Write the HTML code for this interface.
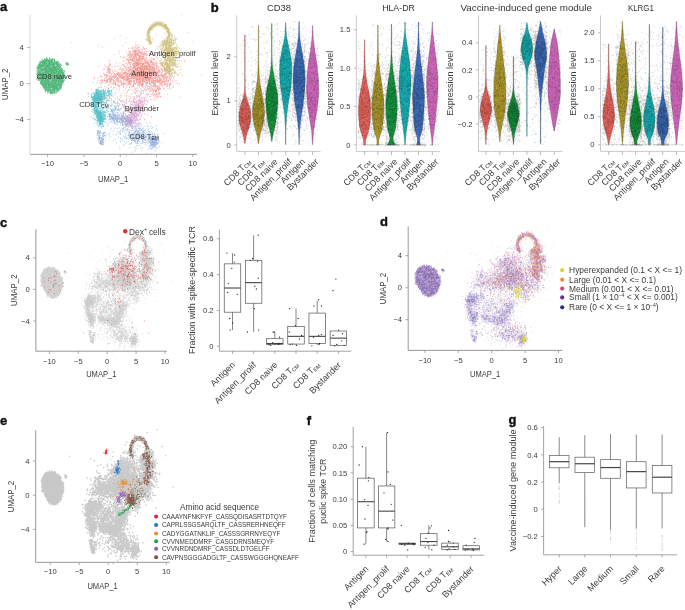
<!DOCTYPE html>
<html><head><meta charset="utf-8"><style>html,body{margin:0;padding:0;background:#fff;width:685px;height:610px;overflow:hidden}svg{display:block;will-change:transform}</style></head>
<body><svg width="685" height="610" viewBox="0 0 685 610" font-family='"Liberation Sans", sans-serif'><defs><path id="u_tem" d="M-46 66h0m168 54h0m-4 26h0m-16-21h0m-23-12h0m-10 22h0m-2-39h0m-2-5h0m-15 58h0m-2-2h0m-4-36h0m-12 14h0m-2 15h0m-2-22h0m-6 12h0m-2-10h0m-2-25h0m0 24h0m-3-3h0m-1-10h0m-1 28h0m-2-32h0m-4-8h0m-4 44h0m-8-14h0m-1 20h0m-1-57h0m0 23h0m-3 35h0m-1-20h0m0 4h0m-1 16h0m-1-6h0m-1 8h0m-1-5h0m0-35h0m-4-8h0m-1-9h0m-1 58h0m0-35h0m-2 36h0m-3-6h0m-4-2h0m0-11h0m0 7h0m-5 10h0m0-6h0m0-1h0m-2-8h0m-1-9h0m-7 25h0m-1 1h0m-2-8h0m-5-1h0m-3-23h0m-2 11h0m-12 9h0m-12-2h0m-2 5h0m-5-11h0m-3-3h0m-1 9h0m-2 7h0m-19-7h0m-17-25h0m-2 10h0m15 36h0m3 15h0m11-17h0m2 43h0m13-13h0m8-14h0m3 38h0m0-9h0m2-5h0m1-11h0m1-8h0m0-9h0m1 15h0m0-4h0m0-2h0m1-3h0m0 12h0m0 16h0m0-32h0m1 20h0m1 0h0m0 2h0m0 26h0m1-40h0m1 12h0m1-18h0m0 4h0m2 22h0m0 3h0m0-25h0m1 7h0m0-3h0m0 34h0m0-44h0m0 17h0m0-12h0m1 10h0m0-2h0m0 1h0m0 19h0m0-10h0m1 5h0m1-15h0m1 4h0m0 9h0m0 15h0m2-24h0m1 2h0m1-28h0m0 31h0m1-35h0m0 31h0m0 0h0m0 13h0m0-29h0m1 26h0m0-37h0m0 35h0m1-4h0m0 8h0m0-32h0m0 41h0m1-19h0m0-16h0m0-19h0m1 39h0m0-3h0m0 1h0m0-19h0m0 12h0m0 16h0m1 17h0m1-38h0m0 20h0m1-3h0m0-4h0m1 2h0m0-17h0m0 25h0m0-24h0m1-16h0m1 17h0m0 13h0m1-12h0m0 17h0m0-8h0m0-15h0m1 33h0m0-45h0m0 25h0m0-3h0m1 9h0m0-16h0m0 48h0m0-47h0m1-2h0m0 1h0m0 12h0m1 24h0m0-34h0m1 25h0m0-9h0m0-25h0m1 34h0m0-48h0m1 31h0m0-3h0m0-4h0m0 42h0m0-4h0m1 6h0m0-52h0m1 10h0m0-3h0m0-12h0m1 33h0m0-6h0m0 5h0m1-26h0m0 17h0m1-17h0m0 5h0m1 3h0m0 17h0m0-6h0m0 3h0m0 21h0m0-20h0m0-6h0m1-4h0m1 5h0m1 10h0m0-27h0m0 25h0m1 11h0m0-20h0m0 16h0m0-14h0m1 5h0m0 6h0m0 10h0m0-52h0m2 44h0m1-25h0m0 20h0m0-21h0m1 13h0m0-2h0m0 24h0m1-3h0m0-3h0m1 10h0m0-56h0m0 41h0m0-15h0m1 0h0m0-22h0m1 26h0m0 7h0m0 6h0m1-10h0m0-10h0m0 28h0m0-16h0m0-18h0m2-5h0m0 38h0m0 3h0m0-21h0m0 3h0m1-5h0m1-14h0m0-14h0m1 36h0m0 11h0m1-18h0m1-12h0m0-7h0m2 45h0m1-22h0m1 15h0m1-29h0m0 13h0m0-10h0m0 22h0m0 2h0m0 3h0m1-38h0m0 24h0m0-8h0m1 4h0m1-20h0m1 25h0m0 18h0m2-26h0m0 18h0m1-10h0m0 20h0m1-24h0m0 5h0m0-16h0m0-21h0m1 32h0m0 7h0m3-28h0m0 15h0m0 17h0m0 11h0m1-24h0m0-12h0m1 36h0m0-24h0m0 9h0m0 10h0m0-28h0m0-12h0m1 32h0m0 10h0m1-14h0m0-2h0m1 3h0m0-21h0m1 25h0m1-11h0m0-14h0m1 13h0m0-13h0m0 4h0m0 40h0m0-33h0m1 5h0m0 2h0m0 25h0m1-7h0m0-13h0m0 1h0m0 10h0m0-34h0m0 30h0m0-47h0m1 29h0m0 20h0m1-3h0m0 1h0m0-15h0m1-11h0m0 7h0m0-12h0m0 20h0m0 7h0m1 9h0m0-24h0m0 16h0m0-51h0m1 53h0m0-46h0m2 14h0m0 16h0m0-6h0m0 1h0m0-28h0m1 59h0m0-7h0m0-6h0m1-15h0m0-6h0m1 14h0m1-14h0m0 9h0m1 4h0m1 14h0m0-29h0m1 5h0m0 8h0m0 19h0m2-17h0m1 2h0m0 14h0m0-59h0m1 49h0m0-18h0m0 21h0m0-8h0m1-2h0m1 9h0m0-12h0m0-3h0m0-15h0m0 45h0m1-41h0m0 25h0m0 8h0m0 0h0m0-41h0m2 21h0m0 17h0m0-8h0m2-1h0m1 8h0m0-8h0m2 21h0m0-34h0m0 36h0m1-11h0m0 5h0m1-26h0m0-6h0m0 18h0m1 1h0m0-25h0m0 13h0m0 22h0m1-4h0m0-26h0m1 16h0m1 21h0m0-32h0m1 34h0m0-12h0m1-16h0m0-10h0m0 6h0m0 9h0m1 15h0m0-5h0m0 7h0m1-64h0m3 52h0m0-10h0m0 11h0m2-21h0m0 10h0m1 25h0m0-16h0m0 2h0m2 11h0m0-6h0m2 6h0m0-17h0m0-15h0m0 36h0m0-10h0m0 9h0m2-9h0m0-40h0m2 34h0m0 17h0m1-14h0m0-2h0m1 5h0m0-5h0m0-4h0m1 3h0m0-1h0m0-6h0m1-7h0m0 28h0m1-14h0m0-5h0m0 1h0m0 6h0m0 5h0m0-53h0m2 26h0m0 17h0m0-33h0m1 31h0m2 16h0m0-10h0m0-27h0m0 40h0m0-3h0m0-2h0m1-13h0m3-39h0m2 47h0m10-40h0m4 11h0m4-1h0m36 10h0m6 34h0m35-5h0m31 0h0m5-36h0m84 96h0m-38 1h0m-1 13h0m-1 5h0m-2-10h0m-1-5h0m-1-23h0m-1 39h0m-3-4h0m-2-58h0m0 13h0m-3 48h0m-1 1h0m-2-6h0m0 3h0m-3-15h0m-2-21h0m0 39h0m0-2h0m-2-20h0m-1 8h0m-1 10h0m0-9h0m-1-5h0m-1 7h0m-1 10h0m-3-3h0m0 0h0m-1 4h0m-2-3h0m-1 2h0m-1-54h0m0 42h0m-1-11h0m0 9h0m-2 14h0m-2-48h0m-1 27h0m0-41h0m-1 30h0m-6 26h0m0 1h0m-1-53h0m-2 38h0m0 18h0m-2-9h0m-2 12h0m-1-28h0m-3-3h0m-2-4h0m-2 0h0m-1 13h0m-1-12h0m0-13h0m-1 1h0m-3-20h0m0 7h0m-4 32h0m0 17h0m-2 3h0m0 2h0m-4-19h0m0 8h0m-3 14h0m0 2h0m-1-16h0m0 11h0m-1 4h0m0-18h0m0 18h0m-2-34h0m-1-28h0m-2 56h0m0-30h0m-1 25h0m-2-17h0m0-11h0m-1 36h0m-1-15h0m-1 19h0m-2-19h0m0-7h0m-1-6h0m-1 2h0m0 2h0m-1-22h0m0 11h0m-1 31h0m0-26h0m-1 2h0m-1-25h0m0 57h0m-1-42h0m-1 17h0m0-23h0m-1 34h0m-1 11h0m0-22h0m-1 16h0m-1 6h0m-1-11h0m0-50h0m-3 41h0m0-18h0m-1 35h0m0-33h0m-1 29h0m-1-32h0m0 35h0m0-30h0m-2 14h0m-1-17h0m0 40h0m0-14h0m0 3h0m-1-37h0m0 42h0m-1-45h0m0 0h0m-1-17h0m-1 30h0m0-22h0m0 30h0m-2 14h0m0-25h0m0 16h0m0-26h0m-1 28h0m0 4h0m0 14h0m-1 3h0m-1-47h0m-1 25h0m0 0h0m-1 0h0m-1 13h0m-1-19h0m-1-20h0m0-14h0m0 29h0m0 27h0m0 2h0m0-64h0m-1 70h0m0-25h0m0 15h0m-1 7h0m-1-10h0m0-22h0m0 17h0m0-8h0m-1-10h0m-1 23h0m-1 2h0m0-12h0m0-6h0m-2 28h0m0-29h0m-1-36h0m0 33h0m-1-27h0m0 52h0m-1-26h0m0 21h0m0-31h0m0 13h0m-1-21h0m-1 10h0m0 42h0m0-22h0m0 7h0m-1 15h0m-1-74h0m-1 36h0m-2 35h0m0-5h0m0-56h0m0 16h0m-1 18h0m0-23h0m-1 16h0m0-5h0m0 10h0m-1 27h0m0-27h0m0-1h0m-2 31h0m-1-20h0m0-7h0m-2-3h0m0-1h0m-2-15h0m0 19h0m-1 10h0m-2-6h0m-2-17h0m0 32h0m-2-11h0m-1 17h0m0-15h0m-1 15h0m-1-45h0m0 48h0m-1-12h0m0-24h0m-1-21h0m-1-7h0m0 49h0m0-6h0m-1-35h0m0 55h0m0-59h0m-1 13h0m-1 37h0m0-8h0m-1 6h0m0 0h0m-1 9h0m0-50h0m0-4h0m-1-11h0m-1 58h0m-2-18h0m-1-28h0m0 21h0m-1-31h0m-2 50h0m-1 2h0m-1-58h0m0 3h0m-1 2h0m-2 68h0m0-22h0m0-12h0m-1 22h0m-1-62h0m-1 70h0m0-23h0m-2-32h0m0 50h0m0-18h0m-1 3h0m0-1h0m0-16h0m-1 32h0m0-25h0m0 16h0m-1 1h0m-1-54h0m-1 60h0m-1-47h0m-1 44h0m-1-56h0m-1 60h0m-2-54h0m-2-8h0m0 23h0m-1 6h0m-1-25h0m-1 38h0m-2 29h0m-1-67h0m0 24h0m0-18h0m-3 20h0m-1 21h0m0-25h0m0-11h0m-1-12h0m-2 65h0m-1-70h0m0 57h0m-2-14h0m-2-24h0m-1 2h0m-1-16h0m-3 62h0m-1 1h0m0-43h0m-4 11h0m0-10h0m0-10h0m-1 8h0m0-20h0m-1-2h0m0 6h0m-2 23h0m0 2h0m-2 10h0m-2-42h0m-4 22h0m-5 11h0m-1 19h0m-1-49h0m0 40h0m-1-7h0m-1 20h0m-2-11h0m-2 0h0m-1-24h0m-5 33h0m-2 18h0m-5-33h0m-2-36h0m-2 21h0m-2 26h0m-3-49h0m-3 59h0m-14-35h0m-5 14h0m0 18h0m-15-35h0m-4 10h0m-3 39h0m-4-6h0m-2-15h0m-5-50h0m0 56h0m-14 3h0m-6-12h0m-1 25h0m-3-11h0m0 2h0m-1 1h0m-1-17h0m-2 0h0m0 16h0m-3-16h0m-1 2h0m0 10h0m0-14h0m-1 6h0m-1 17h0m0-2h0m-1-9h0m-1-2h0m-1 13h0m-1-6h0m-2 4h0m-3-16h0m-5 23h0m-4-30h0m0-32h0m-2 34h0m0-7h0m-3 24h0m-1-13h0m0 12h0m-1-13h0m-1 20h0m0 5h0m0-19h0m-1 13h0m0-20h0m0-14h0m-1 38h0m0-27h0m-1 9h0m-2-8h0m-1 19h0m0-22h0m-1 7h0m0-11h0m-1 27h0m-1-18h0m-1-11h0m0 23h0m-1-25h0m0 9h0m-2 29h0m0-32h0m0 10h0m-1 11h0m0-15h0m-1 5h0m0-13h0m-1 8h0m0 13h0m-3 0h0m-6-20h0m14 41h0m1-3h0m2 18h0m3-19h0m0 12h0m1-1h0m0-11h0m0 10h0m1-7h0m0 22h0m0 5h0m1-28h0m1-2h0m0-1h0m1 10h0m1 13h0m0-22h0m1 34h0m0-36h0m0 29h0m1 1h0m0-29h0m1 19h0m0 7h0m0-3h0m1-2h0m0-19h0m0 30h0m1 2h0m0-18h0m0-2h0m0 12h0m1-6h0m0-5h0m0 11h0m1-3h0m0-1h0m0 1h0m0 9h0m2-7h0m0-10h0m1 23h0m0-30h0m0 17h0m1-18h0m0 25h0m1-24h0m0 27h0m0-2h0m0-6h0m0 3h0m1 2h0m0-10h0m0-19h0m0-3h0m1 22h0m0 11h0m0 6h0m0-19h0m1 11h0m0-3h0m0-13h0m1 13h0m0-8h0m0 16h0m1-20h0m1-13h0m0-3h0m1 18h0m0-15h0m0 21h0m0-20h0m0 5h0m0 3h0m1 26h0m0-17h0m2 1h0m0-17h0m0 2h0m0 19h0m1-2h0m0 13h0m0-29h0m1 25h0m0-18h0m0-10h0m2 6h0m1-5h0m12 8h0m23-6h0m30 8h0m15-9h0m7 19h0m23 22h0m2 13h0m2-60h0m1 21h0m1-19h0m3 7h0m11 3h0m3 29h0m7-5h0m2-35h0m2 19h0m11-18h0m1 1h0m0 3h0m2 23h0m3-27h0m6 18h0m6-17h0m1-5h0m0 37h0m1-1h0m5 19h0m1-44h0m3-4h0m3 27h0m2 0h0m0-3h0m1-22h0m2 6h0m0 11h0m1-9h0m2-2h0m1 4h0m1-8h0m1-8h0m2-1h0m0 9h0m1-8h0m1 13h0m1-15h0m0 11h0m1-11h0m6 2h0m0 13h0m0-13h0m1 17h0m0-1h0m0 1h0m1-14h0m0-1h0m0 13h0m0 0h0m1-5h0m1 46h0m0-45h0m1 5h0m0-11h0m3 62h0m1-51h0m0-4h0m1 10h0m0 28h0m1-24h0m0 2h0m0-29h0m2 41h0m1-36h0m2-3h0m1 5h0m0-9h0m1 14h0m0 45h0m0-26h0m1-20h0m0 11h0m1-21h0m2 5h0m1 21h0m0-8h0m0-3h0m0 13h0m0 13h0m2-39h0m1 26h0m2-15h0m0-3h0m1 8h0m1-1h0m0-17h0m0 8h0m1-11h0m2 9h0m0-9h0m2 42h0m1-42h0m0 8h0m1 2h0m1 13h0m1-10h0m1-13h0m5 59h0m1-30h0m0 5h0m6 38h0m1-58h0m0-8h0m3 6h0m0-4h0m0-2h0m1 22h0m0-16h0m0 2h0m1-13h0m0 13h0m1 7h0m0 36h0m0-26h0m0-4h0m1-17h0m1 8h0m1-17h0m1 3h0m1 3h0m2-1h0m1 21h0m1-13h0m1-12h0m1 9h0m2-3h0m1 19h0m2 10h0m1-23h0m1 0h0m0 13h0m2-26h0m0 11h0m3-12h0m0 29h0m0-11h0m3 25h0m2-33h0m3 21h0m3-14h0m1 49h0m0-59h0m1 7h0m2 11h0m0-18h0m0 7h0m2 9h0m1-13h0m1 48h0m1-11h0m0-24h0m0-14h0m1-9h0m1 27h0m1-17h0m1 14h0m1 1h0m0-13h0m1-12h0m0 30h0m0-3h0m0-11h0m1-4h0m0 42h0m0-9h0m1-4h0m0 10h0m1-11h0m0-27h0m0 33h0m0-33h0m1 14h0m0-18h0m0 20h0m0-16h0m1 49h0m0-50h0m1-8h0m0 9h0m0 20h0m0-8h0m1 5h0m0 1h0m0-4h0m0-26h0m0 36h0m0-32h0m1-5h0m0 3h0m0 65h0m1-42h0m0-2h0m0-21h0m1 8h0m0 32h0m0-42h0m0 59h0m0-38h0m1 12h0m0-24h0m0 32h0m0-27h0m1-12h0m0 26h0m0-14h0m0 22h0m0-28h0m1 4h0m0 45h0m0-43h0m0 6h0m0 20h0m1-24h0m0 14h0m0-27h0m0 35h0m0-9h0m0-13h0m0 26h0m1-18h0m0-17h0m0 18h0m0 10h0m0-29h0m0 10h0m1 32h0m0-29h0m1 5h0m0-4h0m0 20h0m0 2h0m0 17h0m0-31h0m0-10h0m1 22h0m0-22h0m0 8h0m0-11h0m0 32h0m0-22h0m0-19h0m0 9h0m1 0h0m0 6h0m0 3h0m0-11h0m1 25h0m0-14h0m0-18h0m0 29h0m0 16h0m1-33h0m0 8h0m0-7h0m0 14h0m0-11h0m0-17h0m0 24h0m0-20h0m1 7h0m0 2h0m0 20h0m1-26h0m0 15h0m0 1h0m0-19h0m0 1h0m0 26h0m0-7h0m0-6h0m1 7h0m0-28h0m0 30h0m0 0h0m0 5h0m0-14h0m0 3h0m1 19h0m0-39h0m0 21h0m0 13h0m0 14h0m0-26h0m0 6h0m1 2h0m0-10h0m0 11h0m0-5h0m0-24h0m0 22h0m1 4h0m0-5h0m1 23h0m0-48h0m0 64h0m0-41h0m0 21h0m0-24h0m0 13h0m1-37h0m0 6h0m0 37h0m0-39h0m1-2h0m0 22h0m0 6h0m0 0h0m0-17h0m0 11h0m0-7h0m0 23h0m0-5h0m0 1h0m1-17h0m0 24h0m0-31h0m0 14h0m1 9h0m0-24h0m0 20h0m0-1h0m0-26h0m0 37h0m0-32h0m1 1h0m0 35h0m0-40h0m0 19h0m0-15h0m0-7h0m1 9h0m0 34h0m0-18h0m0 21h0m0-23h0m1 4h0m0-5h0m0 0h0m0-9h0m1-5h0m0 41h0m0-26h0m0 3h0m0 5h0m1-19h0m1-9h0m0-1h0m0 7h0m0 37h0m0-8h0m1 1h0m0-31h0m0 18h0m0-13h0m1 14h0m0-1h0m0-15h0m0-13h0m1 58h0m0-36h0m0-6h0m0 57h0m1-55h0m0-8h0m0 1h0m0 46h0m0-21h0m1 1h0m0 1h0m0-30h0m0 19h0m1-7h0m0 6h0m0 7h0m1-15h0m0 3h0m0 3h0m1 10h0m1-20h0m0-15h0m1 33h0m1-16h0m1 20h0m0-6h0m0-18h0m0 20h0m2 1h0m1-32h0m0 18h0m1 9h0m0 30h0m1-32h0m2-21h0m1 7h0m2 17h0m1-13h0m0-1h0m5 7h0m0 25h0m13-18h0m-103 60h0m-79-15h0m-22 5h0m-37 20h0" vector-effect="non-scaling-stroke" stroke-linecap="round" fill="none"/>
<path id="u_tcm" d="M-187 -7h0m-36 61h0m7 1h0m0 18h0m16-9h0m2 7h0m1-39h0m1 28h0m2-4h0m1 8h0m0 8h0m7 0h0m1-21h0m1 20h0m4-16h0m0-5h0m0 20h0m1 4h0m0-13h0m0-1h0m0 14h0m1-5h0m1 2h0m1 3h0m0-4h0m0-4h0m0-2h0m1-1h0m0-1h0m0 12h0m1-6h0m0-5h0m0-4h0m1 7h0m1-12h0m1 2h0m0 18h0m0-26h0m1 16h0m1 5h0m0 2h0m0-37h0m0 33h0m1 2h0m0 4h0m1-17h0m0 5h0m1-18h0m0 6h0m0 16h0m0-17h0m0-1h0m1-9h0m0 9h0m0 14h0m0 8h0m0-30h0m0 31h0m1-10h0m0-3h0m0 3h0m0-25h0m1 8h0m0 10h0m0 1h0m0 17h0m0-23h0m1-16h0m0 10h0m1 19h0m0-7h0m0 11h0m0-4h0m0 2h0m0-11h0m0-8h0m1-11h0m0 38h0m0-4h0m0 3h0m0-17h0m0 18h0m1-32h0m0 13h0m1-20h0m0 22h0m0-5h0m0-3h0m1 6h0m1 9h0m1 9h0m0-30h0m0 26h0m1-13h0m0-4h0m0 21h0m0-27h0m0-19h0m1 34h0m0 9h0m0-17h0m0 10h0m1-2h0m1-4h0m0 8h0m0 9h0m0-9h0m0-8h0m1 15h0m0 4h0m1-10h0m0-1h0m0 0h0m0-9h0m0 8h0m1-18h0m0 8h0m0 2h0m0 17h0m0 3h0m0-37h0m0 31h0m0 5h0m0-4h0m1-33h0m0 2h0m0 24h0m0-16h0m0 15h0m0 14h0m1-9h0m0 9h0m0-8h0m0-11h0m0-32h0m1 18h0m0 26h0m0-21h0m1 19h0m0-21h0m0 29h0m1 1h0m1-22h0m0 19h0m1-14h0m0 10h0m0-23h0m1 11h0m0 11h0m0 5h0m0-3h0m0-7h0m1-5h0m0 11h0m0-11h0m0-14h0m0 22h0m1-46h0m0 37h0m0-4h0m0 21h0m0-1h0m1 3h0m0-25h0m0 9h0m0-11h0m1 26h0m0 1h0m2-5h0m0-7h0m0-20h0m1 2h0m0-1h0m1 7h0m0 12h0m0-3h0m0 11h0m1-4h0m0 5h0m0-36h0m0 23h0m0-20h0m1 27h0m0-19h0m1 15h0m0-20h0m1 18h0m0 10h0m0-19h0m0-29h0m1 30h0m0 21h0m1 2h0m0-23h0m0 20h0m0-2h0m0 4h0m1-2h0m0-14h0m0-20h0m1 16h0m0 15h0m0-6h0m0 0h0m2-4h0m0 14h0m1-31h0m1 18h0m2-9h0m1 8h0m1-7h0m0-14h0m0 21h0m0 6h0m0-22h0m1-1h0m0 27h0m0-24h0m0-12h0m1 26h0m0-1h0m1-17h0m0-3h0m1 36h0m0-20h0m1-4h0m0 4h0m1 9h0m0 6h0m0 6h0m1-33h0m0 19h0m0 1h0m1 4h0m0-9h0m1-7h0m0 24h0m0-7h0m1-49h0m1 53h0m1-12h0m0-11h0m1-16h0m0 13h0m0 19h0m1-15h0m1 1h0m0-10h0m3 20h0m0-2h0m2 12h0m0-3h0m2-10h0m2-5h0m5-6h0m0-7h0m2 31h0m0-18h0m1-23h0m0 17h0m0-6h0m1 27h0m0-4h0m0-12h0m0-11h0m1 28h0m1-19h0m0 11h0m2 1h0m0 4h0m0-4h0m1-24h0m0 5h0m0-10h0m1 10h0m0 7h0m1 22h0m0-10h0m1 1h0m1-8h0m0-12h0m0 12h0m0 17h0m3-23h0m1-3h0m0 17h0m0-18h0m1 12h0m1-35h0m3 35h0m0 8h0m1-8h0m1-16h0m1 27h0m1 2h0m0-49h0m1 17h0m1 12h0m1 16h0m0-18h0m3 10h0m12-33h0m51 46h0m19 31h0m-40 47h0m-4-26h0m-9 7h0m-10-22h0m-1 40h0m-2-38h0m-2-7h0m-3 46h0m-4-46h0m-9 11h0m-1 35h0m0-25h0m-2-37h0m0 64h0m-3-8h0m-1 4h0m-4-21h0m-2-1h0m-3-45h0m-3-2h0m-1 17h0m0 2h0m-5 33h0m-1-39h0m-7 16h0m0-7h0m0 22h0m-1-40h0m-1 69h0m-3-53h0m0 9h0m-1 5h0m-1-18h0m-1 40h0m0-22h0m-1-34h0m0 7h0m-2-5h0m-2 5h0m-1 22h0m0 13h0m-1-6h0m-1-30h0m-1 7h0m-1-14h0m-2 32h0m-1-5h0m-2-23h0m0-2h0m0 60h0m0-23h0m-1-17h0m-1 21h0m0 2h0m-1-16h0m0-18h0m0 55h0m-1-53h0m-1 10h0m-1-14h0m0 6h0m-2-4h0m0 20h0m-1-20h0m0-2h0m0 63h0m-1-32h0m0 20h0m0 6h0m0-21h0m-1-15h0m0-8h0m0-9h0m0-5h0m0 0h0m-1-8h0m0 2h0m0 27h0m0-4h0m0 36h0m-1-45h0m0-4h0m0 8h0m0 37h0m-1-55h0m0 36h0m0-1h0m0 13h0m-1-27h0m0-6h0m0-11h0m0-1h0m-1 24h0m0 18h0m-1-43h0m0 68h0m-1-30h0m0-27h0m-1 21h0m0-23h0m0-6h0m0 11h0m0 17h0m0-23h0m0-1h0m0 37h0m-1-39h0m0 10h0m0 10h0m0-1h0m-1-26h0m0 15h0m0 0h0m0 4h0m0-8h0m0-13h0m0 3h0m-1 1h0m0 6h0m0 10h0m0 0h0m-1-10h0m0 6h0m0 7h0m0-7h0m-1-16h0m0 8h0m0 0h0m0 2h0m0-8h0m0 15h0m-1-8h0m0 8h0m0-16h0m0 65h0m0-2h0m0 10h0m-1-42h0m0-20h0m0 44h0m-1-41h0m0-12h0m0 70h0m-1-68h0m0 6h0m0 63h0m-1-54h0m0-6h0m-1-12h0m0 15h0m0 0h0m0-5h0m0-8h0m0 14h0m0-13h0m0 28h0m0 2h0m-1-24h0m0-5h0m0 10h0m0 1h0m0 0h0m-1-10h0m0 17h0m0-22h0m0 9h0m0 21h0m0-18h0m0-1h0m0 7h0m-1-12h0m0 8h0m0-16h0m0 14h0m0 46h0m-1-30h0m0-23h0m0 50h0m-1-24h0m0-18h0m0-8h0m0 4h0m0 19h0m0-14h0m0-14h0m0 69h0m0-63h0m-1 1h0m0-6h0m0 41h0m-1-31h0m0 22h0m0 10h0m0-30h0m0 4h0m-1-18h0m0 4h0m0 36h0m0-38h0m0 1h0m0 7h0m0 18h0m0 24h0m0 6h0m0 6h0m0-55h0m0 44h0m-1-34h0m0-16h0m0 9h0m0 2h0m0-11h0m0 0h0m0 7h0m0-6h0m0 20h0m-1-6h0m0 1h0m0-8h0m0-6h0m0 8h0m0 39h0m0-32h0m-1-2h0m0-3h0m0 20h0m-1-31h0m0 15h0m0 21h0m0 30h0m0-50h0m0 13h0m-1-32h0m0 48h0m0 20h0m-1-69h0m0 32h0m0-30h0m0 68h0m0-3h0m0-16h0m0 12h0m0-55h0m-1 20h0m0-17h0m-1-1h0m0 27h0m0 36h0m-1-63h0m0 28h0m0-16h0m0 2h0m0 28h0m-1-53h0m0 8h0m0 5h0m0 36h0m0-37h0m0 20h0m0 24h0m0-22h0m0 32h0m0 5h0m0-1h0m-1-57h0m0-5h0m0-2h0m0 24h0m0 29h0m0 15h0m0-34h0m-1-37h0m0 4h0m0 3h0m0 59h0m0-52h0m-1 18h0m0-8h0m0-9h0m0 13h0m0-13h0m0 20h0m0-24h0m0 20h0m0-13h0m-1 14h0m0 19h0m0 15h0m0-62h0m0-1h0m0 10h0m0 27h0m0 23h0m0 3h0m0-35h0m-1-24h0m0-4h0m0 14h0m0 40h0m0 6h0m0-59h0m0 38h0m0-33h0m0 38h0m-1-11h0m0-37h0m0 11h0m0-2h0m0 34h0m0 25h0m0-15h0m0-48h0m-1 2h0m0-8h0m0 32h0m0-18h0m0-1h0m0 60h0m0-12h0m0-55h0m0 13h0m0 40h0m0-30h0m-1-26h0m0 0h0m0 19h0m0 28h0m0-22h0m0 45h0m0-17h0m0-50h0m-1-3h0m0 6h0m0 1h0m0-11h0m0 12h0m0 21h0m0-16h0m0 36h0m0-8h0m0-18h0m0 28h0m0 0h0m0-38h0m0-12h0m-1 53h0m0-54h0m0 1h0m0 1h0m0 36h0m0-34h0m0 19h0m0-1h0m-1-4h0m0-19h0m0 3h0m0 9h0m0 3h0m0 20h0m0 16h0m0 17h0m0 3h0m0-39h0m0 21h0m-1-37h0m0 31h0m0 5h0m0 5h0m0-47h0m-1-1h0m0-10h0m0 27h0m0-6h0m0-6h0m0-12h0m0 37h0m0 6h0m0-32h0m-1-11h0m0 20h0m0 7h0m0 0h0m0-11h0m0 3h0m0 37h0m-1-46h0m0 58h0m0-25h0m0 17h0m0-21h0m0 21h0m0-6h0m-1-54h0m0 0h0m0 13h0m0 32h0m0-10h0m0-27h0m0 15h0m-1 17h0m0-22h0m0-8h0m0-2h0m0-8h0m0 3h0m0 22h0m-1-21h0m0 8h0m0 55h0m0-23h0m0-44h0m-1 18h0m0-8h0m0-13h0m0 11h0m0-11h0m0 67h0m0-54h0m0 12h0m0 21h0m-1-33h0m0 36h0m0-42h0m0 5h0m-1-4h0m0 4h0m0 37h0m0-13h0m-1-18h0m0-19h0m0 61h0m0-57h0m0 57h0m0-50h0m0-6h0m-1 34h0m0-7h0m0 0h0m0 40h0m-1-23h0m0-28h0m-1-6h0m0 12h0m-1-17h0m0 54h0m0-26h0m0-13h0m-1-17h0m0-6h0m0 2h0m0 10h0m-1-12h0m0 46h0m-1-40h0m0 9h0m-1 27h0m-2-14h0m-1-31h0m0 36h0m0 35h0m-1-24h0m-3-46h0m-1 1h0m0 42h0m0-34h0m-1 22h0m-5 12h0m-2-13h0m-13-9h0m23 90h0m4-32h0m5 6h0m1 33h0m6-22h0m0 10h0m1-30h0m1 44h0m1-1h0m0-42h0m0 12h0m2 54h0m2-66h0m0-2h0m0 14h0m1 34h0m0-37h0m0-1h0m1 40h0m0-41h0m0 13h0m0-17h0m1 3h0m0 10h0m1-5h0m1-6h0m1 45h0m0-39h0m0-7h0m2-4h0m0 17h0m0 18h0m1-4h0m0-7h0m0-15h0m0-7h0m0 0h0m1 9h0m0 20h0m0-31h0m1 5h0m1-8h0m0 3h0m1 18h0m0 22h0m0-18h0m0-25h0m0 22h0m0 51h0m1-21h0m0-37h0m0 13h0m0-28h0m1 57h0m0-3h0m0 20h0m0-10h0m0-38h0m0-20h0m0 3h0m0 4h0m0 3h0m0 18h0m1-25h0m0 3h0m0 32h0m0-3h0m1-30h0m0 17h0m0-3h0m1 8h0m0-29h0m0 7h0m0 3h0m0 17h0m0-9h0m1 35h0m0-7h0m0-33h0m0 21h0m0-23h0m0-11h0m0 12h0m1 39h0m0-12h0m0 12h0m0-48h0m0-5h0m0 21h0m0-22h0m1 1h0m0 32h0m0-5h0m0-11h0m0 16h0m1-18h0m0 8h0m0-9h0m0 47h0m0-38h0m1 11h0m0 7h0m0-5h0m0-22h0m0-4h0m0 6h0m0 3h0m1 20h0m0-14h0m0 14h0m0-29h0m0 8h0m0 7h0m0-1h0m0-11h0m0 34h0m0 0h0m0-23h0m0-3h0m1 17h0m0-26h0m0 34h0m0-35h0m0-6h0m1 0h0m0 57h0m0-20h0m0-33h0m0 4h0m0 2h0m0-14h0m0 2h0m1 41h0m0-31h0m0 27h0m0 2h0m0 11h0m0-23h0m0-14h0m0 6h0m0 0h0m0-13h0m1 2h0m0 17h0m0-17h0m0 19h0m0-17h0m0 6h0m0-10h0m1 22h0m0 8h0m0 12h0m0-41h0m0 42h0m0-27h0m0-6h0m1 38h0m0-3h0m0-26h0m0 35h0m0-13h0m0 15h0m0-59h0m0 31h0m0 1h0m0-23h0m0 20h0m0-28h0m0 8h0m1 34h0m0-4h0m0 14h0m0-2h0m0-46h0m0 10h0m0 30h0m0 2h0m0 2h0m1 10h0m0-24h0m0-9h0m0 12h0m0-4h0m0-23h0m0-11h0m0 33h0m0-2h0m0 17h0m0-5h0m0 13h0m0-44h0m0 0h0m0 15h0m0-2h0m1 41h0m0-21h0m0-17h0m0 1h0m0-10h0m1-5h0m0 6h0m0-2h0m0 28h0m0 16h0m0-31h0m0-15h0m0 24h0m0-46h0m0 45h0m0-12h0m0 24h0m0-36h0m1-6h0m0 4h0m0 41h0m0-49h0m0 1h0m1 44h0m0-39h0m0 54h0m0-47h0m0 43h0m0 3h0m0-19h0m1 7h0m0-13h0m0 20h0m0-5h0m0-8h0m0-13h0m0 18h0m0-27h0m0 42h0m0-24h0m1-37h0m0 25h0m0 5h0m0-6h0m0-29h0m0 46h0m0-1h0m0-34h0m0 30h0m0-29h0m0 26h0m0 1h0m0 8h0m0-18h0m0-27h0m0-2h0m1 34h0m0 2h0m0-1h0m0-6h0m0 2h0m0-22h0m0 35h0m0-19h0m1 28h0m0-31h0m0 4h0m0-18h0m0 34h0m0 4h0m0-19h0m0-6h0m0 46h0m0-7h0m0-26h0m0-11h0m0-14h0m1-3h0m0 41h0m0 1h0m0 9h0m0-63h0m1 42h0m0-2h0m0-21h0m0 45h0m0-30h0m0-6h0m0 37h0m0-51h0m1 36h0m0-6h0m0 29h0m0-2h0m0-52h0m1 20h0m0-23h0m0 37h0m0-1h0m0-27h0m0 37h0m0-30h0m0 2h0m0 6h0m0-26h0m0-4h0m0 28h0m0-30h0m1 53h0m0-52h0m1 9h0m0 30h0m0-19h0m0-1h0m0-1h0m0-10h0m0 25h0m0-41h0m1 52h0m0-14h0m0-2h0m0-15h0m0 13h0m1-25h0m0 13h0m0 6h0m0 6h0m0-19h0m1 41h0m0 4h0m0 7h0m0-28h0m1-4h0m0-3h0m0 5h0m0 12h0m0-26h0m0 8h0m0-21h0m0 5h0m1 38h0m0-11h0m1-8h0m0 14h0m1-15h0m0 5h0m0 20h0m0-12h0m0 16h0m0-11h0m1-48h0m0 35h0m0-18h0m1 25h0m0 26h0m0-23h0m0 12h0m1-38h0m0 13h0m0 22h0m1-10h0m0 12h0m0-38h0m0 2h0m1 9h0m0 20h0m0-5h0m0-3h0m1-2h0m0-12h0m1 19h0m0-9h0m0-27h0m0-9h0m1 39h0m0 16h0m0 0h0m0-52h0m1 1h0m1 0h0m0-1h0m0-5h0m0 20h0m1 6h0m0-17h0m1 19h0m0 18h0m1-5h0m0-35h0m0 20h0m1 15h0m0-26h0m1 4h0m1-16h0m0 38h0m0-7h0m0 23h0m1-32h0m1-20h0m0 33h0m0-18h0m1 39h0m0-33h0m2-8h0m2 26h0m4-36h0m4 59h0m1-70h0m1 31h0m1-24h0m5 14h0m3-17h0m1 26h0m13-27h0m6 0h0m8-4h0m1 7h0m2 13h0m4 33h0m3 10h0m63-46h0m-112 66h0m-25 6h0m-3-7h0m-1 5h0m0 0h0m-1-6h0m-2-6h0m-2 4h0m-3 19h0m-5-20h0m0 12h0m0-12h0m-3-2h0m-4 1h0m-1 1h0m0-3h0m-2 10h0m0-10h0m-3 5h0m-1-4h0m-5 14h0m-2-7h0" vector-effect="non-scaling-stroke" stroke-linecap="round" fill="none"/>
<path id="u_bystander" d="M203 -1h0m-21-15h0m-104 77h0m10-7h0m2-13h0m27 32h0m8-4h0m0-5h0m2-25h0m4 33h0m3-4h0m1 6h0m5-8h0m1-5h0m1-13h0m2 5h0m2 3h0m0-4h0m1-20h0m5 9h0m8 16h0m2-8h0m7-21h0m7 8h0m2-1h0m0-18h0m6 44h0m1-47h0m2 56h0m4-6h0m17 25h0m-13-3h0m-4 15h0m-5-3h0m-6 18h0m-1-23h0m-1 0h0m-2-18h0m-1 0h0m0 12h0m-2-9h0m-3 31h0m-1 30h0m-2-47h0m-1 24h0m0 32h0m-1-4h0m0-61h0m0 8h0m-1 7h0m-2 24h0m0-25h0m-2 19h0m0 12h0m0-27h0m-2-24h0m-1 1h0m0 51h0m-1-5h0m0-24h0m0 27h0m0-10h0m-1-8h0m0-28h0m-2 55h0m0-16h0m0-13h0m0 8h0m0-12h0m-1 10h0m-1-23h0m0 53h0m-1-38h0m-1-30h0m-1 41h0m0-16h0m-1 26h0m0-20h0m-1-1h0m-1-4h0m0-15h0m0 10h0m0 4h0m-1 21h0m-1-10h0m0 20h0m-2-11h0m-1-14h0m0-11h0m0 13h0m0 19h0m0 19h0m-1-10h0m0 10h0m0-14h0m-1 9h0m0-14h0m0-36h0m0-8h0m0 19h0m0 35h0m-1-20h0m-1 21h0m0-63h0m0 23h0m0-23h0m0 68h0m-1-37h0m0-13h0m0 16h0m-1 16h0m0 3h0m0-18h0m-1 20h0m0 8h0m-1-45h0m0 44h0m0-52h0m0 10h0m0-7h0m0 9h0m-1 52h0m0-13h0m0 2h0m-1-42h0m0 33h0m0-32h0m0 12h0m0 38h0m0-4h0m0-31h0m-1-15h0m-1 43h0m-1-1h0m0-13h0m0 16h0m0 5h0m0-45h0m0 17h0m-1-20h0m0 26h0m0-26h0m-1 28h0m0 11h0m0-30h0m0-12h0m0 18h0m-1-33h0m0 33h0m0 0h0m0-1h0m-1 1h0m0-2h0m0 12h0m-1-5h0m-1 12h0m0 3h0m-1-17h0m0-27h0m-1 45h0m-1 5h0m0-37h0m0 16h0m0 30h0m-1-16h0m0-9h0m-1 15h0m0-28h0m0-36h0m-1 74h0m0 0h0m0-9h0m0 1h0m0-14h0m-1 22h0m-1-41h0m0 16h0m0-25h0m0 24h0m0-25h0m0 38h0m0 3h0m-1-18h0m0-23h0m0 9h0m-1-32h0m0 47h0m0-1h0m0-10h0m0 10h0m0 16h0m-1-30h0m0 29h0m0-16h0m-1 26h0m0-24h0m0-6h0m0 10h0m-1-44h0m0 43h0m-1-37h0m-1 27h0m0 30h0m-1-27h0m0 13h0m0 3h0m0-6h0m-1 21h0m0-9h0m0-7h0m0-20h0m0-9h0m-1 1h0m0 30h0m0 8h0m-1-43h0m0 44h0m-2-23h0m0-15h0m-1-1h0m-1-24h0m-2 7h0m0 54h0m-1 6h0m0-32h0m-1 21h0m0-3h0m0 13h0m-1-52h0m-1-3h0m0 40h0m0-11h0m-2 25h0m-1-1h0m-1-6h0m-1-48h0m-1 53h0m0-23h0m0 28h0m-3-36h0m0 3h0m0 21h0m-1 10h0m0-1h0m-1-46h0m-4 45h0m0-8h0m0-6h0m0 13h0m-1-5h0m-1-22h0m0 1h0m-2 14h0m-2-12h0m0 22h0m0 4h0m-1-19h0m0 2h0m-3 14h0m-1-1h0m-1 4h0m-1-61h0m-2 53h0m0-10h0m-3 8h0m-2 10h0m-18-8h0m-1 9h0m0-47h0m-24 76h0m2 26h0m7-37h0m1 21h0m4 31h0m3-65h0m0 14h0m1 27h0m2 31h0m1-14h0m2-9h0m0 20h0m1-68h0m0 3h0m1 38h0m1 12h0m1-20h0m0-28h0m0 50h0m3-30h0m0 33h0m0-10h0m0-12h0m2-9h0m1 0h0m1 22h0m0 1h0m2-6h0m0-17h0m0 41h0m1-39h0m1 29h0m0-19h0m0 30h0m1-34h0m0 11h0m0-17h0m0 24h0m1-53h0m0 25h0m1 37h0m1-43h0m0 15h0m0 37h0m0-9h0m0-18h0m1-40h0m0 22h0m0 6h0m1 5h0m1-35h0m0 45h0m0 21h0m1-10h0m0-9h0m0-9h0m1 11h0m0-43h0m0 32h0m0 14h0m1-32h0m0 5h0m1 8h0m0 8h0m0-8h0m0 24h0m0-23h0m1-13h0m0-4h0m0 45h0m1-63h0m0 37h0m0-32h0m1-7h0m0 8h0m0 44h0m0 9h0m1-38h0m0 35h0m1-46h0m0 39h0m0 6h0m0-3h0m1 18h0m0-26h0m0 15h0m2-52h0m0 24h0m0 17h0m0 14h0m1-24h0m0-2h0m0 6h0m0 2h0m0-7h0m0 1h0m2-33h0m0 14h0m0 17h0m1-20h0m0-20h0m0 52h0m0-5h0m0 20h0m1-46h0m0-17h0m0 15h0m0 19h0m0 26h0m1-41h0m0 33h0m1 5h0m0-18h0m0-28h0m0 1h0m0 54h0m0-8h0m0 6h0m1-59h0m0 31h0m0-12h0m0-21h0m0 56h0m1-10h0m0-14h0m0 11h0m0 10h0m0-59h0m0 49h0m1 8h0m0-44h0m0 21h0m1 12h0m0-13h0m0 28h0m1-46h0m0 54h0m0-57h0m1 22h0m0-8h0m0-2h0m0 30h0m1-8h0m0 9h0m0 11h0m1-55h0m0 13h0m1 8h0m0 32h0m0-58h0m0 56h0m0 2h0m1-42h0m0 18h0m0 29h0m0-50h0m0 37h0m1-34h0m0-1h0m0 4h0m0 25h0m1-42h0m0 40h0m1-15h0m0-6h0m0 38h0m0 0h0m0 1h0m1-41h0m0 19h0m0 19h0m0-36h0m0 16h0m0-6h0m0-21h0m1 32h0m0-29h0m0 24h0m0-16h0m0-19h0m0 64h0m1-29h0m0 7h0m0-50h0m0 53h0m0-24h0m0-5h0m0 30h0m1-44h0m0 26h0m0-2h0m0-19h0m0 48h0m1-42h0m0 31h0m0-50h0m0 12h0m0 41h0m1-49h0m0 47h0m0-46h0m0 37h0m1-41h0m0 37h0m0 0h0m1-21h0m0 20h0m0-30h0m0 26h0m0 30h0m0-4h0m1-32h0m0-6h0m0 3h0m0 24h0m2-47h0m0 13h0m0 22h0m1-29h0m0 44h0m0-29h0m0 48h0m0-22h0m1-11h0m0-39h0m0 15h0m0 20h0m0 20h0m1-22h0m1-18h0m0-1h0m0 5h0m0-11h0m0 6h0m0 46h0m1-54h0m0 26h0m0 33h0m0 2h0m1-15h0m0-2h0m0-51h0m0 41h0m0 23h0m1-27h0m0-35h0m0 1h0m0 27h0m0-27h0m0 14h0m1 14h0m0 8h0m0-31h0m0 28h0m0 2h0m0 11h0m0 25h0m1-28h0m0 0h0m0-10h0m1 17h0m0-32h0m1 9h0m0-5h0m0-8h0m0 20h0m0-18h0m0 33h0m1-45h0m1 32h0m0-32h0m0 13h0m0-7h0m0 32h0m1-16h0m0 25h0m0-2h0m1-47h0m1-5h0m1 27h0m0-23h0m0 29h0m0-12h0m1 28h0m1-28h0m1 7h0m0 43h0m1 3h0m0-56h0m0 10h0m0-1h0m1-24h0m0 50h0m1-48h0m0-1h0m0 54h0m1-35h0m0 45h0m1-62h0m1 22h0m0-13h0m1 12h0m0-25h0m1 25h0m1 45h0m0-21h0m1-41h0m0-9h0m0 13h0m0 3h0m0 30h0m1-40h0m0-1h0m1 6h0m0-11h0m1-1h0m2 70h0m0-70h0m0 6h0m2 0h0m0 8h0m0 21h0m1 15h0m0-44h0m1 3h0m2 44h0m1-29h0m1 7h0m2-7h0m1 0h0m6-6h0m1-12h0m4 0h0m4 39h0m1-40h0m2 14h0m4 2h0m0 29h0m-44 46h0m-2-21h0m-1 8h0m-8-8h0m-8 14h0m-1-4h0m-1 4h0m-5 0h0m-2-2h0m0-11h0m-2 0h0m0 17h0m-1-6h0m-4 4h0m-4 8h0m-5 10h0m0-30h0m0 7h0m0-7h0m-5 0h0m-4 0h0m-2 60h0m0-64h0m0 6h0m-1 3h0m-3 4h0m-1-4h0m-4 24h0m-1-19h0m-2-6h0m-4-8h0m-1 30h0m-1-18h0m-2 23h0m-6-28h0m-1-7h0m0 2h0m-5 11h0m-1-11h0m-3 6h0m-3 31h0m-5-37h0m-13 1h0" vector-effect="non-scaling-stroke" stroke-linecap="round" fill="none"/>
<path id="u_antigen" d="M-333 -228h0m292-20h0m41-18h0m39 40h0m5-27h0m63 23h0m116-18h0m84-32h0m57 24h0m-27 51h0m-20 18h0m-46 32h0m-25 4h0m-7-7h0m-18-21h0m-10 18h0m-4-21h0m-2 21h0m-3-5h0m-9-12h0m-6 20h0m-2-8h0m-1-13h0m-3-17h0m0 35h0m0-19h0m-1 14h0m-1 10h0m-4-7h0m-2 6h0m-2-17h0m-1 11h0m0 3h0m-1-31h0m0 24h0m-1-3h0m0-25h0m-1 17h0m-1-16h0m-2 31h0m-1 5h0m0-13h0m-2 19h0m0-48h0m-1 37h0m-1 1h0m-1-3h0m0-4h0m0 14h0m-1-36h0m0-1h0m-1-13h0m-1 54h0m-1-16h0m0-11h0m-2 27h0m-2-16h0m0-6h0m-1 10h0m-2 10h0m0-11h0m0 12h0m-2-11h0m0-26h0m-1 13h0m0 4h0m-1 17h0m-2-20h0m0 21h0m-1-14h0m0-6h0m-1 8h0m-1 11h0m-1-37h0m-1 17h0m-1-1h0m-1 25h0m-1-4h0m0-47h0m0 51h0m-1-26h0m0 2h0m-1 21h0m-1-31h0m0 32h0m0-15h0m0-46h0m-1 13h0m0 21h0m0 21h0m0-26h0m-1 12h0m-2 15h0m0-20h0m0 12h0m0 3h0m0-19h0m-1 21h0m0-28h0m-1-9h0m-2 43h0m0-13h0m-1 9h0m0-53h0m0 55h0m0-6h0m-1-38h0m0 34h0m0-3h0m-1 15h0m0-33h0m-1 16h0m0 12h0m0-41h0m0 32h0m0-17h0m-1-8h0m0 33h0m0-8h0m-2-1h0m-1-25h0m-1 17h0m0 14h0m0-1h0m-2 12h0m0-56h0m0 24h0m-1 7h0m0 27h0m-1-6h0m0-25h0m0 13h0m-1-10h0m0 23h0m-1 5h0m0-24h0m0-4h0m0 9h0m-1-47h0m0 42h0m-1 16h0m0-11h0m0-7h0m0-3h0m0 1h0m-1 9h0m0-9h0m0 19h0m0-39h0m-1-6h0m0 45h0m0-8h0m0-10h0m0 22h0m-1-36h0m0 8h0m0-4h0m0 25h0m0 1h0m0 5h0m-1-24h0m0 23h0m-1 6h0m-1-19h0m-1 7h0m-1-16h0m0 18h0m-1 3h0m-1-2h0m0-9h0m0-13h0m0-16h0m0 22h0m0-6h0m-1 6h0m-2 26h0m-1-21h0m-1-20h0m-2 36h0m-1-41h0m0 20h0m-1 14h0m0-4h0m-1 5h0m0-41h0m0 22h0m-1 23h0m0-22h0m-3-16h0m0 45h0m-1-10h0m0-1h0m-4 5h0m-2-1h0m0-1h0m-2-6h0m0-4h0m-1-2h0m0-8h0m-2 15h0m-1-1h0m-4-13h0m-1 25h0m0-21h0m0 15h0m-2-23h0m0 26h0m-1-7h0m0-8h0m-4 10h0m0-34h0m-2 38h0m-1 5h0m-4-12h0m-8-11h0m-8 24h0m-12-59h0m-28 40h0m0-11h0m-32 19h0m-81-40h0m-31-11h0m-1 117h0m40 12h0m4-19h0m2 26h0m8-15h0m1-4h0m7 16h0m2 3h0m1-3h0m3-15h0m1 0h0m0 16h0m1-13h0m1 9h0m1-4h0m1-40h0m0 41h0m0-1h0m1 6h0m1-3h0m0-24h0m2 7h0m1 1h0m0-13h0m0 36h0m1-51h0m0 29h0m1 19h0m2 1h0m1-25h0m1 1h0m1-5h0m0 28h0m11-14h0m18 0h0m2 17h0m6-25h0m5-12h0m7 18h0m9 16h0m1-15h0m5 17h0m2-36h0m2-35h0m1 62h0m1-1h0m3 11h0m3-22h0m2-45h0m1 68h0m1-4h0m4-1h0m0-25h0m2-3h0m3-19h0m0-19h0m1 45h0m1 21h0m0-21h0m1-39h0m2 18h0m2 20h0m1 8h0m0 0h0m2 11h0m6-5h0m1-7h0m0-18h0m1-19h0m1 1h0m1 20h0m0 36h0m2-67h0m1 66h0m1-11h0m0 7h0m1-19h0m0 12h0m1-42h0m1 23h0m2-26h0m1-5h0m1 18h0m2 5h0m1 30h0m1-40h0m0-7h0m1 4h0m0 43h0m0-8h0m0-26h0m1-8h0m2 11h0m0-24h0m0 22h0m0 32h0m0-57h0m1 32h0m1-36h0m2 39h0m0-26h0m0 55h0m1-18h0m0-20h0m0 29h0m0-41h0m1 18h0m0-3h0m0-35h0m0 34h0m2 39h0m0-5h0m1-10h0m0-2h0m1 14h0m0-54h0m1 27h0m0-31h0m0 7h0m0-11h0m0 10h0m0-19h0m2 73h0m0-21h0m0 19h0m1-1h0m0-37h0m0 41h0m1-58h0m1-15h0m0 29h0m1 28h0m1-53h0m1 66h0m0-52h0m1 5h0m0-20h0m0 4h0m0 63h0m1-9h0m0-47h0m0 53h0m1-45h0m0-10h0m0 0h0m2 0h0m0 1h0m1 30h0m0 17h0m0-22h0m0-17h0m1 20h0m0-21h0m0 20h0m1-18h0m0 25h0m0-21h0m1-7h0m0-12h0m1 57h0m0-16h0m0-24h0m1 45h0m0-31h0m0 11h0m0 4h0m0-54h0m0 60h0m1-48h0m0-10h0m0 23h0m1 41h0m0-52h0m1 39h0m0 0h0m1 7h0m0-19h0m0-38h0m0 0h0m1 21h0m0 24h0m0-48h0m1 57h0m0-24h0m0 7h0m0 12h0m0-43h0m1 26h0m0 19h0m0 15h0m0-26h0m0-26h0m0-10h0m0-4h0m1 32h0m1-8h0m0-20h0m1 56h0m0-3h0m0-39h0m1 18h0m0 20h0m0-18h0m0 30h0m0-66h0m1 56h0m0-12h0m0 2h0m0-13h0m0 26h0m1 6h0m0-57h0m0 21h0m1 32h0m0-19h0m1 4h0m0 10h0m0-19h0m0 16h0m0 16h0m0-39h0m0 26h0m1-29h0m0-31h0m1 70h0m0-12h0m0 15h0m0-56h0m0-13h0m0 20h0m1 47h0m0-11h0m0 9h0m0-42h0m0-9h0m1 13h0m1 38h0m0-48h0m1 21h0m0 23h0m0-26h0m0-37h0m0 43h0m0-10h0m1 14h0m0 3h0m0-2h0m1-12h0m0-2h0m0 12h0m0 19h0m0-52h0m0 21h0m0-29h0m1 29h0m0-8h0m0 37h0m0-47h0m0 32h0m0-41h0m0 63h0m1-31h0m0-26h0m0 56h0m0-21h0m0-14h0m0-23h0m1 51h0m0-41h0m1 25h0m0-14h0m0-9h0m1 14h0m0 30h0m0-20h0m0-10h0m0-5h0m1 6h0m0 24h0m0-3h0m0-20h0m0-28h0m0 17h0m1 0h0m0 37h0m0-5h0m0-43h0m0 51h0m0-23h0m0-2h0m0-29h0m1 3h0m0 34h0m0-28h0m0 15h0m1 19h0m0 2h0m1-19h0m0-4h0m0-11h0m0-21h0m1 50h0m0-11h0m0-12h0m0-25h0m1 30h0m0-3h0m0 31h0m0-49h0m1 47h0m0-1h0m0-13h0m1-9h0m0-35h0m0 59h0m0-51h0m1 27h0m0 15h0m0-21h0m0 12h0m0-32h0m0 13h0m0-8h0m1 48h0m0-8h0m0-8h0m0-52h0m1 43h0m0 19h0m0-55h0m1 21h0m0 38h0m0-42h0m1-18h0m0 17h0m0-20h0m0 3h0m1 31h0m0 23h0m0-18h0m0 30h0m0-36h0m0-21h0m0 20h0m0-15h0m1 38h0m0-20h0m0-38h0m0 0h0m1 64h0m0-42h0m0 14h0m0-29h0m1 64h0m0-32h0m0-31h0m0-8h0m0 16h0m1 5h0m0 40h0m0 6h0m0-10h0m0-46h0m0-3h0m1 56h0m0-4h0m0-39h0m0 43h0m0-24h0m0 10h0m1 3h0m0 13h0m0-2h0m0-6h0m0 13h0m1-8h0m0-64h0m0 59h0m0-42h0m2 22h0m0-2h0m0-8h0m0 34h0m0 10h0m1-27h0m0 8h0m0-20h0m0 17h0m0-41h0m1 19h0m0 25h0m0-35h0m1 50h0m0 2h0m0-12h0m0-36h0m0-13h0m2 59h0m0-28h0m0 26h0m0-1h0m1-14h0m0 15h0m0-29h0m0 9h0m0 7h0m0-51h0m0 35h0m0 22h0m1 10h0m0-3h0m0-54h0m0 48h0m1-9h0m0 6h0m0 11h0m0-5h0m0 6h0m1-31h0m0 15h0m0-41h0m0 34h0m0 8h0m1-13h0m0 11h0m0-41h0m0 50h0m0-4h0m0-45h0m1 3h0m0 16h0m0 34h0m0-14h0m0-8h0m1-40h0m0 12h0m1 44h0m0 8h0m0-25h0m0 19h0m1-15h0m0-42h0m0 44h0m1 7h0m0 13h0m0-64h0m0-3h0m1 72h0m0-63h0m0-11h0m1 47h0m0-35h0m0 59h0m1-31h0m0 21h0m0-19h0m0-25h0m0 11h0m0 11h0m1 27h0m0 4h0m0-33h0m1 37h0m1-32h0m0 20h0m0-25h0m1 26h0m0-16h0m0 10h0m0 11h0m1-61h0m0 54h0m0-8h0m0 5h0m0 15h0m1-40h0m0-13h0m1 30h0m0 21h0m0-14h0m0 17h0m1-9h0m0-50h0m1 55h0m0-45h0m0 47h0m0-42h0m0-12h0m0-3h0m0 5h0m1 11h0m0 26h0m0-19h0m0 11h0m0 1h0m0-21h0m0 40h0m1 4h0m0 0h0m0-12h0m0-56h0m1 60h0m0-28h0m0 21h0m1-28h0m0 38h0m0 3h0m0-46h0m2 42h0m0-1h0m0-20h0m1 19h0m0-13h0m0-22h0m0 32h0m0-29h0m1 8h0m0 30h0m0-63h0m1 46h0m0-1h0m0 4h0m1-21h0m0 35h0m0-52h0m0-5h0m1 49h0m0-7h0m1 11h0m0-4h0m0-14h0m1-10h0m0 19h0m0 7h0m0-3h0m0-3h0m1 8h0m0-5h0m0-34h0m0 3h0m0-2h0m0 24h0m0-31h0m0-20h0m1 49h0m0-3h0m1 15h0m0-25h0m0 17h0m0-21h0m1-2h0m0-6h0m1 10h0m0 17h0m0 12h0m0-25h0m1 28h0m0 1h0m1-24h0m1 15h0m0 12h0m1 1h0m1-30h0m0 13h0m1-12h0m0 7h0m0-31h0m1 30h0m0-15h0m0 3h0m0 7h0m0 24h0m1-29h0m0 27h0m0-35h0m0 41h0m1-54h0m0 37h0m0-23h0m0 19h0m2 16h0m0-29h0m0 30h0m0-10h0m1 15h0m0-66h0m1 54h0m0 9h0m1 3h0m0-30h0m0 11h0m1-8h0m0 10h0m0-1h0m1-34h0m0 41h0m0-13h0m0-13h0m1 19h0m0 8h0m0-15h0m0 6h0m1 16h0m1-44h0m0-11h0m0 35h0m0-22h0m0 27h0m1 8h0m0-31h0m0 27h0m0-13h0m0-19h0m0 45h0m1-41h0m2 37h0m0-10h0m1 6h0m0 3h0m0-5h0m1-35h0m0 3h0m1-8h0m0 12h0m0 24h0m1-26h0m0 13h0m0-19h0m1 28h0m0-49h0m1 40h0m0-29h0m0 52h0m1 3h0m0-4h0m1 2h0m0-50h0m1 12h0m0-3h0m0 4h0m0 34h0m1-7h0m0-14h0m0 16h0m0-22h0m1 29h0m0-11h0m1 0h0m0-17h0m0 27h0m1-31h0m0 19h0m0-44h0m2 49h0m0-6h0m1-7h0m1-32h0m0-2h0m1 2h0m0 47h0m0-31h0m0 36h0m1-23h0m1 21h0m0-19h0m1 18h0m0-27h0m0 31h0m1 2h0m0-5h0m1-8h0m1-17h0m1-10h0m0-17h0m0 47h0m1 7h0m1-52h0m1 52h0m0-14h0m0-11h0m1 28h0m4-33h0m1 11h0m1-4h0m1 25h0m0-45h0m0 37h0m2-8h0m0-12h0m1 20h0m0-26h0m1 20h0m0-8h0m1 16h0m0-30h0m1-25h0m0-5h0m0 46h0m2 11h0m1-48h0m1 39h0m1 21h0m1-4h0m2 4h0m2-11h0m3-4h0m1 1h0m2-21h0m2 34h0m4-7h0m2-23h0m4-11h0m0 23h0m1 20h0m0-8h0m4-13h0m0 20h0m1-33h0m0 30h0m1-24h0m3-2h0m6 10h0m7 19h0m2-9h0m0 4h0m1-1h0m14-14h0m1-15h0m22 28h0m62 8h0m13-2h0m0-14h0m140 44h0m-129 3h0m-15-14h0m-30 43h0m-1 15h0m-1-13h0m-6-44h0m-9 31h0m-2-11h0m0 28h0m-2-7h0m-4 8h0m-4-44h0m-2 22h0m-4-38h0m0 53h0m-1-31h0m-1 22h0m0 22h0m-2-35h0m-2 24h0m-1 12h0m-1-26h0m0 5h0m-1-13h0m-1-30h0m-2 36h0m0-1h0m-1-23h0m-1 29h0m-1-41h0m-3 51h0m-1-3h0m0 5h0m-1-3h0m-1-23h0m-1 1h0m0 5h0m0 14h0m-2-15h0m-2 1h0m-1 23h0m-1-62h0m0 57h0m-1-9h0m0-10h0m-1-11h0m-1 3h0m0-28h0m-1 42h0m0 6h0m-1 20h0m0-52h0m0 40h0m0-3h0m0-38h0m-1 24h0m0-24h0m-3-6h0m0 25h0m0-18h0m0 42h0m-1-23h0m0-34h0m-1 17h0m-1 0h0m0 11h0m0 30h0m0-39h0m0 3h0m-1 39h0m-1-32h0m0-5h0m-1-2h0m0 33h0m-1-6h0m0-11h0m0 3h0m0 25h0m-1-45h0m0 37h0m0 10h0m0-1h0m0-49h0m-1 17h0m-1-18h0m-1-15h0m0 53h0m-2-20h0m0 2h0m0 22h0m0 2h0m0-40h0m0 17h0m-1 9h0m-2-17h0m-1 8h0m-1-2h0m0-13h0m-1-21h0m0 26h0m0-26h0m0 57h0m-1-31h0m-1 39h0m0-11h0m0-26h0m0 26h0m-1-59h0m0 22h0m-1 35h0m0-21h0m0-3h0m0 31h0m0-53h0m-1-12h0m0 29h0m-1-3h0m-1 38h0m0-1h0m-1-29h0m0 19h0m0-30h0m-1 44h0m0-37h0m-1 23h0m0-3h0m-1-26h0m-1 45h0m0-51h0m0-7h0m0 6h0m-1 54h0m-1 0h0m-1-15h0m0-1h0m0 1h0m0-12h0m-1 9h0m-1-25h0m-1 15h0m0-12h0m0 19h0m-1 10h0m0-53h0m0 38h0m0 15h0m-1 8h0m-1-41h0m0 28h0m-1-55h0m0 37h0m0 13h0m-1-41h0m0-2h0m0 55h0m0 4h0m-1-21h0m0 2h0m0-9h0m0 31h0m-1-13h0m0-28h0m0 32h0m-1-1h0m0-16h0m0-32h0m-1 18h0m0-27h0m-1 56h0m0 9h0m-1-39h0m0 7h0m-1 0h0m0-27h0m0 55h0m-1-59h0m0 54h0m0-27h0m-1-22h0m0 12h0m0 37h0m-1-59h0m0 26h0m0 3h0m-1-8h0m0 28h0m0-6h0m0-28h0m-1 43h0m0-48h0m0 10h0m-1 17h0m0-25h0m0 9h0m-1 30h0m0 17h0m0-2h0m0-56h0m-1 42h0m0-41h0m0 47h0m0 3h0m0-27h0m0-12h0m-1 33h0m0-11h0m0-20h0m-1 32h0m0 3h0m-1-16h0m0 23h0m-1-12h0m-1-16h0m0 15h0m-1-37h0m-1 15h0m0 30h0m0-5h0m-1-57h0m0 9h0m0 46h0m-1-42h0m0 48h0m-1-48h0m0 22h0m0 0h0m0-4h0m0-21h0m-1 6h0m0 55h0m0-30h0m0-15h0m-1 21h0m0 24h0m-1-36h0m0 1h0m0-30h0m0 11h0m0 2h0m0 42h0m-1 1h0m0-22h0m0 33h0m-1-16h0m0-53h0m-1 26h0m0 27h0m0-1h0m-1-38h0m0 13h0m0 15h0m0 26h0m-1-44h0m0-23h0m0 32h0m0 21h0m0-28h0m0-1h0m0-2h0m-1-19h0m0-1h0m0-7h0m0 22h0m0 49h0m0-25h0m-1-18h0m0-17h0m0 22h0m0-21h0m-1 10h0m-1 41h0m0-61h0m0 21h0m-1 41h0m0 2h0m-1-58h0m0 36h0m0-13h0m0 35h0m-1-23h0m0 16h0m0-55h0m0 62h0m-1-8h0m0-53h0m0 15h0m0 42h0m0-32h0m-1-15h0m-1 53h0m0-2h0m0-48h0m0 4h0m0-6h0m0-6h0m-1 59h0m0-52h0m0 3h0m0-11h0m0-9h0m0 65h0m0-38h0m0 46h0m-1-67h0m0 48h0m0 12h0m0-36h0m0-29h0m0 19h0m0 52h0m0-45h0m0 0h0m-1 16h0m0 20h0m0-2h0m-1-8h0m0-4h0m-1-23h0m0 19h0m0-33h0m-1 52h0m0-48h0m0-4h0m-1-1h0m0 51h0m0-25h0m-1-28h0m0-9h0m0 13h0m0 1h0m-1 56h0m0-14h0m0 16h0m-1-71h0m0 41h0m-1-12h0m0 30h0m-1 2h0m0-16h0m0-20h0m0 15h0m-1-19h0m0 50h0m0-54h0m0 49h0m0-61h0m-1 14h0m0 5h0m0-21h0m0 43h0m-1 26h0m0-69h0m0 26h0m0 4h0m-1 26h0m0-2h0m0-24h0m-1 5h0m0 12h0m0-36h0m-1 17h0m0-22h0m-1 30h0m0 5h0m0-29h0m0 2h0m-1 16h0m0 0h0m0 3h0m0-29h0m0 43h0m0 18h0m0-25h0m-1-16h0m0 11h0m0-5h0m-1-13h0m0 29h0m0-5h0m0-2h0m0-2h0m-1-27h0m0-8h0m-1-2h0m0-4h0m0 7h0m-1 42h0m0-39h0m0 47h0m0-51h0m0 8h0m0 6h0m-1 42h0m0-20h0m0-35h0m0 40h0m0 5h0m0 19h0m-1-64h0m0 43h0m0 18h0m0-56h0m0 31h0m0-33h0m0 29h0m-1 1h0m0 20h0m0-5h0m0-35h0m0 26h0m-1-38h0m0 52h0m0-35h0m0-16h0m0 11h0m-1 0h0m0-1h0m0 0h0m0-3h0m-1-6h0m0 31h0m0 17h0m0-9h0m0-42h0m0 2h0m0 24h0m-1-33h0m0 50h0m0-6h0m0 0h0m0-37h0m0 44h0m-1-18h0m0 21h0m-1-9h0m0-43h0m0 9h0m0 8h0m-1 27h0m0-28h0m0-5h0m-1 3h0m0 44h0m-1-12h0m0-20h0m0-12h0m0 50h0m-1 8h0m-1-59h0m0 57h0m0-46h0m0 36h0m0-43h0m-1 15h0m0 8h0m0-27h0m0 9h0m-1-6h0m0 24h0m0-32h0m0 30h0m0 28h0m0-30h0m0 13h0m-1-36h0m0 21h0m0 28h0m0 6h0m0 4h0m0-26h0m0 2h0m0-2h0m-1-35h0m0 19h0m0-18h0m-1 44h0m0-29h0m0-29h0m-1 11h0m0 7h0m0-9h0m0 40h0m0-27h0m0-10h0m0 12h0m-2 36h0m0-50h0m0-4h0m0 65h0m-1-19h0m0 20h0m0-24h0m0 12h0m0-28h0m0 12h0m0-34h0m-1 28h0m0 34h0m0-56h0m0 27h0m-1-42h0m0 35h0m0 38h0m0-32h0m0 3h0m-1-13h0m0-15h0m0-1h0m0 39h0m0-4h0m-1-4h0m0-29h0m0 39h0m0-3h0m0-28h0m0-21h0m0 25h0m0-13h0m0 22h0m-1 1h0m0-20h0m0-8h0m0 29h0m0 30h0m-1-38h0m0-29h0m0 32h0m0 5h0m0-17h0m-1 7h0m0-14h0m0 12h0m0-6h0m0 1h0m0-8h0m-1 3h0m0-6h0m-1 29h0m0 31h0m0-8h0m0-40h0m0 17h0m-1-9h0m0 22h0m0 1h0m0-9h0m0-37h0m-1 40h0m0-20h0m0-23h0m0 1h0m0 36h0m-1-6h0m0 26h0m0-18h0m0-15h0m0-11h0m0-14h0m0 4h0m-1 30h0m0-26h0m0 0h0m0 10h0m0-6h0m-1 45h0m0-22h0m0-2h0m0-21h0m-1 11h0m0-1h0m-1-6h0m0 42h0m-1-14h0m0-21h0m0 20h0m0-23h0m0 40h0m0-50h0m-1 3h0m0 6h0m0-6h0m0 6h0m0 21h0m0-42h0m0 12h0m-1 17h0m0-30h0m0-2h0m0 46h0m0 4h0m0-23h0m-1 12h0m0-15h0m0 4h0m0 24h0m0-6h0m0-41h0m-1 27h0m0 26h0m0-20h0m0-1h0m0 20h0m0-23h0m0-29h0m0-1h0m0-3h0m0-2h0m-1 55h0m0-20h0m0 1h0m0-26h0m-1 3h0m0 17h0m0-14h0m0 31h0m0-15h0m0 33h0m0-22h0m-1-11h0m0-3h0m0 40h0m0-11h0m0-19h0m-1-13h0m0-4h0m0 51h0m0-67h0m0 28h0m0-1h0m-1 18h0m0 4h0m0-16h0m0-3h0m-1-30h0m0 19h0m0-18h0m0-7h0m0 15h0m0-1h0m0 39h0m0 6h0m0 7h0m0-45h0m-1-11h0m0-2h0m0 49h0m0-2h0m0-32h0m0 40h0m-1-41h0m0 13h0m0-27h0m0 38h0m0-26h0m0-15h0m0-3h0m-1 5h0m0 30h0m0-29h0m-1 8h0m0-4h0m-1 50h0m0-27h0m0-7h0m0 22h0m-1-33h0m0-12h0m0 59h0m0-42h0m0 17h0m0-39h0m0 65h0m0-40h0m0-17h0m-1 3h0m0 18h0m0-28h0m-1 56h0m0-34h0m0 15h0m0 12h0m0-18h0m0-31h0m0 21h0m-1 11h0m0-17h0m0 18h0m0-5h0m0-6h0m0-8h0m0 6h0m-1-16h0m0 17h0m0 21h0m0 8h0m0 17h0m0-37h0m-1-27h0m0-1h0m0 42h0m0-26h0m0 10h0m0 5h0m-1-16h0m0 1h0m0-10h0m0 16h0m0 2h0m0 17h0m-1-39h0m0 23h0m0 32h0m0-41h0m0 35h0m0-32h0m-1 3h0m0-17h0m0 14h0m0 1h0m0 28h0m0-30h0m0 22h0m-1 19h0m0 5h0m0 4h0m0-32h0m0-13h0m-1 19h0m0-19h0m0 1h0m0 12h0m0 9h0m0-16h0m0 10h0m0-27h0m0 24h0m0-12h0m-1-27h0m0 4h0m0 0h0m0 52h0m0-46h0m0 45h0m-1-4h0m0-7h0m0 30h0m0-46h0m0 23h0m-1 16h0m0-62h0m0 30h0m0-2h0m0 18h0m-1-3h0m0 15h0m0 8h0m0-42h0m-1 18h0m0-16h0m0 22h0m0-40h0m0-3h0m0 55h0m0-2h0m-1-40h0m0-14h0m0 22h0m0 9h0m0-5h0m-1 18h0m0-25h0m0-25h0m0 19h0m0 48h0m0-34h0m0-16h0m0 16h0m0 37h0m0-64h0m-1 48h0m0-37h0m0 35h0m0-36h0m0-6h0m-1 21h0m0-7h0m-1 8h0m0-16h0m0 17h0m0 17h0m0-36h0m0 17h0m0-30h0m0 20h0m0-16h0m0-6h0m-1 2h0m0 48h0m0-35h0m0-12h0m0 1h0m0 57h0m-1-42h0m0 31h0m0-49h0m0 8h0m0 35h0m-1-42h0m0 63h0m0-39h0m0 26h0m-1-23h0m0 18h0m0-32h0m-1 54h0m0-64h0m0 30h0m0 5h0m0-28h0m-1 14h0m0 37h0m0 3h0m0-49h0m-1 8h0m0 6h0m0-33h0m0 20h0m0 27h0m0-31h0m0 35h0m-1-37h0m0 23h0m0-36h0m0 43h0m0 7h0m0-20h0m-1 24h0m0-33h0m0 15h0m0-34h0m0 31h0m0-31h0m-1 18h0m0-4h0m0 13h0m0 6h0m0-33h0m0 45h0m-1-13h0m0-27h0m0 47h0m0 0h0m0-12h0m0 4h0m-1-29h0m0 19h0m-1 33h0m0-48h0m0-14h0m0-8h0m-1 65h0m0-18h0m0-21h0m0 31h0m-1-19h0m0 23h0m0 5h0m0-21h0m0 10h0m0-16h0m0-37h0m-1 14h0m0 34h0m0-3h0m0-44h0m-1 45h0m0 19h0m0-14h0m-1 6h0m0-55h0m-1 29h0m0 17h0m0-24h0m0-3h0m0 24h0m0-21h0m-1-3h0m0-12h0m0 33h0m0-18h0m0-7h0m-1-2h0m0 24h0m0-3h0m-1-15h0m0 1h0m-1 1h0m0 21h0m0-40h0m-1 5h0m-2-11h0m0 5h0m0-2h0m0 10h0m-1 22h0m0-23h0m0 22h0m0 40h0m-1-53h0m0 9h0m0 41h0m0-39h0m0-25h0m-1 19h0m0 14h0m0-39h0m0 45h0m0-29h0m0 45h0m0-1h0m-1-6h0m0-8h0m-1-42h0m0 31h0m0-6h0m0-28h0m-1 6h0m0 19h0m0 0h0m0 35h0m0 4h0m0-26h0m0 33h0m-1-69h0m0 43h0m0-46h0m0 19h0m-1 3h0m0 3h0m0 5h0m0 15h0m-1-25h0m0 7h0m0 18h0m0-42h0m0 32h0m0-29h0m-1 40h0m0-13h0m0 9h0m0 18h0m0-6h0m-1 9h0m0-5h0m-1-52h0m0 24h0m0 27h0m-1-12h0m0-42h0m0 33h0m-1-21h0m-1 12h0m-1-7h0m0-15h0m0-4h0m0 7h0m0 24h0m0 8h0m0-4h0m0-18h0m-1 6h0m0 10h0m0 1h0m0-5h0m0-26h0m0 34h0m-1-16h0m-1-18h0m0 45h0m-1-45h0m0 44h0m-1-26h0m0-4h0m0 48h0m0-46h0m0 28h0m-1-36h0m-1 23h0m0 12h0m0-17h0m0 9h0m0-29h0m-1 34h0m0 15h0m0-35h0m0 11h0m-1-25h0m0 10h0m-1 4h0m0-5h0m-1 1h0m0 37h0m0 4h0m-1-44h0m0 44h0m0 3h0m0-27h0m0 31h0m0-52h0m-1 6h0m-1 22h0m0-21h0m0 0h0m0 22h0m-1 26h0m0-9h0m0-3h0m0-42h0m-1 37h0m0-45h0m0 48h0m0-52h0m0 17h0m0 36h0m-1-44h0m-1 31h0m-1-23h0m0 22h0m0 19h0m0-37h0m-1-2h0m0 45h0m0-38h0m0 27h0m0-23h0m-1 38h0m0-73h0m0 47h0m0 24h0m-1-55h0m0-1h0m0 38h0m0 20h0m0-44h0m-1 0h0m0 26h0m0-50h0m0 60h0m0 3h0m-1-37h0m0 40h0m0-29h0m-1-42h0m0 22h0m0 40h0m0-30h0m0-29h0m-1 0h0m0 6h0m0 43h0m-1 11h0m-1-62h0m0 52h0m0-11h0m-1-42h0m0 46h0m0 4h0m-1-48h0m0 31h0m0 3h0m0-17h0m0 49h0m-1-22h0m0-23h0m0 34h0m0-12h0m0-16h0m0 5h0m-1 27h0m0-15h0m-1-31h0m0-9h0m0 49h0m0-29h0m0 23h0m0-7h0m-1 8h0m-1-15h0m0-13h0m0 0h0m0 25h0m-1-12h0m0 37h0m0-17h0m0-9h0m0-1h0m0-45h0m0 50h0m-1-34h0m0 3h0m0 21h0m-1 13h0m0-33h0m-1 43h0m0-25h0m0-5h0m0 8h0m-1 13h0m0-17h0m0 18h0m0-8h0m0-22h0m-1-3h0m0 14h0m0 13h0m0-17h0m0-8h0m-1 45h0m-1-8h0m0-10h0m-1-38h0m0 2h0m-1 5h0m0 35h0m-1-45h0m0 20h0m-1-1h0m0-14h0m-2-6h0m0 23h0m0-14h0m-1 22h0m0-29h0m0 62h0m-1-32h0m0-12h0m0-14h0m-1 40h0m0-40h0m0-10h0m0-3h0m-1 53h0m0-18h0m0 0h0m0 8h0m0 7h0m-1-34h0m-1 5h0m-1-3h0m-1-8h0m0 33h0m-1-32h0m0 32h0m0 6h0m0-12h0m-1-5h0m-1 33h0m0-31h0m0 26h0m0-63h0m0 55h0m-1-38h0m0 17h0m0 11h0m-1 0h0m0-3h0m-1-25h0m-1 26h0m0-22h0m-1 16h0m0 13h0m0-8h0m0-20h0m-1 24h0m0-5h0m-1-27h0m0 15h0m0 45h0m0-42h0m-1-27h0m-1 38h0m0-2h0m0 5h0m-1-24h0m-1 17h0m0 6h0m-1 1h0m0-14h0m0 8h0m-2 1h0m0-15h0m0 42h0m0-60h0m-1 65h0m-1-2h0m0-44h0m0 4h0m-1 16h0m-1-11h0m0-18h0m-1 42h0m0-37h0m0 41h0m-1-51h0m0 48h0m0-28h0m-1 35h0m0-34h0m0 7h0m-1-18h0m0 15h0m0-9h0m0 21h0m-1 6h0m-1-16h0m0-8h0m-2-13h0m-1 49h0m-1-6h0m-1-32h0m-1-7h0m0-2h0m0 15h0m-1 3h0m0-1h0m-2 20h0m-1-7h0m0-38h0m-1 15h0m0-14h0m0 37h0m0-27h0m-1 45h0m0-49h0m-1 11h0m0 15h0m-1-27h0m0 47h0m-1-36h0m0 33h0m0-5h0m-1-29h0m0 11h0m0 19h0m0-18h0m-1-19h0m0 3h0m-2 29h0m0-7h0m0-24h0m0 18h0m-1-23h0m0 28h0m-1-29h0m-1-7h0m0 18h0m0-2h0m-1 20h0m-1 7h0m0 12h0m-1-7h0m0 7h0m-2-17h0m0-14h0m0 0h0m-2-11h0m0-4h0m-1-13h0m0 26h0m-1 22h0m-1-29h0m-2 17h0m0-5h0m-1 0h0m0 31h0m0 4h0m-1 0h0m0-11h0m0-36h0m-1 3h0m0-1h0m0 47h0m-1-12h0m-1-43h0m-1 17h0m0 5h0m0 5h0m0-40h0m-2 30h0m0-5h0m-1 28h0m-1 10h0m-1-44h0m-1 38h0m0-5h0m0-25h0m-1 23h0m0-14h0m-1-6h0m0-23h0m0 61h0m-1-37h0m-1 15h0m0 15h0m0-27h0m-1-22h0m-2-9h0m0-8h0m-1 50h0m-1-15h0m-1 3h0m-2 17h0m-1-12h0m0-19h0m0 20h0m-2 18h0m-1-10h0m0 1h0m0-28h0m-1 25h0m0-32h0m0 25h0m-1 0h0m0 1h0m-1-16h0m0 14h0m-1 12h0m0-20h0m-1 27h0m-1-48h0m-1 23h0m0 23h0m0-9h0m0-46h0m0-3h0m0-2h0m-1 70h0m-1-8h0m0-4h0m0 6h0m-1-17h0m0-1h0m0-35h0m-3 26h0m0 14h0m0-6h0m0 23h0m0-19h0m0-40h0m-1 45h0m0-43h0m-1 40h0m0-19h0m0-14h0m-1-1h0m-1-15h0m-1 46h0m0-33h0m0-6h0m-3 28h0m-1 17h0m0-44h0m0-3h0m-1 49h0m-1-56h0m0 27h0m0 43h0m-1-38h0m0 11h0m0 17h0m-1-8h0m0 14h0m-1-11h0m-1-41h0m0-4h0m0 56h0m-2-36h0m-1 30h0m0 3h0m0-37h0m-2 44h0m0-39h0m-1-2h0m0 8h0m0 19h0m0-12h0m-1 11h0m-1 6h0m-1-24h0m-1-12h0m0 31h0m0-30h0m-2 15h0m-1 32h0m0-48h0m-1 38h0m-2-2h0m0-3h0m0-2h0m-2-6h0m-2-4h0m0-14h0m0 25h0m0-28h0m-1-5h0m-2-2h0m-1-6h0m-5 47h0m0-8h0m-2-55h0m-2 70h0m0-15h0m-3 3h0m0-1h0m-1 13h0m0-34h0m-1 15h0m0-13h0m-3 33h0m-1-11h0m-1-29h0m-1 3h0m-1 24h0m-3 1h0m-1-42h0m-1 23h0m-1 29h0m-14-10h0m0-13h0m-6 25h0m-18-32h0m0 7h0m-4 3h0m26 60h0m18-32h0m7 3h0m18 66h0m22-50h0m10 6h0m0-17h0m6-4h0m7-6h0m8 40h0m2-39h0m7 2h0m1-3h0m1 33h0m0 40h0m3-50h0m3-19h0m6-2h0m0 49h0m2-31h0m0 39h0m1-58h0m0 2h0m1 3h0m0 3h0m4-2h0m0 42h0m3-18h0m9-25h0m2 0h0m1 6h0m0-6h0m2 4h0m3 30h0m1-26h0m0-5h0m1 9h0m2 13h0m0-18h0m2 4h0m4 50h0m4-61h0m2 48h0m0-48h0m3 0h0m5-2h0m4 8h0m3 9h0m0-21h0m0 13h0m1-12h0m0 39h0m0-38h0m1 14h0m3-13h0m2 51h0m1-54h0m2 68h0m1-67h0m0 6h0m3 18h0m6 43h0m1-18h0m0-43h0m2 14h0m5-11h0m1 36h0m3-7h0m2-38h0m1 35h0m1-35h0m3 3h0m1 67h0m0-38h0m2-33h0m0 20h0m1-16h0m1 17h0m0 10h0m1-26h0m3 0h0m0-1h0m3 13h0m1-10h0m6 5h0m2 23h0m1-18h0m4 0h0m1 56h0m1-65h0m1-7h0m1 13h0m1 0h0m0-10h0m0 0h0m2 8h0m2 0h0m2 38h0m0 24h0m0-32h0m1-18h0m4 6h0m2-29h0m1 54h0m0-23h0m1 16h0m0-45h0m0 0h0m0-3h0m2 39h0m3 28h0m1-23h0m3-19h0m1 2h0m1 12h0m2-31h0m0-6h0m1 50h0m0 18h0m2-62h0m5-7h0m1 0h0m0 9h0m1 2h0m0 10h0m3-9h0m1-5h0m1 36h0m2-42h0m2 2h0m1-1h0m0 28h0m1-24h0m3 51h0m2-58h0m0 14h0m2 27h0m0-27h0m1-6h0m0 0h0m0-8h0m2 7h0m0 4h0m0 0h0m1-11h0m0 3h0m1 6h0m0-3h0m1-5h0m1 16h0m0-9h0m1-1h0m1 8h0m1-10h0m1 15h0m0-17h0m1 36h0m1-38h0m1 39h0m5-6h0m4-19h0m2 18h0m3-23h0m1 33h0m0-22h0m2 39h0m3-56h0m1 26h0m0 31h0m1-26h0m1-27h0m4 45h0m1-28h0m0-9h0m3 14h0m0-15h0m2 16h0m0 27h0m4-32h0m1-10h0m1 5h0m0-18h0m0-2h0m0 25h0m1 18h0m0 28h0m1-44h0m1 2h0m1-25h0m0 36h0m1-26h0m1-10h0m1 32h0m0 5h0m1-30h0m0 60h0m4-48h0m2-14h0m0 15h0m1-6h0m0 42h0m1-21h0m2-11h0m0 5h0m2-21h0m0 16h0m0 11h0m0 10h0m1 9h0m3-2h0m1-40h0m1 3h0m0 18h0m1-11h0m0-27h0m1 45h0m0 22h0m1-60h0m0 30h0m0-24h0m1-6h0m3-1h0m0 56h0m0-5h0m0-16h0m1-40h0m1 4h0m0 64h0m0-37h0m1-17h0m1 23h0m0-29h0m1-1h0m0 7h0m0 1h0m1 50h0m0-5h0m0-35h0m1-7h0m0 32h0m0-50h0m1 43h0m0-33h0m0 1h0m1 29h0m1-5h0m0 4h0m1 4h0m0 2h0m1-25h0m0 9h0m0 9h0m1-1h0m0-2h0m1 28h0m1-22h0m0 5h0m1 14h0m1-43h0m0 19h0m0 22h0m0-27h0m1 22h0m1-40h0m1 59h0m0-16h0m1-44h0m1 50h0m0 10h0m1-49h0m1 3h0m0-12h0m0 11h0m1-1h0m0 6h0m1-24h0m1 9h0m0 55h0m0-24h0m1-14h0m0 15h0m0-22h0m1 4h0m0 8h0m1 16h0m0-31h0m1 34h0m1-42h0m0 59h0m2-41h0m0 30h0m1-35h0m0 30h0m1-7h0m1-29h0m0-14h0m0 24h0m0 23h0m3-39h0m0 11h0m1-26h0m1 31h0m0 21h0m0 20h0m1-46h0m1 45h0m1-69h0m1-2h0m3 9h0m3-2h0m1-3h0m2 6h0m1 10h0m8 8h0m2-3h0m0-14h0m1 14h0m3-20h0m0 0h0m7 33h0m3-33h0m1-4h0m4 9h0m1 4h0m0-13h0m3 14h0m1-14h0m1 15h0m0-10h0m1 51h0m1-58h0m2 28h0m5-25h0m5 5h0m0-8h0m1 14h0m0 5h0m0-5h0m1 12h0m6-19h0m0-4h0m1 3h0m1 26h0m6-30h0m11 10h0m1 8h0m27-20h0m14 1h0m6 75h0m-158 15h0m-4-9h0m0-7h0m-11 1h0m-1 17h0m-5-12h0m-4 41h0m-1-34h0m-16 2h0m-25 9h0m-20-3h0m-2-14h0m-1 27h0m-5 22h0m-6-40h0m-1 40h0m-4-8h0m-8-23h0m-11 20h0m-2 3h0m-19 12h0m-8-36h0m-5-13h0m0 22h0m-1-3h0m-4-4h0m-1-7h0m0-15h0m-2 23h0m-7 30h0m-3 0h0m-3-57h0m0 24h0m-2 2h0m-1-19h0m-2 31h0m-16-12h0m-3-25h0m0 73h0m-5-47h0m-2-9h0m0-6h0m-2 2h0m-3 19h0m0 33h0m-3-7h0m-4-8h0m-1-7h0m-2 5h0m-2-19h0m-2 25h0m0-2h0m-6-35h0m-5 28h0m-8 19h0m-5-63h0m0 24h0m-1 45h0m-3-54h0m0 24h0m-3-28h0m-4 27h0m-9-39h0m-3 35h0m-1-5h0m-8 19h0m-2 8h0m-1 7h0m0-28h0m0-29h0m-6 10h0m0 33h0m-6-28h0m-2 4h0m0-3h0m-14-3h0m-4 6h0m-8-20h0m-4 32h0m-7-20h0m-5-3h0m-3-12h0m0 5h0m-7 9h0m-10-8h0m-3-6h0m-21 14h0m-7-5h0m97 107h0m21-12h0m17-31h0m9 39h0m8-26h0m4 26h0m8-19h0m10-4h0m18-11h0m19 23h0m34-28h0m27 70h0m25-68h0m10 47h0m22-27h0" vector-effect="non-scaling-stroke" stroke-linecap="round" fill="none"/>
<path id="u_prolif" d="M422 -381h0m-85 79h0m-2 0h0m-2 0h0m-2 0h0m-2-4h0m-1-3h0m-1 5h0m0-6h0m-2-5h0m0 12h0m-1-3h0m0 0h0m0-3h0m-2 2h0m0-2h0m0 4h0m0 2h0m-1-13h0m0 10h0m0 2h0m-1-3h0m0-11h0m-1 11h0m-1-10h0m0-2h0m0 11h0m-1 3h0m0-11h0m0-4h0m0 16h0m0-20h0m-1-5h0m0 1h0m0 24h0m-1-5h0m0-4h0m0-2h0m-1 4h0m-1-6h0m0-8h0m-1 11h0m0 2h0m0 2h0m0-9h0m0 2h0m0 0h0m-1-1h0m0 16h0m-1-12h0m0-7h0m0 8h0m0-4h0m0-11h0m0 10h0m0 7h0m0-11h0m-1 5h0m0 8h0m0-1h0m-1-8h0m-1-10h0m0 11h0m-1-2h0m0-5h0m0-12h0m0 9h0m0 10h0m-1-7h0m0 11h0m0-7h0m0 10h0m-1-17h0m0 24h0m0-25h0m-1 7h0m0-2h0m-1 0h0m0 1h0m-1 0h0m0 0h0m0 13h0m0-10h0m-2-13h0m0 15h0m-1-2h0m0-2h0m-2 4h0m-1-6h0m0-12h0m-2 8h0m0 18h0m-1-19h0m0-1h0m-1-6h0m-1 19h0m0-13h0m-1 3h0m-1-15h0m0-2h0m-1 15h0m0 0h0m0 9h0m0-20h0m0 18h0m-1-8h0m-2-6h0m-1 4h0m-1 9h0m0-6h0m-2-1h0m0 3h0m0-1h0m-1-7h0m-1 2h0m0 6h0m0-9h0m-1 10h0m0-1h0m0-15h0m-3 4h0m-1 11h0m0-8h0m0 16h0m-1-7h0m-1 2h0m-1-11h0m0-10h0m-1 9h0m0 8h0m0-5h0m-1-2h0m0 0h0m-1 6h0m-1-4h0m0 2h0m-1-13h0m-1 4h0m-1 10h0m-1-12h0m-1 12h0m-1-6h0m0 5h0m-1 0h0m0-9h0m0 4h0m0 7h0m0 7h0m-1-7h0m-2-4h0m-1-2h0m-1-3h0m-1-3h0m0 10h0m-1 5h0m0-10h0m0 3h0m0 1h0m0 7h0m-2-7h0m0-8h0m-2 0h0m0 15h0m-2-7h0m-2-13h0m0 0h0m-1 22h0m0-4h0m-2 2h0m0-4h0m0-8h0m0 5h0m-1 13h0m0-2h0m-1-9h0m0 3h0m0 3h0m0 6h0m0-11h0m-1 6h0m-1-9h0m-2 4h0m-1 0h0m0 10h0m0-22h0m-1 18h0m0-6h0m0-7h0m-1 19h0m-1-11h0m0 4h0m0 9h0m-1-8h0m0-11h0m-1 6h0m0-4h0m-1 16h0m0 0h0m0-13h0m-1 6h0m0 2h0m-1 4h0m0-20h0m-2 25h0m0-12h0m-1-1h0m-1 22h0m0-27h0m-1 15h0m-1-4h0m0 13h0m-1-12h0m0 1h0m0 14h0m0-20h0m-1 12h0m0-3h0m0 6h0m0-8h0m0 6h0m-1-5h0m0 6h0m-1-13h0m0 7h0m0-7h0m0 5h0m0-8h0m-1 13h0m0 5h0m-2-11h0m0 14h0m0-12h0m-1 3h0m0-16h0m0 15h0m-1 1h0m-1-1h0m0 4h0m0 0h0m0-2h0m-1-2h0m0 2h0m-1-3h0m0 12h0m0-5h0m-1-4h0m-1 1h0m-1 6h0m-1-1h0m0-12h0m-1-4h0m0 16h0m-1 2h0m0-7h0m-1 0h0m-1 0h0m-1 1h0m0 7h0m-6-5h0m-21 58h0m9 5h0m2 0h0m0-25h0m0 9h0m2 1h0m0-19h0m1-10h0m1 51h0m0-40h0m1-6h0m1 33h0m0-23h0m1-13h0m0 43h0m0-49h0m0 10h0m0-8h0m0 40h0m1-18h0m0-1h0m0 12h0m0 11h0m0-6h0m0-18h0m1 25h0m0-49h0m0-1h0m0 60h0m0-49h0m0 33h0m0-26h0m1 22h0m0 18h0m0-32h0m0 12h0m0-13h0m0 7h0m0-37h0m0 3h0m1 32h0m0-36h0m0 13h0m0 9h0m0 38h0m1-42h0m0 6h0m0-24h0m0 19h0m1 29h0m0-8h0m0-28h0m0 35h0m1 2h0m0-42h0m0 58h0m0-38h0m0-11h0m0 22h0m0-28h0m1 48h0m0-21h0m0 29h0m0-6h0m0-3h0m1 11h0m0-63h0m0 9h0m0 27h0m0 25h0m0-29h0m0-29h0m1 28h0m0 22h0m0-16h0m0-26h0m0 49h0m1-49h0m0 49h0m0-59h0m0-4h0m1 1h0m0 56h0m0-39h0m0 17h0m1 37h0m0-39h0m0-10h0m0 32h0m0 1h0m0-5h0m0-39h0m0-6h0m0-5h0m1 3h0m0 63h0m0-13h0m0 3h0m0-41h0m1 32h0m0 23h0m1-9h0m0-18h0m0 9h0m0 19h0m0-27h0m1 16h0m0 7h0m1-69h0m0 73h0m0-5h0m0-63h0m1 56h0m0 1h0m1-57h0m0-6h0m0 43h0m1 28h0m3-70h0m1 71h0m1 1h0m1-1h0m1-2h0m0-2h0m34-39h0m31 40h0m7-2h0m2-3h0m2 9h0m0-5h0m1-4h0m1 9h0m4 1h0m1-5h0m0 4h0m1-13h0m0 0h0m0-2h0m0 9h0m1 0h0m1 1h0m1-6h0m0-1h0m0 6h0m1 3h0m0-13h0m1 15h0m4-4h0m0 3h0m0-12h0m1 15h0m0-3h0m3-15h0m0 6h0m1 9h0m0-21h0m1 11h0m1 5h0m1-54h0m0 33h0m1-8h0m0 33h0m0-11h0m0 13h0m0-10h0m1-61h0m0 69h0m0-1h0m0-1h0m1-58h0m0 56h0m0-16h0m0 19h0m1-4h0m1-62h0m0 56h0m0 0h0m0 5h0m1-38h0m0 30h0m0 6h0m0-8h0m1-38h0m0-12h0m0 58h0m0-17h0m0 2h0m0 21h0m1-54h0m0-7h0m0 4h0m0-8h0m0 56h0m1-46h0m0-13h0m0 45h0m0-3h0m1-33h0m0 42h0m0-13h0m0 25h0m0 1h0m0 5h0m1-66h0m0 43h0m0 16h0m0 11h0m0 1h0m0-4h0m0-19h0m1-50h0m0 72h0m1-69h0m0 19h0m0 14h0m1-32h0m0-5h0m0 22h0m0-8h0m0 0h0m0-8h0m0 35h0m0 28h0m1-28h0m0-7h0m0 38h0m0-2h0m0-16h0m1-28h0m0-14h0m0 21h0m0-16h0m1 15h0m0-8h0m0-21h0m0 25h0m0-3h0m0 17h0m0 26h0m0-27h0m1-14h0m0-26h0m0 29h0m0 1h0m0-1h0m0 13h0m1-30h0m0 24h0m0-19h0m0 47h0m0 1h0m0-12h0m1-19h0m0 3h0m0-3h0m0-23h0m0 3h0m0 59h0m0 0h0m1-40h0m0-4h0m0 39h0m0-11h0m1-24h0m0-22h0m0 44h0m0-4h0m0-12h0m0 9h0m0 25h0m1-42h0m0 0h0m0-12h0m0 10h0m1-16h0m1 40h0m0 18h0m0-25h0m1-28h0m0 52h0m1-50h0m0 51h0m2-19h0m0 10h0m0 0h0m0-4h0m1-35h0m1 4h0m0 35h0m0 6h0m1 5h0m1-28h0m0 22h0m0-14h0m1-24h0m0 34h0m0-25h0m1 30h0m0-15h0m0-23h0m1 28h0m1 1h0m0-34h0m0 35h0m1 11h0m2-14h0m2-4h0m0-21h0m0 9h0m2 23h0m2-4h0m1-2h0m2 4h0m0 10h0m1-1h0m0-6h0m3-11h0m0 3h0m1-25h0m3 22h0m0 19h0m3-32h0m0 22h0m1-15h0m1 12h0m0 12h0m3-18h0m0-6h0m8-1h0m72-32h0m32 53h0m-75 44h0m-13-8h0m-3 38h0m-2-26h0m0-16h0m-1 19h0m0 1h0m0-1h0m-1 5h0m-1 8h0m-2-6h0m-1-18h0m0 24h0m-3-3h0m-1-8h0m-1-21h0m0 6h0m-1 19h0m-1 11h0m0-16h0m0 3h0m-1 9h0m0-35h0m-1 25h0m0 20h0m0-61h0m-1 36h0m0 25h0m0-52h0m-1 51h0m0-36h0m0 0h0m-1 17h0m0-9h0m0-1h0m0 6h0m-1-17h0m0 40h0m-1-11h0m0 1h0m-1 14h0m0-17h0m-1-9h0m-1 9h0m0-5h0m0-24h0m-1 21h0m0 13h0m0-18h0m-1 9h0m-1 0h0m0-21h0m-1 8h0m0-9h0m-1 43h0m0-42h0m0 43h0m0-47h0m-1 39h0m0-7h0m-2-56h0m0 45h0m-1 18h0m0-38h0m0 17h0m-1-19h0m0 34h0m0-4h0m0-16h0m0 32h0m0-65h0m-1 55h0m0-52h0m0 30h0m0 3h0m-1 30h0m0-15h0m0 1h0m-1-9h0m0-7h0m0 12h0m0 11h0m0-32h0m0 20h0m-1 15h0m0-5h0m-1 9h0m0-65h0m0 51h0m0 14h0m0-17h0m-1 15h0m0-37h0m0 30h0m0-13h0m-1-45h0m0 36h0m0 25h0m-1-17h0m0 0h0m0 16h0m0-60h0m0 64h0m0-1h0m0-8h0m-1-20h0m0-28h0m0 53h0m-1-34h0m0 22h0m0 4h0m-1-7h0m0 7h0m0-18h0m0 11h0m0 23h0m0-44h0m0 24h0m0-22h0m0 40h0m0-28h0m-1-38h0m0 61h0m-1-4h0m0-26h0m0 16h0m0-51h0m0 40h0m0-12h0m0 28h0m-1-53h0m0 45h0m0 12h0m0-53h0m-1 46h0m0-6h0m0-7h0m0 32h0m0-8h0m0-37h0m-1 9h0m0-28h0m0 10h0m-1 26h0m0 27h0m0-31h0m-1 22h0m0-28h0m0 2h0m0 10h0m-1 24h0m0-22h0m0 12h0m0 10h0m0-52h0m0-4h0m-1 21h0m0 3h0m0-10h0m0-15h0m-1-6h0m0 62h0m0-19h0m0-31h0m-1-4h0m0 11h0m0-6h0m0 43h0m0-23h0m0-26h0m0 55h0m0-38h0m0 42h0m0-1h0m-1-16h0m0 17h0m0-47h0m0 12h0m0 8h0m0-15h0m0 34h0m0-21h0m0 3h0m0-18h0m-1-28h0m0 19h0m0 22h0m0 2h0m-1 11h0m0-23h0m0-20h0m-1 55h0m0-7h0m0-18h0m0-28h0m0 19h0m0-17h0m-1 6h0m0-19h0m0 45h0m0-19h0m0 36h0m0 5h0m-1-24h0m0-31h0m0 54h0m0-56h0m0 31h0m0-2h0m0-7h0m-1 19h0m0-48h0m0 34h0m0 7h0m-1-41h0m-1 0h0m0-5h0m0 42h0m0 10h0m0-40h0m-1 8h0m0 8h0m0 5h0m0 35h0m-1-57h0m-1 17h0m0 4h0m0 13h0m0-40h0m0 0h0m-1 67h0m0-8h0m0-24h0m0-4h0m0 15h0m0-31h0m0 12h0m0-4h0m-1 20h0m0-40h0m0 63h0m0-2h0m0-60h0m-1 6h0m0 13h0m-1 33h0m0-37h0m0 7h0m0 41h0m0-46h0m0-11h0m0 54h0m-1 2h0m0-29h0m0 5h0m0 11h0m0-52h0m0 41h0m-1-5h0m0-19h0m0 48h0m-1-3h0m0-69h0m0 8h0m0 41h0m0-15h0m0 5h0m-1-34h0m0 68h0m0-21h0m0-24h0m-1-22h0m0 59h0m0-33h0m0 23h0m-1-18h0m0-10h0m0-1h0m-1-24h0m0 46h0m0-33h0m0 17h0m0 35h0m0-57h0m-1 12h0m0-12h0m0 57h0m0-2h0m0 0h0m0-27h0m0 1h0m-1 3h0m0-9h0m-1-25h0m0 44h0m0-22h0m-1 2h0m0 32h0m0-6h0m0-16h0m0-1h0m0 33h0m-1-53h0m0-3h0m0-3h0m0 39h0m-1-44h0m0 33h0m0-41h0m-1 71h0m0-43h0m0-4h0m0 21h0m0-20h0m-1 46h0m0-10h0m0-30h0m0 10h0m0-23h0m0-10h0m0-5h0m0 31h0m-1-36h0m0 26h0m0 41h0m0 7h0m-1-71h0m0 70h0m0-19h0m0-34h0m0-7h0m-1 12h0m0-7h0m0 55h0m-1-59h0m0 24h0m0-5h0m-1-26h0m0-5h0m0 32h0m-1-9h0m0 12h0m0-4h0m-1 5h0m0-9h0m0 40h0m0-35h0m0 3h0m0-33h0m0 44h0m-1-21h0m-1-19h0m0 13h0m0-10h0m0-3h0m-1 59h0m0-30h0m-1 9h0m0-43h0m-1 33h0m0 0h0m0 17h0m-1 13h0m0-58h0m0 34h0m0-1h0m0 6h0m-1-33h0m-1 40h0m-1 11h0m0-54h0m-1 5h0m0-6h0m0 22h0m0 12h0m-1-24h0m0 30h0m-1-25h0m0-16h0m-1-8h0m-1 6h0m0 0h0m0 37h0m0 6h0m0 8h0m-1-47h0m-1 28h0m0-10h0m0 9h0m0-35h0m-1 68h0m0-46h0m0 38h0m-1-63h0m0 2h0m0 69h0m-1-8h0m0-48h0m0 2h0m0-14h0m-1 35h0m-1 10h0m0-18h0m0-21h0m-1 32h0m0 24h0m0-59h0m-1 32h0m-1 13h0m0-4h0m-1-37h0m-1 7h0m-1 32h0m-3 13h0m0-30h0m-1-17h0m0 20h0m-1-21h0m-2 12h0m0 42h0m-1-65h0m-5 15h0m-3 35h0m-5-32h0m-7 33h0m0-20h0m-7-14h0m-4 19h0m-12 16h0m-8 12h0m-13-63h0m-1-4h0m0 1h0m0 3h0m-1 1h0m0 1h0m-1-2h0m-2 0h0m0-1h0m-2-1h0m-10 4h0m-85 109h0m11 6h0m10-3h0m24-18h0m17 38h0m13-6h0m2 14h0m48-25h0m21-9h0m11-13h0m6-1h0m0-16h0m4 13h0m2 19h0m2-17h0m0 11h0m2 3h0m1 10h0m1-28h0m1 20h0m1 9h0m1-14h0m3 31h0m0-20h0m1-9h0m0 12h0m1 4h0m0-15h0m0-7h0m1 17h0m0 12h0m2-58h0m2 35h0m0-31h0m1 65h0m0-14h0m0-3h0m0-51h0m0-1h0m0 26h0m2 27h0m0-15h0m0 21h0m1 15h0m1-5h0m0-42h0m1 9h0m0 12h0m0-16h0m0 42h0m0-3h0m1-21h0m1-36h0m0 31h0m0-31h0m0 58h0m1-29h0m0 19h0m0-10h0m1 5h0m1 8h0m1-41h0m0 45h0m0-33h0m0 37h0m1-48h0m0 11h0m0-23h0m0 4h0m0 57h0m0-37h0m0-16h0m1 23h0m0-4h0m1 32h0m0-69h0m0-1h0m0 12h0m0 58h0m0-28h0m0-9h0m0 25h0m0-49h0m0 33h0m1 24h0m0-34h0m0-23h0m1 4h0m0 24h0m1-6h0m0-31h0m0 31h0m0 39h0m1-18h0m0-12h0m1 25h0m0-26h0m0 2h0m0 17h0m0-40h0m0-12h0m0 39h0m0-23h0m1-16h0m0 27h0m0 23h0m0-57h0m0 18h0m1 55h0m0-7h0m0-25h0m1 28h0m0-21h0m0-23h0m0 37h0m0-14h0m0-29h0m1-2h0m0 46h0m0 0h0m0-29h0m1-8h0m0 35h0m0 8h0m0-3h0m0-24h0m0-42h0m1 42h0m0-7h0m1 21h0m0-11h0m0 27h0m0-7h0m1-25h0m0 9h0m0-20h0m0 28h0m0 1h0m0-45h0m0 31h0m0 12h0m0-39h0m0 2h0m1 23h0m0 31h0m0-27h0m0-7h0m0 15h0m0-10h0m0-8h0m1 8h0m0 10h0m0-12h0m0 10h0m0-5h0m0-42h0m0 14h0m0-2h0m1 0h0m0 24h0m0-34h0m0 52h0m0-52h0m1 54h0m0-13h0m0-35h0m0 52h0m1-59h0m0 37h0m0 3h0m1 10h0m0 3h0m0-55h0m0 36h0m1-39h0m0 54h0m0-55h0m0 47h0m0 21h0m1-13h0m0 0h0m0 5h0m0-47h0m0-12h0m0 20h0m0 3h0m0 12h0m0 13h0m1-4h0m0 17h0m0-57h0m0 36h0m1 30h0m0-54h0m0 43h0m0-19h0m0-41h0m0 22h0m0 42h0m1-14h0m0-29h0m1 46h0m1-29h0m0-28h0m0-4h0m0 41h0m0 19h0m0-5h0m1-4h0m0-16h0m0-10h0m0-17h0m0 16h0m1 39h0m0-12h0m0-34h0m0 4h0m0 45h0m0-8h0m0-3h0m0 11h0m0-1h0m1-46h0m0-6h0m0 7h0m1-23h0m0 16h0m0-3h0m0 3h0m0-6h0m0 16h0m0-4h0m0 32h0m0-25h0m0-28h0m1-4h0m0 18h0m1 43h0m0-46h0m0-10h0m0 41h0m0-1h0m0-8h0m0-15h0m1 34h0m1-17h0m0-9h0m0 43h0m0-54h0m0 52h0m1-21h0m0-25h0m0-17h0m1 1h0m0 46h0m0-30h0m1-18h0m0 29h0m0-15h0m0-4h0m1 0h0m0 31h0m0-19h0m1 43h0m0-3h0m1-38h0m0-5h0m1 21h0m0-33h0m0 19h0m0-18h0m2 26h0m1 9h0m0-23h0m0-15h0m0 2h0m0 58h0m0-32h0m0 4h0m1 20h0m0-40h0m0-8h0m1 1h0m0 34h0m0-24h0m0 13h0m0 9h0m0-31h0m0-11h0m1 41h0m0 15h0m0-52h0m0 57h0m0-58h0m1 28h0m1-21h0m0 30h0m0-44h0m0 68h0m0-66h0m1 30h0m1-29h0m0 14h0m0 15h0m0-29h0m0 23h0m1 38h0m1-51h0m0 19h0m0 9h0m0-33h0m1-7h0m1 2h0m0 43h0m0 4h0m0-46h0m0 12h0m0 50h0m0-37h0m1-28h0m1 37h0m0 5h0m1-13h0m0 0h0m0 12h0m0-10h0m0-31h0m0 36h0m0-21h0m1 5h0m0 15h0m1-32h0m0 20h0m0-17h0m0 32h0m0-14h0m0-9h0m1 21h0m1 2h0m1-21h0m0 30h0m1-34h0m1 16h0m1-11h0m1 26h0m0-9h0m1-1h0m0-19h0m0 29h0m1-2h0m1-31h0m0 35h0m0-44h0m0 21h0m1 25h0m0-30h0m3 18h0m1-32h0m1 47h0m2 1h0m1-48h0m2 36h0m1-3h0m1 18h0m1-37h0m1 32h0m0-34h0m0 37h0m6-20h0m7-12h0m1 21h0m14-24h0m17 5h0m3-6h0m-45 82h0m-2-2h0m-2-3h0m-6-9h0m-5 8h0m-4-9h0m-3-7h0m-1-5h0m-1 35h0m-1-18h0m0-12h0m-2 3h0m-1 5h0m-5-13h0m-3 16h0m-1-4h0m-1-13h0m-1 30h0m-1-28h0m-2 8h0m-1 8h0m-1 7h0m-3-14h0m0 25h0m-1-17h0m-2-9h0m0-4h0m-2 18h0m0-18h0m-1 17h0m0-14h0m0 21h0m-1-28h0m0-1h0m-2 0h0m0 26h0m-2-18h0m0 15h0m-1 11h0m-1-35h0m0 0h0m0 13h0m0-8h0m-1 4h0m0 12h0m0-18h0m-1 21h0m-1-16h0m0 10h0m0 9h0m-1-7h0m0-20h0m-1 9h0m0-3h0m0-7h0m-1 10h0m0 7h0m0 1h0m-2-6h0m-1-7h0m0 12h0m-1-14h0m-3 10h0m0-8h0m0-5h0m-1 11h0m-1 5h0m-1-1h0m0-13h0m-1 5h0m0 4h0m-1-11h0m-1 14h0m-2-12h0m0 0h0m-1 9h0m0-6h0m-6-2h0m0-3h0m-4 20h0m-2-17h0m0-3h0m-135 63h0m72 20h0m113 13h0" vector-effect="non-scaling-stroke" stroke-linecap="round" fill="none"/>
<path id="u_naive" d="M-579 -83h0m6-5h0m0-9h0m3 6h0m1 5h0m0-4h0m0 7h0m2 0h0m0-9h0m1 8h0m2-14h0m0-9h0m1 16h0m0 11h0m0-5h0m0-19h0m0 26h0m1-18h0m0 6h0m1-3h0m1-7h0m0 18h0m0-5h0m0 5h0m1 4h0m0-8h0m1-10h0m0-3h0m0 7h0m0 1h0m0-2h0m0-14h0m0-2h0m0 26h0m0-18h0m0 8h0m1 6h0m0-16h0m0 7h0m1-4h0m0-2h0m0 3h0m0-7h0m2 13h0m0-21h0m1 29h0m0-37h0m0 30h0m0-15h0m0 22h0m0-23h0m1 13h0m0 3h0m0-19h0m0-6h0m0 0h0m1 5h0m0 28h0m0-14h0m0 21h0m1 0h0m0-15h0m0-4h0m0-8h0m0 16h0m0-28h0m1 2h0m0-1h0m0 13h0m0 22h0m1-12h0m0-4h0m0 2h0m0-9h0m1-19h0m0 16h0m1 7h0m0 3h0m0-28h0m0 19h0m1 13h0m0-5h0m0-1h0m1 18h0m0-11h0m0-27h0m0 38h0m0-18h0m0 15h0m0-10h0m0-13h0m1 5h0m0 15h0m0 10h0m0-22h0m1-34h0m0 29h0m0 7h0m0 13h0m1-18h0m0 4h0m0-20h0m0 16h0m1 3h0m0-15h0m0 34h0m0-1h0m1-39h0m0-1h0m0 37h0m0-12h0m0-9h0m0-18h0m0 43h0m0-19h0m0-7h0m1 2h0m0 24h0m1-43h0m0 8h0m0 37h0m0-32h0m0-17h0m0 8h0m1 18h0m0-17h0m0 2h0m0 0h0m1 39h0m0-28h0m0 12h0m0 11h0m0-29h0m0 9h0m1 10h0m0-19h0m0-10h0m0 26h0m0-10h0m0 19h0m0-11h0m0-36h0m1 12h0m0 8h0m0-1h0m0 34h0m0 0h0m0-46h0m0 27h0m1-24h0m1 24h0m0-28h0m0 24h0m0-19h0m0-5h0m1 7h0m0 35h0m0 2h0m0-9h0m0-5h0m0-19h0m0 0h0m0 10h0m0-5h0m1-16h0m0 15h0m0 29h0m0-19h0m0 5h0m0-16h0m0 18h0m1-28h0m0 45h0m1-26h0m0-25h0m0 46h0m1-36h0m0 10h0m0-19h0m0 9h0m0 14h0m0-14h0m1 24h0m0-31h0m0 22h0m0-20h0m0 8h0m0 18h0m0 15h0m0-43h0m0 16h0m0-6h0m0 20h0m0 11h0m1-31h0m0 13h0m0-28h0m0 49h0m0-36h0m1 7h0m0 14h0m0 9h0m1 7h0m1-8h0m0 6h0m0-56h0m0 4h0m1 57h0m0-34h0m0 5h0m0-10h0m0-2h0m0 41h0m0-6h0m1-27h0m0 18h0m0-26h0m0 9h0m0-12h0m0-8h0m1 23h0m0-17h0m0 10h0m0 4h0m0 27h0m0-54h0m1 34h0m0-28h0m0-1h0m0 48h0m0-39h0m0 21h0m0-28h0m0 33h0m0-6h0m0 24h0m0-29h0m1 16h0m0-31h0m0-1h0m0 35h0m0-5h0m0 16h0m0-12h0m1-9h0m0-30h0m0-5h0m0 4h0m0 16h0m0 30h0m0-48h0m0 23h0m1-3h0m0 27h0m0-38h0m0 6h0m1 37h0m0-22h0m0-13h0m0-14h0m0 41h0m0 7h0m0 2h0m0-50h0m1 28h0m0-12h0m1 21h0m0 3h0m0 1h0m0 9h0m0-2h0m0-15h0m0-5h0m0 7h0m1 15h0m0-15h0m0-8h0m0-26h0m0 50h0m0-41h0m0-17h0m1 26h0m0-10h0m0 7h0m0-2h0m0 7h0m0-17h0m1 45h0m0-23h0m0-23h0m0 1h0m0 40h0m0 8h0m0-25h0m1-16h0m0-18h0m0 6h0m0-15h0m1 62h0m0-51h0m0 10h0m0 13h0m0 34h0m0-54h0m1 39h0m0-1h0m0-24h0m0-2h0m0 23h0m0-46h0m0 31h0m0-10h0m0 25h0m0-36h0m0-8h0m0 22h0m0 1h0m1-19h0m0 36h0m0 5h0m0 10h0m0-10h0m0 1h0m1 2h0m0-2h0m0-37h0m0 42h0m0 9h0m0-49h0m1-5h0m0 34h0m0-29h0m0 43h0m0-14h0m0-4h0m0-25h0m0 49h0m1 2h0m0-21h0m0-33h0m0-6h0m1 34h0m0 8h0m0-31h0m0 21h0m0 4h0m0 0h0m0-2h0m1 14h0m0-11h0m0-4h0m0 13h0m0-13h0m0 6h0m1 13h0m0-9h0m0-20h0m1-9h0m0 9h0m1 14h0m0-29h0m0 15h0m0 23h0m0-21h0m1-1h0m0 23h0m0 2h0m1-7h0m0-31h0m0-4h0m0 7h0m0 46h0m0-4h0m0-52h0m1 9h0m0 17h0m0 15h0m0 16h0m0-15h0m0 8h0m0-6h0m0-17h0m0 25h0m0-21h0m1-14h0m0 22h0m0-36h0m0 9h0m0 38h0m0 2h0m0-19h0m1 1h0m0-21h0m0-2h0m0 11h0m0 2h0m1 2h0m0-7h0m0 30h0m0 4h0m0 0h0m0-32h0m1-1h0m0 36h0m0-7h0m0-19h0m0-7h0m0 0h0m0-15h0m1 27h0m0-24h0m0-3h0m0-4h0m0 22h0m0 7h0m0-23h0m1 45h0m0-15h0m0 9h0m0-25h0m0 8h0m0-17h0m0-5h0m0 0h0m0-14h0m0 45h0m1-52h0m0 6h0m0 41h0m0-1h0m0 8h0m0-22h0m0 32h0m1-1h0m0-19h0m0-15h0m0 38h0m0-32h0m0-28h0m0 10h0m0 2h0m1 2h0m0 9h0m1 8h0m0 10h0m1-21h0m0 40h0m0-39h0m0 32h0m0-21h0m0-21h0m0 31h0m0-24h0m0 29h0m1-29h0m0 36h0m0-26h0m0-6h0m0 30h0m0-49h0m1 15h0m0-4h0m0 34h0m0-17h0m0 28h0m1-34h0m0-6h0m0-5h0m0 40h0m0-8h0m1-11h0m0-23h0m0 49h0m0-43h0m0 18h0m1-28h0m0-6h0m0 12h0m1 18h0m0-26h0m0 43h0m1-24h0m0-2h0m0 10h0m0 23h0m0 5h0m0-11h0m0-46h0m1 10h0m0 14h0m0-13h0m0 41h0m1-45h0m0-2h0m0 45h0m0-3h0m0 7h0m0-43h0m1 8h0m0-8h0m0-4h0m0 48h0m0-19h0m0 20h0m0-29h0m0-17h0m0 2h0m1 22h0m0-2h0m0-18h0m0 23h0m0-39h0m0 49h0m0-4h0m0 10h0m0-47h0m1-8h0m0 4h0m0 47h0m0 6h0m0-40h0m0 18h0m1-5h0m0-10h0m0-1h0m0 33h0m0-25h0m1 32h0m0-5h0m0-38h0m0 41h0m0-8h0m1-2h0m0-29h0m0 9h0m0 2h0m0-10h0m0 19h0m0 19h0m1-1h0m0 2h0m0-42h0m0 12h0m1 14h0m0-32h0m0 37h0m0-34h0m0 16h0m0-11h0m0-17h0m0 28h0m0-32h0m0 7h0m1 53h0m0-21h0m0-11h0m0 18h0m0 16h0m0-26h0m0-10h0m0-25h0m0 10h0m1 47h0m0-29h0m0 23h0m0-48h0m0 57h0m0-54h0m1 46h0m0-18h0m0 17h0m1-31h0m0 27h0m0 4h0m1-12h0m0 9h0m0-42h0m0 32h0m1 10h0m0 2h0m0-7h0m0-20h0m0-2h0m0 31h0m1-33h0m0-14h0m0 37h0m0-10h0m0 3h0m0-5h0m1 5h0m0-9h0m0 1h0m0-5h0m0 3h0m1 6h0m0 6h0m0 21h0m0-28h0m0-2h0m0 25h0m0 5h0m1-47h0m0 46h0m0-24h0m0 0h0m0 26h0m1-58h0m0 19h0m0-4h0m0 45h0m0-16h0m0-12h0m0-13h0m0 29h0m0-18h0m0 22h0m0-19h0m0 8h0m0 15h0m0-6h0m1-6h0m0-5h0m0-28h0m0 16h0m0-21h0m0 25h0m0 8h0m0-6h0m0-19h0m1 32h0m0-45h0m0 9h0m0 4h0m1 16h0m0-5h0m0-9h0m0 21h0m0-26h0m0 41h0m0-6h0m1-5h0m0-29h0m0 43h0m0-24h0m0 12h0m0-33h0m1 19h0m0 21h0m0 2h0m0-1h0m0-12h0m0 6h0m1-17h0m0-7h0m0 27h0m0 11h0m0-18h0m1 7h0m0 3h0m0-35h0m0 38h0m0 6h0m1-8h0m0-29h0m0 32h0m1-15h0m0 9h0m1-8h0m0 3h0m0 8h0m0-36h0m0 41h0m0-1h0m0-33h0m1 4h0m1 13h0m0 14h0m0-36h0m0 39h0m1-15h0m0 14h0m0-5h0m0-26h0m0 31h0m0-3h0m1 6h0m0-9h0m0-2h0m0-5h0m0-10h0m0-14h0m1 4h0m0 4h0m0-4h0m0-5h0m1-3h0m0 17h0m0 6h0m0-15h0m0 37h0m0-32h0m1-2h0m0-6h0m0 38h0m0-28h0m1 23h0m0-8h0m0 12h0m0-14h0m1-1h0m0-29h0m0 20h0m0-18h0m0 9h0m1 10h0m0-5h0m0-3h0m1-5h0m0 22h0m0 10h0m1-8h0m0 9h0m1-26h0m0 3h0m0 25h0m0-20h0m0 1h0m0-15h0m0 29h0m1-25h0m0-6h0m0 15h0m0 6h0m1-7h0m1 22h0m0-42h0m0 17h0m0-16h0m0-1h0m0 37h0m0-7h0m0 0h0m1 11h0m0 1h0m0-20h0m1 22h0m0-38h0m1 27h0m0-17h0m0 10h0m1-8h0m0-4h0m0 3h0m1 21h0m0 4h0m0-15h0m1 18h0m0-36h0m0 9h0m1 17h0m0-20h0m0 28h0m1-5h0m0-13h0m0-15h0m0 25h0m0-12h0m0 5h0m1 6h0m1-14h0m1 7h0m0 11h0m1 1h0m0-29h0m1 36h0m0-20h0m0 15h0m0 2h0m0-22h0m1 24h0m0-1h0m1-13h0m0-13h0m0 16h0m0-1h0m1-18h0m0 29h0m0-2h0m0 1h0m1 2h0m0-22h0m0 20h0m1 3h0m0-2h0m0-14h0m1-4h0m1 6h0m0-16h0m2 21h0m1 4h0m0 0h0m1-20h0m2 24h0m1-2h0m0 1h0m1 2h0m3-4h0m21-34h0m3 7h0m2-4h0m1-9h0m1 12h0m0-3h0m0 2h0m1-4h0m0 5h0m0-4h0m1 14h0m3-9h0m1-1h0m0-8h0m3 4h0m0 10h0m1-4h0m1-1h0m1 0h0m1-3h0m-24 74h0m-2-11h0m0 2h0m0 9h0m-2 14h0m0 5h0m-1-53h0m0 4h0m0 32h0m-1 2h0m0-20h0m0-20h0m-1 10h0m-1 17h0m0-7h0m0-6h0m-1 9h0m0 22h0m0 7h0m0-53h0m-1 34h0m0-23h0m0 24h0m0 0h0m0 24h0m0-2h0m-1-17h0m0-26h0m0 18h0m-1-16h0m0 36h0m0-8h0m0-1h0m-1-18h0m0 41h0m0-6h0m0-31h0m0 6h0m-1 24h0m0-1h0m0-15h0m0-41h0m0 66h0m-1-55h0m0 11h0m0-5h0m0 39h0m0 0h0m0-43h0m-1 29h0m0-36h0m0 0h0m0 60h0m0-53h0m0 53h0m0-37h0m0 9h0m0-31h0m0 29h0m0-13h0m-1 5h0m0 18h0m0-34h0m-1 13h0m0-20h0m0 44h0m0-47h0m0 51h0m0-41h0m0-4h0m-1 38h0m0-31h0m0 24h0m0 24h0m0 1h0m-1-17h0m0 23h0m0-34h0m0-30h0m0 55h0m0-31h0m0 28h0m-1-3h0m0-3h0m0-18h0m0-10h0m0-15h0m-1 57h0m0-69h0m0 64h0m0-15h0m0 12h0m0-19h0m-1-36h0m0 5h0m0 42h0m-1-26h0m0-15h0m0 44h0m0-42h0m0 31h0m0 19h0m0-51h0m0-13h0m0 26h0m0-26h0m-1 66h0m0-53h0m0 20h0m0-23h0m0 61h0m0-12h0m0-5h0m0-43h0m0 30h0m-1 5h0m0-26h0m0 50h0m-1-69h0m0 63h0m0-23h0m0-25h0m0 52h0m0-6h0m0-33h0m0 32h0m0 12h0m0-54h0m0-11h0m0 41h0m-1 14h0m0-27h0m-1-22h0m0 57h0m-1-16h0m0-48h0m0 11h0m0 35h0m0 4h0m0-8h0m-1-35h0m0-13h0m0 67h0m-1-30h0m0 3h0m0 2h0m0-39h0m0 21h0m0 42h0m0-62h0m0 13h0m0 26h0m0-22h0m0-1h0m0 1h0m-1-7h0m0 34h0m0-2h0m0-9h0m0-31h0m0 51h0m0-26h0m-1 37h0m0-45h0m0 36h0m0-14h0m0-22h0m0-4h0m0-20h0m0 56h0m0 12h0m0-64h0m-1 48h0m0 5h0m-1-45h0m0 58h0m0-21h0m0 3h0m0-3h0m0 8h0m0-15h0m-1-27h0m0-9h0m0 29h0m0 9h0m0 4h0m0-40h0m0-3h0m0 34h0m-1-25h0m0 14h0m0-22h0m0 44h0m0-42h0m0 5h0m-1 38h0m0 7h0m0 3h0m0-39h0m0 37h0m0-57h0m-1 30h0m0-30h0m0 25h0m0-7h0m0 30h0m0 23h0m0-2h0m0-53h0m-1 9h0m0 8h0m0-21h0m0 3h0m0-5h0m0 18h0m0-18h0m0 57h0m0 0h0m0-29h0m-1 13h0m0-14h0m0 4h0m0 3h0m0 20h0m0-57h0m0-3h0m0 65h0m0-30h0m0-34h0m-1 37h0m0 7h0m0-43h0m0 65h0m0-38h0m0 16h0m0 6h0m0-50h0m0 3h0m0 10h0m-1-13h0m0 62h0m0-46h0m0 47h0m0-52h0m0-1h0m-1 31h0m0-8h0m0-8h0m0-20h0m0 51h0m0-17h0m0-39h0m0 22h0m0 30h0m0-4h0m-1 14h0m0-3h0m0-56h0m0 60h0m0-30h0m0 23h0m0-45h0m0-7h0m-1 22h0m0 22h0m0 3h0m0-44h0m0 8h0m0 23h0m0-27h0m-1 23h0m0-31h0m0 26h0m0-37h0m0 24h0m0 9h0m0-32h0m0 14h0m-1 6h0m0 40h0m0-34h0m0-4h0m0 41h0m0-35h0m0 31h0m0-15h0m0 14h0m0-38h0m0 45h0m-1-34h0m0-4h0m0 19h0m-1 7h0m0-16h0m-1-1h0m0-6h0m0 40h0m0-52h0m0 38h0m0-27h0m0-29h0m0 45h0m-1 18h0m0-35h0m0 21h0m0-24h0m0 13h0m0-22h0m0 29h0m-1-29h0m0 29h0m0-46h0m0 62h0m0-42h0m0-12h0m0-2h0m0 37h0m0-38h0m-1 33h0m0 12h0m0-27h0m0 32h0m0-15h0m-1 27h0m0-29h0m0-32h0m0 37h0m0 21h0m0-58h0m0 58h0m-1-34h0m0 28h0m0 4h0m0-8h0m0-12h0m0 3h0m0-24h0m0-17h0m0 9h0m0 30h0m-1-30h0m0 43h0m0-11h0m0-35h0m0 0h0m0 17h0m0-19h0m0 40h0m-1-8h0m0 9h0m0-38h0m0 28h0m0 33h0m0-62h0m0 13h0m0 0h0m0 37h0m-1-12h0m0-11h0m0-19h0m0 47h0m0-50h0m-1 1h0m0 13h0m0 26h0m0-14h0m0-39h0m0 6h0m-1 2h0m0 25h0m0-21h0m0 36h0m0-16h0m0 31h0m0-26h0m0-36h0m0 34h0m0 34h0m-1-16h0m0 19h0m0-2h0m0-71h0m0 57h0m0-6h0m0 8h0m0 5h0m0-42h0m-1-4h0m0 22h0m0 13h0m0-27h0m0 30h0m0-21h0m0-32h0m0 68h0m-1-16h0m0-4h0m0-49h0m0 52h0m0 5h0m-1 9h0m0-14h0m0-44h0m0 34h0m0-45h0m0 34h0m0 39h0m-1-18h0m0 19h0m0-32h0m0-31h0m-1 14h0m0 41h0m0 1h0m0-29h0m0 14h0m0 11h0m0 5h0m-1-3h0m0-22h0m0-6h0m0 15h0m0-30h0m0 22h0m0-29h0m0 0h0m0 40h0m0-53h0m0 49h0m-1 15h0m0-53h0m0 45h0m0-52h0m0 8h0m0 3h0m-1 39h0m0-33h0m0 32h0m0-36h0m-1-4h0m0 26h0m0-3h0m0 31h0m0-10h0m0-49h0m0-7h0m0 16h0m0 2h0m0 5h0m-1 11h0m0-1h0m0 13h0m0-1h0m0-36h0m0 59h0m0-53h0m0 46h0m0-24h0m0-38h0m-1 11h0m0 29h0m0 30h0m0-38h0m0-4h0m0-25h0m0-5h0m0 16h0m0 5h0m-1 7h0m0-22h0m0 23h0m0 2h0m0-28h0m0 68h0m0-5h0m0 3h0m0-31h0m0 21h0m-1 13h0m0-44h0m0 6h0m0 14h0m0 3h0m0-6h0m0-22h0m0-2h0m-1 34h0m0 18h0m0-13h0m0-38h0m-1-8h0m0 47h0m0-11h0m0-47h0m0 1h0m0-4h0m0 72h0m-1-69h0m0 16h0m0 7h0m0 43h0m0-36h0m0-14h0m0-11h0m-1 21h0m0-16h0m0 22h0m0-34h0m0 44h0m-1-37h0m0 38h0m0 18h0m0-7h0m0-1h0m-1-34h0m0 15h0m0 35h0m0-22h0m0 14h0m0-59h0m0 13h0m0 15h0m0 22h0m0 1h0m0 17h0m0-55h0m0 17h0m-1-16h0m0 19h0m0 9h0m0 19h0m-1-25h0m0-16h0m0 19h0m0-32h0m0 18h0m0-26h0m0 13h0m0-6h0m0 24h0m0 6h0m0 11h0m-1-46h0m0 1h0m0 38h0m0-25h0m0-5h0m0 48h0m-1-11h0m0 21h0m0-35h0m0-37h0m0 50h0m0-4h0m0-18h0m0 37h0m0-4h0m0-12h0m0-50h0m0 55h0m0-25h0m0-28h0m0 67h0m-1-49h0m0 40h0m0-50h0m0 34h0m0 0h0m0-39h0m0-1h0m-1 6h0m0 44h0m0 3h0m0-9h0m0-37h0m0 63h0m0-28h0m-1-31h0m0-12h0m0 65h0m-1 5h0m0-65h0m0 26h0m0-26h0m0-3h0m-1 52h0m0-30h0m0 45h0m0-29h0m0 30h0m0-45h0m0-6h0m0 2h0m-1-8h0m0-9h0m0 56h0m0 5h0m0-46h0m-1 22h0m0 13h0m0-50h0m0 26h0m0-25h0m0 5h0m0 27h0m-1-25h0m0-6h0m0 42h0m-1-20h0m0-30h0m0 15h0m0 54h0m0-65h0m0 4h0m0 29h0m-1-10h0m0-17h0m0 27h0m0-34h0m0 2h0m0 51h0m0-53h0m0 0h0m0 59h0m0-34h0m0-25h0m-1 40h0m0 5h0m0-13h0m-1-29h0m0 32h0m0 33h0m0-57h0m0-9h0m0 13h0m0 26h0m0-14h0m0-10h0m0 45h0m-1-13h0m0 7h0m0-43h0m0 13h0m0-11h0m-1 18h0m0 12h0m0-38h0m0 8h0m0 29h0m0-42h0m-1 15h0m0-20h0m0 33h0m0 32h0m0-54h0m0 18h0m-1 35h0m0 2h0m0-58h0m-1 33h0m0 11h0m0-45h0m0 44h0m0-14h0m0-13h0m0-16h0m-1 12h0m0-5h0m0 33h0m0-38h0m0 33h0m-1 27h0m-1-22h0m0-41h0m0-2h0m0 19h0m0 4h0m0 21h0m0-3h0m0-25h0m0-21h0m-1 73h0m0-3h0m0-8h0m0-56h0m0 47h0m-1-48h0m0 9h0m0 55h0m-1-67h0m0 19h0m0 51h0m0-25h0m0-28h0m0 6h0m0 36h0m0-22h0m0 24h0m-1-25h0m0-37h0m0 17h0m0-16h0m0 32h0m0-28h0m0 20h0m0 5h0m0 27h0m0-2h0m-1-38h0m0 32h0m0-29h0m0 9h0m0 37h0m0-37h0m-1-5h0m0 6h0m0-16h0m0 41h0m0 12h0m-1 4h0m0-29h0m0 12h0m0-41h0m0 59h0m0-69h0m-1 56h0m0-32h0m0 4h0m0 30h0m0-2h0m-1-61h0m0 10h0m0 1h0m0 52h0m0-55h0m0 51h0m0-31h0m0-10h0m0 8h0m0-7h0m-1 45h0m0-6h0m0-16h0m0 11h0m0-30h0m-1-7h0m0 15h0m0-26h0m0 58h0m0-48h0m0 39h0m0-41h0m0 10h0m0-13h0m-1 31h0m0 15h0m0-49h0m0 4h0m0 37h0m-1 7h0m0 13h0m0-64h0m0 29h0m0-21h0m0 60h0m0-10h0m0-54h0m-1 19h0m0 46h0m0-70h0m0 26h0m0 23h0m0-19h0m0 27h0m0-20h0m0-8h0m0-22h0m0 47h0m0-55h0m0 56h0m0-20h0m0-36h0m-1 3h0m0 35h0m0 11h0m0-17h0m0-31h0m-1 4h0m0 44h0m0-50h0m-1 33h0m0-16h0m0-3h0m0-7h0m0 46h0m0-40h0m-1 12h0m0 40h0m0-1h0m0 1h0m0 4h0m0-20h0m0-38h0m0 3h0m0-7h0m0 58h0m0-14h0m-1 19h0m0-31h0m0-18h0m0-8h0m0-11h0m0 47h0m0-50h0m0 8h0m0 56h0m0 7h0m0-54h0m-1 2h0m0 4h0m0-9h0m0 34h0m0-42h0m0 28h0m0-5h0m0 27h0m0-16h0m0-6h0m-1 29h0m0 10h0m0-42h0m0 37h0m-1-54h0m0 39h0m0-12h0m0-4h0m0 12h0m0-32h0m0 16h0m-1 4h0m0-21h0m0 28h0m0-10h0m0 39h0m0-16h0m0-30h0m0-14h0m0 43h0m-1 18h0m0-27h0m0-16h0m0-20h0m0 20h0m0-23h0m0 52h0m0-43h0m-1 36h0m0-16h0m0 31h0m0-47h0m0-19h0m0 54h0m0-54h0m0 66h0m-1-22h0m0-5h0m0-32h0m0 54h0m0-6h0m0-18h0m0 3h0m-1 24h0m0-47h0m0 23h0m0 10h0m0-5h0m0 21h0m0-43h0m0-5h0m0 52h0m0 2h0m-1 0h0m0-4h0m0-29h0m0-39h0m0 8h0m0 1h0m0-4h0m-1 3h0m0 8h0m0 24h0m0 30h0m0-29h0m0 11h0m0 18h0m-1-35h0m0 14h0m0-44h0m0 58h0m0-29h0m0-6h0m0 11h0m-1-14h0m0 28h0m0-22h0m0-12h0m0 40h0m0-9h0m0-17h0m0 0h0m0 27h0m0 0h0m0-39h0m-1-7h0m0 55h0m0-37h0m0-3h0m0 0h0m-1-22h0m0 23h0m0 13h0m0-31h0m-1 33h0m0-43h0m0-1h0m0 54h0m0-1h0m0-17h0m0-3h0m0-9h0m-1 47h0m0-43h0m0 28h0m0-30h0m0 38h0m0-53h0m-1 26h0m0 24h0m0-2h0m0-18h0m0-30h0m-1-7h0m0 36h0m0-41h0m0 44h0m0 26h0m0-47h0m0-19h0m-1 58h0m0-20h0m0-18h0m0 42h0m0-34h0m0 22h0m0-43h0m0 52h0m-1-44h0m0-7h0m0 5h0m0-3h0m-1 38h0m0-26h0m0-10h0m0-8h0m0 57h0m0-51h0m0 31h0m0 2h0m-1 11h0m0-7h0m0-12h0m0-12h0m0 5h0m0 8h0m0-22h0m0 1h0m-1 18h0m0-6h0m0-9h0m0 13h0m0 6h0m0-23h0m-1 11h0m0 15h0m0-46h0m0 59h0m-1 15h0m0-18h0m0-53h0m0 66h0m0-44h0m0-7h0m-1 26h0m0-4h0m0-2h0m0 33h0m0-4h0m0-6h0m0-7h0m0-7h0m0-25h0m-1 21h0m0-15h0m0-4h0m0 30h0m0-27h0m-1-12h0m0 22h0m0-6h0m0-2h0m0-21h0m0 15h0m0-4h0m0-17h0m0 72h0m0-21h0m0-40h0m-1 8h0m0 34h0m0-33h0m0 40h0m0-34h0m0-8h0m0 47h0m0 7h0m0-10h0m0-29h0m0-28h0m-1-5h0m0 61h0m0-33h0m0 11h0m0 2h0m0 8h0m0-51h0m-1 31h0m0-30h0m0 54h0m0 14h0m0-50h0m0 12h0m0-11h0m0 34h0m0-15h0m-1-18h0m0-10h0m0 38h0m-1-44h0m0 39h0m0 2h0m0 14h0m-1 6h0m0-29h0m0-6h0m0 17h0m0-1h0m0-6h0m0 8h0m0 3h0m0-37h0m0 41h0m0-45h0m0 48h0m0-28h0m-1 21h0m0-7h0m0 24h0m0-69h0m0 36h0m-1 17h0m0 6h0m-1 8h0m0-40h0m0-2h0m0 2h0m0 3h0m0 19h0m0-26h0m0 33h0m0 8h0m0-62h0m0 4h0m-1 49h0m0-28h0m0-9h0m0 34h0m0-27h0m0 32h0m-1-31h0m0 46h0m0-18h0m0-7h0m0-20h0m-1 23h0m0-15h0m0 29h0m0 0h0m0-54h0m0 31h0m-1-23h0m0 18h0m0-24h0m0 2h0m0 31h0m0 19h0m0-19h0m0-21h0m0-2h0m0 31h0m-1-51h0m0 43h0m0-25h0m0 52h0m0-25h0m-1 1h0m0-23h0m0 4h0m0 7h0m0-12h0m0-5h0m-1 9h0m0 28h0m0-46h0m0 59h0m0-32h0m0 36h0m0-44h0m0 42h0m0-64h0m0 22h0m-1 7h0m0-5h0m0 36h0m0-66h0m0 72h0m0-41h0m-1-21h0m0 23h0m0-29h0m0 37h0m0-13h0m-1-7h0m0-7h0m-1-7h0m0 36h0m0 1h0m0-13h0m0 25h0m-1-42h0m0 43h0m0-6h0m-1-34h0m0 1h0m0-9h0m0-4h0m0 13h0m0 13h0m0 13h0m0-1h0m-1-2h0m0-4h0m0-12h0m0-8h0m-1-15h0m0 26h0m-1 22h0m0-37h0m0 22h0m0-13h0m-1 14h0m0-23h0m0 18h0m0 25h0m0-28h0m0-7h0m-1 30h0m0-26h0m0 18h0m0-35h0m0 12h0m0-20h0m0 42h0m0 3h0m0-32h0m0-10h0m0 1h0m-1 27h0m0-15h0m0 5h0m0 5h0m0 10h0m0 9h0m-1-20h0m0-12h0m-1 16h0m0-15h0m0 14h0m-1 7h0m0-5h0m0 22h0m0-40h0m0 11h0m0 9h0m0-8h0m-1-12h0m0 30h0m0 1h0m0-40h0m-1 3h0m0-2h0m0 30h0m0-22h0m-1 35h0m0-9h0m0 18h0m0-25h0m-1 0h0m0-21h0m-1-4h0m0 35h0m-1-24h0m0 30h0m0-47h0m-1 27h0m-1-9h0m0-4h0m-1 2h0m-2 8h0m-1-22h0m-1 48h0m34 28h0m1-2h0m1 1h0m0-3h0m1 3h0m2 6h0m0-5h0m2 9h0m0-2h0m1-2h0m1 0h0m0-4h0m3-5h0m0 10h0m0 13h0m1-23h0m0 4h0m0 0h0m0 1h0m1-3h0m0 5h0m1-1h0m0 8h0m1-12h0m0 8h0m1-9h0m0 0h0m0 16h0m0-9h0m0-6h0m0 18h0m0 8h0m1-24h0m0 16h0m0-14h0m0 16h0m0-7h0m1-2h0m0-1h0m0 3h0m1 4h0m0-6h0m0-6h0m1 23h0m0-19h0m0 7h0m0-11h0m0 16h0m1-15h0m1 18h0m0-10h0m0-8h0m0 7h0m1-9h0m0 1h0m0 3h0m1-4h0m0 15h0m1-13h0m0 34h0m0-31h0m0 30h0m0-22h0m0 4h0m1 12h0m0-7h0m1-25h0m0 4h0m0 30h0m0-35h0m0 17h0m0-1h0m1 28h0m0-13h0m1-21h0m0 22h0m0-4h0m1-11h0m0-14h0m0 28h0m0-33h0m0 5h0m0 12h0m1-12h0m0 21h0m0 10h0m0 0h0m0 1h0m1-29h0m0-5h0m0 11h0m1-11h0m0 15h0m0-11h0m1 17h0m0 15h0m0-8h0m0-22h0m1-8h0m0 26h0m0-19h0m0 7h0m0 2h0m1 5h0m0 15h0m1-34h0m0-1h0m0 4h0m0 13h0m0 11h0m2-29h0m0 28h0m0-27h0m0 21h0m1-3h0m0 14h0m0-15h0m1-15h0m0 41h0m0-14h0m0-30h0m0 31h0m1-3h0m0-8h0m0 9h0m0-9h0m0 32h0m0-9h0m1-6h0m1-16h0m0-9h0m0 10h0m0-23h0m0 29h0m1-16h0m0-4h0m0 35h0m0 2h0m1-10h0m0-21h0m0-11h0m0 29h0m0-3h0m0-9h0m0-11h0m1 25h0m0-2h0m0 12h0m0-14h0m0-15h0m1 10h0m0-15h0m0 20h0m0-24h0m0 39h0m1-36h0m0 3h0m0 1h0m0-5h0m0-8h0m0 5h0m0 6h0m0-4h0m1-1h0m0 3h0m0 19h0m0-8h0m0-13h0m0 1h0m0-1h0m0 0h0m0 17h0m1-24h0m0 32h0m0 2h0m0-28h0m0 31h0m0-4h0m0-31h0m1 20h0m0-16h0m0 0h0m1 7h0m0-9h0m0 42h0m0-36h0m1-9h0m0 11h0m0 7h0m0 18h0m0-2h0m0-16h0m1-12h0m0 13h0m0-14h0m0 12h0m0 7h0m0-17h0m0-8h0m1 29h0m0 2h0m0-10h0m1 15h0m0-36h0m0 10h0m0 35h0m0 5h0m1-17h0m0 3h0m1-26h0m0 38h0m0-31h0m0 0h0m0-9h0m1 39h0m0-43h0m0 2h0m1 45h0m0-16h0m0-8h0m0-26h0m0-1h0m0 47h0m0-43h0m0 14h0m1 0h0m0-4h0m1 10h0m0 8h0m0-28h0m0 24h0m0-12h0m0 17h0m0 17h0m0-40h0m1 38h0m0 6h0m0-14h0m0-4h0m0 5h0m0 3h0m0-25h0m0-2h0m1-15h0m0 29h0m0-30h0m0 16h0m0 35h0m1-13h0m0-33h0m0 11h0m0-15h0m0 54h0m1-16h0m0-3h0m0-35h0m1 44h0m0-2h0m0-42h0m0 50h0m1-43h0m0 12h0m1 3h0m0-19h0m0 29h0m1-16h0m0 32h0m0 0h0m0-35h0m0 5h0m0-8h0m1 6h0m0 12h0m0-21h0m0 43h0m0-53h0m0 56h0m0-6h0m1-40h0m0 3h0m0 30h0m1 7h0m0-42h0m0 25h0m0-32h0m0 44h0m0-26h0m1 2h0m0 26h0m0-43h0m1 0h0m0 46h0m0-34h0m0-15h0m0 45h0m1-31h0m0-11h0m1 21h0m0-17h0m0 23h0m0-4h0m0-3h0m0 13h0m1 10h0m0-19h0m0 10h0m1-17h0m0-7h0m0 8h0m0-18h0m0 14h0m0 4h0m0 14h0m0-1h0m0 20h0m1-3h0m0-37h0m0 24h0m0-23h0m0 35h0m0-25h0m1-21h0m0 5h0m0 11h0m0-12h0m1 18h0m0 9h0m0 4h0m0-32h0m0 6h0m0-10h0m0 26h0m0-2h0m1-10h0m0 22h0m0-2h0m0-38h0m0 10h0m1 25h0m1-16h0m0 10h0m0 18h0m0-17h0m0 14h0m1-27h0m0 12h0m0-19h0m0 34h0m0-37h0m0 29h0m1 9h0m0-30h0m0 0h0m0 6h0m0 17h0m0 6h0m1-24h0m0 19h0m0-39h0m0 16h0m0 28h0m0-22h0m1 0h0m0-8h0m0 37h0m0 4h0m0-9h0m0-40h0m0 26h0m0-17h0m0-11h0m0 20h0m1 22h0m0-17h0m0-24h0m0 34h0m0 0h0m0-33h0m0 17h0m0 4h0m1-17h0m0-8h0m0 23h0m0-7h0m1 0h0m1-18h0m0 5h0m0 21h0m0-5h0m0 7h0m1-14h0m0 36h0m0-13h0m1-4h0m0-22h0m0 15h0m0-16h0m0 4h0m0 6h0m0 4h0m1-8h0m0 0h0m0 32h0m0-47h0m0-1h0m1 18h0m0 11h0m0-17h0m0 0h0m1 25h0m0-23h0m0 15h0m0-29h0m0 0h0m0 30h0m1-13h0m0 25h0m0-36h0m0-2h0m0 19h0m1-15h0m0 12h0m0-3h0m0 14h0m0-18h0m0 5h0m1 3h0m0 21h0m0-28h0m1 9h0m0 8h0m0 2h0m0-24h0m0 24h0m0-30h0m0 10h0m0 3h0m0 32h0m1-20h0m0 5h0m0-21h0m0 40h0m1-35h0m0 7h0m0 3h0m0-26h0m0 20h0m1 5h0m0 7h0m1-17h0m0 1h0m0 28h0m1-40h0m0 6h0m0 22h0m0 2h0m0-32h0m0 23h0m0-1h0m0 14h0m1 3h0m0-26h0m0 11h0m0-15h0m0 6h0m1-3h0m0-14h0m0 10h0m1-11h0m0 20h0m0 13h0m0 4h0m1-30h0m0 0h0m0 20h0m1-18h0m0 25h0m0-31h0m0 38h0m1-13h0m0-1h0m0 15h0m0-12h0m0-23h0m0 29h0m0-1h0m1-28h0m0 24h0m1 9h0m0-32h0m0 1h0m1 21h0m0 3h0m0 3h0m0-22h0m0 23h0m1-30h0m0-1h0m1-4h0m0 7h0m0 12h0m1-18h0m0-1h0m0 5h0m0 16h0m0-21h0m0 9h0m0-6h0m0 17h0m0 18h0m2-18h0m0 6h0m0-22h0m1-4h0m0 16h0m0 6h0m0-10h0m1-10h0m0 29h0m1-18h0m0 3h0m0-6h0m0-6h0m2-1h0m0 9h0m0-9h0m0 6h0m1 14h0m0 8h0m0-19h0m0 4h0m0-1h0m1 5h0m0 7h0m1-5h0m1 3h0m0-18h0m0-5h0m0 19h0m0-12h0m0 17h0m0-9h0m1-4h0m1-13h0m1 6h0m0 8h0m0-11h0m1-2h0m1 15h0m0-7h0m0-9h0m0 17h0m1-17h0m1 1h0m1 22h0m0-20h0m0 5h0m0-4h0m1-6h0m0 11h0m1-1h0m13-5h0" vector-effect="non-scaling-stroke" stroke-linecap="round" fill="none"/>
<path id="u_fill" d="M337 -367h0m-179 57h0m-30 62h0m8-1h0m1 4h0m9-12h0m2-38h0m10 54h0m5-10h0m8 10h0m1 0h0m1-15h0m0 7h0m8-13h0m5 29h0m5 4h0m1-6h0m5-16h0m0-28h0m5 5h0m14-7h0m1 18h0m2 17h0m2-6h0m9 20h0m4-20h0m7 23h0m15-62h0m18 6h0m5 57h0m37-33h0m10-3h0m5-18h0m0 8h0m0-25h0m8 8h0m0-7h0m19 67h0m3-22h0m13 15h0m18 5h0m20 23h0m-2 38h0m-10-4h0m-5 15h0m-2-4h0m-3-5h0m-10-7h0m-3 13h0m-13-37h0m-2 38h0m-2-30h0m-8-27h0m-1 14h0m-1 19h0m-5-1h0m-6-25h0m0 17h0m-2 35h0m-1 6h0m-1-16h0m-1-45h0m-2 64h0m-1-30h0m-1 9h0m-1-1h0m-3-9h0m-3 7h0m-1-8h0m-1 32h0m-3-13h0m-15-8h0m0 20h0m0-15h0m-1 5h0m0-15h0m-3 21h0m-5-24h0m-4-6h0m-1-12h0m-1 15h0m-3 24h0m-6-9h0m-4-3h0m-4-19h0m-7 34h0m-7 6h0m-2-68h0m-5 57h0m0-29h0m-6 3h0m-1 11h0m-3 13h0m-8 11h0m-2-31h0m-2-4h0m-2-24h0m-1 17h0m0 35h0m-2-4h0m-2-2h0m0 11h0m-1 2h0m-2-33h0m0-13h0m-2 37h0m0-6h0m-1-37h0m-1 48h0m0 4h0m-2-20h0m-1-14h0m-1-35h0m-2 21h0m0-14h0m-1 17h0m-2 17h0m-2 28h0m-1-26h0m0 2h0m-1 23h0m0-22h0m-1-12h0m-3 21h0m0 9h0m-2-21h0m-3-32h0m-1 16h0m-1-4h0m-2 26h0m0-14h0m0-12h0m-1 38h0m0-52h0m-3 35h0m0 24h0m-2-38h0m0-14h0m-1 27h0m-1 18h0m-2-8h0m-3 3h0m-1-19h0m-1 32h0m-1-35h0m-1 9h0m-2-35h0m0 44h0m-1-20h0m-1-19h0m0-12h0m0 32h0m-1 29h0m-5-28h0m-2 31h0m-2-40h0m-1 9h0m-1-21h0m0 3h0m-2 47h0m0-23h0m-1 22h0m0-2h0m0-51h0m-4 27h0m-1 35h0m0-45h0m-2-20h0m0 62h0m-3-4h0m0-28h0m-4-11h0m-2-8h0m-2 29h0m-3-43h0m-2 47h0m-2 0h0m-6-10h0m0 29h0m-4-69h0m-19 66h0m-11-4h0m-8-14h0m-12 9h0m-2-8h0m-5 18h0m-12 3h0m-1-11h0m-3 7h0m-14-15h0m-3-10h0m-29 28h0m-5-16h0m-58-10h0m-24 6h0m-93 73h0m37 13h0m28 3h0m0-23h0m0 27h0m5-18h0m4-2h0m3 0h0m0 10h0m5-52h0m6 11h0m5 48h0m1-22h0m1 5h0m0 23h0m1-15h0m6 9h0m0 2h0m2 2h0m3-5h0m1-16h0m1 1h0m5-16h0m2 16h0m1 0h0m5-14h0m7 21h0m0-6h0m2 9h0m3-8h0m1 21h0m2-15h0m8-3h0m3 16h0m6-35h0m6 23h0m2 12h0m3-22h0m3-7h0m2-10h0m1 10h0m6 22h0m0 7h0m5-51h0m3 9h0m7 27h0m3-33h0m1 37h0m4-55h0m1 63h0m0-15h0m0 16h0m2-8h0m2-16h0m1-27h0m1 42h0m0 7h0m3-51h0m0 9h0m1 4h0m0 29h0m0-47h0m2 51h0m1-62h0m0 53h0m1 19h0m1-56h0m1 3h0m3 30h0m1-46h0m0 9h0m1 42h0m2-15h0m2 11h0m0-16h0m1 23h0m1 7h0m0 1h0m2-43h0m0-15h0m1 65h0m2-27h0m1-28h0m0 49h0m1-49h0m3 0h0m0-11h0m1 52h0m0-40h0m2 4h0m0 4h0m1 33h0m4-3h0m2 8h0m0-60h0m1 61h0m0-23h0m3-31h0m0-10h0m4 59h0m1 11h0m0-14h0m6-4h0m1-2h0m0-24h0m8 18h0m0 7h0m1-12h0m4-6h0m3 14h0m1-9h0m1 14h0m4-3h0m2 13h0m3-10h0m10-13h0m3-8h0m4-27h0m1 1h0m2 0h0m15 11h0m13 10h0m3-24h0m4 1h0m10 39h0m9 1h0m1-7h0m4-31h0m1 5h0m13 19h0m16 24h0m2-51h0m3 69h0m2-39h0m1-10h0m6-14h0m1-3h0m1 20h0m0 32h0m23 11h0m4-70h0m4 7h0m2 27h0m4-19h0m1 23h0m1 12h0m3-18h0m6-32h0m6 35h0m0 14h0m1-9h0m3-13h0m1-22h0m3 42h0m5-17h0m1 19h0m6 20h0m2-37h0m0-32h0m3 17h0m4 1h0m0-4h0m3 49h0m0 10h0m4-34h0m3-4h0m7-23h0m0 14h0m1-3h0m0 42h0m1-16h0m7-45h0m3 37h0m2-32h0m0-7h0m2 19h0m2 40h0m1-3h0m13-54h0m2 12h0m11-3h0m20 51h0m22 4h0m-52 12h0m-1 22h0m-12-24h0m-4 68h0m-17-44h0m-5-11h0m-4 37h0m-10-41h0m-13 44h0m-3-13h0m-6-8h0m-5 22h0m-4-13h0m-176-17h0m-14-25h0m0 18h0m-19-18h0m-7 72h0m-2-63h0m0 11h0m0 16h0m-9-37h0m-1 46h0m-2 15h0m-1-23h0m-5-39h0m-3 49h0m-2-39h0m-1 37h0m-5-44h0m-4 14h0m-5 37h0m-8-22h0m-3 6h0m-2-15h0m-8 43h0m0-24h0m-1-38h0m0 49h0m-3-51h0m0 53h0m0-45h0m-4 34h0m-1 1h0m-1-8h0m-1-23h0m-5 33h0m-1-29h0m-1-15h0m-4 29h0m-5 36h0m0-28h0m-2 8h0m-6-7h0m-2-7h0m-2 7h0m0-23h0m-2 16h0m-1 7h0m-2-25h0m-3-9h0m-4 9h0m-1-6h0m-6-1h0m0 15h0m-1-24h0m-2 35h0m-1-3h0m-1 19h0m-1-35h0m-1 1h0m0 7h0m-4-3h0m-1 40h0m0-13h0m0-7h0m-1 5h0m-1-29h0m-3-8h0m-6 19h0m-2-20h0m-1 43h0m-4-34h0m-1-16h0m-1 28h0m-1-23h0m-2 20h0m-12 11h0m-7-25h0m-9 11h0m0-2h0m-2-11h0m0 43h0m-1-6h0m-7-28h0m-5-12h0m-11 32h0m-3-3h0m-13-24h0m-10 61h0m54 4h0m8 67h0m2-17h0m5 19h0m13-54h0m4 18h0m0-16h0m6 14h0m13 41h0m1-17h0m1-19h0m5 23h0m0-46h0m2 51h0m10 5h0m6-25h0m9-39h0m8 66h0m4-61h0m2 0h0m1 45h0m4-20h0m2-6h0m1-21h0m15 64h0m3-33h0m1 2h0m0 31h0m0-38h0m2 14h0m1 24h0m7-70h0m4 57h0m1-2h0m16 2h0m4-2h0m2-17h0m0-12h0m3 38h0m2-42h0m3 25h0m2 22h0m1-8h0m0-13h0m4-5h0m4 14h0m2 7h0m3-33h0m41 19h0m31 0h0m47 18h0m183-41h0m-186 80h0m-17-10h0m-7 3h0m-15 26h0m-3-42h0m-3 30h0m-1-7h0m-14 6h0m0 25h0m-2-13h0m0-6h0m-5 13h0m-3-57h0m-4 13h0m-8 51h0m-8-46h0m-2 20h0m-5-20h0m-2 48h0m-1-28h0m-4-25h0m-5 3h0m-1-18h0m0 69h0m0-15h0m-1 13h0m-1-5h0m-1-55h0m0 49h0m0-10h0m0 12h0m-1-28h0m-6-12h0m-2 14h0m-6-27h0m-1 48h0m0-53h0m-2 19h0m0 51h0m-1-34h0m0 14h0m-1 19h0m-1-1h0m0-54h0m-3 58h0m-1-25h0m-5-34h0m-2 49h0m0-5h0m-5-4h0m0-24h0m0 29h0m-1-33h0m-1-5h0m-1 44h0m0-16h0m-2-46h0m-4 48h0m-1 18h0m-1-2h0m-3-28h0m-1-15h0m-1 2h0m-4 24h0m0-28h0m-3 30h0m-1-40h0m-3 27h0m0-31h0m-1 35h0m0-18h0m-1 27h0m-2 19h0m0-48h0m-1 32h0m0-13h0m0-34h0m-1 65h0m-5-71h0m0 28h0m-1-8h0m-2-14h0m-1 33h0m0 16h0m-2-20h0m-2-27h0m0 8h0m-1 14h0m0 18h0m-1 12h0m-3-53h0m0 51h0m0-34h0m-2 27h0m-1 16h0m0-47h0m-2 29h0m-1-20h0m0-28h0m0 32h0m-5 15h0m-2-12h0m-1-3h0m-1 9h0m-1 16h0m-1-46h0m-1 48h0m0-48h0m0-12h0m-3 16h0m0 14h0m-1-17h0m-1 20h0m-1 32h0m-1-64h0m-1 59h0m0-21h0m0-38h0m-1 67h0m-1-21h0m0-1h0m-4 7h0m-3-22h0m0 29h0m-3-33h0m-3 32h0m-2-46h0m0-10h0m-3 9h0m-1 50h0m-1-9h0m0-10h0m-1 9h0m-2 15h0m0-32h0m-1-5h0m-1 13h0m-6-28h0m-1 31h0m-1-45h0m-1-4h0m-9 3h0m-1 30h0m-2-25h0m-3-4h0m-2 20h0m-6 22h0m0-28h0m-11 38h0m-4-48h0m-6 56h0m-2-49h0m-2-12h0m-4 57h0m-2-14h0m-1-21h0m-59-24h0m-8 95h0m32 18h0m48-14h0m15 11h0m18-23h0m1 10h0m5 14h0m8 22h0m2-39h0m3-20h0m0 58h0m1-50h0m21 7h0m20-2h0m4 28h0m7 1h0m3-28h0m6 12h0m2-16h0m3 7h0m2-14h0m1 11h0m4 22h0m10-24h0m2-1h0m1 2h0m0 10h0m6 5h0m7 23h0m5-42h0m1 62h0m3-3h0m7-60h0m4 7h0m22-10h0m0 22h0m3 19h0m6-43h0m1 7h0m2-10h0m4 19h0m5 3h0m3-6h0m8-5h0m10 47h0m1-29h0m22-13h0m46 26h0m-38 49h0m-83-15h0m-125 16h0m-1-5h0m-36 24h0" vector-effect="non-scaling-stroke" stroke-linecap="round" fill="none"/>
<g id="u_body"><use href="#u_tem"/><use href="#u_tcm"/><use href="#u_bystander"/><use href="#u_antigen"/><use href="#u_prolif"/><use href="#u_fill"/></g></defs>
<rect width="685" height="610" fill="#fff"/>
<text x="0.1" y="11.3" font-size="13" text-anchor="start" fill="#111" font-weight="bold" stroke="#111" stroke-width="0.4">a</text>
<use href="#u_tem" transform="translate(120.2,83.6) scale(0.1452,0.18)" stroke="#5a85cc" stroke-width="0.85" opacity="0.6"/>
<use href="#u_tcm" transform="translate(120.2,83.6) scale(0.1452,0.18)" stroke="#17aab4" stroke-width="0.85" opacity="0.72"/>
<use href="#u_bystander" transform="translate(120.2,83.6) scale(0.1452,0.18)" stroke="#c97fc0" stroke-width="0.85" opacity="0.62"/>
<use href="#u_antigen" transform="translate(120.2,83.6) scale(0.1452,0.18)" stroke="#ea6660" stroke-width="0.85" opacity="0.66"/>
<use href="#u_prolif" transform="translate(120.2,83.6) scale(0.1452,0.18)" stroke="#bba94f" stroke-width="0.85" opacity="0.72"/>
<use href="#u_naive" transform="translate(120.2,83.6) scale(0.1452,0.18)" stroke="#27a55a" stroke-width="0.85" opacity="0.8"/>
<line x1="30.0" y1="15" x2="30.0" y2="154.3" stroke="#d4d4d4" stroke-width="0.9"/>
<line x1="30.0" y1="154.3" x2="197" y2="154.3" stroke="#8c8c8c" stroke-width="0.9"/>
<line x1="47.6" y1="154.3" x2="47.6" y2="157.1" stroke="#8c8c8c" stroke-width="0.7"/>
<text x="47.6" y="165.7" font-size="7.6" text-anchor="middle" fill="#3a3a3a" font-weight="normal" >−10</text>
<line x1="83.9" y1="154.3" x2="83.9" y2="157.1" stroke="#8c8c8c" stroke-width="0.7"/>
<text x="83.9" y="165.7" font-size="7.6" text-anchor="middle" fill="#3a3a3a" font-weight="normal" >−5</text>
<line x1="120.2" y1="154.3" x2="120.2" y2="157.1" stroke="#8c8c8c" stroke-width="0.7"/>
<text x="120.2" y="165.7" font-size="7.6" text-anchor="middle" fill="#3a3a3a" font-weight="normal" >0</text>
<line x1="156.5" y1="154.3" x2="156.5" y2="157.1" stroke="#8c8c8c" stroke-width="0.7"/>
<text x="156.5" y="165.7" font-size="7.6" text-anchor="middle" fill="#3a3a3a" font-weight="normal" >5</text>
<line x1="192.8" y1="154.3" x2="192.8" y2="157.1" stroke="#8c8c8c" stroke-width="0.7"/>
<text x="192.8" y="165.7" font-size="7.6" text-anchor="middle" fill="#3a3a3a" font-weight="normal" >10</text>
<line x1="27.2" y1="47.6" x2="30.0" y2="47.6" stroke="#8c8c8c" stroke-width="0.7"/>
<text x="23.8" y="50.2" font-size="7.6" text-anchor="end" fill="#3a3a3a" font-weight="normal" >4</text>
<line x1="27.2" y1="83.6" x2="30.0" y2="83.6" stroke="#8c8c8c" stroke-width="0.7"/>
<text x="23.8" y="86.2" font-size="7.6" text-anchor="end" fill="#3a3a3a" font-weight="normal" >0</text>
<line x1="27.2" y1="119.6" x2="30.0" y2="119.6" stroke="#8c8c8c" stroke-width="0.7"/>
<text x="23.8" y="122.2" font-size="7.6" text-anchor="end" fill="#3a3a3a" font-weight="normal" >−4</text>
<text x="113.2" y="182.0" font-size="8.8" text-anchor="middle" fill="#3a3a3a" font-weight="normal" textLength="30.2" lengthAdjust="spacingAndGlyphs" >UMAP_1</text>
<text transform="translate(7.5,84.3) rotate(-90)" font-size="8.8" text-anchor="middle" fill="#3a3a3a" textLength="31.4" lengthAdjust="spacingAndGlyphs">UMAP_2</text>
<text x="36.5" y="79.3" font-size="7.6" text-anchor="start" fill="#333" font-weight="normal" >CD8 naive</text>
<text x="149" y="56.3" font-size="7.6" text-anchor="start" fill="#333" font-weight="normal" >Antigen_prolif</text>
<text x="131.2" y="76.3" font-size="7.6" text-anchor="start" fill="#333" font-weight="normal" >Antigen</text>
<text x="124.8" y="111.2" font-size="7.6" text-anchor="start" fill="#333" font-weight="normal" >Bystander</text>
<text x="79.2" y="107.2" font-size="7.6" fill="#333">CD8 T<tspan font-size="5" dy="1.2">CM</tspan></text>
<text x="129.6" y="138.5" font-size="7.6" fill="#333">CD8 T<tspan font-size="5" dy="1.2">EM</tspan></text>
<text x="210.7" y="11.8" font-size="13" text-anchor="start" fill="#111" font-weight="bold" stroke="#111" stroke-width="0.4">b</text>
<line x1="236.7" y1="15.4" x2="236.7" y2="151.4" stroke="#c4c4c4" stroke-width="0.9"/>
<line x1="236.7" y1="151.4" x2="320.6" y2="151.4" stroke="#c4c4c4" stroke-width="0.9"/>
<line x1="234.1" y1="144.9" x2="236.7" y2="144.9" stroke="#a0a0a0" stroke-width="0.7"/>
<text x="230.7" y="147.5" font-size="7.6" text-anchor="end" fill="#3a3a3a" font-weight="normal" >0</text>
<line x1="234.1" y1="100.8" x2="236.7" y2="100.8" stroke="#a0a0a0" stroke-width="0.7"/>
<text x="230.7" y="103.4" font-size="7.6" text-anchor="end" fill="#3a3a3a" font-weight="normal" >1</text>
<line x1="234.1" y1="56.7" x2="236.7" y2="56.7" stroke="#a0a0a0" stroke-width="0.7"/>
<text x="230.7" y="59.3" font-size="7.6" text-anchor="end" fill="#3a3a3a" font-weight="normal" >2</text>
<line x1="244.9" y1="151.4" x2="244.9" y2="155.0" stroke="#a0a0a0" stroke-width="0.7"/>
<path d="M245.3 143.6L245.4 142.7L245.5 141.8L245.6 140.8L245.8 139.9L245.9 139.0L246.1 138.1L246.2 137.2L246.4 136.3L246.6 135.4L246.8 134.5L247.1 133.5L247.4 132.6L247.7 131.7L248.0 130.8L248.3 129.9L248.7 129.0L249.0 128.1L249.2 127.2L249.5 126.3L249.7 125.3L250.0 124.4L250.2 123.5L250.3 122.6L250.5 121.7L250.6 120.8L250.7 119.9L250.8 119.0L250.8 118.1L250.9 117.1L250.9 116.2L250.9 115.3L250.9 114.4L250.8 113.5L250.7 112.6L250.5 111.7L250.4 110.8L250.2 109.8L250.1 108.9L249.9 108.0L249.6 107.1L249.4 106.2L249.1 105.3L248.8 104.4L248.6 103.5L248.3 102.6L248.0 101.6L247.7 100.7L247.3 99.8L247.0 98.9L246.7 98.0L246.5 97.1L246.2 96.2L246.0 95.3L245.8 94.3L245.7 93.4L245.6 92.5L245.5 91.6L245.5 90.7L245.4 89.8L245.4 88.9L245.3 88.0L245.3 87.1L245.3 86.1L245.3 85.2L245.3 84.3L245.2 83.4L245.2 82.5L245.2 81.6L245.2 80.7L245.2 79.8L245.2 78.9L245.2 77.9L245.2 77.0L245.2 76.1L245.2 75.2L245.2 74.3L245.2 73.4L245.2 72.5L245.2 71.6L245.2 70.6L245.2 69.7L245.2 68.8L245.2 67.9L245.2 67.0L245.2 66.1L245.2 65.2L245.2 64.3L245.2 63.4L245.2 62.4L245.2 61.5L245.2 60.6L245.2 59.7L245.2 58.8L245.2 57.9L245.2 57.0L245.2 56.1L245.2 55.1L245.2 54.2L245.2 53.3L245.2 52.4L245.2 51.5L245.2 50.6L245.2 49.7L245.2 48.8L245.2 47.9L245.2 46.9L245.2 46.0L245.2 45.1L245.2 44.2L245.2 43.3L245.2 42.4L245.2 41.5L245.2 40.6L245.2 39.6L245.2 38.7L245.2 37.8L245.2 36.9L245.2 36.0L245.2 35.1L244.6 35.1L244.6 36.0L244.6 36.9L244.6 37.8L244.6 38.7L244.6 39.6L244.6 40.6L244.6 41.5L244.6 42.4L244.6 43.3L244.6 44.2L244.6 45.1L244.6 46.0L244.6 46.9L244.6 47.9L244.6 48.8L244.6 49.7L244.6 50.6L244.6 51.5L244.6 52.4L244.6 53.3L244.6 54.2L244.6 55.1L244.6 56.1L244.6 57.0L244.6 57.9L244.6 58.8L244.6 59.7L244.6 60.6L244.6 61.5L244.6 62.4L244.6 63.4L244.6 64.3L244.6 65.2L244.6 66.1L244.6 67.0L244.6 67.9L244.6 68.8L244.6 69.7L244.6 70.6L244.6 71.6L244.6 72.5L244.6 73.4L244.6 74.3L244.6 75.2L244.6 76.1L244.6 77.0L244.6 77.9L244.6 78.9L244.6 79.8L244.6 80.7L244.6 81.6L244.6 82.5L244.6 83.4L244.5 84.3L244.5 85.2L244.5 86.1L244.5 87.1L244.5 88.0L244.4 88.9L244.4 89.8L244.3 90.7L244.3 91.6L244.2 92.5L244.1 93.4L244.0 94.3L243.8 95.3L243.6 96.2L243.3 97.1L243.1 98.0L242.8 98.9L242.5 99.8L242.1 100.7L241.8 101.6L241.5 102.6L241.2 103.5L241.0 104.4L240.7 105.3L240.4 106.2L240.2 107.1L239.9 108.0L239.7 108.9L239.6 109.8L239.4 110.8L239.3 111.7L239.1 112.6L239.0 113.5L238.9 114.4L238.9 115.3L238.9 116.2L238.9 117.1L239.0 118.1L239.0 119.0L239.1 119.9L239.2 120.8L239.3 121.7L239.5 122.6L239.6 123.5L239.8 124.4L240.1 125.3L240.3 126.3L240.6 127.2L240.8 128.1L241.1 129.0L241.5 129.9L241.8 130.8L242.1 131.7L242.4 132.6L242.7 133.5L243.0 134.5L243.2 135.4L243.4 136.3L243.6 137.2L243.7 138.1L243.9 139.0L244.0 139.9L244.2 140.8L244.3 141.8L244.4 142.7L244.5 143.6Z" fill="#e0615a" stroke="#3a3a3a" stroke-width="0.35" stroke-opacity="0.6"/>
<path transform="scale(.1)" d="M2432 336h0m57 12h0m-26 16h0m46 25h0m-82 15h0m50-13h0m-46 42h0m44-2h0m-87 31h0m17-10h0m24 6h0m26-3h0m33 19h0m-71 20h0m95 20h0m-3 22h0m-73-6h0m-8 51h0m86-5h0m-71 31h0m48 10h0m-78 10h0m101 28h0m-8 42h0m2 13h0m-121 10h0m38 12h0m5 17h0m35 20h0m-3 38h0m-4-3h0m0-7h0m-13-1h0m16 21h0m-78 16h0m102 11h0m26 9h0m-119 24h0m76-2h0m18 14h0m-97-3h0m2 31h0m18 25h0m21-8h0m5 9h0m58 0h0m19-13h0m-51 20h0m-31 6h0m-9-2h0m-11 4h0m-10-8h0m-5 22h0m1 0h0m27-1h0m5-11h0m41 5h0m14 8h0m19-5h0m4 15h0m-13-6h0m-7 8h0m-11-9h0m-2 6h0m-84 22h0m0-13h0m9 1h0m10 6h0m71-1h0m9 0h0m4 0h0m9 3h0m7-2h0m1 0h0m-104 19h0m-2-10h0m-19 9h0m9 12h0m3-2h0m7 7h0m10-2h0m78-1h0m10-5h0m8 7h0m1 0h0m-110 11h0m-6-2h0m-10 3h0m14 10h0m4-1h0m1 8h0m93-3h0m3 6h0m6-7h0m1 11h0m-8 8h0m-101-9h0m-2 11h0m0-13h0m-10 0h0m0 4h0m122 21h0m1-2h0m5 1h0m-2 11h0m-5-3h0m0-1h0m-119 1h0m-4 23h0m127-1h0m3 18h0m-126-9h0m0 0h0m-3-2h0m-1 27h0m127-10h0m3 11h0m-3 7h0m-126 11h0m4 0h0m122 0h0m2 2h0m3 1h0m-6 20h0m-126 6h0m3 4h0m1 0h0m2 7h0m119-6h0m1 6h0m3 5h0m-5-1h0m-112 12h0m-9 5h0m1 1h0m123-4h0m5 24h0m-13-9h0m-108 9h0m-8-1h0m-3-7h0m1 16h0m11 12h0m105-1h0m8-2h0m1-2h0m-14 8h0m-91 5h0m-15 7h0m2 5h0m15 2h0m101-1h0m-19 19h0m-90-4h0m-2 0h0m-8-2h0m26 18h0m3 6h0m88 1h0m0 16h0m-19-8h0m-15 4h0m-45-2h0m-20-5h0m14 16h0m4 8h0m0 0h0m-15 6h0m-6 9h0m-5-6h0m-4 22h0m35-3h0m7 2h0m37-9h0m17-3h0m10 1h0m10 19h0m-89 13h0m4 2h0m85 12h0" stroke="#555" stroke-width="0.6" opacity="0.5" vector-effect="non-scaling-stroke" stroke-linecap="round" fill="none"/>
<path transform="scale(.1)" d="M2448 404h0m-10 561h0m8 8h0m16 8h0m-10 6h0m-21 16h0m4-7h0m1 0h0m3 4h0m0-10h0m11 5h0m1-4h0m18 3h0m-6 13h0m-12 11h0m-1-7h0m-13 5h0m-8-5h0m-2-2h0m-4 7h0m-3 9h0m17 1h0m2-2h0m9 7h0m0-11h0m12 12h0m17 7h0m-3 5h0m-5 0h0m-4-7h0m-4-1h0m-37 0h0m-10 2h0m-5 11h0m15 9h0m11-7h0m10-1h0m8 11h0m5 2h0m4-8h0m1 3h0m9-8h0m7 2h0m1 2h0m9-3h0m-4 25h0m-8-4h0m-29 1h0m-14 3h0m-5-9h0m-24 4h0m5 17h0m6-1h0m1-2h0m5 0h0m2-5h0m1 12h0m3-8h0m10 10h0m10-12h0m6 2h0m3 9h0m6-5h0m1 2h0m6-5h0m11 5h0m8-3h0m3 2h0m-6 10h0m-6 0h0m-21-3h0m-3 1h0m-17 7h0m-1-7h0m-3 12h0m-4-8h0m-5-2h0m-1 10h0m0-5h0m-2 1h0m-6 3h0m-1-11h0m-1-1h0m-13 1h0m-6 20h0m19-4h0m4 10h0m6-12h0m6 10h0m23 3h0m2-11h0m18-1h0m12 9h0m7-4h0m5-4h0m3 4h0m3-1h0m-1 14h0m-3-4h0m-2 0h0m-5-1h0m-13 1h0m-3 12h0m-15-7h0m-1 0h0m-3-3h0m-22 6h0m-8-5h0m-5 8h0m-2 1h0m-7-7h0m-2 0h0m-5 7h0m-16-12h0m2 19h0m1 7h0m0 2h0m6-12h0m4 11h0m20-13h0m1 3h0m10-3h0m14 14h0m6-9h0m5 4h0m20-9h0m10 11h0m12 1h0m-8 9h0m-1 8h0m-2-6h0m-2-3h0m-2 4h0m-2-3h0m-1 2h0m-2-6h0m-8 12h0m-7-13h0m-3 13h0m-8-3h0m-2-7h0m-1 5h0m-2-8h0m-6 7h0m-18 1h0m-9-2h0m-1 2h0m-16 1h0m0 2h0m-4 1h0m4 9h0m6 5h0m2-4h0m1 4h0m1-8h0m5-1h0m2 8h0m5-9h0m2 4h0m1 8h0m10-3h0m5-4h0m1 5h0m18-6h0m12-3h0m3 4h0m5 5h0m4-7h0m4 2h0m0-1h0m2 5h0m2-7h0m14 10h0m-6 1h0m-13 6h0m-1 2h0m-6-8h0m-10 9h0m-1 0h0m-1 1h0m-4-5h0m-4-2h0m-1-3h0m-1 11h0m-2-6h0m-3 4h0m-17-9h0m-1 9h0m-7 0h0m-9 2h0m-22 1h0m-3 0h0m1 9h0m2 0h0m1-3h0m0 3h0m8-6h0m8 4h0m1-3h0m4 13h0m7-8h0m2 3h0m5 3h0m6-7h0m6-1h0m1 7h0m4-11h0m7 10h0m12-5h0m10 2h0m16 3h0m0-2h0m4 6h0m1 6h0m-1 5h0m-2-2h0m-9 6h0m-17-14h0m-4 12h0m-1-5h0m-3-2h0m-12 1h0m-14-3h0m-8-3h0m-3 10h0m-5-4h0m-1 5h0m-7-5h0m-4-1h0m-13 9h0m4 4h0m2 7h0m0 1h0m29-11h0m9 0h0m0 11h0m2-7h0m2-2h0m15 7h0m10-8h0m7 1h0m1 10h0m6 0h0m7-3h0m0-1h0m8 7h0m-15 1h0m-2 6h0m-3 2h0m-6-4h0m-2 5h0m-7-8h0m-7-1h0m-42 0h0m-1 5h0m-5 1h0m21 21h0m3-1h0m0 0h0m13-7h0m4 3h0m6-4h0m14 4h0m4-3h0m3 8h0m2-10h0m9-3h0m-1 16h0m-1 4h0m-1-2h0m-1 8h0m-13-5h0m0 4h0m-4-7h0m-3 3h0m-1 6h0m-14-3h0m-25 4h0m6 3h0m3 10h0m5-10h0m1 13h0m1-9h0m8 9h0m18-14h0m1 9h0m0-6h0m20-2h0m-39 16h0m-3 4h0m-20 8h0m10 1h0m4 12h0m23-6h0m7 2h0m-4 11h0m-1 4h0m-13-5h0m-17 16h0m14 75h0" stroke="#111" stroke-width="0.55" opacity="0.4" vector-effect="non-scaling-stroke" stroke-linecap="round" fill="none"/>
<text transform="translate(251.5,162.3) rotate(-45)" font-size="9.0" text-anchor="end" fill="#3a3a3a">CD8 T<tspan font-size="5.4" dy="1">CM</tspan></text>
<line x1="258.5" y1="151.4" x2="258.5" y2="155.0" stroke="#a0a0a0" stroke-width="0.7"/>
<path d="M258.8 143.6L258.9 142.6L259.0 141.6L259.2 140.6L259.3 139.6L259.5 138.6L259.7 137.6L259.8 136.6L260.0 135.6L260.2 134.6L260.5 133.6L260.7 132.7L261.0 131.7L261.2 130.7L261.5 129.7L261.8 128.7L262.1 127.7L262.4 126.7L262.6 125.7L262.9 124.7L263.1 123.7L263.3 122.7L263.5 121.7L263.7 120.7L263.9 119.7L264.0 118.7L264.2 117.8L264.3 116.8L264.4 115.8L264.5 114.8L264.5 113.8L264.5 112.8L264.5 111.8L264.5 110.8L264.4 109.8L264.3 108.8L264.2 107.8L264.1 106.8L264.0 105.8L263.9 104.8L263.8 103.8L263.6 102.9L263.4 101.9L263.2 100.9L263.0 99.9L262.8 98.9L262.7 97.9L262.5 96.9L262.3 95.9L262.1 94.9L261.9 93.9L261.7 92.9L261.5 91.9L261.4 90.9L261.2 89.9L261.0 89.0L260.8 88.0L260.7 87.0L260.5 86.0L260.4 85.0L260.3 84.0L260.1 83.0L260.0 82.0L259.9 81.0L259.8 80.0L259.7 79.0L259.6 78.0L259.5 77.0L259.4 76.0L259.4 75.0L259.3 74.1L259.2 73.1L259.2 72.1L259.1 71.1L259.1 70.1L259.1 69.1L259.0 68.1L259.0 67.1L259.0 66.1L258.9 65.1L258.9 64.1L258.9 63.1L258.9 62.1L258.8 61.1L258.8 60.2L258.8 59.2L258.8 58.2L258.8 57.2L258.8 56.2L258.8 55.2L258.8 54.2L258.8 53.2L258.8 52.2L258.8 51.2L258.8 50.2L258.8 49.2L258.8 48.2L258.8 47.2L258.8 46.2L258.8 45.3L258.8 44.3L258.8 43.3L258.8 42.3L258.8 41.3L258.8 40.3L258.8 39.3L258.8 38.3L258.8 37.3L258.8 36.3L258.8 35.3L258.8 34.3L258.8 33.3L258.8 32.3L258.8 31.3L258.8 30.4L258.8 29.4L258.8 28.4L258.8 27.4L258.8 26.4L258.8 25.4L258.2 25.4L258.2 26.4L258.2 27.4L258.2 28.4L258.2 29.4L258.2 30.4L258.2 31.3L258.2 32.3L258.2 33.3L258.2 34.3L258.2 35.3L258.2 36.3L258.2 37.3L258.2 38.3L258.2 39.3L258.2 40.3L258.2 41.3L258.2 42.3L258.2 43.3L258.2 44.3L258.2 45.3L258.2 46.2L258.2 47.2L258.2 48.2L258.2 49.2L258.2 50.2L258.2 51.2L258.2 52.2L258.2 53.2L258.2 54.2L258.2 55.2L258.2 56.2L258.2 57.2L258.2 58.2L258.2 59.2L258.2 60.2L258.2 61.1L258.1 62.1L258.1 63.1L258.1 64.1L258.1 65.1L258.0 66.1L258.0 67.1L258.0 68.1L257.9 69.1L257.9 70.1L257.9 71.1L257.8 72.1L257.8 73.1L257.7 74.1L257.6 75.0L257.6 76.0L257.5 77.0L257.4 78.0L257.3 79.0L257.2 80.0L257.1 81.0L257.0 82.0L256.9 83.0L256.7 84.0L256.6 85.0L256.5 86.0L256.3 87.0L256.2 88.0L256.0 89.0L255.8 89.9L255.6 90.9L255.5 91.9L255.3 92.9L255.1 93.9L254.9 94.9L254.7 95.9L254.5 96.9L254.3 97.9L254.2 98.9L254.0 99.9L253.8 100.9L253.6 101.9L253.4 102.9L253.2 103.8L253.1 104.8L253.0 105.8L252.9 106.8L252.8 107.8L252.7 108.8L252.6 109.8L252.5 110.8L252.5 111.8L252.5 112.8L252.5 113.8L252.5 114.8L252.6 115.8L252.7 116.8L252.8 117.8L253.0 118.7L253.1 119.7L253.3 120.7L253.5 121.7L253.7 122.7L253.9 123.7L254.1 124.7L254.4 125.7L254.6 126.7L254.9 127.7L255.2 128.7L255.5 129.7L255.8 130.7L256.0 131.7L256.3 132.7L256.5 133.6L256.8 134.6L257.0 135.6L257.2 136.6L257.3 137.6L257.5 138.6L257.7 139.6L257.8 140.6L258.0 141.6L258.1 142.6L258.2 143.6Z" fill="#a8952a" stroke="#3a3a3a" stroke-width="0.35" stroke-opacity="0.6"/>
<path transform="scale(.1)" d="M2528 262h0m-7 5h0m9 9h0m9 31h0m55 2h0m33 32h0m10-1h0m10 2h0m-46 30h0m14 1h0m-84 19h0m14 4h0m17 0h0m-4 13h0m82 22h0m6 51h0m-77 31h0m46 26h0m-44 14h0m26-5h0m4-8h0m21 14h0m-61 37h0m-36 21h0m30-11h0m24 13h0m-16 10h0m-5 18h0m89 13h0m-76 0h0m64 14h0m-60 24h0m-14 27h0m4 5h0m37-5h0m13 27h0m-55-2h0m-1-3h0m-30-2h0m-9 2h0m4 15h0m27 4h0m63-1h0m20-7h0m15 25h0m-25-13h0m-20 0h0m-30 14h0m-34-12h0m87 26h0m13-2h0m9 8h0m-33 9h0m-10-12h0m-74 7h0m-11 11h0m9 2h0m2 0h0m8-4h0m3 11h0m3-11h0m11 3h0m53 3h0m20-8h0m19 7h0m-10 19h0m-73-5h0m-1 6h0m-14-11h0m-11 0h0m-17 6h0m-1 0h0m-2 6h0m98 4h0m23 4h0m-12 20h0m-9-1h0m-13 1h0m-44-6h0m-37 23h0m7-12h0m22 3h0m1 4h0m88-7h0m4 23h0m-18 0h0m-11-2h0m-8-6h0m-66 5h0m-9-2h0m-1 5h0m-6 2h0m0-8h0m-7 3h0m3 13h0m4 8h0m27-5h0m56-4h0m31 6h0m-6 15h0m-1 3h0m-3-7h0m-90 1h0m-3 4h0m-1-6h0m-6-1h0m-13 23h0m6-10h0m99 4h0m5 2h0m7 6h0m-6 2h0m-6 2h0m-102 3h0m-2 10h0m0 11h0m9-11h0m3 1h0m8 5h0m97 1h0m1-1h0m8 19h0m-14 1h0m-3 0h0m-3-8h0m-88-3h0m-5 10h0m-1-10h0m-7 7h0m-4 5h0m7 3h0m102 3h0m3 6h0m4-3h0m1-6h0m3 11h0m1-3h0m0 5h0m-110 14h0m-1-11h0m0 0h0m-4 12h0m-7 1h0m4 15h0m114 0h0m6-9h0m0 1h0m-4 19h0m-1-8h0m-2-1h0m-110 6h0m0 7h0m-5 7h0m119 1h0m5 4h0m-1 15h0m-2-4h0m-116 1h0m-2-5h0m-2 3h0m0 8h0m-2-13h0m1 23h0m4-7h0m122 0h0m1 21h0m-127 4h0m-3-8h0m126 16h0m3-5h0m-3 24h0m-122 6h0m123 17h0m-2 0h0m-119-1h0m1 20h0m0 8h0m123 13h0m-7-4h0m-113 11h0m3 8h0m107-7h0m0 1h0m3 1h0m2-2h0m0 6h0m6 4h0m-2 4h0m-5 0h0m-1 9h0m-3 1h0m-3-7h0m-106-7h0m-10 26h0m5-3h0m8-1h0m4 2h0m103-9h0m4 13h0m2-8h0m0 15h0m-4 4h0m-2-8h0m-2 3h0m-3 3h0m-112-7h0m6 21h0m0 6h0m10-8h0m6 7h0m78 0h0m2-9h0m0-1h0m7 0h0m4 27h0m-8-5h0m-1 6h0m-95 1h0m16 3h0m3 3h0m2 8h0m68-13h0m11 7h0m1 4h0m0-8h0m13 5h0m0 4h0m2 7h0m-19-2h0m-1 7h0m-7-7h0m-74 0h0m-14-3h0m-1 8h0m-13 17h0m32-4h0m74 7h0m19-3h0m4 1h0m-23 16h0m-60-3h0m-37 13h0m80 2h0m41 10h0m-23-1h0m-68 15h0m75 12h0m-8 12h0m-51 0h0m-22-9h0m-18 10h0m85 15h0m-58 4h0" stroke="#555" stroke-width="0.6" opacity="0.5" vector-effect="non-scaling-stroke" stroke-linecap="round" fill="none"/>
<path transform="scale(.1)" d="M2586 457h0m1 59h0m-2 193h0m2 22h0m-6 15h0m6 20h0m-3 22h0m-11 43h0m-1 11h0m28 22h0m-4 3h0m-7 2h0m-10-14h0m3 29h0m13-12h0m4 1h0m2 7h0m9 16h0m-30-8h0m-13-1h0m0 2h0m-10 18h0m9 6h0m22-11h0m10 1h0m5-3h0m5 1h0m5 13h0m-3 1h0m-17 1h0m0 3h0m-8-2h0m0 0h0m-2-2h0m-12 11h0m-8 1h0m-7 3h0m1 7h0m15-4h0m19 1h0m5 3h0m8 2h0m12-6h0m0-1h0m-3 18h0m-10 8h0m-2-7h0m-4 4h0m-7-10h0m-2 7h0m-1-2h0m-18 7h0m-2-2h0m-14-2h0m21 15h0m1-4h0m6-2h0m10 4h0m21 4h0m3 0h0m6-6h0m-8 22h0m-6-3h0m-2-5h0m-2 10h0m-2-7h0m-11 2h0m-5 1h0m-23 1h0m-2 0h0m-2 1h0m-10 1h0m-2-11h0m3 25h0m12-3h0m16 6h0m7-5h0m3-6h0m0 4h0m3 4h0m6 3h0m8-8h0m4-3h0m2 3h0m3 8h0m7-14h0m9 15h0m-4 11h0m-6-8h0m-3 9h0m-2-5h0m-1-1h0m-2 3h0m-2-9h0m-1 4h0m-6 1h0m-11 5h0m-5-10h0m-17 10h0m-11-7h0m-10 11h0m-1-13h0m-13 27h0m6-13h0m17 4h0m2 7h0m1-1h0m5-2h0m24-3h0m2-3h0m7 2h0m6 9h0m10-11h0m0 12h0m1-5h0m1 2h0m3-1h0m4-3h0m10-6h0m3 20h0m0 2h0m-2 5h0m0-2h0m-4-9h0m-3 5h0m-6-7h0m-7 2h0m-1 4h0m-3-4h0m-2 9h0m-10-6h0m-3 7h0m-1-11h0m-1 3h0m0 1h0m-9 8h0m-5-3h0m-1-3h0m-2-4h0m-2 0h0m-16 3h0m-9 3h0m-1 1h0m-3-9h0m-8 12h0m-7 11h0m5 5h0m15-13h0m10 11h0m3-5h0m2-1h0m2-4h0m1-2h0m4 13h0m13-2h0m4-11h0m6 12h0m7 2h0m6-7h0m2 2h0m1-3h0m4 6h0m3 2h0m5-5h0m6 6h0m-3 12h0m-3-8h0m-6-3h0m-5 12h0m-4-13h0m-1 3h0m0 10h0m-20-3h0m-3-5h0m-1-4h0m-5 4h0m-2 3h0m-4-4h0m-6 3h0m-7-4h0m-30 17h0m3 4h0m0-1h0m3-6h0m0 1h0m3 5h0m5-4h0m10 6h0m1-2h0m4-7h0m1 11h0m1 1h0m0-6h0m7-6h0m11 3h0m0 5h0m3 3h0m1-2h0m3-10h0m3 11h0m3-1h0m1-1h0m3 3h0m4-4h0m13-8h0m7 10h0m20-3h0m-7 13h0m-2 9h0m-5-2h0m-8-8h0m-11 0h0m-5 6h0m-12 1h0m-1-1h0m-17-6h0m-16 8h0m-8-9h0m-6 4h0m-10 2h0m-3 10h0m6 8h0m5-2h0m1-4h0m11 1h0m6-4h0m7 8h0m2-9h0m4 8h0m4-4h0m1-4h0m6 1h0m29 3h0m2-2h0m1 1h0m27 12h0m0 2h0m-7 0h0m-11 2h0m-14-1h0m-23-4h0m-6 12h0m-1 0h0m-1 1h0m0-5h0m-10 1h0m-12-2h0m-2 2h0m-7 3h0m-11-9h0m-6 12h0m3 8h0m3 5h0m2-12h0m3 3h0m5 0h0m3 5h0m5-4h0m6 2h0m1-4h0m6 3h0m3-7h0m9 12h0m0 2h0m11-10h0m12 2h0m18 7h0m4-12h0m3 7h0m1 5h0m0-11h0m8 2h0m3 7h0m3-6h0m1 15h0m-5 1h0m-3-2h0m-8 0h0m-2 1h0m-1-2h0m-4 5h0m-2 6h0m-3-1h0m-5 1h0m-4-8h0m-10 5h0m-2-1h0m-4-7h0m-8-1h0m-6 8h0m0-7h0m-6 1h0m-3 1h0m-2 0h0m-4 8h0m-3-5h0m-10 2h0m-2 2h0m-5-9h0m-2 6h0m-5 2h0m4 7h0m13 4h0m10-5h0m6 12h0m9-14h0m2 13h0m4 0h0m4 1h0m2-12h0m6 11h0m10-8h0m0-2h0m1 4h0m3 3h0m7 2h0m3-10h0m8 2h0m7 8h0m1-7h0m2 9h0m1 2h0m-10 3h0m-8-2h0m-2 10h0m-3-9h0m-15 3h0m-1 4h0m-8 2h0m-13-10h0m-2 3h0m-1-4h0m-3 8h0m-9-9h0m-4 4h0m-2 7h0m-8-6h0m-6 1h0m0-1h0m-1 7h0m26 17h0m14-2h0m0-2h0m6-7h0m12 7h0m1 2h0m11 2h0m4-13h0m12 5h0m2-4h0m1 4h0m1 7h0m3-2h0m0 10h0m-7 5h0m-1-8h0m-3 0h0m-6 9h0m-13 1h0m-15-10h0m-5 1h0m-3 1h0m-6 9h0m-3-13h0m-6 1h0m-1 5h0m-16-6h0m-5 1h0m0 19h0m4-5h0m1 0h0m2-1h0m5 5h0m13 6h0m18-3h0m24 6h0m0-4h0m5-8h0m8 11h0m4-6h0m5-4h0m-9 25h0m-16-11h0m-9 8h0m-2 1h0m-3 2h0m-6-13h0m-1 13h0m-1-1h0m-3-11h0m-2 3h0m-5 1h0m-4 5h0m-16-7h0m-9 11h0m0-11h0m-3-2h0m5 17h0m22 3h0m10 0h0m2 7h0m5-8h0m11 3h0m4-2h0m16 11h0m-14 5h0m-18 3h0m-13 2h0m-2-5h0m-15-2h0m6 18h0m31 2h0m3 1h0m12-8h0m3 4h0m-4 13h0m-24 9h0m-21-14h0m35 29h0m-14 5h0m-5 3h0m-5 3h0m9 8h0m15 10h0m-14 11h0m-1 18h0m4 34h0" stroke="#111" stroke-width="0.55" opacity="0.4" vector-effect="non-scaling-stroke" stroke-linecap="round" fill="none"/>
<text transform="translate(265.1,162.3) rotate(-45)" font-size="9.0" text-anchor="end" fill="#3a3a3a">CD8 T<tspan font-size="5.4" dy="1">EM</tspan></text>
<line x1="271.8" y1="151.4" x2="271.8" y2="155.0" stroke="#a0a0a0" stroke-width="0.7"/>
<path d="M272.1 141.4L272.2 140.4L272.3 139.4L272.5 138.4L272.6 137.4L272.8 136.4L273.0 135.4L273.1 134.4L273.3 133.5L273.5 132.5L273.7 131.5L274.0 130.5L274.2 129.5L274.4 128.5L274.6 127.5L274.9 126.5L275.1 125.5L275.3 124.6L275.5 123.6L275.7 122.6L275.9 121.6L276.1 120.6L276.2 119.6L276.3 118.6L276.5 117.6L276.6 116.6L276.7 115.6L276.8 114.7L276.9 113.7L277.0 112.7L277.1 111.7L277.2 110.7L277.3 109.7L277.4 108.7L277.5 107.7L277.6 106.7L277.6 105.8L277.7 104.8L277.8 103.8L277.8 102.8L277.9 101.8L277.9 100.8L277.9 99.8L277.9 98.8L277.8 97.8L277.7 96.8L277.7 95.9L277.6 94.9L277.4 93.9L277.3 92.9L277.2 91.9L277.0 90.9L276.8 89.9L276.7 88.9L276.5 87.9L276.3 87.0L276.1 86.0L275.9 85.0L275.7 84.0L275.5 83.0L275.3 82.0L275.1 81.0L274.9 80.0L274.7 79.0L274.5 78.0L274.3 77.1L274.1 76.1L273.9 75.1L273.7 74.1L273.5 73.1L273.4 72.1L273.2 71.1L273.0 70.1L272.9 69.1L272.8 68.2L272.7 67.2L272.6 66.2L272.5 65.2L272.4 64.2L272.4 63.2L272.3 62.2L272.3 61.2L272.2 60.2L272.2 59.2L272.2 58.3L272.2 57.3L272.1 56.3L272.1 55.3L272.1 54.3L272.1 53.3L272.1 52.3L272.1 51.3L272.1 50.3L272.1 49.4L272.1 48.4L272.1 47.4L272.1 46.4L272.1 45.4L272.1 44.4L272.1 43.4L272.1 42.4L272.1 41.4L272.1 40.4L272.1 39.5L272.1 38.5L272.1 37.5L272.1 36.5L272.1 35.5L272.1 34.5L272.1 33.5L272.1 32.5L272.1 31.5L272.1 30.6L272.1 29.6L272.1 28.6L272.1 27.6L272.1 26.6L272.1 25.6L272.1 24.6L272.1 23.6L271.5 23.6L271.5 24.6L271.5 25.6L271.5 26.6L271.5 27.6L271.5 28.6L271.5 29.6L271.5 30.6L271.5 31.5L271.5 32.5L271.5 33.5L271.5 34.5L271.5 35.5L271.5 36.5L271.5 37.5L271.5 38.5L271.5 39.5L271.5 40.4L271.5 41.4L271.5 42.4L271.5 43.4L271.5 44.4L271.5 45.4L271.5 46.4L271.5 47.4L271.5 48.4L271.5 49.4L271.5 50.3L271.5 51.3L271.5 52.3L271.5 53.3L271.5 54.3L271.5 55.3L271.5 56.3L271.4 57.3L271.4 58.3L271.4 59.2L271.4 60.2L271.3 61.2L271.3 62.2L271.2 63.2L271.2 64.2L271.1 65.2L271.0 66.2L270.9 67.2L270.8 68.2L270.7 69.1L270.6 70.1L270.4 71.1L270.2 72.1L270.1 73.1L269.9 74.1L269.7 75.1L269.5 76.1L269.3 77.1L269.1 78.0L268.9 79.0L268.7 80.0L268.5 81.0L268.3 82.0L268.1 83.0L267.9 84.0L267.7 85.0L267.5 86.0L267.3 87.0L267.1 87.9L266.9 88.9L266.8 89.9L266.6 90.9L266.4 91.9L266.3 92.9L266.2 93.9L266.0 94.9L265.9 95.9L265.9 96.8L265.8 97.8L265.7 98.8L265.7 99.8L265.7 100.8L265.7 101.8L265.8 102.8L265.8 103.8L265.9 104.8L266.0 105.8L266.0 106.7L266.1 107.7L266.2 108.7L266.3 109.7L266.4 110.7L266.5 111.7L266.6 112.7L266.7 113.7L266.8 114.7L266.9 115.6L267.0 116.6L267.1 117.6L267.3 118.6L267.4 119.6L267.5 120.6L267.7 121.6L267.9 122.6L268.1 123.6L268.3 124.6L268.5 125.5L268.7 126.5L269.0 127.5L269.2 128.5L269.4 129.5L269.6 130.5L269.9 131.5L270.1 132.5L270.3 133.5L270.5 134.4L270.6 135.4L270.8 136.4L271.0 137.4L271.1 138.4L271.3 139.4L271.4 140.4L271.5 141.4Z" fill="#14993f" stroke="#3a3a3a" stroke-width="0.35" stroke-opacity="0.6"/>
<path transform="scale(.1)" d="M2781 233h0m-9 9h0m2 10h0m-24 3h0m-81 20h0m1 2h0m106 10h0m-10 9h0m-62-11h0m-16 4h0m-5 20h0m53 3h0m25 15h0m-58 0h0m4 10h0m68 2h0m7 11h0m-75-5h0m-2 17h0m28 6h0m-8 8h0m20 43h0m-1-13h0m-74 2h0m-3 15h0m15 8h0m53 24h0m45 24h0m-10-6h0m-21 17h0m34 3h0m-44 7h0m-47-3h0m15 16h0m42 6h0m-9 11h0m-71 0h0m0-3h0m-1 1h0m11 24h0m62-4h0m-8 7h0m-55 15h0m83 11h0m-101 29h0m71 3h0m39 13h0m-69-11h0m-41 18h0m47 1h0m3-2h0m52 19h0m-5-1h0m-28 7h0m-58-11h0m-6 17h0m27 9h0m11-1h0m28-10h0m25 2h0m-12 21h0m-73-9h0m-18 14h0m18 11h0m31-10h0m35 0h0m19 12h0m25 11h0m-9-3h0m-15-2h0m-54 4h0m-4-7h0m-6 4h0m-14 7h0m-9-11h0m-16 14h0m3 6h0m34 0h0m54 6h0m7 3h0m23-1h0m-28 11h0m-58 0h0m-9-4h0m-8-4h0m-16 17h0m22 4h0m64-6h0m2 11h0m4-2h0m7 3h0m4-3h0m9-3h0m2 5h0m6 11h0m-15-7h0m-2 13h0m-89-13h0m-12 10h0m-4-4h0m0 17h0m15-2h0m4 2h0m6 0h0m73-4h0m9 9h0m3-13h0m14 3h0m4 4h0m2 1h0m-9 16h0m-6-2h0m-6-7h0m-4 7h0m-4 2h0m-2-5h0m-2 9h0m-66-3h0m-3-1h0m-12-6h0m-1 3h0m-14-5h0m2 24h0m0-3h0m8-5h0m8 3h0m4-5h0m2 12h0m3-13h0m0 8h0m1-6h0m72 5h0m21-1h0m2 3h0m-16 15h0m-1 3h0m-88-4h0m-4-8h0m-6 12h0m-10-7h0m21 23h0m2-4h0m83-8h0m1 8h0m14-4h0m1 9h0m4-4h0m1-1h0m2 13h0m-110 2h0m-11 10h0m3 9h0m1-3h0m6-2h0m95-7h0m7 9h0m7 0h0m3-3h0m-6 20h0m-3-1h0m-112-3h0m-7-5h0m-2-2h0m0 23h0m2 4h0m1 0h0m9-8h0m1 4h0m108-4h0m6-4h0m4 10h0m-10 11h0m-1-3h0m-112 6h0m-9 1h0m1 16h0m1-5h0m2-2h0m0 5h0m1 2h0m120-7h0m1 3h0m2-4h0m0 8h0m-1 5h0m0 1h0m-1 11h0m-119-8h0m-1 1h0m-5-1h0m-1-3h0m132 17h0m-129 19h0m-3 17h0m0-6h0m4 4h0m123-8h0m4 12h0m0 0h0m-127 16h0m0-13h0m-2 17h0m3-1h0m121 8h0m4 0h0m1-1h0m-4 19h0m-1-11h0m-122 4h0m-3 22h0m125-10h0m2 9h0m2 7h0m-3 2h0m-3 8h0m-116-12h0m-3 5h0m119 20h0m-121 7h0m-1 11h0m2 12h0m1-9h0m0 8h0m4-8h0m122 19h0m-5 5h0m-115-2h0m0-1h0m-8-3h0m-1-3h0m8 22h0m108 0h0m4-6h0m4-4h0m4 23h0m-9 0h0m-107 3h0m0 1h0m-12 13h0m6-6h0m6 10h0m102-4h0m3-7h0m0 0h0m8 10h0m2-7h0m1 12h0m-14 1h0m-97-3h0m-1 8h0m0 3h0m-3-6h0m-6-6h0m-1 11h0m2 11h0m5-5h0m2 11h0m1-4h0m2-7h0m107 7h0m-1 18h0m-3-3h0m0 2h0m-10-8h0m-4 3h0m-84 0h0m0 0h0m-11 8h0m-9-5h0m7 9h0m2 7h0m11 1h0m2-4h0m1 7h0m86-2h0m3 1h0m3-9h0m1-2h0m3 8h0m2-5h0m3 13h0m-24 1h0m-2 1h0m-71 3h0m-10 5h0m-15-1h0m-1 2h0m-1-10h0m-4-4h0m-1 17h0m6 2h0m7 10h0m6-12h0m5 8h0m10-3h0m0-3h0m62 5h0m25 0h0m6-6h0m5 0h0m-10 18h0m-4-5h0m-1 8h0m-18-9h0m-62 1h0m-10 12h0m-17-4h0m-9-2h0m7 22h0m6-13h0m9 0h0m66 8h0m3 0h0m1 2h0m5-3h0m10 1h0m17 4h0m-13 6h0m-1-2h0m0-2h0m-5 7h0m-12-3h0m-5-3h0m-46 11h0m-10-5h0m-15-2h0m-9-4h0m-6 3h0m1 21h0m7-7h0m4 4h0m9 7h0m0-2h0m8-7h0m8 0h0m81-1h0m10 1h0m-6 22h0m-12-12h0m-3 1h0m0-1h0m-17 5h0m-83 11h0m6 9h0m29-6h0m82 15h0m-16 2h0m-4-5h0m-61 14h0m70 0h0m-1 16h0m-10 8h0m-3-6h0m-46-1h0m66 15h0" stroke="#555" stroke-width="0.6" opacity="0.5" vector-effect="non-scaling-stroke" stroke-linecap="round" fill="none"/>
<path transform="scale(.1)" d="M2718 382h0m2 201h0m-2 96h0m-4 7h0m17 31h0m-18 2h0m18 8h0m0-4h0m-1 16h0m-22 14h0m8 16h0m-1-3h0m-12 9h0m-7-6h0m21 17h0m18 1h0m2 1h0m-4 21h0m-3-7h0m-7 4h0m-11-4h0m-19-7h0m-4 10h0m-1-2h0m0 17h0m4-5h0m11-3h0m19 7h0m10-2h0m3 6h0m2-1h0m5-9h0m2 0h0m8 6h0m-3 17h0m-4 2h0m-2-8h0m-3 2h0m-6 7h0m-1-5h0m-9-2h0m-4 3h0m-4-3h0m-1-1h0m-3 5h0m-3 1h0m-7-3h0m-4-5h0m-16 17h0m0 0h0m2-5h0m1 7h0m2 0h0m3-6h0m4 1h0m2-2h0m4 9h0m9 3h0m15-13h0m13 7h0m19-1h0m-6 22h0m-8-3h0m-9 4h0m-2-4h0m-9-5h0m-1-1h0m-9 1h0m-2 1h0m-1 3h0m-1 0h0m-2-4h0m-1-1h0m-5-4h0m-4 6h0m-5 7h0m-2-9h0m-2 1h0m-3 7h0m-3 2h0m-3-5h0m-1-5h0m-2 9h0m-4 12h0m1 1h0m0-1h0m1-3h0m0-1h0m8 6h0m3-2h0m11 4h0m1-1h0m7-3h0m6-6h0m5 3h0m2 6h0m3-11h0m5 8h0m5 4h0m5-14h0m0 2h0m5 4h0m0-5h0m5 11h0m8 1h0m2-1h0m12 12h0m-3 5h0m-10-3h0m-3 0h0m-1-2h0m-1 1h0m-2-3h0m-7 3h0m-4-9h0m-8 3h0m-6-2h0m0 0h0m-3 2h0m-2 6h0m0 1h0m-10-2h0m-5-8h0m-3 5h0m-8-2h0m-6 10h0m-3-4h0m-2-7h0m-1-1h0m-5 1h0m-3 4h0m-3 14h0m5 4h0m5-8h0m0 7h0m1-9h0m4 6h0m7-2h0m10 2h0m8-3h0m3 7h0m1-8h0m2 0h0m2 1h0m2-2h0m2 8h0m4 3h0m3-4h0m4-7h0m10 2h0m2-2h0m4-1h0m8 14h0m14 10h0m-3-8h0m-1 9h0m-12-6h0m-1 6h0m-3-8h0m-2-2h0m0 10h0m-3-3h0m-3 5h0m-4 2h0m-6-14h0m-1 3h0m-7 10h0m-4 0h0m-1-11h0m-3-1h0m-10 5h0m-3 5h0m-10-6h0m-1-2h0m-7 4h0m-10-3h0m-1 8h0m-2-3h0m-1-6h0m-7 20h0m1 1h0m2 1h0m4-9h0m6 12h0m7-1h0m1 0h0m6-5h0m0 0h0m3 6h0m7-5h0m3 6h0m0-8h0m6 2h0m8-4h0m4 2h0m6 5h0m8-11h0m2 13h0m0 0h0m2-3h0m4 2h0m12-8h0m1 7h0m3 0h0m6-4h0m1 2h0m3-4h0m0 0h0m9 23h0m-3-13h0m0 6h0m-5-4h0m-2 2h0m-4-1h0m-19-1h0m0 6h0m-14-5h0m-6 11h0m-12-6h0m0-7h0m-15 7h0m-2-2h0m-6-1h0m-1 0h0m-1 2h0m-1 4h0m-23 15h0m3-6h0m2 8h0m11-3h0m0-4h0m5 5h0m1-4h0m3-5h0m0-2h0m1 13h0m1-8h0m17-5h0m1 4h0m7 5h0m2-9h0m2 12h0m0 0h0m3-2h0m4-7h0m1 5h0m6-8h0m1 9h0m7-8h0m2 9h0m1-7h0m16 8h0m5-1h0m2-1h0m4-3h0m4 5h0m1 6h0m0 8h0m-1 0h0m-4-8h0m-7 3h0m-4 4h0m-5 4h0m-6-13h0m-2 12h0m-7-5h0m-1 1h0m-3-6h0m-2 0h0m-9 12h0m-1-4h0m0-10h0m-2 14h0m-1-3h0m-5-8h0m-8 3h0m-2 2h0m-3-2h0m-7 6h0m-1-10h0m-10 10h0m-9-12h0m0 14h0m-1-1h0m-8-6h0m-1-3h0m-2-1h0m-3 3h0m-2 19h0m6 3h0m3-12h0m13 8h0m4 1h0m8 2h0m3 0h0m1-6h0m16 5h0m2-1h0m5-3h0m0 6h0m4-2h0m1-1h0m20-1h0m9-1h0m0-7h0m0 6h0m24 18h0m-2-8h0m-6-1h0m-7 13h0m0-4h0m-2 1h0m-9 3h0m-2-10h0m-3 5h0m-2-2h0m-8-3h0m-3 4h0m-5-2h0m-1 7h0m-6-11h0m-2 3h0m-1 4h0m0 1h0m-4-1h0m-6-8h0m-7 3h0m-7-4h0m-5 11h0m-2-10h0m-6 1h0m0 3h0m-8 5h0m-5-1h0m-6-4h0m-1 4h0m-1 20h0m0-1h0m0-4h0m12-1h0m1 1h0m28-4h0m1-3h0m7 2h0m1 9h0m4 1h0m5-5h0m0-6h0m5-2h0m16 1h0m0-2h0m2 2h0m6 2h0m6 10h0m7 0h0m2-11h0m6 2h0m2 4h0m3-6h0m1 4h0m2-6h0m-5 18h0m-2 1h0m0 6h0m-4-10h0m0 5h0m-1 3h0m-2-9h0m-4 3h0m-1 11h0m-4-11h0m-7 0h0m-1 6h0m-5-3h0m-2-1h0m-3 0h0m-2 7h0m-1-6h0m-3-3h0m-5 2h0m-15 4h0m-4-6h0m-8-3h0m-2 12h0m-3 2h0m-3-3h0m-1 2h0m-7-5h0m-2 5h0m-3-11h0m-1 5h0m-1 7h0m-1-5h0m-10 4h0m-2 15h0m2-2h0m3-4h0m1-5h0m2 7h0m5-4h0m3 7h0m1 0h0m5-12h0m1 5h0m2 5h0m12 2h0m1-7h0m2 0h0m3-3h0m1 6h0m1-5h0m9 11h0m4-3h0m8-5h0m4 4h0m1-2h0m3 0h0m3 6h0m0-8h0m1-4h0m1 11h0m9 1h0m1-3h0m14-10h0m5 27h0m-1-8h0m-1 2h0m0 2h0m-7 4h0m-17-10h0m-2-3h0m-7 4h0m-7-2h0m-1-2h0m-3 14h0m-1-3h0m-8 1h0m-5-1h0m-7-2h0m-6 2h0m-4 0h0m-12-4h0m-6 7h0m-7 0h0m-8-10h0m3 22h0m6 2h0m4-10h0m1 0h0m4 9h0m0-4h0m4-5h0m1 2h0m2 3h0m2-4h0m1 4h0m1-4h0m5 4h0m6-7h0m2-1h0m21 4h0m14 2h0m3 6h0m1-2h0m11 1h0m1-2h0m0 1h0m3 0h0m1 1h0m9-1h0m4-4h0m1 8h0m2-12h0m-2 27h0m-1-2h0m-2-1h0m-4-1h0m-3-10h0m-1 1h0m-8 5h0m-1 5h0m-1-4h0m-4 3h0m-18-6h0m-1 6h0m-4-1h0m0-9h0m0 6h0m-1-4h0m-5 8h0m-3 1h0m-2 1h0m-10 2h0m-3-10h0m-5-1h0m-7 6h0m-2 5h0m0-4h0m-3 2h0m-8-5h0m0-1h0m-3 5h0m-3-2h0m-3-5h0m0-2h0m-2 7h0m6 15h0m3 0h0m1-8h0m14 8h0m4 4h0m0-5h0m2 4h0m7 2h0m4-7h0m4 6h0m7-5h0m2-6h0m7 7h0m1-6h0m2-1h0m5 11h0m1-12h0m7 10h0m0 2h0m1 1h0m0-6h0m2-8h0m10 14h0m2 0h0m1-4h0m2-6h0m2-1h0m5 6h0m3-2h0m-11 20h0m-9-8h0m-2 1h0m-12 3h0m-2-2h0m-1 1h0m-2-2h0m-20 6h0m-2-4h0m0 7h0m-1-11h0m-8-1h0m-5 8h0m-9-1h0m-1-4h0m-7 6h0m-1 2h0m0-1h0m-6-12h0m-2 3h0m2 20h0m2 4h0m4-8h0m2 1h0m2-3h0m4-2h0m4 10h0m1 0h0m4-2h0m4 6h0m3-7h0m2-1h0m1-3h0m1-3h0m6 3h0m2 4h0m3-5h0m2 1h0m2 11h0m3-5h0m2-8h0m1 5h0m1 8h0m2-1h0m5-6h0m1-7h0m5 7h0m2-2h0m2-5h0m7 5h0m12 8h0m5 2h0m-21 14h0m-7-4h0m-6-8h0m-1 7h0m-3-7h0m-3 0h0m-4 8h0m-6-1h0m-1 5h0m-1-5h0m-7-5h0m-4 10h0m-6 0h0m-1-3h0m-3-2h0m-10-9h0m-1 1h0m-8 1h0m-4 2h0m3 13h0m5 1h0m4 11h0m5-12h0m1 6h0m0 3h0m1 0h0m7 3h0m2-10h0m3 10h0m0-10h0m1 6h0m3-9h0m17 12h0m6 1h0m0-7h0m2 7h0m4-10h0m0-1h0m3-3h0m2 5h0m7 4h0m13-3h0m3 0h0m1 6h0m1-7h0m-3 15h0m-14 4h0m-2 5h0m-5 0h0m-8-10h0m-9 7h0m-8-9h0m-2 7h0m-1-5h0m-1 10h0m-3-4h0m-10-9h0m-7 7h0m-3 2h0m-6-5h0m-5 1h0m3 9h0m12 13h0m1 0h0m11-3h0m1-9h0m0 2h0m7 1h0m1 6h0m9-9h0m5 2h0m0-2h0m6 0h0m2 8h0m5-7h0m6 12h0m4-6h0m2 6h0m4-9h0m2 10h0m-3 6h0m-2 6h0m-6-4h0m-1-4h0m-1 10h0m-40-9h0m-12-3h0m0-1h0m-3 7h0m-11-1h0m7 21h0m7-1h0m2-5h0m0-4h0m7 7h0m7-1h0m19 1h0m11-8h0m7 7h0m4-1h0m0 5h0m1 10h0m-4 0h0m-2 6h0m0-9h0m-2 7h0m-17 0h0m-4-4h0m-3 5h0m-2-12h0m0 1h0m-25 2h0m-6 5h0m3 6h0m9 6h0m21 3h0m8 1h0m14 2h0m1-4h0m5-3h0m2-1h0m-7 19h0m-2-5h0m-2-1h0m-21 6h0m-4-1h0m-4 4h0m-2 1h0m-1 13h0m22-6h0m13-2h0m-29 28h0m5 9h0m6 1h0m8-7h0m2 0h0m-4 20h0m-8-5h0" stroke="#111" stroke-width="0.55" opacity="0.4" vector-effect="non-scaling-stroke" stroke-linecap="round" fill="none"/>
<text transform="translate(278.4,162.3) rotate(-45)" font-size="9.0" text-anchor="end" fill="#3a3a3a">CD8 naive</text>
<line x1="285.7" y1="151.4" x2="285.7" y2="155.0" stroke="#a0a0a0" stroke-width="0.7"/>
<path d="M286.0 144.5L286.0 143.4L286.0 142.4L286.0 141.4L286.0 140.4L286.0 139.3L286.0 138.3L286.0 137.3L286.0 136.3L286.0 135.3L286.0 134.2L286.0 133.2L286.0 132.2L286.0 131.2L286.0 130.1L286.1 129.1L286.1 128.1L286.1 127.1L286.2 126.0L286.2 125.0L286.3 124.0L286.4 123.0L286.4 122.0L286.5 120.9L286.6 119.9L286.6 118.9L286.7 117.9L286.8 116.8L286.8 115.8L286.9 114.8L287.0 113.8L287.2 112.8L287.3 111.7L287.4 110.7L287.6 109.7L287.7 108.7L287.8 107.6L288.0 106.6L288.1 105.6L288.3 104.6L288.4 103.5L288.6 102.5L288.7 101.5L288.9 100.5L289.0 99.5L289.2 98.4L289.4 97.4L289.5 96.4L289.7 95.4L289.9 94.3L290.0 93.3L290.2 92.3L290.4 91.3L290.5 90.2L290.7 89.2L290.8 88.2L290.9 87.2L291.0 86.2L291.1 85.1L291.2 84.1L291.3 83.1L291.4 82.1L291.4 81.0L291.5 80.0L291.6 79.0L291.6 78.0L291.7 77.0L291.8 75.9L291.8 74.9L291.8 73.9L291.8 72.9L291.8 71.8L291.8 70.8L291.8 69.8L291.8 68.8L291.7 67.7L291.7 66.7L291.7 65.7L291.7 64.7L291.6 63.7L291.6 62.6L291.5 61.6L291.4 60.6L291.2 59.6L291.1 58.5L290.9 57.5L290.7 56.5L290.5 55.5L290.3 54.5L290.1 53.4L290.0 52.4L289.8 51.4L289.6 50.4L289.4 49.3L289.2 48.3L288.9 47.3L288.7 46.3L288.5 45.2L288.3 44.2L288.1 43.2L287.8 42.2L287.6 41.2L287.4 40.1L287.2 39.1L287.0 38.1L286.8 37.1L286.7 36.0L286.6 35.0L286.5 34.0L286.4 33.0L286.4 31.9L286.3 30.9L286.2 29.9L286.2 28.9L286.1 27.9L286.1 26.8L286.0 25.8L286.0 24.8L286.0 23.8L286.0 22.7L285.4 22.7L285.4 23.8L285.4 24.8L285.4 25.8L285.3 26.8L285.3 27.9L285.2 28.9L285.2 29.9L285.1 30.9L285.0 31.9L285.0 33.0L284.9 34.0L284.8 35.0L284.7 36.0L284.6 37.1L284.4 38.1L284.2 39.1L284.0 40.1L283.8 41.2L283.6 42.2L283.3 43.2L283.1 44.2L282.9 45.2L282.7 46.3L282.5 47.3L282.2 48.3L282.0 49.3L281.8 50.4L281.6 51.4L281.4 52.4L281.3 53.4L281.1 54.5L280.9 55.5L280.7 56.5L280.5 57.5L280.3 58.5L280.2 59.6L280.0 60.6L279.9 61.6L279.8 62.6L279.8 63.7L279.7 64.7L279.7 65.7L279.7 66.7L279.7 67.7L279.6 68.8L279.6 69.8L279.6 70.8L279.6 71.8L279.6 72.9L279.6 73.9L279.6 74.9L279.6 75.9L279.7 77.0L279.8 78.0L279.8 79.0L279.9 80.0L280.0 81.0L280.0 82.1L280.1 83.1L280.2 84.1L280.3 85.1L280.4 86.2L280.5 87.2L280.6 88.2L280.7 89.2L280.9 90.2L281.0 91.3L281.2 92.3L281.4 93.3L281.5 94.3L281.7 95.4L281.9 96.4L282.0 97.4L282.2 98.4L282.4 99.5L282.5 100.5L282.7 101.5L282.8 102.5L283.0 103.5L283.1 104.6L283.3 105.6L283.4 106.6L283.6 107.6L283.7 108.7L283.8 109.7L284.0 110.7L284.1 111.7L284.2 112.8L284.4 113.8L284.5 114.8L284.6 115.8L284.6 116.8L284.7 117.9L284.8 118.9L284.8 119.9L284.9 120.9L285.0 122.0L285.0 123.0L285.1 124.0L285.2 125.0L285.2 126.0L285.3 127.1L285.3 128.1L285.3 129.1L285.4 130.1L285.4 131.2L285.4 132.2L285.4 133.2L285.4 134.2L285.4 135.3L285.4 136.3L285.4 137.3L285.4 138.3L285.4 139.3L285.4 140.4L285.4 141.4L285.4 142.4L285.4 143.4L285.4 144.5Z" fill="#16a9ad" stroke="#3a3a3a" stroke-width="0.35" stroke-opacity="0.6"/>
<path transform="scale(.1)" d="M2851 280h0m47 3h0m7-10h0m-61 40h0m43-6h0m20 17h0m-23 4h0m-47-10h0m-31-3h0m60 23h0m24 8h0m-2 0h0m-62 3h0m-14 23h0m78-7h0m-88 11h0m18 21h0m1 1h0m72 18h0m-76-1h0m-16 2h0m-6-4h0m-3-4h0m12 21h0m92-6h0m19 15h0m-13 7h0m-16 3h0m-74-11h0m-17 11h0m-1-2h0m27 17h0m3-2h0m72-5h0m25-3h0m-5 25h0m-12-13h0m-110 26h0m25-3h0m3-9h0m90 11h0m9 1h0m-12 8h0m-6 5h0m-97 15h0m8-8h0m102 2h0m0 21h0m-3 4h0m-4-12h0m-5 8h0m-112-10h0m0 29h0m117 9h0m-112 9h0m5 12h0m109-11h0m3 16h0m-114 9h0m-8 1h0m1 12h0m1-11h0m122 13h0m4-4h0m-125 7h0m123 27h0m-122 6h0m-1 22h0m127-5h0m-126 27h0m126 44h0m-129 10h0m-2-5h0m0 10h0m129 10h0m1 15h0m-129 1h0m1 16h0m5 30h0m119-13h0m2 9h0m3 1h0m-125 6h0m2 25h0m116-8h0m6-2h0m-10 22h0m-111 4h0m-1-12h0m-5 14h0m0 11h0m1 2h0m10-9h0m104 8h0m9-11h0m0 3h0m5 1h0m-2 24h0m-129-12h0m9 27h0m105-11h0m7 4h0m10-1h0m-9 10h0m-9 13h0m-99 10h0m6-5h0m95 9h0m10-13h0m3 10h0m-129 8h0m24 21h0m106 13h0m-22-3h0m-87 7h0m-12-8h0m7 17h0m5-4h0m0 7h0m2 11h0m6 19h0m67-3h0m2 2h0m33 16h0m-92 4h0m0-3h0m-34 1h0m14 16h0m101 1h0m6-6h0m6-2h0m-22 23h0m-74-2h0m-9-4h0m-19 10h0m90 24h0m-64 11h0m56-5h0m17 0h0m3 2h0m1-1h0m-2 27h0m-64-10h0m-8 2h0m91 27h0m-35 8h0m-6-9h0m0 1h0m-77 6h0m94 14h0m25 16h0m-12-8h0m-117 2h0m75 16h0m9 4h0m39-6h0m1 7h0m-71 19h0m-26 0h0m-16-13h0m-11 15h0m59 17h0m42 13h0m13 3h0m14 14h0m-47 11h0m2 2h0m-73 22h0m-9 115h0" stroke="#555" stroke-width="0.6" opacity="0.5" vector-effect="non-scaling-stroke" stroke-linecap="round" fill="none"/>
<path transform="scale(.1)" d="M2858 296h0m-2 76h0m-10 31h0m18-3h0m13 18h0m-13-13h0m0 14h0m-22-12h0m23 39h0m-5-10h0m-31 19h0m20 9h0m6-4h0m1 4h0m7-6h0m6-2h0m2 8h0m2-4h0m13 2h0m-11 16h0m-22-11h0m-7-2h0m-11 11h0m-5-2h0m45 34h0m-10-9h0m-3 6h0m-2-10h0m-3 11h0m-16-8h0m1 19h0m2-5h0m18 2h0m3 9h0m10-9h0m9-1h0m3 12h0m-7 7h0m-13 2h0m-12-5h0m-2-4h0m-9 12h0m-1-4h0m-11 2h0m-1-9h0m-10 12h0m-1-4h0m-5 14h0m6-5h0m4 5h0m7 6h0m2-5h0m25-5h0m7 4h0m9 3h0m18-3h0m0 2h0m-29 12h0m-18 6h0m-10-2h0m-9 2h0m-15 0h0m3 6h0m6 0h0m10-4h0m0 10h0m5 0h0m6-5h0m38 0h0m28 15h0m0-2h0m-4-1h0m0 0h0m-5 3h0m-6-5h0m-3 10h0m-3-4h0m-10-4h0m-6 7h0m-3 2h0m-8-7h0m-3 8h0m0 1h0m-11-5h0m-12-7h0m-1 13h0m-1-11h0m-1 4h0m-3-4h0m-1 8h0m-3-7h0m-17 9h0m-3 15h0m5-5h0m4-1h0m0 6h0m2-11h0m5 11h0m15-4h0m4-2h0m9 5h0m12-2h0m4 2h0m6-10h0m8-1h0m24 5h0m-8 16h0m-2-1h0m-5 1h0m-8 4h0m-3-6h0m-5 8h0m-3-5h0m-27-1h0m-3-6h0m-32 27h0m3-1h0m2-5h0m0-5h0m15 9h0m10-10h0m12 5h0m37-4h0m23 4h0m2 2h0m4-1h0m0 0h0m2 13h0m-8 0h0m-6-3h0m-13 7h0m-12-1h0m-19 4h0m-21-4h0m-14-2h0m-4 1h0m-19-6h0m-1 25h0m5-6h0m20 6h0m1-3h0m29-6h0m22 7h0m4 1h0m13-2h0m24 9h0m-4 11h0m-23-9h0m-6-4h0m-21 2h0m-4 6h0m-6 4h0m-1-5h0m-8 0h0m0 2h0m-1-7h0m-18 8h0m-9-4h0m-1 7h0m-18 7h0m2-5h0m0 1h0m11 9h0m17-7h0m7-3h0m7 5h0m17-2h0m54 4h0m6 18h0m-18 4h0m-9-9h0m-16-1h0m-9 9h0m-23-4h0m-14 1h0m-11-8h0m-1 0h0m0 0h0m-13 5h0m-4 18h0m7-9h0m10 13h0m0-5h0m14 1h0m1-6h0m30 4h0m1 1h0m20 5h0m7-12h0m5 0h0m4 10h0m5-6h0m6-1h0m-5 11h0m-1 0h0m-9 4h0m-1 5h0m-16 1h0m-11-8h0m-8 1h0m-13-1h0m-13 6h0m-1-5h0m-3 0h0m0 1h0m-9 9h0m-10-9h0m-7 0h0m-4 19h0m4-5h0m10-2h0m6 2h0m6 2h0m18 1h0m5-7h0m4 6h0m8-3h0m21-3h0m16 8h0m14-7h0m5 21h0m-22-5h0m-3-2h0m-7 0h0m-12 9h0m-2 4h0m-3-2h0m-1-9h0m-1 6h0m-19-4h0m-25-3h0m-13 11h0m-2-4h0m-7-3h0m23 20h0m21-8h0m3 5h0m4 1h0m17 6h0m3-11h0m15-1h0m30-2h0m-9 18h0m-7 4h0m0-5h0m-12 4h0m-1-5h0m-3 5h0m-15 5h0m-17-11h0m-8 9h0m-10-4h0m-8 0h0m-3 6h0m-21 13h0m1-9h0m2 7h0m9-2h0m4-2h0m55-3h0m2 14h0m5-1h0m20-10h0m5 9h0m4 13h0m-10-5h0m-5 7h0m-1 0h0m-53-3h0m-6-2h0m-6 1h0m-9 2h0m-11-5h0m0 7h0m10 7h0m4 9h0m21-8h0m8 3h0m7-8h0m0 1h0m11 4h0m29 3h0m13 5h0m-9 14h0m-4-7h0m-38-3h0m-15 7h0m-13 5h0m-7 14h0m1-9h0m2 9h0m20 1h0m5 0h0m9-6h0m2 5h0m1-11h0m1 1h0m7-1h0m1 2h0m3 9h0m9-12h0m6 3h0m5 0h0m8-2h0m1-2h0m0 24h0m-3-9h0m-20 7h0m-10-5h0m-4 3h0m-5 8h0m-11-4h0m-5-9h0m-1 4h0m-10-2h0m-1 10h0m-5 0h0m-5 0h0m-4-9h0m-3 0h0m-3-2h0m-4 15h0m5 5h0m23 5h0m4-9h0m17 4h0m13-2h0m1 8h0m1 0h0m9-10h0m0 5h0m5 2h0m1 4h0m4-10h0m8 4h0m-8 11h0m-3 3h0m-44 5h0m-5-11h0m-2 6h0m-12-2h0m1 15h0m20 3h0m3 4h0m12 3h0m6-2h0m10 2h0m12-10h0m-4 21h0m0-10h0m-2 2h0m-2 4h0m-6 5h0m-39-5h0m-5 6h0m-1-4h0m3 21h0m4 0h0m11-14h0m3 9h0m2 0h0m7 5h0m9-12h0m17 19h0m-7 3h0m-9-2h0m-16-3h0m-30 15h0m1 3h0m14-5h0m1 7h0m7 2h0m14-10h0m5 3h0m6 1h0m-1 14h0m-12 5h0m-19 5h0m-3-1h0m-13-6h0m7 14h0m11 5h0m9-6h0m9-2h0m-21 23h0m8 4h0m29 19h0m-39 11h0m0 11h0m18 5h0m-1 322h0" stroke="#111" stroke-width="0.55" opacity="0.4" vector-effect="non-scaling-stroke" stroke-linecap="round" fill="none"/>
<text transform="translate(292.3,162.3) rotate(-45)" font-size="9.0" text-anchor="end" fill="#3a3a3a">Antigen_prolif</text>
<line x1="299.1" y1="151.4" x2="299.1" y2="155.0" stroke="#a0a0a0" stroke-width="0.7"/>
<path d="M299.4 144.5L299.4 143.4L299.4 142.4L299.4 141.4L299.4 140.3L299.4 139.3L299.4 138.3L299.5 137.2L299.5 136.2L299.5 135.2L299.6 134.1L299.6 133.1L299.7 132.1L299.7 131.0L299.8 130.0L299.9 128.9L300.0 127.9L300.1 126.9L300.2 125.8L300.3 124.8L300.4 123.8L300.5 122.7L300.6 121.7L300.7 120.7L300.9 119.6L301.0 118.6L301.1 117.6L301.3 116.5L301.4 115.5L301.6 114.5L301.8 113.4L301.9 112.4L302.1 111.4L302.3 110.3L302.5 109.3L302.6 108.3L302.8 107.2L302.9 106.2L303.1 105.2L303.2 104.1L303.4 103.1L303.5 102.1L303.6 101.0L303.7 100.0L303.9 99.0L304.0 97.9L304.1 96.9L304.2 95.9L304.3 94.8L304.4 93.8L304.5 92.8L304.6 91.7L304.7 90.7L304.8 89.7L304.8 88.6L304.9 87.6L304.9 86.6L305.0 85.5L305.0 84.5L305.1 83.5L305.1 82.4L305.2 81.4L305.2 80.4L305.2 79.3L305.2 78.3L305.1 77.3L305.1 76.2L305.0 75.2L305.0 74.2L304.9 73.1L304.8 72.1L304.8 71.0L304.7 70.0L304.6 69.0L304.5 67.9L304.4 66.9L304.3 65.9L304.2 64.8L304.1 63.8L303.9 62.8L303.7 61.7L303.6 60.7L303.4 59.7L303.2 58.6L303.1 57.6L302.9 56.6L302.7 55.5L302.6 54.5L302.4 53.5L302.2 52.4L302.1 51.4L301.9 50.4L301.7 49.3L301.5 48.3L301.4 47.3L301.2 46.2L301.0 45.2L300.9 44.2L300.7 43.1L300.5 42.1L300.4 41.1L300.3 40.0L300.1 39.0L300.0 38.0L300.0 36.9L299.9 35.9L299.8 34.9L299.8 33.8L299.7 32.8L299.7 31.8L299.6 30.7L299.6 29.7L299.6 28.7L299.5 27.6L299.5 26.6L299.4 25.6L299.4 24.5L299.4 23.5L299.4 22.5L299.4 21.4L298.8 21.4L298.8 22.5L298.8 23.5L298.8 24.5L298.8 25.6L298.7 26.6L298.7 27.6L298.6 28.7L298.6 29.7L298.6 30.7L298.5 31.8L298.5 32.8L298.4 33.8L298.4 34.9L298.3 35.9L298.2 36.9L298.2 38.0L298.1 39.0L297.9 40.0L297.8 41.1L297.7 42.1L297.5 43.1L297.3 44.2L297.2 45.2L297.0 46.2L296.8 47.3L296.7 48.3L296.5 49.3L296.3 50.4L296.1 51.4L296.0 52.4L295.8 53.5L295.6 54.5L295.5 55.5L295.3 56.6L295.1 57.6L295.0 58.6L294.8 59.7L294.6 60.7L294.5 61.7L294.3 62.8L294.1 63.8L294.0 64.8L293.9 65.9L293.8 66.9L293.7 67.9L293.6 69.0L293.5 70.0L293.4 71.0L293.4 72.1L293.3 73.1L293.2 74.2L293.2 75.2L293.1 76.2L293.1 77.3L293.0 78.3L293.0 79.3L293.0 80.4L293.0 81.4L293.1 82.4L293.1 83.5L293.2 84.5L293.2 85.5L293.3 86.6L293.3 87.6L293.4 88.6L293.4 89.7L293.5 90.7L293.6 91.7L293.7 92.8L293.8 93.8L293.9 94.8L294.0 95.9L294.1 96.9L294.2 97.9L294.3 99.0L294.5 100.0L294.6 101.0L294.7 102.1L294.8 103.1L295.0 104.1L295.1 105.2L295.3 106.2L295.4 107.2L295.6 108.3L295.7 109.3L295.9 110.3L296.1 111.4L296.3 112.4L296.4 113.4L296.6 114.5L296.8 115.5L296.9 116.5L297.1 117.6L297.2 118.6L297.3 119.6L297.5 120.7L297.6 121.7L297.7 122.7L297.8 123.8L297.9 124.8L298.0 125.8L298.1 126.9L298.2 127.9L298.3 128.9L298.4 130.0L298.5 131.0L298.5 132.1L298.6 133.1L298.6 134.1L298.7 135.2L298.7 136.2L298.7 137.2L298.8 138.3L298.8 139.3L298.8 140.3L298.8 141.4L298.8 142.4L298.8 143.4L298.8 144.5Z" fill="#3d6fc0" stroke="#3a3a3a" stroke-width="0.35" stroke-opacity="0.6"/>
<path transform="scale(.1)" d="M2935 221h0m22-8h0m76 12h0m-34 14h0m-16 17h0m69 14h0m-16 16h0m-63-1h0m-16 8h0m-21-4h0m-1 8h0m-6 6h0m93 16h0m-82 16h0m26 5h0m53 4h0m14 14h0m-101-2h0m-6 3h0m19 14h0m71-5h0m31 18h0m-96-7h0m19 11h0m67 13h0m20-8h0m-14 11h0m-30 9h0m-41 0h0m-29-6h0m-17 25h0m13-2h0m9-11h0m9 8h0m5 5h0m88 3h0m-24 1h0m-5 3h0m-56-3h0m-1-2h0m-11-1h0m-5 2h0m0 12h0m-14-11h0m-7 2h0m-2 1h0m8 10h0m7 7h0m8 0h0m9-3h0m82-1h0m4 2h0m1-4h0m9 11h0m1-12h0m-2 28h0m-6-2h0m-19-5h0m-4-1h0m-75 1h0m-12-6h0m-6 15h0m0 7h0m2-1h0m1-3h0m19 9h0m2-1h0m10-12h0m53 11h0m22-5h0m9 9h0m0 12h0m-9-2h0m-77-1h0m-26 13h0m7-3h0m1-3h0m6-1h0m79 3h0m1 4h0m16-3h0m1 7h0m2-7h0m3 18h0m-14-5h0m-9 10h0m0-2h0m-2-5h0m-71 9h0m-18-1h0m-13 13h0m16 0h0m1-9h0m3 8h0m3-10h0m2 7h0m105 20h0m-5-2h0m-8 0h0m0-1h0m-2-7h0m-12 0h0m-89 4h0m-12 6h0m-1 7h0m2 7h0m7 1h0m14 0h0m96-9h0m5 11h0m1 7h0m-3-1h0m-9-2h0m-91 6h0m0-4h0m-4 9h0m-5-10h0m-4-3h0m-5 4h0m-1-4h0m-2 18h0m10 2h0m7-5h0m1 11h0m91-7h0m3-1h0m1 1h0m7-4h0m0 13h0m6 4h0m-4 8h0m-3-5h0m-2-3h0m-101 10h0m-5 1h0m-2-3h0m0-11h0m-8 14h0m-2-1h0m-1-2h0m16 10h0m107 6h0m5-6h0m-3 11h0m-1 9h0m-121-4h0m1 20h0m2-7h0m0-3h0m2 9h0m1-2h0m1-9h0m108 0h0m4 9h0m6-4h0m-5 14h0m-112 4h0m-2-4h0m-5 24h0m0-11h0m2 12h0m119-1h0m7 4h0m-3 12h0m-4-10h0m-2 4h0m5 11h0m0-4h0m1 4h0m-129 11h0m1 18h0m125-1h0m1 28h0m3 3h0m1 7h0m-4 21h0m1 9h0m-125 7h0m2 18h0m122 8h0m3-1h0m-3 9h0m-124 5h0m0 16h0m5 5h0m-8 9h0m5 4h0m120 7h0m0 3h0m1 3h0m3 11h0m-118-3h0m-3 8h0m0-3h0m-7 17h0m1-9h0m1 3h0m117 6h0m8-11h0m2 6h0m-4 13h0m0 5h0m-120 4h0m115 6h0m11 2h0m0 19h0m-4 2h0m-2-6h0m-3-3h0m-3 5h0m-2 2h0m-103-11h0m-3 8h0m-6-1h0m-2-2h0m0 0h0m-3 13h0m5 10h0m7-11h0m6 3h0m95 8h0m17 12h0m-12-7h0m-100-1h0m-2 3h0m-1 0h0m-3 6h0m-1-9h0m-10-1h0m3 25h0m12-5h0m100 6h0m4-6h0m3 4h0m6 0h0m0 13h0m-3 1h0m-19 3h0m-1-2h0m-84-5h0m-8 5h0m-2-4h0m-2 7h0m-2-4h0m10 18h0m6-1h0m81-3h0m4-3h0m14 15h0m-5 1h0m-4-2h0m-3 0h0m-3-5h0m-2 12h0m-81-1h0m-7-8h0m-4 10h0m-3-8h0m-11 6h0m3 16h0m10 2h0m1-1h0m8-13h0m90 9h0m11-3h0m5 16h0m-5-5h0m-92 6h0m-6-4h0m-12 4h0m-14-5h0m3 15h0m4 10h0m8-2h0m8 3h0m79-11h0m1 4h0m1-7h0m13 9h0m0-8h0m1 4h0m4 0h0m7 8h0m2 2h0m-8 6h0m-26 1h0m-61 6h0m-8 0h0m-5 1h0m-5-6h0m-15-5h0m-2 17h0m30-5h0m4 6h0m61 4h0m7 3h0m12-2h0m7-5h0m1 9h0m-10 2h0m-9-1h0m-4 8h0m-3 5h0m-1-6h0m-2-7h0m-5 4h0m-57 6h0m-1 2h0m-21 0h0m-2-7h0m-5-5h0m7 15h0m14 11h0m9-9h0m11 11h0m57 0h0m26 13h0m-23-3h0m-1-7h0m-17 4h0m0 4h0m-42 4h0m-27-9h0m11 18h0m5-6h0m12 6h0m47-1h0m1 3h0m1-5h0m4-2h0m34 5h0m0-2h0m-23 11h0m-27 11h0m4 11h0m9 3h0m36-7h0m-77 21h0m-42-3h0m-1-1h0m5 16h0m4-7h0m12 4h0m47 9h0m6-5h0m5-4h0m40 18h0m-44-4h0m-2 9h0m-44 0h0m-1 1h0m71 7h0m11 7h0m4 2h0m-64 28h0m69 6h0m-37 6h0m-73 0h0m-9 3h0m-10 13h0m57-1h0m3 0h0m15-7h0m7 11h0m-3 11h0m-18 18h0m49 11h0m-26 0h0m-54-4h0m5 15h0m61 23h0m-71-8h0m-11 17h0" stroke="#555" stroke-width="0.6" opacity="0.5" vector-effect="non-scaling-stroke" stroke-linecap="round" fill="none"/>
<path transform="scale(.1)" d="M2997 394h0m2 16h0m-10-1h0m-5 6h0m-2-8h0m12 36h0m-8-1h0m-7 19h0m21 0h0m6 15h0m-7 1h0m-17-10h0m-15 27h0m34-1h0m-6 6h0m-5 3h0m-22-3h0m-4 13h0m7-2h0m6 8h0m2 1h0m4 5h0m13-6h0m3-7h0m0 0h0m3 10h0m7 16h0m0 1h0m-18-9h0m-15 2h0m-2 6h0m-1 10h0m24-1h0m2 6h0m5-12h0m3 3h0m2-1h0m9 6h0m2 0h0m1 6h0m4-14h0m0 1h0m3 19h0m-6-2h0m-5 6h0m-1 0h0m-18-6h0m-37 4h0m-4 3h0m-3 0h0m11 19h0m39-9h0m5-5h0m2 10h0m9-7h0m7 25h0m-6-8h0m-3 7h0m-3-6h0m-2 6h0m-2-12h0m-7 6h0m-1-2h0m-5 9h0m-6-3h0m-12-4h0m-4-6h0m-7 3h0m0 6h0m-1-2h0m-8-4h0m-10 6h0m-1 7h0m9 11h0m2-5h0m5 7h0m3-4h0m2-7h0m0 5h0m5-5h0m10 2h0m6 3h0m1 0h0m8-5h0m1-1h0m14 6h0m13 5h0m0-9h0m3 7h0m2-2h0m2 15h0m-3 0h0m-3-4h0m-1 8h0m-20-11h0m-6 5h0m-1-4h0m-5 5h0m-13 4h0m-1-6h0m-5 3h0m-4-9h0m-5 6h0m-3-1h0m-11-4h0m-4 8h0m-6 10h0m1 4h0m2-2h0m3 2h0m4-2h0m8 0h0m4 7h0m4-3h0m7-3h0m3-6h0m5 11h0m9-11h0m12 9h0m8-6h0m0 0h0m1-1h0m11 6h0m0-4h0m14 12h0m-1 10h0m-5-11h0m-5 3h0m-12 4h0m-15-1h0m-7 1h0m-11 3h0m-2 1h0m-6 0h0m-7-12h0m-2 0h0m-10 9h0m-1-2h0m-2 6h0m-9 0h0m11 13h0m3 2h0m6-8h0m0 0h0m2 7h0m7-8h0m4 6h0m1 0h0m5-1h0m9 4h0m1-10h0m1 5h0m2 0h0m1-2h0m2 2h0m4 3h0m3 0h0m9-2h0m2 0h0m3-7h0m6 7h0m4 4h0m3-12h0m10 20h0m-2-4h0m-11-1h0m-2-1h0m-19 12h0m-1-7h0m-1-4h0m-5-1h0m-30 4h0m-2 0h0m-10-4h0m-5 0h0m-5 12h0m-1-2h0m-2 1h0m-2-11h0m-4 5h0m-1-1h0m-3 20h0m8-6h0m4 10h0m1-4h0m11 0h0m2 2h0m14 2h0m8-13h0m0 1h0m4 4h0m1-3h0m16 2h0m1 7h0m3-5h0m9 7h0m3-8h0m2 2h0m5 0h0m1 2h0m3 1h0m1 1h0m5-5h0m2 0h0m5 14h0m-3-5h0m-1 10h0m-4-10h0m-3 9h0m-1 1h0m-6 2h0m-17-12h0m-1 12h0m-1-1h0m-1-10h0m-4 6h0m-5-7h0m-2 3h0m-11-1h0m-10 1h0m-3 1h0m-2-4h0m-7 9h0m-7-7h0m-7 6h0m-4-6h0m-1 7h0m0-8h0m-8-1h0m-2 11h0m-2 11h0m10-2h0m1 8h0m2 0h0m1-11h0m1 8h0m9 4h0m1-12h0m0 10h0m7-9h0m7 6h0m3-4h0m8 6h0m3 3h0m0-13h0m5 2h0m14 9h0m2 2h0m1-7h0m2 0h0m6 1h0m3 1h0m3 5h0m2-9h0m2-2h0m2 0h0m4 1h0m4 6h0m1-6h0m2 1h0m3 23h0m-2 0h0m-1-13h0m-1 1h0m-6 6h0m-3 7h0m-8-2h0m-10-1h0m-3-9h0m-1 10h0m-1-11h0m-1 13h0m-3-10h0m-6 5h0m-3-5h0m0 8h0m-8-5h0m-9 4h0m-1 3h0m-11-10h0m-4 2h0m0-2h0m-5 4h0m-1 6h0m-1-7h0m-7-3h0m-10 0h0m-2 0h0m0 10h0m-3 7h0m15 1h0m3 4h0m2-4h0m3 6h0m2 1h0m4-2h0m4 2h0m1-13h0m2-1h0m2 3h0m0 8h0m3-5h0m20 7h0m5-12h0m6 7h0m15-1h0m9 2h0m1-5h0m0 8h0m4 0h0m1 2h0m2-1h0m5-13h0m9 16h0m-2 11h0m-12-4h0m-2 0h0m-13 4h0m-1 2h0m-6-6h0m-7 3h0m-3-10h0m-1 11h0m-1-6h0m0 4h0m0-5h0m-10 2h0m-4 5h0m-2-3h0m-2 3h0m-1 1h0m-3 0h0m-4-13h0m-2 11h0m-1 0h0m-4 2h0m0-13h0m-1 0h0m0 5h0m0 5h0m-2 1h0m-6 2h0m-5-6h0m-15-2h0m-2 8h0m-2-7h0m-5 11h0m0 7h0m3 5h0m2-7h0m2-5h0m7 4h0m6 2h0m0-4h0m3 7h0m1 1h0m4-6h0m9 7h0m0-6h0m12 7h0m3-12h0m14 8h0m0 3h0m5-9h0m2 9h0m22-11h0m2-1h0m3 13h0m6-2h0m4-8h0m3 0h0m5 15h0m-3-3h0m-4 1h0m-4-2h0m-5 0h0m-5 1h0m-1 9h0m-2-10h0m-8 14h0m-1-6h0m-1-3h0m0 5h0m-7-10h0m-7 13h0m-1-13h0m-9 12h0m-1-4h0m-3-4h0m0 6h0m-6-4h0m-2 3h0m-1-6h0m-7-1h0m-2 9h0m-5-9h0m-5 6h0m0 4h0m-2 2h0m-1-8h0m0 4h0m-1-4h0m0-3h0m-5 11h0m-1-2h0m-10 0h0m0 0h0m-3 0h0m-3-3h0m-1 20h0m4-3h0m3-1h0m1-5h0m3 2h0m6-2h0m9 9h0m5-10h0m1 10h0m0-3h0m2 0h0m0-5h0m5 5h0m1-8h0m1 6h0m1-7h0m1 4h0m1-2h0m3-4h0m7 10h0m4-10h0m9 1h0m5-1h0m3 14h0m1-13h0m1 7h0m1 6h0m3-10h0m0 6h0m9-5h0m3-4h0m7 12h0m1-3h0m6-10h0m1 2h0m4-1h0m7 15h0m-2 5h0m-4-6h0m-8 8h0m-1 5h0m-20-13h0m-3 6h0m0 6h0m-4-7h0m-3 1h0m-1 5h0m-1-5h0m-5-3h0m0 5h0m-3-5h0m-1 5h0m-3-8h0m-8 9h0m-1 3h0m-10-10h0m-5 1h0m-6 8h0m-1 1h0m-1-2h0m-2-2h0m0 1h0m-4-4h0m-1 4h0m-6 1h0m-2-8h0m-1 6h0m-4-4h0m-6 0h0m10 16h0m7 9h0m2-4h0m4-8h0m10 10h0m8-10h0m8 9h0m1-6h0m3-1h0m3 7h0m0-11h0m1 10h0m10-5h0m9 9h0m17-1h0m3-3h0m3 3h0m6 1h0m1-6h0m3-5h0m3 7h0m1 16h0m-1-6h0m-1 6h0m-5-10h0m-4 6h0m-6-4h0m-5 6h0m-11 1h0m-1-1h0m-1-6h0m-2 6h0m-3 1h0m-3 3h0m-5-11h0m-14 9h0m-2 2h0m-4-9h0m-1 7h0m0-10h0m-1 9h0m-6-3h0m-1-6h0m-2 7h0m-3 4h0m0-8h0m-2 10h0m-4 0h0m-12-3h0m-1 0h0m-1-11h0m-3 9h0m-9 4h0m0-7h0m8 23h0m1 0h0m3-11h0m10 11h0m12-5h0m3-8h0m4 12h0m2-3h0m4-4h0m4-5h0m2 11h0m9-2h0m10-7h0m6 6h0m4 1h0m7-1h0m3 2h0m1-6h0m4-5h0m5 0h0m9 13h0m1-13h0m3 22h0m-3-6h0m-1 12h0m-2-3h0m-9 1h0m-8-2h0m-1 2h0m-2-1h0m-5-10h0m0 13h0m-3-5h0m-9-2h0m-4-3h0m-1 5h0m-2-7h0m-16 9h0m-1-6h0m-7 2h0m-3 6h0m-4-6h0m-4 6h0m-10 0h0m-5-12h0m-2 9h0m-4-7h0m-4 11h0m-3 12h0m3-6h0m14-3h0m7 1h0m21 6h0m6-2h0m10 6h0m7 1h0m6-4h0m5-3h0m2 2h0m5-5h0m4-2h0m1 4h0m1 8h0m0-2h0m2-4h0m5 0h0m2-3h0m0 8h0m2-1h0m1-6h0m2 1h0m6-1h0m-5 23h0m-8-12h0m-1 4h0m-1 7h0m-5-9h0m-5 5h0m-6-7h0m-6 9h0m-4-8h0m0 12h0m-2-4h0m-2-4h0m-5 1h0m0-5h0m-8 6h0m-1-2h0m-12-3h0m-3 9h0m-3-9h0m-8 4h0m-9-4h0m0 7h0m-8-8h0m8 23h0m4-6h0m1-4h0m0 7h0m1 4h0m2-8h0m3-2h0m1 1h0m0 11h0m5-6h0m5 2h0m1 2h0m1-8h0m10 10h0m10-12h0m2 2h0m2 7h0m1-2h0m5-6h0m1 4h0m0 1h0m1-6h0m3 9h0m15-10h0m15 0h0m-4 15h0m-5 4h0m-4 8h0m0-12h0m-2 6h0m-5 0h0m-18-3h0m-1-3h0m-3 13h0m-7-1h0m-2 2h0m0-5h0m-3-2h0m-43-4h0m-1 7h0m-3 3h0m6 4h0m2 11h0m15-2h0m8-2h0m4-4h0m3 7h0m5-11h0m0 6h0m9-2h0m5 7h0m6-12h0m1 8h0m9-7h0m7 4h0m4-4h0m1 3h0m5 1h0m0 6h0m6-1h0m0-5h0m1 4h0m-4 16h0m-16-10h0m-1 14h0m-18-7h0m-26 6h0m-3-6h0m-1 1h0m-3 4h0m-8-4h0m-1 6h0m-4-9h0m-2 6h0m-7-8h0m-1 0h0m6 26h0m0-14h0m5 5h0m1-5h0m2 0h0m12 1h0m2 3h0m10 5h0m3 4h0m2-10h0m3 5h0m0 5h0m14 1h0m8-8h0m1-5h0m0 8h0m7-5h0m0-1h0m2 5h0m5 6h0m5-6h0m-6 9h0m-6 8h0m-2-1h0m-3 0h0m-13 3h0m-3-7h0m-36-4h0m-2 2h0m-2-1h0m-8 7h0m-4-6h0m4 20h0m39-7h0m4 13h0m14-10h0m13 4h0m5-4h0m5 1h0m-1 12h0m-5 8h0m-2-10h0m-8 14h0m-7-3h0m-5-7h0m-1 5h0m-11 3h0m-2-2h0m-8 1h0m-2-2h0m-23-6h0m4 14h0m3 7h0m1-4h0m4-5h0m12 2h0m6 4h0m2-4h0m4 7h0m18 1h0m1 3h0m4-10h0m2-2h0m13-1h0m-4 23h0m-7-5h0m-5 5h0m-14 6h0m-7-9h0m-2 3h0m-2-7h0m-4 12h0m-3 1h0m0-6h0m0-5h0m-1 11h0m0-2h0m-1-8h0m-6-1h0m-2 10h0m-2-4h0m-4-1h0m-1-1h0m20 8h0m10 3h0m8 8h0m7-9h0m5 1h0m9 2h0m-9 12h0m-11 11h0m-29-4h0m-3-6h0m-6 1h0m17 17h0m2 2h0m3 6h0m15-10h0m14 1h0m1 19h0m-40-1h0m-1 9h0m15 6h0m4 12h0m-8-1h0m-15 7h0m9 10h0m12-6h0m6 6h0m2-5h0m2 13h0m-1 9h0m-3-4h0m-4 7h0m-18 4h0m2 9h0m7 4h0m20 9h0m-22 20h0m16 3h0m-14 21h0m3 19h0m2 33h0m-4 18h0" stroke="#111" stroke-width="0.55" opacity="0.4" vector-effect="non-scaling-stroke" stroke-linecap="round" fill="none"/>
<text transform="translate(305.7,162.3) rotate(-45)" font-size="9.0" text-anchor="end" fill="#3a3a3a">Antigen</text>
<line x1="312.6" y1="151.4" x2="312.6" y2="155.0" stroke="#a0a0a0" stroke-width="0.7"/>
<path d="M312.9 144.5L312.9 143.5L312.9 142.5L313.0 141.5L313.0 140.5L313.1 139.5L313.1 138.5L313.2 137.5L313.3 136.5L313.3 135.5L313.4 134.5L313.5 133.5L313.5 132.5L313.7 131.5L313.8 130.5L313.9 129.5L314.1 128.5L314.2 127.5L314.4 126.5L314.5 125.5L314.7 124.5L314.9 123.5L315.0 122.5L315.2 121.5L315.4 120.5L315.5 119.5L315.7 118.5L315.8 117.5L316.0 116.5L316.2 115.5L316.3 114.6L316.5 113.6L316.7 112.6L316.8 111.6L317.0 110.6L317.2 109.6L317.3 108.6L317.5 107.6L317.6 106.6L317.7 105.6L317.8 104.6L317.9 103.6L318.0 102.6L318.1 101.6L318.2 100.6L318.3 99.6L318.3 98.6L318.4 97.6L318.5 96.6L318.5 95.6L318.6 94.6L318.7 93.6L318.7 92.6L318.7 91.6L318.7 90.6L318.7 89.6L318.7 88.6L318.7 87.6L318.7 86.6L318.7 85.6L318.6 84.6L318.6 83.6L318.6 82.7L318.5 81.7L318.5 80.7L318.5 79.7L318.4 78.7L318.4 77.7L318.3 76.7L318.2 75.7L318.1 74.7L318.0 73.7L317.9 72.7L317.8 71.7L317.7 70.7L317.6 69.7L317.5 68.7L317.4 67.7L317.3 66.7L317.2 65.7L317.1 64.7L316.9 63.7L316.8 62.7L316.6 61.7L316.5 60.7L316.3 59.7L316.1 58.7L316.0 57.7L315.8 56.7L315.6 55.7L315.5 54.7L315.3 53.7L315.2 52.7L315.0 51.7L314.9 50.8L314.8 49.8L314.6 48.8L314.5 47.8L314.4 46.8L314.2 45.8L314.1 44.8L314.0 43.8L313.8 42.8L313.7 41.8L313.6 40.8L313.5 39.8L313.4 38.8L313.3 37.8L313.3 36.8L313.2 35.8L313.1 34.8L313.1 33.8L313.1 32.8L313.0 31.8L313.0 30.8L312.9 29.8L312.9 28.8L312.9 27.8L312.9 26.8L312.9 25.8L312.3 25.8L312.3 26.8L312.3 27.8L312.3 28.8L312.3 29.8L312.2 30.8L312.2 31.8L312.1 32.8L312.1 33.8L312.1 34.8L312.0 35.8L311.9 36.8L311.9 37.8L311.8 38.8L311.7 39.8L311.6 40.8L311.5 41.8L311.4 42.8L311.2 43.8L311.1 44.8L311.0 45.8L310.8 46.8L310.7 47.8L310.6 48.8L310.4 49.8L310.3 50.8L310.2 51.7L310.0 52.7L309.9 53.7L309.7 54.7L309.6 55.7L309.4 56.7L309.2 57.7L309.1 58.7L308.9 59.7L308.7 60.7L308.6 61.7L308.4 62.7L308.3 63.7L308.1 64.7L308.0 65.7L307.9 66.7L307.8 67.7L307.7 68.7L307.6 69.7L307.5 70.7L307.4 71.7L307.3 72.7L307.2 73.7L307.1 74.7L307.0 75.7L306.9 76.7L306.8 77.7L306.8 78.7L306.7 79.7L306.7 80.7L306.7 81.7L306.6 82.7L306.6 83.6L306.6 84.6L306.5 85.6L306.5 86.6L306.5 87.6L306.5 88.6L306.5 89.6L306.5 90.6L306.5 91.6L306.5 92.6L306.5 93.6L306.6 94.6L306.7 95.6L306.7 96.6L306.8 97.6L306.9 98.6L306.9 99.6L307.0 100.6L307.1 101.6L307.2 102.6L307.3 103.6L307.4 104.6L307.5 105.6L307.6 106.6L307.7 107.6L307.9 108.6L308.0 109.6L308.2 110.6L308.4 111.6L308.5 112.6L308.7 113.6L308.9 114.6L309.0 115.5L309.2 116.5L309.4 117.5L309.5 118.5L309.7 119.5L309.8 120.5L310.0 121.5L310.2 122.5L310.3 123.5L310.5 124.5L310.7 125.5L310.8 126.5L311.0 127.5L311.1 128.5L311.3 129.5L311.4 130.5L311.5 131.5L311.7 132.5L311.7 133.5L311.8 134.5L311.9 135.5L311.9 136.5L312.0 137.5L312.1 138.5L312.1 139.5L312.2 140.5L312.2 141.5L312.3 142.5L312.3 143.5L312.3 144.5Z" fill="#c762b4" stroke="#3a3a3a" stroke-width="0.35" stroke-opacity="0.6"/>
<path transform="scale(.1)" d="M3070 298h0m34 20h0m66 27h0m12 27h0m-87 6h0m54 38h0m-63 15h0m19-7h0m0 7h0m42 2h0m34 9h0m-112 2h0m84 15h0m27 9h0m-88 13h0m11 6h0m1-1h0m52-3h0m15 2h0m3-5h0m6 18h0m-8 4h0m-105 11h0m21 11h0m77 0h0m-76 12h0m-10-3h0m76 8h0m7 9h0m2-2h0m8-1h0m7 7h0m10 2h0m-32 2h0m-68 2h0m-23 24h0m112-13h0m-1 16h0m-90 11h0m-6-11h0m-15 22h0m14-4h0m2-2h0m108 18h0m-3-6h0m-108 16h0m96 20h0m3 23h0m11-8h0m-9 21h0m-111 16h0m-8 10h0m11 10h0m-10 24h0m6 7h0m-7 21h0m125 27h0m5 53h0m-129 16h0m127 21h0m3 26h0m-131 7h0m126 15h0m4-10h0m-5 31h0m-123 53h0m1 8h0m1 8h0m2 29h0m122 3h0m0 10h0m-7 32h0m-8-5h0m-92 30h0m88 17h0m-105 10h0m6 20h0m5 5h0m0 2h0m15-6h0m88 1h0m-11 14h0m-3-6h0m-5 9h0m-73 4h0m79 38h0m23 18h0m-39 3h0m-70-8h0m-12 3h0m-2 10h0m40 3h0m41 4h0m7 0h0m-75 14h0m30 12h0m62 2h0m-80 22h0m57 4h0m11 24h0m-5-13h0m-15 8h0m-22 37h0m-16 75h0" stroke="#555" stroke-width="0.6" opacity="0.5" vector-effect="non-scaling-stroke" stroke-linecap="round" fill="none"/>
<path transform="scale(.1)" d="M3142 484h0m3 19h0m-22 31h0m-22 4h0m9 13h0m14 0h0m13-7h0m12 8h0m0 5h0m-44 3h0m-1 17h0m31 2h0m4-6h0m18 12h0m-8 1h0m-23 13h0m-7-13h0m-23 7h0m-5 19h0m45 2h0m5-12h0m22 7h0m-14 20h0m-5-2h0m-3 1h0m-42 2h0m7 2h0m15 6h0m26 3h0m7-1h0m18 19h0m-26-2h0m-43 1h0m14 13h0m3 3h0m4-13h0m20 4h0m16-1h0m4 14h0m-34-3h0m-21 0h0m-14 8h0m-4 0h0m-2-5h0m71 37h0m-1-10h0m-80 12h0m3 12h0m4-7h0m21 8h0m5-2h0m20-1h0m4 3h0m2-3h0m31-7h0m12 22h0m-13 2h0m-5 4h0m-14 0h0m-1-6h0m-19-2h0m-44 9h0m-8-9h0m0 18h0m24-6h0m44 22h0m-4 2h0m-33-3h0m-21 1h0m0 7h0m15 9h0m14-4h0m29 4h0m1-9h0m33 3h0m0 2h0m-1 22h0m-2-1h0m-2-6h0m-10 8h0m-56 0h0m-10-8h0m8 12h0m5 7h0m7-7h0m3-2h0m4-1h0m9 3h0m12 1h0m10 7h0m21-9h0m2 0h0m1 0h0m-4 24h0m-3 1h0m-10-9h0m-7 2h0m-57 1h0m-16-6h0m-4 19h0m20-2h0m18-2h0m8 3h0m8 9h0m18-5h0m23-7h0m-5 22h0m-13-2h0m-7 8h0m-8-3h0m-32 2h0m-2 2h0m-32-1h0m0-13h0m-8 19h0m48 10h0m29-2h0m7-8h0m30 8h0m1 12h0m-15-8h0m-21 10h0m-1 0h0m-6-8h0m-5 10h0m-57-7h0m-9-1h0m5 13h0m66 2h0m15 5h0m25-9h0m-63 28h0m-36-12h0m-2 5h0m-8 7h0m5 9h0m20-5h0m0 10h0m2-8h0m16 0h0m26 5h0m28-8h0m4-2h0m6 2h0m5 0h0m1 1h0m-6 25h0m-8 0h0m-34 1h0m-7-1h0m-27-7h0m-11 1h0m-8-1h0m-13 9h0m21 11h0m5-6h0m24 9h0m1 0h0m30-2h0m31-2h0m3-4h0m-15 14h0m-20 1h0m-3-4h0m-5-1h0m-20-1h0m-7 8h0m-1-1h0m-3-4h0m-22-3h0m0 13h0m-2-1h0m-5-6h0m-7 3h0m14 11h0m16-5h0m6 11h0m1-8h0m1 11h0m34-2h0m10 1h0m23 5h0m-9 7h0m-27-3h0m-11-3h0m-23 6h0m0 2h0m-4-12h0m0 6h0m-23 20h0m9-1h0m10-9h0m19 8h0m6-6h0m2 2h0m47 0h0m3 7h0m-25 11h0m-1-5h0m0 4h0m-6 6h0m-17-2h0m-1-8h0m-28 9h0m-18-3h0m39 9h0m28 6h0m6 3h0m2 2h0m-12 15h0m-3-13h0m-30 10h0m-4-4h0m-11 7h0m-1-9h0m-9 4h0m-5 8h0m5 1h0m8 4h0m4 6h0m20-10h0m20 5h0m22 12h0m-10 2h0m-16 0h0m-10 3h0m-11-3h0m-7-6h0m-12 0h0m-4 22h0m21 5h0m8-11h0m35 13h0m-5 8h0m-25-6h0m-13-2h0m-3 14h0m50 22h0m-16-5h0m-23 11h0m-10-12h0m0 8h0m-1-5h0m-15 2h0m6 13h0m28 4h0m13 7h0m7-7h0m-7 22h0m-11 14h0m-21 19h0m1 23h0m2 10h0m21 3h0m4-2h0m6-5h0" stroke="#111" stroke-width="0.55" opacity="0.4" vector-effect="non-scaling-stroke" stroke-linecap="round" fill="none"/>
<text transform="translate(319.2,162.3) rotate(-45)" font-size="9.0" text-anchor="end" fill="#3a3a3a">Bystander</text>
<text x="278.9" y="11.3" font-size="9.6" text-anchor="middle" fill="#333" font-weight="normal" textLength="24.0" lengthAdjust="spacingAndGlyphs" >CD38</text>
<text transform="translate(218.3,83.2) rotate(-90)" font-size="8.9" text-anchor="middle" fill="#3a3a3a" textLength="65" lengthAdjust="spacingAndGlyphs">Expression level</text>
<line x1="356.4" y1="15.4" x2="356.4" y2="151.4" stroke="#c4c4c4" stroke-width="0.9"/>
<line x1="356.4" y1="151.4" x2="440.0" y2="151.4" stroke="#c4c4c4" stroke-width="0.9"/>
<line x1="353.8" y1="144.9" x2="356.4" y2="144.9" stroke="#a0a0a0" stroke-width="0.7"/>
<text x="350.4" y="147.5" font-size="7.6" text-anchor="end" fill="#3a3a3a" font-weight="normal" >0</text>
<line x1="353.8" y1="106.5" x2="356.4" y2="106.5" stroke="#a0a0a0" stroke-width="0.7"/>
<text x="350.4" y="109.1" font-size="7.6" text-anchor="end" fill="#3a3a3a" font-weight="normal" >0.5</text>
<line x1="353.8" y1="68.1" x2="356.4" y2="68.1" stroke="#a0a0a0" stroke-width="0.7"/>
<text x="350.4" y="70.7" font-size="7.6" text-anchor="end" fill="#3a3a3a" font-weight="normal" >1.0</text>
<line x1="353.8" y1="29.7" x2="356.4" y2="29.7" stroke="#a0a0a0" stroke-width="0.7"/>
<text x="350.4" y="32.3" font-size="7.6" text-anchor="end" fill="#3a3a3a" font-weight="normal" >1.5</text>
<line x1="364.6" y1="151.4" x2="364.6" y2="155.0" stroke="#a0a0a0" stroke-width="0.7"/>
<path d="M365.5 144.9L365.5 144.0L365.5 143.1L365.6 142.2L365.7 141.4L365.8 140.5L366.0 139.6L366.2 138.7L366.5 137.8L366.8 136.9L367.1 136.1L367.3 135.2L367.6 134.3L367.9 133.4L368.2 132.5L368.4 131.6L368.6 130.8L368.9 129.9L369.1 129.0L369.3 128.1L369.5 127.2L369.6 126.3L369.8 125.4L369.9 124.6L370.0 123.7L370.1 122.8L370.2 121.9L370.2 121.0L370.3 120.1L370.4 119.3L370.5 118.4L370.5 117.5L370.6 116.6L370.6 115.7L370.7 114.8L370.7 114.0L370.7 113.1L370.7 112.2L370.7 111.3L370.7 110.4L370.7 109.5L370.7 108.6L370.6 107.8L370.6 106.9L370.6 106.0L370.5 105.1L370.5 104.2L370.5 103.3L370.4 102.5L370.3 101.6L370.3 100.7L370.2 99.8L370.1 98.9L370.0 98.0L369.9 97.2L369.7 96.3L369.6 95.4L369.4 94.5L369.3 93.6L369.1 92.7L368.9 91.8L368.7 91.0L368.6 90.1L368.4 89.2L368.2 88.3L368.0 87.4L367.9 86.5L367.7 85.7L367.5 84.8L367.3 83.9L367.2 83.0L367.0 82.1L366.9 81.2L366.7 80.4L366.6 79.5L366.4 78.6L366.3 77.7L366.1 76.8L366.0 75.9L365.9 75.1L365.8 74.2L365.7 73.3L365.6 72.4L365.5 71.5L365.5 70.6L365.4 69.7L365.3 68.9L365.3 68.0L365.2 67.1L365.2 66.2L365.2 65.3L365.2 64.4L365.1 63.6L365.1 62.7L365.1 61.8L365.1 60.9L365.1 60.0L365.1 59.1L365.0 58.3L365.0 57.4L365.0 56.5L365.0 55.6L365.0 54.7L365.0 53.8L365.0 52.9L364.9 52.1L364.9 51.2L364.9 50.3L364.9 49.4L364.9 48.5L364.9 47.6L364.9 46.8L364.9 45.9L364.9 45.0L364.9 44.1L364.9 43.2L364.9 42.3L364.9 41.5L364.9 40.6L364.9 39.7L364.3 39.7L364.3 40.6L364.3 41.5L364.3 42.3L364.3 43.2L364.3 44.1L364.3 45.0L364.3 45.9L364.3 46.8L364.3 47.6L364.3 48.5L364.3 49.4L364.3 50.3L364.3 51.2L364.3 52.1L364.2 52.9L364.2 53.8L364.2 54.7L364.2 55.6L364.2 56.5L364.2 57.4L364.2 58.3L364.1 59.1L364.1 60.0L364.1 60.9L364.1 61.8L364.1 62.7L364.1 63.6L364.0 64.4L364.0 65.3L364.0 66.2L364.0 67.1L363.9 68.0L363.9 68.9L363.8 69.7L363.7 70.6L363.7 71.5L363.6 72.4L363.5 73.3L363.4 74.2L363.3 75.1L363.2 75.9L363.1 76.8L362.9 77.7L362.8 78.6L362.6 79.5L362.5 80.4L362.3 81.2L362.2 82.1L362.0 83.0L361.9 83.9L361.7 84.8L361.5 85.7L361.3 86.5L361.2 87.4L361.0 88.3L360.8 89.2L360.6 90.1L360.5 91.0L360.3 91.8L360.1 92.7L359.9 93.6L359.8 94.5L359.6 95.4L359.5 96.3L359.3 97.2L359.2 98.0L359.1 98.9L359.0 99.8L358.9 100.7L358.9 101.6L358.8 102.5L358.7 103.3L358.7 104.2L358.7 105.1L358.6 106.0L358.6 106.9L358.6 107.8L358.5 108.6L358.5 109.5L358.5 110.4L358.5 111.3L358.5 112.2L358.5 113.1L358.5 114.0L358.5 114.8L358.6 115.7L358.6 116.6L358.7 117.5L358.7 118.4L358.8 119.3L358.9 120.1L359.0 121.0L359.0 121.9L359.1 122.8L359.2 123.7L359.3 124.6L359.4 125.4L359.6 126.3L359.7 127.2L359.9 128.1L360.1 129.0L360.3 129.9L360.6 130.8L360.8 131.6L361.0 132.5L361.3 133.4L361.6 134.3L361.9 135.2L362.1 136.1L362.4 136.9L362.7 137.8L363.0 138.7L363.2 139.6L363.4 140.5L363.5 141.4L363.6 142.2L363.7 143.1L363.7 144.0L363.7 144.9Z" fill="#e0615a" stroke="#3a3a3a" stroke-width="0.35" stroke-opacity="0.6"/>
<path transform="scale(.1)" d="M3582 427h0m130 21h0m-93 0h0m-37 15h0m118 4h0m-103 18h0m105 15h0m-72 23h0m71 4h0m-86 31h0m22 62h0m59 13h0m-56 22h0m-23-10h0m-12 25h0m105-4h0m-83 15h0m-38-3h0m0 15h0m20 8h0m3-3h0m68 3h0m20 7h0m-33 0h0m-73 8h0m72 18h0m-66 13h0m100 11h0m-20 13h0m-11-3h0m-40 0h0m-48 22h0m42 3h0m54-6h0m-1 15h0m-62-7h0m-25 14h0m-1-9h0m8 15h0m10 7h0m85-8h0m-8 15h0m-96 6h0m-1-3h0m-4 0h0m0 5h0m11 13h0m1-10h0m14 0h0m-4 18h0m-13 8h0m-4-6h0m5 22h0m6-4h0m10 5h0m89-13h0m1 1h0m14 14h0m-6 2h0m-13 5h0m-84-4h0m-6 3h0m-15 7h0m-4-4h0m-1 15h0m128 1h0m-9 19h0m-3-2h0m-106 15h0m104 2h0m6 10h0m-121 10h0m2 6h0m120 7h0m-2 3h0m-113-4h0m-5 27h0m121 1h0m1-4h0m1 7h0m-123 48h0m128 18h0m-5-5h0m-126 9h0m0 12h0m129-3h0m-1 41h0m-127 15h0m130 5h0m0 16h0m-126 13h0m118 12h0m-121 4h0m125 9h0m-4 18h0m-2 4h0m5 17h0m4-10h0m-117 27h0m114 15h0m4-6h0m-111 30h0m89-5h0m10 2h0m8 24h0m-120-5h0m-1 3h0m-1-9h0m-3 13h0m2 12h0m2-8h0m2 0h0m15 0h0m82-1h0m3 2h0m9 15h0m-3 0h0m-10 4h0m-11 6h0m-73 10h0m87-8h0m1-1h0m-17 23h0m-67 5h0m-16-2h0m-3-5h0m14 11h0m80 25h0m-9 18h0m-40 0h0m-4 5h0m-8 6h0m53 5h0m34 9h0" stroke="#555" stroke-width="0.6" opacity="0.5" vector-effect="non-scaling-stroke" stroke-linecap="round" fill="none"/>
<path transform="scale(.1)" d="M3642 569h0m1 38h0m-1 64h0m11 76h0m-13 27h0m-6-6h0m4 14h0m18-1h0m6 21h0m-29-7h0m-7 18h0m21 9h0m3 0h0m7-8h0m8-2h0m-23 18h0m-9-3h0m-8 6h0m19 12h0m1 4h0m0-9h0m-13 26h0m4 9h0m6 7h0m4 0h0m13-2h0m-17 11h0m0 3h0m-1 1h0m-4 0h0m-14-4h0m-9 5h0m-6-1h0m16 15h0m1 0h0m10-5h0m7 7h0m5-7h0m34 5h0m4-5h0m-1 20h0m-2-9h0m-5 4h0m-3 8h0m-18-6h0m-28 1h0m-3 5h0m-5 7h0m5 1h0m11 4h0m0-10h0m20 3h0m5-2h0m22 9h0m2 8h0m-7 4h0m-11-5h0m-1 7h0m-7-4h0m-53-3h0m-3 6h0m1 15h0m5-1h0m1 7h0m0-4h0m38 3h0m31-4h0m2 5h0m2-11h0m5 16h0m-21-3h0m-10 8h0m0-7h0m-12 9h0m-5 0h0m-19 0h0m-6-10h0m-19 17h0m17-1h0m3 4h0m4-4h0m3 5h0m5 2h0m30-6h0m12-3h0m11 7h0m5 1h0m3 4h0m5-3h0m3 0h0m0-2h0m1-5h0m2 18h0m-5 4h0m-3 1h0m-2-7h0m-4 11h0m-18-5h0m-13-1h0m-23 6h0m-1-2h0m-1-5h0m-15-7h0m-1 9h0m-25-8h0m8 23h0m0-5h0m14 2h0m2 0h0m2 0h0m1 6h0m8-9h0m16 7h0m4 3h0m22-12h0m5 4h0m8-4h0m3 7h0m22 3h0m-2 15h0m-5 3h0m0-14h0m-20 0h0m-12 14h0m-1-10h0m-17-4h0m-9 11h0m-9-7h0m-8 2h0m-2-2h0m-5 7h0m-25 9h0m10 5h0m1 3h0m12-9h0m21 0h0m1 7h0m3 3h0m14-3h0m5 2h0m0-1h0m1-4h0m7-8h0m13 14h0m12-10h0m11 21h0m-12-8h0m-13 10h0m-6-7h0m-3-2h0m-4 7h0m-8-8h0m0 10h0m-10 0h0m-14-10h0m-7 11h0m-15 0h0m-7-7h0m-3 6h0m-11-4h0m0 2h0m7 16h0m13-9h0m7 10h0m5 2h0m6-2h0m6-7h0m9 6h0m33 3h0m8-14h0m13 11h0m2 2h0m10-9h0m-20 24h0m-2 1h0m-1-1h0m-1-4h0m-14 1h0m-11-6h0m0 7h0m-14 3h0m-3-12h0m-1 7h0m-4 1h0m-9-4h0m-12 7h0m-2-9h0m-4 9h0m-12-9h0m-10 5h0m1 12h0m0 0h0m10 5h0m12 2h0m10-2h0m3 1h0m7-5h0m13 6h0m12-4h0m6 4h0m13 0h0m4 1h0m6-5h0m23-2h0m-12 16h0m-5-6h0m-4 0h0m-13 4h0m-15 3h0m-23-3h0m-1-2h0m-21 10h0m-23-6h0m0 12h0m9 7h0m13-10h0m2 9h0m3-3h0m5 0h0m5 4h0m1-5h0m6-6h0m6 5h0m6-3h0m1-3h0m14 4h0m6 1h0m12 6h0m3-4h0m6 6h0m13-8h0m3 24h0m-30-14h0m0 7h0m-9 2h0m-13 4h0m-11 0h0m-8-3h0m-20-9h0m-10 12h0m-5-9h0m-1 0h0m12 16h0m6 4h0m5 5h0m3-13h0m5 12h0m6-13h0m2 12h0m1-12h0m1 10h0m3-8h0m16 1h0m1 3h0m33 0h0m7 4h0m-9 13h0m-4 3h0m-6 2h0m-26-3h0m-43-7h0m-5 8h0m-5-5h0m-8 13h0m3-1h0m38 9h0m15-1h0m22-3h0m8-2h0m16 0h0m7 11h0m-5 7h0m-7 3h0m-9-12h0m-4 1h0m-30 6h0m-1 2h0m-5 4h0m-14-2h0m-19-11h0m0 8h0m-12 13h0m1 4h0m32 0h0m4-4h0m9-6h0m4 3h0m3 11h0m1-2h0m39-1h0m9 17h0m-2-11h0m-9 3h0m-15 3h0m-7-6h0m-5 8h0m-20-1h0m-15-2h0m-2 5h0m-1-8h0m-2-3h0m-1 5h0m-2 8h0m-9-5h0m-7 5h0m-3-7h0m1 11h0m14 3h0m5 2h0m2-4h0m11-1h0m19 10h0m9-10h0m6 10h0m6 0h0m8-1h0m12 6h0m-6 9h0m-16 1h0m-12-9h0m-2 10h0m-4 0h0m-7-7h0m-5 5h0m-13-3h0m-25-8h0m6 22h0m27 3h0m17-5h0m15 2h0m17-6h0m-57 24h0m-7-2h0m11 11h0m4-2h0m12-1h0m24 19h0m-5 8h0m-42 5h0m2-1h0m4-1h0m16 6h0m5-2h0m7 13h0m-4 8h0m-13 38h0" stroke="#111" stroke-width="0.55" opacity="0.4" vector-effect="non-scaling-stroke" stroke-linecap="round" fill="none"/>
<path transform="scale(.1)" d="M3588 1449h0m30 0h0m12 0h0m1 0h0m7 0h0m1 0h0m12 0h0m4 0h0m1 0h0m16 0h0m6 0h0m0 0h0m2 0h0m13 0h0m1 0h0m2 0h0m1 0h0m13 0h0" stroke="#555" stroke-width="0.6" opacity="0.5" vector-effect="non-scaling-stroke" stroke-linecap="round" fill="none"/>
<text transform="translate(371.2,162.3) rotate(-45)" font-size="9.0" text-anchor="end" fill="#3a3a3a">CD8 T<tspan font-size="5.4" dy="1">CM</tspan></text>
<line x1="377.9" y1="151.4" x2="377.9" y2="155.0" stroke="#a0a0a0" stroke-width="0.7"/>
<path d="M379.0 144.9L379.0 143.9L378.9 142.9L378.9 141.9L378.9 140.9L379.0 139.9L379.2 138.9L379.4 137.9L379.7 136.8L380.0 135.8L380.4 134.8L380.8 133.8L381.1 132.8L381.4 131.8L381.7 130.8L382.0 129.8L382.2 128.8L382.3 127.8L382.5 126.8L382.6 125.8L382.7 124.8L382.9 123.8L383.0 122.8L383.1 121.7L383.2 120.7L383.3 119.7L383.4 118.7L383.5 117.7L383.5 116.7L383.6 115.7L383.7 114.7L383.7 113.7L383.7 112.7L383.8 111.7L383.8 110.7L383.9 109.7L383.9 108.7L383.9 107.6L384.0 106.6L384.0 105.6L384.0 104.6L383.9 103.6L383.9 102.6L383.8 101.6L383.7 100.6L383.6 99.6L383.6 98.6L383.5 97.6L383.4 96.6L383.3 95.6L383.2 94.6L383.1 93.6L383.0 92.5L382.8 91.5L382.7 90.5L382.6 89.5L382.5 88.5L382.3 87.5L382.2 86.5L382.1 85.5L381.9 84.5L381.8 83.5L381.6 82.5L381.5 81.5L381.3 80.5L381.2 79.5L381.0 78.5L380.9 77.4L380.7 76.4L380.6 75.4L380.4 74.4L380.3 73.4L380.2 72.4L380.0 71.4L379.9 70.4L379.8 69.4L379.7 68.4L379.5 67.4L379.4 66.4L379.3 65.4L379.2 64.4L379.1 63.4L379.0 62.3L379.0 61.3L378.9 60.3L378.8 59.3L378.8 58.3L378.7 57.3L378.6 56.3L378.6 55.3L378.5 54.3L378.5 53.3L378.4 52.3L378.4 51.3L378.4 50.3L378.4 49.3L378.3 48.2L378.3 47.2L378.3 46.2L378.3 45.2L378.3 44.2L378.3 43.2L378.3 42.2L378.2 41.2L378.2 40.2L378.2 39.2L378.2 38.2L378.2 37.2L378.2 36.2L378.2 35.2L378.2 34.2L378.2 33.1L378.2 32.1L378.2 31.1L378.2 30.1L378.2 29.1L378.2 28.1L378.2 27.1L378.2 26.1L378.2 25.1L377.6 25.1L377.6 26.1L377.6 27.1L377.6 28.1L377.6 29.1L377.6 30.1L377.6 31.1L377.6 32.1L377.6 33.1L377.6 34.2L377.6 35.2L377.6 36.2L377.6 37.2L377.6 38.2L377.6 39.2L377.6 40.2L377.6 41.2L377.5 42.2L377.5 43.2L377.5 44.2L377.5 45.2L377.5 46.2L377.5 47.2L377.5 48.2L377.4 49.3L377.4 50.3L377.4 51.3L377.4 52.3L377.3 53.3L377.3 54.3L377.2 55.3L377.2 56.3L377.1 57.3L377.0 58.3L377.0 59.3L376.9 60.3L376.8 61.3L376.8 62.3L376.7 63.4L376.6 64.4L376.5 65.4L376.4 66.4L376.3 67.4L376.1 68.4L376.0 69.4L375.9 70.4L375.8 71.4L375.6 72.4L375.5 73.4L375.4 74.4L375.2 75.4L375.1 76.4L374.9 77.4L374.8 78.5L374.6 79.5L374.5 80.5L374.3 81.5L374.2 82.5L374.0 83.5L373.9 84.5L373.7 85.5L373.6 86.5L373.5 87.5L373.3 88.5L373.2 89.5L373.1 90.5L373.0 91.5L372.8 92.5L372.7 93.6L372.6 94.6L372.5 95.6L372.4 96.6L372.3 97.6L372.2 98.6L372.2 99.6L372.1 100.6L372.0 101.6L371.9 102.6L371.9 103.6L371.8 104.6L371.8 105.6L371.8 106.6L371.9 107.6L371.9 108.7L371.9 109.7L372.0 110.7L372.0 111.7L372.1 112.7L372.1 113.7L372.1 114.7L372.2 115.7L372.3 116.7L372.3 117.7L372.4 118.7L372.5 119.7L372.6 120.7L372.7 121.7L372.8 122.8L372.9 123.8L373.1 124.8L373.2 125.8L373.3 126.8L373.5 127.8L373.6 128.8L373.8 129.8L374.1 130.8L374.4 131.8L374.7 132.8L375.0 133.8L375.4 134.8L375.8 135.8L376.1 136.8L376.4 137.9L376.6 138.9L376.8 139.9L376.9 140.9L376.9 141.9L376.9 142.9L376.8 143.9L376.8 144.9Z" fill="#a8952a" stroke="#3a3a3a" stroke-width="0.35" stroke-opacity="0.6"/>
<path transform="scale(.1)" d="M3723 251h0m14-3h0m73 15h0m-68 0h0m46 9h0m18 9h0m31-2h0m-51 32h0m-59 9h0m88 15h0m1 17h0m-41 7h0m-28-8h0m44 9h0m-72 66h0m105 17h0m-30 0h0m-79 9h0m113 6h0m-96 27h0m91 52h0m-33-3h0m-66 14h0m0 1h0m44 3h0m18-2h0m12-8h0m1 3h0m6 0h0m21 21h0m-25-8h0m-7 18h0m33 37h0m-4 14h0m-77 17h0m54-7h0m37 8h0m-4 6h0m-17-5h0m-10 11h0m-46-10h0m-20 9h0m-6 0h0m-14 2h0m25 12h0m13 4h0m49-6h0m20-7h0m15 23h0m-1-1h0m-11-4h0m-89-4h0m-28 9h0m9 18h0m15-11h0m75 12h0m10-2h0m-8 8h0m-69 10h0m0-7h0m-20 6h0m-7-1h0m21 14h0m5 2h0m68 0h0m13-10h0m7 16h0m-1 9h0m-1-13h0m-10 6h0m-2 2h0m-68-4h0m-12 4h0m-4-6h0m-4 4h0m-14 9h0m6 10h0m3 4h0m19-2h0m6-11h0m63 21h0m-2 7h0m-2-4h0m-95 11h0m21 0h0m7 4h0m87 7h0m-106 12h0m-4 1h0m8 0h0m4 8h0m2 8h0m-1 10h0m-4-6h0m-15 24h0m8-13h0m8 6h0m3-4h0m88 1h0m17 7h0m5 3h0m2-9h0m-20 16h0m-95 6h0m-6-8h0m6 22h0m102 1h0m11 2h0m1 0h0m-126 26h0m0-9h0m1 6h0m6-7h0m109 14h0m-109 12h0m-4 13h0m115 5h0m6-1h0m-1 10h0m-7-3h0m-120 13h0m5 11h0m0-13h0m2 8h0m115-2h0m-114 11h0m0 1h0m-3 0h0m0 3h0m-3-7h0m-2 5h0m2 12h0m4 9h0m120 14h0m-120 2h0m-4-1h0m-1 15h0m0 17h0m-1-10h0m1 15h0m129-2h0m1 27h0m-1-13h0m-126 5h0m-3 8h0m129 10h0m-125 17h0m-4-10h0m128 23h0m-3 11h0m-125 21h0m5-3h0m120 2h0m2-7h0m-119 17h0m-3 0h0m-1 24h0m118-9h0m0 3h0m4 14h0m-123-1h0m124 20h0m2 3h0m1-2h0m-1 14h0m-1 4h0m-12-3h0m-112 15h0m4 1h0m7 2h0m100-7h0m1-7h0m12 6h0m-125 10h0m-2 27h0m5 1h0m112-1h0m1 0h0m3-7h0m3-3h0m3 14h0m-3 0h0m-15 6h0m-1 3h0m-92 2h0m-15-8h0m2 10h0m1 6h0m3-5h0m98 13h0m4 0h0m7-14h0m5 5h0m0-2h0m3 1h0m1 7h0m-115 16h0m21 17h0m86-9h0m-84 21h0m0 0h0m-7-4h0m-23-6h0m-1 4h0m-2 6h0m1 10h0m16 5h0m3-4h0m3-7h0m7 14h0m67-12h0m7 9h0m15-8h0m-89 20h0m-14-7h0m-5 4h0m-2 0h0m95 55h0m-18 22h0m18-6h0m21 7h0" stroke="#555" stroke-width="0.6" opacity="0.5" vector-effect="non-scaling-stroke" stroke-linecap="round" fill="none"/>
<path transform="scale(.1)" d="M3776 407h0m-4 165h0m7 23h0m4 45h0m2-8h0m1 8h0m-8 13h0m-4 11h0m11 9h0m10-3h0m0 15h0m4 31h0m-24-8h0m-15 11h0m-2 14h0m14-10h0m13 15h0m-9 8h0m-13-7h0m-9 19h0m7-4h0m4-3h0m19 13h0m21-7h0m-10 20h0m-29 12h0m20 4h0m15 0h0m6-8h0m5 16h0m-12-1h0m-10 9h0m-14-13h0m-13 16h0m24 11h0m0-11h0m4 2h0m22 19h0m-11 2h0m-8 4h0m-6-12h0m-15 10h0m-17-12h0m-6 2h0m-1 4h0m-3 1h0m12 19h0m1 2h0m3-8h0m5-3h0m5 9h0m1-7h0m6 10h0m18-6h0m4-2h0m6 6h0m2-2h0m8-6h0m1 22h0m-24-10h0m-1 11h0m-25-12h0m-6 0h0m0 5h0m-6-3h0m-9 20h0m5-2h0m12 5h0m2 2h0m12-7h0m8-4h0m10-1h0m23 24h0m-9-2h0m-1 1h0m-4-3h0m-3-5h0m-2 1h0m-6-1h0m-7 14h0m-3-5h0m-9-7h0m-1 4h0m-3-5h0m-7 6h0m-6 5h0m-4 0h0m-6-4h0m-14-1h0m15 12h0m2 3h0m2 2h0m1 3h0m12 1h0m7-4h0m7 3h0m23-9h0m3 6h0m14 4h0m-11 11h0m-5 5h0m-1-6h0m-10 2h0m-8-3h0m-10-3h0m-10 5h0m-1 0h0m-5 0h0m-6-3h0m-8 3h0m-3 4h0m3 4h0m19 5h0m24 5h0m4 1h0m3-6h0m1 6h0m19-4h0m17 13h0m-15 4h0m-1-1h0m-1 4h0m0-3h0m-13-6h0m-5 0h0m-1 7h0m-7-5h0m0 6h0m-8-13h0m-14 3h0m-2 5h0m-4 2h0m-17-5h0m-3-5h0m-4 7h0m-3 17h0m3 4h0m1 1h0m12-9h0m3 4h0m0-1h0m1 6h0m4-8h0m7-2h0m1 9h0m14 0h0m32-13h0m2 7h0m0 6h0m10 0h0m10 12h0m-2 3h0m-2-4h0m-2-4h0m-8 6h0m-10-4h0m-6 7h0m-10 0h0m-7-7h0m-10 2h0m-4-4h0m-7 5h0m0-5h0m0-2h0m-8 9h0m-7-10h0m-16 2h0m-4-2h0m-3 9h0m-1-1h0m0 16h0m10-10h0m2 12h0m2-11h0m4 8h0m19 0h0m1 2h0m14 0h0m2-4h0m2 1h0m13-9h0m10 12h0m1-3h0m3 3h0m2-1h0m16-3h0m0 0h0m3 0h0m4 4h0m-1 17h0m-4-13h0m-19 3h0m0-2h0m-18 1h0m-28 0h0m-6 1h0m-9 5h0m-8-4h0m-12 1h0m-11 19h0m10 4h0m4-2h0m18-4h0m25 0h0m27-8h0m2 3h0m3-2h0m11 3h0m11 2h0m5 14h0m-4 0h0m-16 4h0m-3-9h0m-12 7h0m-6 0h0m-3-5h0m-11 12h0m-12-13h0m-8-1h0m-9 6h0m0 0h0m-4 6h0m-7 0h0m-5-1h0m-5-5h0m0 0h0m-9 11h0m11 6h0m8-3h0m9 8h0m16-4h0m20 4h0m5-1h0m1-12h0m2 5h0m11 0h0m1 2h0m20 0h0m14-5h0m-16 13h0m-13 1h0m-8 7h0m-24 5h0m-4-8h0m-4 7h0m-1-10h0m-1 4h0m-44-1h0m-4 2h0m-1 0h0m3 15h0m6 4h0m1-5h0m3-1h0m10 6h0m5-10h0m10 7h0m7 5h0m3-4h0m0-9h0m6 4h0m1 1h0m11-1h0m4 9h0m3-8h0m0-3h0m1 11h0m7 1h0m4-2h0m0 1h0m3-7h0m5 0h0m3 6h0m4 0h0m5 1h0m4-8h0m1 0h0m1 2h0m7 5h0m-14 7h0m-8-4h0m-2 11h0m-7-6h0m-1 2h0m-20-2h0m-5 8h0m-8-11h0m-27 2h0m-3-2h0m-4 2h0m-3 7h0m-5-9h0m11 24h0m10-3h0m1-6h0m3 11h0m8-4h0m2-3h0m11 1h0m7 5h0m16-9h0m10 1h0m15 9h0m4-8h0m3-1h0m5-3h0m1 26h0m-12 0h0m-14-2h0m0-8h0m-20 1h0m-1-2h0m-2-1h0m-17 9h0m-1-3h0m-8-5h0m-3 0h0m-2 6h0m-2-1h0m-6-3h0m-6 8h0m-6 1h0m-9-11h0m0 2h0m-3 7h0m2 12h0m2 4h0m2-5h0m1 0h0m14 7h0m27-13h0m4 13h0m4-9h0m1-3h0m15 3h0m9 10h0m0-5h0m1-5h0m4-3h0m16 3h0m2 19h0m-12 5h0m0-12h0m-3 1h0m-3 12h0m-2-5h0m-3 4h0m-4-4h0m-33 1h0m-16-7h0m-6 2h0m-1-2h0m-14 2h0m-7 10h0m14 5h0m2 1h0m8 8h0m26-7h0m12 3h0m0-2h0m2 6h0m8-5h0m7 5h0m8-12h0m10 3h0m1 9h0m9-2h0m3-7h0m-12 23h0m-5-6h0m-1-4h0m-2-3h0m-5 9h0m-5 3h0m-12 2h0m-16-6h0m-6 4h0m-6-4h0m-3-2h0m-1-5h0m-1 7h0m-1-4h0m-13 8h0m0-8h0m-9 1h0m-7-5h0m-4 14h0m16 11h0m7-8h0m10 0h0m10 10h0m16-9h0m5 7h0m19 0h0m9 0h0m2 2h0m11-4h0m-14 12h0m-12-3h0m-1 0h0m-19 6h0m-17 1h0m-23-2h0m-16 5h0m4 11h0m7-5h0m8 7h0m4 1h0m5-8h0m41-3h0m0 5h0m10 3h0m4 4h0m14-6h0m1-6h0m-4 23h0m-13 0h0m-7-5h0m-13 11h0m-29-7h0m-18 2h0m5 17h0m0 0h0m10-2h0m9 0h0m12-4h0m6-1h0m20 8h0m15 13h0m-11-3h0m-10 4h0m-2-10h0m-5 6h0m-6 5h0m-2-9h0m-10 1h0m-27 8h0m-1-3h0m-4-8h0m-2 21h0m7 1h0m1-4h0m11 0h0m4 8h0m28-6h0m7 1h0m16-3h0m-18 20h0m-5 2h0m-4-3h0m-38 3h0m-5-1h0m55 7h0m14-2h0m-23 16h0m-37 5h0m6 15h0m32 11h0m-21 85h0" stroke="#111" stroke-width="0.55" opacity="0.4" vector-effect="non-scaling-stroke" stroke-linecap="round" fill="none"/>
<path transform="scale(.1)" d="M3715 1449h0m5 0h0m2 0h0m5 0h0m0 0h0m10 0h0m2 0h0m0 0h0m2 0h0m9 0h0m7 0h0m1 0h0m6 0h0m2 0h0m0 0h0m5 0h0m9 0h0m13 0h0m9 0h0m4 0h0m0 0h0m9 0h0m12 0h0m2 0h0m10 0h0" stroke="#555" stroke-width="0.6" opacity="0.5" vector-effect="non-scaling-stroke" stroke-linecap="round" fill="none"/>
<text transform="translate(384.5,162.3) rotate(-45)" font-size="9.0" text-anchor="end" fill="#3a3a3a">CD8 T<tspan font-size="5.4" dy="1">EM</tspan></text>
<line x1="391.5" y1="151.4" x2="391.5" y2="155.0" stroke="#a0a0a0" stroke-width="0.7"/>
<path d="M395.7 144.9L395.1 143.9L394.6 142.9L394.0 141.9L393.6 140.8L393.3 139.8L393.1 138.8L393.2 137.8L393.4 136.8L393.6 135.8L393.9 134.8L394.2 133.8L394.5 132.7L394.8 131.7L395.1 130.7L395.3 129.7L395.4 128.7L395.6 127.7L395.7 126.7L395.8 125.6L396.0 124.6L396.1 123.6L396.2 122.6L396.3 121.6L396.4 120.6L396.5 119.6L396.6 118.6L396.7 117.5L396.7 116.5L396.8 115.5L396.9 114.5L396.9 113.5L397.0 112.5L397.0 111.5L397.1 110.4L397.1 109.4L397.2 108.4L397.2 107.4L397.2 106.4L397.3 105.4L397.2 104.4L397.2 103.4L397.2 102.3L397.1 101.3L397.0 100.3L396.9 99.3L396.8 98.3L396.7 97.3L396.6 96.3L396.5 95.3L396.4 94.2L396.3 93.2L396.2 92.2L396.1 91.2L396.0 90.2L395.9 89.2L395.7 88.2L395.6 87.1L395.4 86.1L395.3 85.1L395.1 84.1L395.0 83.1L394.8 82.1L394.7 81.1L394.5 80.1L394.3 79.0L394.2 78.0L394.0 77.0L393.9 76.0L393.8 75.0L393.6 74.0L393.5 73.0L393.4 71.9L393.2 70.9L393.1 69.9L393.0 68.9L392.9 67.9L392.8 66.9L392.7 65.9L392.6 64.9L392.5 63.8L392.4 62.8L392.3 61.8L392.3 60.8L392.2 59.8L392.2 58.8L392.1 57.8L392.1 56.7L392.0 55.7L392.0 54.7L391.9 53.7L391.9 52.7L391.9 51.7L391.9 50.7L391.8 49.7L391.8 48.6L391.8 47.6L391.8 46.6L391.8 45.6L391.8 44.6L391.8 43.6L391.8 42.6L391.8 41.5L391.8 40.5L391.8 39.5L391.8 38.5L391.8 37.5L391.8 36.5L391.8 35.5L391.8 34.5L391.8 33.4L391.8 32.4L391.8 31.4L391.8 30.4L391.8 29.4L391.8 28.4L391.8 27.4L391.8 26.4L391.8 25.3L391.8 24.3L391.2 24.3L391.2 25.3L391.2 26.4L391.2 27.4L391.2 28.4L391.2 29.4L391.2 30.4L391.2 31.4L391.2 32.4L391.2 33.4L391.2 34.5L391.2 35.5L391.2 36.5L391.2 37.5L391.2 38.5L391.2 39.5L391.2 40.5L391.2 41.5L391.2 42.6L391.2 43.6L391.2 44.6L391.2 45.6L391.2 46.6L391.2 47.6L391.2 48.6L391.2 49.7L391.1 50.7L391.1 51.7L391.1 52.7L391.1 53.7L391.0 54.7L391.0 55.7L390.9 56.7L390.9 57.8L390.8 58.8L390.8 59.8L390.7 60.8L390.7 61.8L390.6 62.8L390.5 63.8L390.4 64.9L390.3 65.9L390.2 66.9L390.1 67.9L390.0 68.9L389.9 69.9L389.8 70.9L389.6 71.9L389.5 73.0L389.4 74.0L389.2 75.0L389.1 76.0L389.0 77.0L388.8 78.0L388.7 79.0L388.5 80.1L388.3 81.1L388.2 82.1L388.0 83.1L387.9 84.1L387.7 85.1L387.6 86.1L387.4 87.1L387.3 88.2L387.1 89.2L387.0 90.2L386.9 91.2L386.8 92.2L386.7 93.2L386.6 94.2L386.5 95.3L386.4 96.3L386.3 97.3L386.2 98.3L386.1 99.3L386.0 100.3L385.9 101.3L385.8 102.3L385.8 103.4L385.8 104.4L385.7 105.4L385.8 106.4L385.8 107.4L385.8 108.4L385.9 109.4L385.9 110.4L386.0 111.5L386.0 112.5L386.1 113.5L386.1 114.5L386.2 115.5L386.3 116.5L386.3 117.5L386.4 118.6L386.5 119.6L386.6 120.6L386.7 121.6L386.8 122.6L386.9 123.6L387.0 124.6L387.2 125.6L387.3 126.7L387.4 127.7L387.6 128.7L387.7 129.7L387.9 130.7L388.2 131.7L388.5 132.7L388.8 133.8L389.1 134.8L389.4 135.8L389.6 136.8L389.8 137.8L389.9 138.8L389.7 139.8L389.4 140.8L389.0 141.9L388.4 142.9L387.9 143.9L387.3 144.9Z" fill="#14993f" stroke="#3a3a3a" stroke-width="0.35" stroke-opacity="0.6"/>
<path transform="scale(.1)" d="M3970 260h0m-24 24h0m-52 9h0m25 43h0m14 5h0m38 0h0m5 17h0m-17 17h0m-4 6h0m-53 2h0m-25 17h0m69-7h0m33 23h0m-23 2h0m-38-4h0m-7 12h0m0 8h0m9-9h0m24 24h0m-5-12h0m29 18h0m6-4h0m-88 23h0m-22 6h0m42 3h0m-45 20h0m60 13h0m1-1h0m49 9h0m-25 2h0m-54 23h0m-11 6h0m-23 16h0m70 5h0m26-1h0m2 1h0m-9 14h0m-93-4h0m6 27h0m15-8h0m23-5h0m25 0h0m27 11h0m3-3h0m23 11h0m-83 9h0m-35 12h0m28 0h0m58-6h0m31 23h0m-17-11h0m-13 13h0m-18-7h0m-33 6h0m-9-12h0m-2 9h0m-1-5h0m-19 5h0m27 19h0m42-3h0m2-6h0m43-4h0m2 18h0m-79-4h0m-23 7h0m-5-4h0m-1 10h0m-21 15h0m25-5h0m74-5h0m9 11h0m4-1h0m17 8h0m-10 2h0m-3 1h0m-9 3h0m-74-1h0m-1-4h0m-10 5h0m-15-6h0m18 23h0m61-1h0m1-9h0m6 5h0m7 3h0m20 7h0m-3 9h0m-26-12h0m-50 1h0m-5 0h0m-1 9h0m-4-3h0m-2 1h0m-14-9h0m-1 12h0m0-3h0m-12 7h0m6 7h0m8 6h0m11-6h0m66 2h0m4 2h0m0-7h0m0 4h0m1-8h0m10 4h0m12 7h0m8-11h0m-3 21h0m-86-6h0m-6-1h0m-1 10h0m-28-10h0m9 17h0m5 12h0m0-10h0m3 4h0m14 1h0m2 0h0m74-9h0m8 4h0m5-1h0m1 4h0m5 8h0m0 10h0m-4-5h0m-10 9h0m-1-5h0m-2-8h0m-4 11h0m-78-2h0m-9 0h0m-8-6h0m-2 1h0m14 17h0m72 3h0m22 11h0m0 3h0m-10-5h0m-5 1h0m-105 5h0m-1 2h0m25 11h0m88 0h0m14 6h0m4 3h0m-1 9h0m-3-8h0m-9-3h0m-3 5h0m-3 0h0m-2 7h0m-4 0h0m-82-2h0m-11-1h0m-10 11h0m2 1h0m9-4h0m3 3h0m6 3h0m106 1h0m-2 8h0m-11 7h0m-99-8h0m-5 10h0m-9-8h0m0 8h0m-2 12h0m3-6h0m8 3h0m2 3h0m5 4h0m0-3h0m93-5h0m2 8h0m3 1h0m1-2h0m3 3h0m1-2h0m0-3h0m9-2h0m1 16h0m-3 1h0m-10-9h0m0 1h0m-4 13h0m-115 5h0m4 3h0m13-5h0m0 9h0m99-1h0m1-1h0m6-8h0m7 28h0m-6-5h0m-6-5h0m-109 7h0m0-8h0m-2 4h0m-5-2h0m-1 4h0m-1 1h0m0 5h0m6 9h0m8-2h0m0 3h0m109-3h0m5 4h0m2 9h0m0 4h0m-6-5h0m-2 2h0m-112 3h0m-2-9h0m-6 26h0m2 2h0m1-1h0m3-11h0m118 12h0m2-4h0m1-2h0m2 14h0m-127-6h0m-2 19h0m5 9h0m0 0h0m3-13h0m116 0h0m6 27h0m-8-3h0m-119 0h0m119 9h0m2 9h0m5 3h0m-7 2h0m-119 17h0m1-2h0m3 0h0m117 2h0m1 8h0m2-5h0m1-4h0m2 0h0m-1 13h0m-1 5h0m-1 6h0m0-3h0m-4-4h0m-3-2h0m-118 6h0m-1 3h0m-2-4h0m0 0h0m1 18h0m0-3h0m127 19h0m-8-1h0m-110 1h0m-4 2h0m-3-12h0m-3 24h0m2-10h0m0 1h0m1 12h0m0-10h0m2 7h0m2-1h0m117-1h0m0 2h0m2 1h0m2 1h0m-116 16h0m-12-10h0m0 11h0m1 7h0m1 2h0m3-7h0m5 8h0m108-10h0m1 6h0m5-1h0m7 9h0m-10 10h0m-3-7h0m0 2h0m-2 3h0m-103 1h0m-5 4h0m109 6h0m4 2h0m4 0h0m0 20h0m-2 4h0m-5-11h0m-110 16h0m7 2h0m2 3h0m102 2h0m11 2h0m0 10h0m-1-1h0m-15-7h0m-1 1h0m-98 11h0m-1-2h0m-10 0h0m5 18h0m2-1h0m2-4h0m3-2h0m2 5h0m93-9h0m4 6h0m8-1h0m0 7h0m1-7h0m1 3h0m4 0h0m-2 19h0m-8-3h0m-96 3h0m-11-8h0m-13 20h0m2 2h0m19-10h0m5 1h0m2 8h0m97-10h0m-2 17h0m-10 2h0m-5-4h0m-83 1h0m-16 7h0m8 6h0m5 7h0m83 6h0m8-9h0m14 12h0m-11 11h0m-15-1h0m-6-11h0m-4 12h0m-79 0h0m-5-10h0m3 22h0m16 0h0m18-4h0m57-5h0m29 16h0m-13 3h0m-73 8h0m-10-2h0m-14-10h0m-2 1h0m-3 2h0m-2 21h0m5-2h0m2-6h0m7 6h0m18-6h0m67 6h0m2 5h0m-5 2h0m-9 4h0m-1 10h0m-10-12h0m-45 12h0m-1-8h0m-5-6h0m-11 6h0m-12 8h0m-4 14h0m2-4h0m2 4h0m23-10h0m71 7h0m11 4h0m11-3h0m-18 7h0m-5 7h0m-1 4h0m-77-12h0m-6 4h0m-6 4h0m-1 3h0m-6-12h0m-4 7h0m-1 6h0m1 15h0m21-14h0m90 8h0m4 4h0m-112 4h0" stroke="#555" stroke-width="0.6" opacity="0.5" vector-effect="non-scaling-stroke" stroke-linecap="round" fill="none"/>
<path transform="scale(.1)" d="M3915 254h0m4 321h0m5 68h0m-7 14h0m0-12h0m-2 35h0m-10 2h0m-4 22h0m2 0h0m21-4h0m2 12h0m0 0h0m-21 20h0m15-11h0m7 5h0m-6 14h0m-7 4h0m-4-4h0m-7-3h0m-8 4h0m0 8h0m13 13h0m22-4h0m10 9h0m-4 11h0m-2-1h0m-5 0h0m-1-4h0m-3 0h0m-19-1h0m-9 7h0m-10 10h0m11-4h0m8 7h0m14-2h0m3-6h0m15 0h0m5 5h0m-9 18h0m-3 0h0m-12-3h0m-1 3h0m-19-11h0m0 6h0m-9-5h0m-7 20h0m1 3h0m8 3h0m10-8h0m22 8h0m13-2h0m3-8h0m2 10h0m1 9h0m-2-2h0m-1 9h0m-4-7h0m-7 3h0m-6 3h0m-2-3h0m-12 2h0m-7-6h0m-7 2h0m-3 0h0m-5 0h0m-1-6h0m-4 7h0m0 2h0m-2 16h0m2-9h0m3 7h0m4 1h0m8-4h0m9 2h0m4-8h0m2 10h0m14 0h0m1-11h0m3 6h0m16 4h0m-1 16h0m-17 2h0m-8-4h0m-5 2h0m-8 0h0m-7-5h0m-10-2h0m-4 5h0m-6 13h0m15 0h0m4 7h0m14-10h0m5 8h0m0-1h0m5-6h0m8 3h0m7 4h0m1-5h0m0 4h0m9-5h0m11 19h0m-9 0h0m-6-9h0m-2 13h0m0-6h0m-1 4h0m-12-6h0m-3 5h0m-1-7h0m-1 5h0m-1-5h0m-8 1h0m-3 2h0m-10-5h0m-1 5h0m-1 6h0m0-13h0m-2 14h0m-5-11h0m-2 8h0m-7-9h0m-9 7h0m-2 11h0m0 6h0m1-7h0m0 9h0m6-6h0m1 0h0m9 0h0m16-2h0m6 4h0m3-5h0m3-3h0m11 1h0m3 9h0m8 2h0m2 0h0m3 0h0m2-1h0m1-9h0m6 9h0m6 14h0m-4-7h0m-8-2h0m-1 6h0m-2 5h0m-2-9h0m-8 1h0m-11 9h0m-24-4h0m-2-3h0m-3-2h0m-6-2h0m-21 9h0m5 13h0m1-10h0m1 10h0m1-2h0m2-7h0m12 8h0m1-8h0m7 3h0m9 10h0m6-4h0m2 3h0m9-9h0m4 0h0m2 7h0m3 2h0m1-10h0m1 7h0m4 0h0m4-7h0m5 6h0m6-7h0m6 4h0m4 10h0m-16 12h0m-6-11h0m-4 9h0m-11-11h0m-5 13h0m0-3h0m-8 3h0m-1-9h0m-3-3h0m-1 1h0m-11 1h0m-5 1h0m0 6h0m-3-9h0m0 13h0m-5-9h0m-4-3h0m-4 9h0m-4-3h0m0 6h0m-5-13h0m4 16h0m6 12h0m3-9h0m0 6h0m1-5h0m6-2h0m2-3h0m3 10h0m8-9h0m0-2h0m1 4h0m11 5h0m2-4h0m10-4h0m3 6h0m2 4h0m6-2h0m14-2h0m2 1h0m2-3h0m8-1h0m1 7h0m-2 5h0m-7 4h0m-2-2h0m-1 0h0m-11 10h0m-1-6h0m-5 7h0m-4 0h0m-10-5h0m-3-5h0m-2 4h0m-6 3h0m-2-7h0m-4 1h0m-1 4h0m-15-7h0m-1 8h0m-2-8h0m-5 9h0m-3-11h0m-4 12h0m-2-10h0m-8 1h0m2 19h0m3-1h0m6 1h0m0 7h0m11-9h0m14 4h0m5 5h0m0-6h0m5-5h0m1 2h0m0 7h0m15 2h0m7-9h0m4 9h0m2-8h0m4 8h0m10-10h0m8 1h0m9 0h0m0 15h0m-11 3h0m0-2h0m0-4h0m-4 3h0m0 1h0m-16-3h0m-1 0h0m-8 2h0m-5 8h0m-22-10h0m-9-2h0m-5 11h0m-2-11h0m-4 7h0m-4-4h0m-5-2h0m-1 7h0m-2-9h0m-9 12h0m3 11h0m8-6h0m0-1h0m1 11h0m9-3h0m1-7h0m2 12h0m3-7h0m3 4h0m3 3h0m7-8h0m5 5h0m2-8h0m5 8h0m1-3h0m2 3h0m11-10h0m3 0h0m3 4h0m3-5h0m0 2h0m7 4h0m3-6h0m3 12h0m8-5h0m7 1h0m2-7h0m1 2h0m4 25h0m-9-12h0m-13 11h0m-12-7h0m-1-5h0m-1 6h0m-3-3h0m-11 1h0m-6 1h0m-5 4h0m-7-4h0m-1 2h0m-8 0h0m-1 6h0m-3-3h0m-2 4h0m-16-2h0m-7-7h0m-2 9h0m-1-8h0m0 8h0m-2 6h0m10 1h0m10 8h0m19-2h0m7-1h0m3-9h0m10 12h0m3-3h0m5-2h0m1 2h0m0-3h0m4-2h0m12 2h0m3-2h0m10 6h0m1-12h0m0 2h0m1 5h0m2-6h0m10 10h0m2 11h0m-5 5h0m-3-4h0m-6 2h0m-2 0h0m-1-4h0m-15-3h0m-35 2h0m-2 6h0m-1-8h0m-1 0h0m-11 11h0m-8-5h0m-1-3h0m-13 1h0m-5-2h0m-3 6h0m5 16h0m1-3h0m14 1h0m1 0h0m6 1h0m1 3h0m5-7h0m4-4h0m1 3h0m3-4h0m7-2h0m1 13h0m2-2h0m9 2h0m3-5h0m2 5h0m3-5h0m6-3h0m10 1h0m0-1h0m1 9h0m3-9h0m2 5h0m3-5h0m6 4h0m9 19h0m-12-10h0m-10 4h0m-1 3h0m-4-3h0m-1-1h0m-7-4h0m-2 4h0m-1-2h0m-3-1h0m-4 4h0m-1-6h0m-4-1h0m-1 2h0m-4 1h0m-2 8h0m-4-11h0m-3 5h0m-2 3h0m-7 5h0m-2-5h0m-5-1h0m-22 22h0m7-4h0m17-6h0m2 10h0m4-5h0m22 5h0m8-3h0m4 2h0m1-6h0m4 5h0m1-3h0m3-9h0m3 12h0m20 0h0m7-1h0m-1 17h0m-5 0h0m-1-8h0m-8 2h0m-16-2h0m-3 4h0m-13-2h0m-2 3h0m-2 4h0m-5-6h0m-1 5h0m-11-12h0m-34 7h0m-1-1h0m5 9h0m6 11h0m1-8h0m8 7h0m5-2h0m8-4h0m7 9h0m2 0h0m13-14h0m3 11h0m1-10h0m4 7h0m6 6h0m0 0h0m14-13h0m0 6h0m4-7h0m0 14h0m4-9h0m9 3h0m0 1h0m3-9h0m-6 28h0m-5-1h0m-6-5h0m0-3h0m-4 0h0m-4 5h0m-10 5h0m-10-12h0m-6 3h0m-1 2h0m-12 0h0m-3 3h0m-2-7h0m-3 4h0m-5-7h0m0 13h0m-4-2h0m-6 3h0m-7-11h0m-1 5h0m0-2h0m-2-6h0m-8 6h0m1 16h0m5-1h0m1 3h0m5-7h0m1 0h0m4 2h0m1-2h0m5 9h0m2-2h0m3-5h0m17-1h0m4 5h0m7-5h0m5 5h0m0-2h0m1 4h0m4-2h0m8-5h0m4 3h0m6 7h0m12-12h0m5 0h0m0 14h0m-2 5h0m-8 8h0m-2-11h0m-1 6h0m-8 0h0m-13-2h0m-3 8h0m-9-9h0m-11-4h0m0 2h0m-31 0h0m-5 11h0m3 11h0m3 3h0m4-4h0m6-3h0m3 0h0m5 5h0m6 1h0m8 2h0m3-6h0m17-2h0m6 7h0m1 1h0m4-11h0m0 5h0m2-3h0m2-1h0m2 9h0m15-7h0m-5 20h0m-2-10h0m-9 6h0m-1-5h0m-7 11h0m-1-9h0m-3 1h0m-1 4h0m-1 4h0m0-9h0m-5 8h0m-1-11h0m-2 9h0m-13-6h0m-2 8h0m-2-8h0m-2-1h0m-2 9h0m-3-7h0m-8-2h0m-2 3h0m-9 8h0m-12-6h0m8 8h0m4 3h0m10-1h0m4 11h0m1-1h0m6-12h0m12 0h0m2-1h0m12 10h0m30 0h0m-5 9h0m-2-2h0m-2 9h0m-11-9h0m-2 2h0m-10 2h0m-5 6h0m-6-12h0m-4 9h0m-3-3h0m-2-2h0m-3 5h0m-2 3h0m-9-11h0m-16 10h0m-3-6h0m4 23h0m27-13h0m25 11h0m2-3h0m10 0h0m5-6h0m6 11h0m1-9h0m1 2h0m1 6h0m-1 5h0m-24 4h0m-2-2h0m-4 8h0m-17-10h0m-8 10h0m-11-8h0m0 10h0m-5-1h0m-1 8h0m2-5h0m7-1h0m4 12h0m8-6h0m1-3h0m8 9h0m0-1h0m5-8h0m1-3h0m0 4h0m4 6h0m7 1h0m18-5h0m1 5h0m2-11h0m-21 25h0m-1-5h0m-1-4h0m-25 9h0m-1-1h0m-5 7h0m8 3h0m8 4h0m8-4h0m4 9h0m2 12h0m-10-7h0m-5 9h0m-6-8h0m0 3h0m-2-5h0m-11 1h0m3 15h0m8 3h0m3 2h0m3 5h0m2-3h0m10-6h0m1 5h0m2 4h0m-2 14h0m-24-9h0m7 26h0m3-3h0m22-1h0m0-2h0m-3 21h0m-23-8h0m-9 22h0m3-4h0m3-4h0m0 9h0m8-10h0m6 0h0m16 3h0m8 19h0m-1-2h0m-12-6h0m-3 3h0m0-6h0m-8 13h0m-22 1h0m-6-14h0m-13 22h0m2-2h0m3 5h0m1-2h0m1-3h0m17 5h0m5-1h0m5-4h0m1 7h0m16-11h0m3 11h0m19-3h0m3-3h0" stroke="#111" stroke-width="0.55" opacity="0.4" vector-effect="non-scaling-stroke" stroke-linecap="round" fill="none"/>
<path transform="scale(.1)" d="M3856 1449h0m3 0h0m5 0h0m6 0h0m7 0h0m5 0h0m2 0h0m1 0h0m5 0h0m1 0h0m2 0h0m3 0h0m1 0h0m2 0h0m2 0h0m1 0h0m1 0h0m1 0h0m3 0h0m2 0h0m5 0h0m11 0h0m1 0h0m4 0h0m4 0h0m3 0h0m5 0h0m5 0h0m2 0h0m1 0h0m2 0h0m11 0h0m2 0h0m2 0h0m1 0h0m3 0h0m1 0h0m5 0h0m1 0h0m2 0h0" stroke="#555" stroke-width="0.6" opacity="0.5" vector-effect="non-scaling-stroke" stroke-linecap="round" fill="none"/>
<text transform="translate(398.1,162.3) rotate(-45)" font-size="9.0" text-anchor="end" fill="#3a3a3a">CD8 naive</text>
<line x1="405.0" y1="151.4" x2="405.0" y2="155.0" stroke="#a0a0a0" stroke-width="0.7"/>
<path d="M405.4 144.9L405.4 143.9L405.5 142.8L405.5 141.8L405.6 140.8L405.7 139.7L405.7 138.7L405.8 137.7L405.9 136.6L406.0 135.6L406.1 134.6L406.2 133.5L406.4 132.5L406.5 131.5L406.6 130.4L406.7 129.4L406.9 128.4L407.0 127.3L407.2 126.3L407.3 125.3L407.5 124.2L407.6 123.2L407.8 122.2L407.9 121.2L408.1 120.1L408.2 119.1L408.3 118.1L408.5 117.0L408.6 116.0L408.7 115.0L408.8 113.9L408.9 112.9L409.0 111.9L409.1 110.8L409.2 109.8L409.3 108.8L409.4 107.7L409.5 106.7L409.6 105.7L409.7 104.6L409.8 103.6L409.9 102.6L410.0 101.5L410.1 100.5L410.1 99.5L410.2 98.4L410.3 97.4L410.4 96.4L410.5 95.3L410.5 94.3L410.6 93.3L410.7 92.2L410.7 91.2L410.8 90.2L410.9 89.1L410.9 88.1L411.0 87.1L411.0 86.0L411.0 85.0L411.1 84.0L411.1 82.9L411.1 81.9L411.1 80.9L411.1 79.8L411.0 78.8L411.0 77.8L410.9 76.7L410.8 75.7L410.7 74.7L410.6 73.7L410.6 72.6L410.5 71.6L410.4 70.6L410.3 69.5L410.2 68.5L410.1 67.5L410.0 66.4L409.9 65.4L409.8 64.4L409.7 63.3L409.6 62.3L409.5 61.3L409.4 60.2L409.3 59.2L409.1 58.2L409.0 57.1L408.8 56.1L408.7 55.1L408.5 54.0L408.4 53.0L408.2 52.0L408.0 50.9L407.9 49.9L407.7 48.9L407.6 47.8L407.4 46.8L407.3 45.8L407.1 44.7L407.0 43.7L406.9 42.7L406.7 41.6L406.6 40.6L406.4 39.6L406.3 38.5L406.2 37.5L406.0 36.5L405.9 35.4L405.8 34.4L405.7 33.4L405.6 32.3L405.5 31.3L405.5 30.3L405.4 29.2L405.4 28.2L405.3 27.2L405.3 26.2L405.3 25.1L405.3 24.1L405.3 23.1L405.3 22.0L404.7 22.0L404.7 23.1L404.7 24.1L404.7 25.1L404.7 26.2L404.7 27.2L404.6 28.2L404.6 29.2L404.5 30.3L404.5 31.3L404.4 32.3L404.3 33.4L404.2 34.4L404.1 35.4L404.0 36.5L403.8 37.5L403.7 38.5L403.6 39.6L403.4 40.6L403.3 41.6L403.1 42.7L403.0 43.7L402.9 44.7L402.7 45.8L402.6 46.8L402.4 47.8L402.3 48.9L402.1 49.9L402.0 50.9L401.8 52.0L401.6 53.0L401.5 54.0L401.3 55.1L401.2 56.1L401.0 57.1L400.9 58.2L400.7 59.2L400.6 60.2L400.5 61.3L400.4 62.3L400.3 63.3L400.2 64.4L400.1 65.4L400.0 66.4L399.9 67.5L399.8 68.5L399.7 69.5L399.6 70.6L399.5 71.6L399.4 72.6L399.4 73.7L399.3 74.7L399.2 75.7L399.1 76.7L399.0 77.8L399.0 78.8L398.9 79.8L398.9 80.9L398.9 81.9L398.9 82.9L398.9 84.0L399.0 85.0L399.0 86.0L399.0 87.1L399.1 88.1L399.1 89.1L399.2 90.2L399.3 91.2L399.3 92.2L399.4 93.3L399.5 94.3L399.5 95.3L399.6 96.4L399.7 97.4L399.8 98.4L399.9 99.5L399.9 100.5L400.0 101.5L400.1 102.6L400.2 103.6L400.3 104.6L400.4 105.7L400.5 106.7L400.6 107.7L400.7 108.8L400.8 109.8L400.9 110.8L401.0 111.9L401.1 112.9L401.2 113.9L401.3 115.0L401.4 116.0L401.5 117.0L401.7 118.1L401.8 119.1L401.9 120.1L402.1 121.2L402.2 122.2L402.4 123.2L402.5 124.2L402.7 125.3L402.8 126.3L403.0 127.3L403.1 128.4L403.3 129.4L403.4 130.4L403.5 131.5L403.6 132.5L403.8 133.5L403.9 134.6L404.0 135.6L404.1 136.6L404.2 137.7L404.3 138.7L404.3 139.7L404.4 140.8L404.5 141.8L404.5 142.8L404.6 143.9L404.6 144.9Z" fill="#16a9ad" stroke="#3a3a3a" stroke-width="0.35" stroke-opacity="0.6"/>
<path transform="scale(.1)" d="M4068 234h0m-34 1h0m-37-3h0m66 20h0m46 34h0m-32 10h0m-68 17h0m82-8h0m-75 11h0m62 15h0m-89 43h0m17-1h0m18 0h0m51-13h0m10 2h0m3 27h0m-16 11h0m44 12h0m-122 7h0m-3 4h0m17 2h0m91 5h0m-92 19h0m-13 0h0m-5 1h0m8 2h0m10 26h0m-19 7h0m98 6h0m6-5h0m23 12h0m-1 10h0m-8 1h0m-89-4h0m-26-9h0m26 23h0m69-6h0m27-3h0m-102 25h0m-21 7h0m99 10h0m9-4h0m-94 12h0m-11-1h0m-8 22h0m11-1h0m11-1h0m108 0h0m-19 20h0m-1-10h0m-93 10h0m-6-7h0m-3 7h0m1 14h0m105 0h0m-2 15h0m-107-12h0m-4 5h0m0 12h0m114 1h0m11 10h0m-3 4h0m-108 8h0m-14-1h0m8 7h0m114-2h0m7 13h0m-7 18h0m5 16h0m-125 11h0m4 15h0m-1 29h0m122-12h0m1 10h0m0 1h0m-1 4h0m-123 13h0m0-5h0m-5 39h0m127 23h0m2 24h0m-124 11h0m-3 18h0m-1-3h0m-1 22h0m5 33h0m115 4h0m3-8h0m1-1h0m3 4h0m-6 20h0m-116 14h0m8 20h0m-5 13h0m-1 9h0m0-4h0m-2 8h0m123 12h0m-119 13h0m-2 6h0m111 8h0m6 21h0m-8 0h0m-95 0h0m-8-12h0m-9-2h0m-3 21h0m11-1h0m115 15h0m-3-1h0m-4 1h0m-106 24h0m2-13h0m4 3h0m91-2h0m16 8h0m1 10h0m-1 2h0m-18 2h0m-97-9h0m-2 24h0m2 3h0m11-7h0m1-1h0m83 2h0m1 6h0m6 13h0m-4-8h0m-88 8h0m-8-2h0m93 13h0m9-4h0m0-2h0m0 23h0m-12-3h0m-72 3h0m-9-2h0m-6-1h0m-9-4h0m-7 17h0m11 11h0m2-4h0m87 2h0m2-6h0m12 0h0m10-1h0m4 15h0m-33-5h0m-97 0h0m27 23h0m6-7h0m61 7h0m13-3h0m-104 28h0m16 7h0m23 17h0m-38 14h0m4-6h0m80 4h0m16-4h0m14 1h0m4 9h0m-102 24h0m-20 18h0m3 9h0m83-3h0m-78 23h0m-1 12h0m78-5h0m22 10h0" stroke="#555" stroke-width="0.6" opacity="0.5" vector-effect="non-scaling-stroke" stroke-linecap="round" fill="none"/>
<path transform="scale(.1)" d="M4048 345h0m-5 59h0m5 31h0m21 21h0m5 22h0m-14-4h0m-9 5h0m-25 3h0m20 4h0m9 5h0m9-4h0m-6 16h0m-23 4h0m-9 5h0m4 10h0m29-11h0m14 3h0m2 20h0m0-7h0m-14 11h0m-24-1h0m17 13h0m3-8h0m11-2h0m6 9h0m-29 11h0m-7 8h0m-2-1h0m-17-3h0m-2 10h0m30 9h0m14-1h0m1-5h0m24-7h0m-3 26h0m-10-5h0m-20-3h0m-10-1h0m-10 0h0m-11 2h0m-8-2h0m1 15h0m10 11h0m3-2h0m12-2h0m6-8h0m19 8h0m5-4h0m16 2h0m7 19h0m-1-9h0m-12 0h0m-20 12h0m-19-10h0m-8 7h0m-13 2h0m-6-5h0m25 16h0m9-5h0m7 4h0m18-7h0m17 13h0m3-11h0m-9 17h0m-19 6h0m-4-4h0m-1 2h0m-6-8h0m-25 25h0m36 3h0m4-2h0m29-11h0m2 20h0m-40-6h0m-6 12h0m-5-10h0m-21-2h0m-9 13h0m-19-6h0m16 19h0m17-2h0m14-6h0m0 1h0m4 6h0m15-7h0m24 11h0m2-9h0m1-5h0m2 11h0m7 1h0m1 7h0m-38 4h0m-26-5h0m-6-2h0m0 4h0m-5-4h0m0 2h0m-6 0h0m-4 4h0m-1-7h0m-16 13h0m-3 0h0m19 16h0m1-12h0m46 0h0m13 2h0m8 3h0m15 3h0m-7 6h0m-12 4h0m-3 9h0m-3-7h0m-1 6h0m-18-9h0m-29 5h0m-22-1h0m2 15h0m7 4h0m8 2h0m5-12h0m23 7h0m12 2h0m37-11h0m6 3h0m2 7h0m2 10h0m0 8h0m-34-11h0m-21 4h0m-10 8h0m-3-4h0m-15 2h0m-3-8h0m-1-3h0m-6 12h0m-11-3h0m-13 8h0m18 1h0m5 9h0m5-9h0m19-1h0m1 10h0m9-10h0m5 10h0m33-2h0m22-10h0m-6 22h0m-2 2h0m-19-7h0m-13 9h0m-7 2h0m-27-10h0m0 5h0m-7 1h0m-2-5h0m-15 9h0m0-4h0m-1-5h0m-16 4h0m2 16h0m0 2h0m8-3h0m5 5h0m9-4h0m5-1h0m26-8h0m4 3h0m21-3h0m3 10h0m3 0h0m17 1h0m8-12h0m0 12h0m-1 11h0m-18-2h0m-7 4h0m-10 2h0m-15-4h0m-16-6h0m-3 1h0m-4 4h0m-4 2h0m-14 0h0m-8-7h0m-8 9h0m2 13h0m10-4h0m3 8h0m9 1h0m2-8h0m39 7h0m6-1h0m7-6h0m5 0h0m4 5h0m13 2h0m1-7h0m2 3h0m4 2h0m1-2h0m2 9h0m-5 4h0m-7-7h0m-4 3h0m-7 3h0m-7 5h0m0-9h0m-8 12h0m-5-2h0m-17-4h0m-6-6h0m-3 2h0m-12-1h0m-2 11h0m-1-11h0m-13-1h0m-4 3h0m-4-3h0m-12 13h0m2 2h0m2 8h0m2 1h0m11 0h0m7 2h0m1-11h0m5 10h0m32-8h0m0 8h0m20-12h0m8 2h0m18 25h0m-2-6h0m-2 0h0m-4 7h0m-2-3h0m-2-4h0m-4 5h0m-31-2h0m-22 1h0m-4-9h0m-6 8h0m-2-6h0m-2 3h0m0 7h0m-1-11h0m-10-2h0m-9 2h0m-2 7h0m30 16h0m25-2h0m26-5h0m2 9h0m1-10h0m8 1h0m2 10h0m1-2h0m12-2h0m2 20h0m-27-13h0m-17 11h0m-9 0h0m-2-6h0m-26-5h0m-10 13h0m-1-7h0m-15-6h0m-1-1h0m39 23h0m2 3h0m6-9h0m14-2h0m8 13h0m21-5h0m3 1h0m0 1h0m6-10h0m7 28h0m-29-13h0m-1 6h0m-35-5h0m-22 3h0m-11 10h0m4 15h0m3 0h0m45-3h0m29 7h0m-6 0h0m-3 0h0m-8 2h0m-3 7h0m-18-9h0m-20 10h0m-8-2h0m-13-5h0m32 13h0m14-1h0m2 4h0m27 6h0m4-12h0m2 1h0m-4 15h0m-5 8h0m-13 2h0m-3-9h0m-5 0h0m-18 1h0m-16 7h0m-4-2h0m-6-4h0m-7 22h0m2-6h0m4 4h0m6-3h0m43-5h0m11 1h0m29-2h0m-6 15h0m-4 1h0m-51 8h0m-5-1h0m-2-6h0m-3 8h0m-2-5h0m-7 0h0m17 21h0m6-9h0m9 2h0m28 5h0m11-9h0m3 6h0m1-4h0m-28 22h0m-5-5h0m-10 7h0m-31-3h0m12 10h0m7 9h0m1-8h0m5 4h0m26-4h0m3 1h0m15 13h0m-16 8h0m0 1h0m-6 0h0m-4-4h0m-25-1h0m-16 0h0m-2 1h0m-7 14h0m25 2h0m19-9h0m23 1h0m2-1h0m-5 27h0m-25-9h0m-30-4h0m19 18h0m21 6h0m22 8h0m-3 3h0m-31-2h0m-9-1h0m1 27h0m18-10h0m6 2h0m4 4h0m7-5h0m-14 13h0m-30 8h0m-1-2h0m-4 0h0m29 19h0m12-10h0m-4 19h0m-11-1h0m-9-4h0m-13 0h0m-1 12h0m-5 7h0m8 1h0m24 7h0m13 15h0m-10 12h0m6 8h0m-21 21h0m9 4h0m-20 6h0m3 27h0m15 87h0" stroke="#111" stroke-width="0.55" opacity="0.4" vector-effect="non-scaling-stroke" stroke-linecap="round" fill="none"/>
<path transform="scale(.1)" d="M3987 1449h0m0 0h0m1 0h0m0 0h0m3 0h0m2 0h0m17 0h0m8 0h0m8 0h0m4 0h0m6 0h0m18 0h0m9 0h0m15 0h0m2 0h0m16 0h0m8 0h0m4 0h0m4 0h0m1 0h0m1 0h0" stroke="#555" stroke-width="0.6" opacity="0.5" vector-effect="non-scaling-stroke" stroke-linecap="round" fill="none"/>
<text transform="translate(411.6,162.3) rotate(-45)" font-size="9.0" text-anchor="end" fill="#3a3a3a">Antigen_prolif</text>
<line x1="418.5" y1="151.4" x2="418.5" y2="155.0" stroke="#a0a0a0" stroke-width="0.7"/>
<path d="M420.4 144.9L420.2 143.9L420.0 142.8L419.8 141.8L419.7 140.8L419.7 139.7L419.8 138.7L420.0 137.7L420.2 136.6L420.5 135.6L420.9 134.6L421.2 133.5L421.5 132.5L421.8 131.5L422.1 130.4L422.3 129.4L422.4 128.4L422.6 127.3L422.7 126.3L422.8 125.3L422.9 124.2L423.0 123.2L423.1 122.2L423.2 121.2L423.3 120.1L423.4 119.1L423.5 118.1L423.5 117.0L423.6 116.0L423.7 115.0L423.7 113.9L423.8 112.9L423.8 111.9L423.9 110.8L423.9 109.8L424.0 108.8L424.0 107.7L424.1 106.7L424.1 105.7L424.2 104.6L424.3 103.6L424.3 102.6L424.4 101.5L424.5 100.5L424.5 99.5L424.5 98.4L424.5 97.4L424.5 96.4L424.5 95.3L424.4 94.3L424.4 93.3L424.3 92.2L424.2 91.2L424.1 90.2L424.0 89.1L423.9 88.1L423.8 87.1L423.7 86.0L423.6 85.0L423.5 84.0L423.4 82.9L423.3 81.9L423.2 80.9L423.0 79.8L422.9 78.8L422.8 77.8L422.7 76.7L422.6 75.7L422.5 74.7L422.4 73.7L422.2 72.6L422.1 71.6L422.0 70.6L421.9 69.5L421.7 68.5L421.6 67.5L421.5 66.4L421.3 65.4L421.2 64.4L421.1 63.3L421.0 62.3L420.9 61.3L420.7 60.2L420.6 59.2L420.5 58.2L420.4 57.1L420.3 56.1L420.2 55.1L420.1 54.0L420.0 53.0L419.9 52.0L419.8 50.9L419.7 49.9L419.6 48.9L419.5 47.8L419.4 46.8L419.4 45.8L419.3 44.7L419.2 43.7L419.2 42.7L419.2 41.6L419.1 40.6L419.1 39.6L419.1 38.5L419.0 37.5L419.0 36.5L419.0 35.4L419.0 34.4L418.9 33.4L418.9 32.3L418.9 31.3L418.8 30.3L418.8 29.2L418.8 28.2L418.8 27.2L418.8 26.2L418.8 25.1L418.8 24.1L418.8 23.1L418.8 22.0L418.2 22.0L418.2 23.1L418.2 24.1L418.2 25.1L418.2 26.2L418.2 27.2L418.2 28.2L418.2 29.2L418.2 30.3L418.1 31.3L418.1 32.3L418.1 33.4L418.0 34.4L418.0 35.4L418.0 36.5L418.0 37.5L417.9 38.5L417.9 39.6L417.9 40.6L417.8 41.6L417.8 42.7L417.8 43.7L417.7 44.7L417.6 45.8L417.6 46.8L417.5 47.8L417.4 48.9L417.3 49.9L417.2 50.9L417.1 52.0L417.0 53.0L416.9 54.0L416.8 55.1L416.7 56.1L416.6 57.1L416.5 58.2L416.4 59.2L416.3 60.2L416.1 61.3L416.0 62.3L415.9 63.3L415.8 64.4L415.7 65.4L415.5 66.4L415.4 67.5L415.3 68.5L415.1 69.5L415.0 70.6L414.9 71.6L414.8 72.6L414.6 73.7L414.5 74.7L414.4 75.7L414.3 76.7L414.2 77.8L414.1 78.8L414.0 79.8L413.8 80.9L413.7 81.9L413.6 82.9L413.5 84.0L413.4 85.0L413.3 86.0L413.2 87.1L413.1 88.1L413.0 89.1L412.9 90.2L412.8 91.2L412.7 92.2L412.6 93.3L412.6 94.3L412.5 95.3L412.5 96.4L412.5 97.4L412.5 98.4L412.5 99.5L412.5 100.5L412.6 101.5L412.7 102.6L412.7 103.6L412.8 104.6L412.9 105.7L412.9 106.7L413.0 107.7L413.0 108.8L413.1 109.8L413.1 110.8L413.2 111.9L413.2 112.9L413.3 113.9L413.3 115.0L413.4 116.0L413.5 117.0L413.5 118.1L413.6 119.1L413.7 120.1L413.8 121.2L413.9 122.2L414.0 123.2L414.1 124.2L414.2 125.3L414.3 126.3L414.4 127.3L414.6 128.4L414.7 129.4L414.9 130.4L415.2 131.5L415.5 132.5L415.8 133.5L416.1 134.6L416.5 135.6L416.8 136.6L417.0 137.7L417.2 138.7L417.3 139.7L417.3 140.8L417.2 141.8L417.0 142.8L416.8 143.9L416.6 144.9Z" fill="#3d6fc0" stroke="#3a3a3a" stroke-width="0.35" stroke-opacity="0.6"/>
<path transform="scale(.1)" d="M4194 229h0m-42-3h0m-27 21h0m50 7h0m18-11h0m25 6h0m-59 7h0m0 25h0m69 12h0m-1 5h0m-99-7h0m15 26h0m9 20h0m79-7h0m-90 36h0m21 5h0m50 5h0m-42 16h0m29-1h0m13 12h0m29 7h0m-88 5h0m-21-2h0m1 21h0m14 0h0m47-2h0m8-4h0m32-1h0m-10 9h0m-3 9h0m-17-2h0m-59-2h0m-5-5h0m63 21h0m35 7h0m2 9h0m-2-6h0m-64 5h0m-48 0h0m6 11h0m114 9h0m-10 11h0m-31 2h0m0 1h0m-72-3h0m-10 11h0m30 5h0m1-1h0m54-3h0m27-2h0m9 19h0m-20 0h0m-7-5h0m-62 1h0m-14 0h0m-13-3h0m16 16h0m6 2h0m12 7h0m40-7h0m7 8h0m14 3h0m16-3h0m11-3h0m-14 15h0m-8-6h0m-1 12h0m-10-4h0m-9 3h0m-79-13h0m-9 26h0m8-9h0m5-2h0m11 0h0m13 6h0m65-5h0m21 3h0m-33 12h0m-48 0h0m-41 11h0m-2-2h0m11 6h0m3 7h0m19-1h0m6 2h0m50-7h0m4 5h0m17-3h0m5 1h0m4 2h0m3 18h0m-1-5h0m-2-1h0m-13 5h0m-1-2h0m-71 1h0m0 0h0m-8-3h0m-13 21h0m1-10h0m3 10h0m9-7h0m73 6h0m2-8h0m8 12h0m2-7h0m14 10h0m-19 3h0m-70 8h0m-14-8h0m-2 8h0m-1-11h0m-16 16h0m5 11h0m16-5h0m5 4h0m3-5h0m64-8h0m1 6h0m5 2h0m5-2h0m2-4h0m5-2h0m17 25h0m-1-8h0m-111 3h0m-5 3h0m-7 3h0m-4 18h0m9 0h0m11-1h0m4 1h0m4-14h0m71 5h0m1-3h0m1 4h0m23 1h0m1 7h0m2-3h0m-9 8h0m-5 6h0m-10-1h0m-83 1h0m-3-5h0m-1 9h0m-16-7h0m-3-7h0m16 22h0m5-2h0m4-2h0m100 2h0m3 20h0m-7-1h0m-3-7h0m-5 7h0m-95-8h0m-2 8h0m-3 5h0m-3-4h0m-6 4h0m2 13h0m5-10h0m14 3h0m90 2h0m1-4h0m2 6h0m9-7h0m3 8h0m1 11h0m-13 3h0m-95-3h0m-11 3h0m-2-7h0m-2-1h0m-2 4h0m-1 16h0m3-4h0m4-1h0m4 10h0m1 0h0m5-11h0m96 5h0m3 9h0m5-13h0m0 2h0m1 23h0m-12-7h0m-102 9h0m-4-12h0m-5 8h0m1 9h0m1 11h0m109-11h0m2 10h0m4 0h0m3-5h0m-3 18h0m-6-7h0m-107 4h0m-6 3h0m-1 15h0m4-5h0m3 4h0m2-2h0m4 3h0m111 2h0m2-13h0m1 6h0m1-3h0m-8 15h0m0 11h0m-108-8h0m-2 8h0m-4-1h0m0 9h0m4-5h0m0 12h0m116 0h0m3 11h0m-3-5h0m0 7h0m-6-10h0m-116 26h0m3-12h0m1 6h0m114 5h0m8 5h0m-4-1h0m-120 8h0m-4 16h0m1-1h0m2-4h0m0 2h0m0-3h0m0 2h0m123 8h0m2-14h0m-3 23h0m-1 4h0m-125-11h0m-2 28h0m3-5h0m128 3h0m-130 19h0m2 1h0m129 23h0m-1 4h0m-6-1h0m-124-11h0m0 23h0m128-7h0m3 9h0m-2 4h0m-6 12h0m-115-5h0m-7 10h0m124 3h0m0-4h0m5 9h0m1 14h0m-6-1h0m0-3h0m-1 5h0m0-4h0m-2-5h0m-123 18h0m2 7h0m9-4h0m120 9h0m-1 12h0m-5-3h0m-116-10h0m-3 1h0m-4 24h0m5-6h0m113 2h0m4 14h0m-1 3h0m-110-6h0m-2-1h0m-5 3h0m-2 6h0m-1-8h0m123 26h0m5 10h0m-13 5h0m-111-5h0m-4 2h0m-1-5h0m0 7h0m4 4h0m0 7h0m1-3h0m3 1h0m4-1h0m116 5h0m-4 9h0m-2 7h0m-5-1h0m-2 1h0m-106 2h0m0-1h0m0 7h0m109 4h0m5-5h0m0 3h0m-106 15h0m-2 7h0m0-12h0m-2 9h0m-1-8h0m-6-2h0m-8 12h0m9 10h0m4 2h0m6-6h0m94 9h0m8-6h0m1-2h0m3 7h0m4 1h0m-2 9h0m-16-5h0m-90-2h0m0 2h0m-12-2h0m-2 4h0m-1 9h0m5 6h0m14 6h0m95-2h0m10 6h0m0-10h0m1 17h0m-3 4h0m-4 4h0m0-6h0m-15-8h0m0 3h0m-84 1h0m-8 0h0m-6 3h0m-1-2h0m-3-5h0m-6 5h0m0 13h0m8 3h0m14 1h0m4 6h0m1-7h0m80 5h0m0-10h0m3 13h0m4-10h0m5 2h0m4-1h0m1 4h0m4-6h0m-6 20h0m-8 4h0m-13-10h0m-71 10h0m-5-3h0m-3 1h0m-5-7h0m0-2h0m-18 2h0m1 26h0m1-1h0m6-10h0m21-3h0m77 14h0m4-2h0m18-12h0m-12 27h0m-8-5h0m-3 2h0m-14 1h0m-60-5h0m-12-5h0m-10 12h0m-5 14h0m31-1h0m4 2h0m69-8h0m21 1h0m1 1h0m-5 13h0m-25 10h0m-4-11h0m-55-3h0m-11 5h0m-3-3h0m-8 3h0m-3 9h0m-12 15h0m18-2h0m2-9h0m83 2h0m6 2h0m5-4h0m-17 17h0m-15 0h0m-54 0h0m-2 6h0m-6-6h0m11 18h0m51-7h0m38 24h0m-17-3h0m-16-6h0m-1 9h0m-50 1h0m-12-2h0m-19 7h0m0 5h0m8-3h0m74 8h0m20-9h0m18 14h0m-2 5h0" stroke="#555" stroke-width="0.6" opacity="0.5" vector-effect="non-scaling-stroke" stroke-linecap="round" fill="none"/>
<path transform="scale(.1)" d="M4188 398h0m-13 78h0m16 33h0m-18 3h0m3 2h0m0 4h0m5 14h0m-5-6h0m-5 13h0m28 8h0m2 0h0m-33 31h0m7 4h0m5-9h0m23-3h0m-3 24h0m-32-4h0m-2 21h0m4-2h0m6 3h0m0-11h0m-3 23h0m-12 10h0m10 0h0m5 10h0m11-3h0m22 0h0m-4 15h0m-1-5h0m-8-3h0m-15 8h0m-2 3h0m-3-10h0m-4 10h0m-5-12h0m-2-2h0m-3 17h0m2 8h0m23-10h0m2 0h0m1 9h0m2-5h0m16-1h0m4 6h0m0-8h0m1 11h0m0-6h0m3 17h0m-2-2h0m-6 1h0m-14 5h0m-6 0h0m-1-9h0m0 8h0m-29-10h0m-2 8h0m-2 15h0m8 4h0m10-9h0m2 6h0m21-4h0m9 2h0m7 5h0m5 2h0m-10 6h0m-38-4h0m2 24h0m13 0h0m41 18h0m-22 0h0m-1-11h0m-14 8h0m-3 3h0m-24-11h0m-6 10h0m-7 7h0m4 3h0m12-4h0m11 6h0m2 0h0m9 3h0m4-5h0m15-2h0m3 2h0m5-1h0m13 22h0m-5-1h0m-11-9h0m-4 4h0m-4-4h0m-2-3h0m-24 3h0m-3 3h0m-3 7h0m-3-14h0m-3 9h0m-9 1h0m-2-2h0m-7 3h0m-3 9h0m9 2h0m27 4h0m7-11h0m14 13h0m2 0h0m5-3h0m17 5h0m-1 10h0m-5-6h0m-8 6h0m-3-1h0m-3-7h0m-8 12h0m-1-12h0m-1 10h0m-5-12h0m-14 3h0m-19 3h0m0-5h0m-8 7h0m-2-6h0m-3 12h0m-1-10h0m10 24h0m3-11h0m14 8h0m8-6h0m1-4h0m10 0h0m5 1h0m6 3h0m5 10h0m4-6h0m3 5h0m2-4h0m0 3h0m3-9h0m17 14h0m-9 0h0m-3 9h0m-4-11h0m-1 4h0m-5 2h0m-8-6h0m-4 8h0m-5 4h0m-15-3h0m-4 2h0m-5-1h0m-1 1h0m-7-11h0m-4 4h0m-2 0h0m-8 5h0m-1-2h0m-5-3h0m-1 15h0m2-2h0m3 0h0m10 1h0m2 10h0m2-7h0m21 1h0m8 5h0m1-5h0m2 4h0m6-11h0m8 6h0m7 5h0m7 2h0m9-1h0m3-6h0m4 7h0m-6 4h0m-24 11h0m-11-5h0m-5-1h0m-4-1h0m-7-2h0m-8 7h0m-9 2h0m-5-3h0m-10 4h0m-2-1h0m-3-4h0m-1-1h0m-2 13h0m7-3h0m4 7h0m7-1h0m12 4h0m14-5h0m2 0h0m2-5h0m2 10h0m1-2h0m10-10h0m1 0h0m2 7h0m13 4h0m14 2h0m0-6h0m1-8h0m8 6h0m-6 15h0m-4 4h0m-5 2h0m-1-8h0m-3-4h0m-1 8h0m0-1h0m-1-6h0m0 9h0m-2-10h0m-3 14h0m-9-12h0m-3 12h0m-2-5h0m-4-3h0m-8 1h0m-5 3h0m0-3h0m0-3h0m-5-2h0m-3 4h0m-1-6h0m-5 4h0m-1-2h0m-13 6h0m-7-3h0m0 9h0m-3-3h0m-9 10h0m0-5h0m6 8h0m14 0h0m3-4h0m0-1h0m1 9h0m2-6h0m11-2h0m14 8h0m3 0h0m1-13h0m5 3h0m1 1h0m1 3h0m2-1h0m14 7h0m1-6h0m0 4h0m5-2h0m12 2h0m0 1h0m5-9h0m4 12h0m-9 9h0m-9-9h0m-13 9h0m-4 3h0m-4-11h0m-1 8h0m-18-3h0m-4-4h0m-6 10h0m-3-1h0m-3 0h0m-3-10h0m-2 0h0m-2 3h0m-12-3h0m-1 12h0m-1-2h0m-15 9h0m11 8h0m3 1h0m7-12h0m1-1h0m4 4h0m1 0h0m6 7h0m2-11h0m1 3h0m1 10h0m7-8h0m2 0h0m0 4h0m9-4h0m2 4h0m5-3h0m14-6h0m5 8h0m0-8h0m10 5h0m3-6h0m2 14h0m6-7h0m3-7h0m8 26h0m-11-2h0m-4 1h0m-2-7h0m-1 6h0m-1-1h0m-11-8h0m-7 4h0m-1-4h0m-9 11h0m-5-9h0m-2 11h0m-5-6h0m-6 4h0m-2-5h0m-3 6h0m0 1h0m-1-8h0m-1-2h0m-2-1h0m-4 3h0m-5 3h0m-26 6h0m-6 15h0m6-8h0m0 2h0m3 2h0m0 2h0m3-4h0m1-4h0m19 1h0m2 8h0m3-3h0m1-10h0m0 1h0m4-1h0m7 13h0m3-6h0m1-1h0m9-2h0m4 6h0m4-10h0m6 7h0m10 7h0m5-12h0m2-2h0m2 2h0m3 10h0m1 1h0m13-13h0m2 11h0m1 7h0m-3 8h0m-1-11h0m-1 10h0m-3-10h0m-8 3h0m-2 2h0m0 0h0m-4 2h0m-4-4h0m-13-1h0m-2 10h0m-1-6h0m-1 3h0m-1 3h0m-1-7h0m-4-2h0m-2-1h0m-5 2h0m-2 5h0m-2 5h0m-2-7h0m-3 7h0m-4-2h0m-7 0h0m-2-9h0m-2 8h0m-4 0h0m-2-6h0m-10-2h0m0-2h0m-7 7h0m-14-1h0m6 21h0m3-12h0m11 12h0m0-12h0m2 12h0m1-11h0m1 0h0m1-1h0m17 3h0m4 6h0m3-1h0m6 0h0m4-4h0m3-4h0m3 11h0m6-2h0m2-9h0m6-1h0m14 5h0m6 7h0m14-2h0m2-10h0m1 22h0m-8 0h0m-16-5h0m-2 4h0m-10-3h0m-6 8h0m-4-5h0m-11 0h0m-12 2h0m-11 2h0m-1 1h0m-14 0h0m-7-10h0m-3 10h0m0-10h0m-1 13h0m-1-9h0m-5 24h0m2-10h0m10 6h0m0-7h0m1 2h0m2-1h0m1 1h0m2-2h0m7 6h0m13-9h0m0 12h0m1-4h0m4 4h0m0 2h0m2-14h0m0 13h0m7-4h0m5 2h0m10-7h0m4-2h0m24 6h0m7-5h0m11 25h0m-1-7h0m-1 1h0m-1 7h0m-3-12h0m-10 11h0m-12-1h0m-3-6h0m-3-1h0m-8-4h0m-1 5h0m-2 4h0m-1 3h0m-4 0h0m-7-1h0m-6-6h0m-1 5h0m-4-7h0m-4 2h0m0 7h0m-7 1h0m-15-4h0m0-6h0m-2 6h0m-7-2h0m-2-3h0m-4 6h0m7 16h0m0-8h0m1 8h0m5-4h0m4-5h0m1 9h0m1-4h0m17-7h0m0 9h0m15-8h0m9 8h0m6-1h0m0-4h0m1 2h0m1 5h0m6-8h0m2 3h0m4-3h0m7 2h0m12 7h0m4-2h0m0-6h0m4 24h0m-7-4h0m-3 2h0m-19-10h0m-10 1h0m-3-3h0m-1 8h0m-1-8h0m-8 7h0m-1-3h0m0 10h0m-7-4h0m-10-7h0m-2 0h0m-5 0h0m-11 5h0m-2 2h0m-6-5h0m0 9h0m-9-2h0m-2 16h0m3-3h0m3-1h0m11-4h0m4-1h0m3 9h0m0-2h0m6-6h0m2 8h0m3-10h0m7 5h0m2 4h0m15 2h0m1-10h0m1 0h0m0 10h0m11-7h0m10-6h0m12 12h0m10 2h0m-1 4h0m-2 1h0m-2 9h0m-12-12h0m-16 5h0m-2-2h0m-1-4h0m-1 6h0m-1-1h0m-12-4h0m-38 6h0m0 6h0m-3-11h0m-6 3h0m-1 1h0m0 2h0m-6 16h0m1-9h0m1 3h0m1 9h0m18-13h0m14 4h0m14 8h0m1-8h0m1 8h0m3-1h0m5-11h0m9 2h0m1 8h0m1-6h0m6 10h0m9-6h0m2-1h0m3 0h0m1 2h0m1 0h0m6-8h0m2 20h0m-5 6h0m-1-12h0m-1 14h0m-4-11h0m-5-2h0m-4 0h0m-1 12h0m-11 0h0m-11-5h0m-1 4h0m-24 1h0m-7-9h0m-6 12h0m6 5h0m3-4h0m4 9h0m9-2h0m2-5h0m12 8h0m1-4h0m1-8h0m11 6h0m6 7h0m3-2h0m4-1h0m8 2h0m9-4h0m-3 13h0m-3 5h0m-1 0h0m-17-11h0m-3 13h0m-3-9h0m-1 1h0m0 8h0m-3-13h0m-1 5h0m-3 4h0m-5-5h0m-1 7h0m0-9h0m-13-1h0m-13 11h0m-11-6h0m-3-1h0m0 8h0m-2-2h0m0-10h0m-7 18h0m2 0h0m0 8h0m0 1h0m2-9h0m4 4h0m4 3h0m3-4h0m10 4h0m5 0h0m2-11h0m10 10h0m8 1h0m4-5h0m6 3h0m8 4h0m11 0h0m0-9h0m1-3h0m2 12h0m0-6h0m8-3h0m2 4h0m4 1h0m-1 12h0m-18 7h0m-4-5h0m-28 6h0m-9-3h0m-16 0h0m0 3h0m-1-14h0m-1 11h0m-1-5h0m-5 2h0m-13 6h0m2 6h0m17-2h0m3 1h0m0 8h0m1 0h0m5 1h0m7-2h0m5 0h0m9-5h0m1 4h0m1-3h0m4 5h0m2-1h0m5-3h0m2-8h0m2 12h0m5-11h0m3 2h0m12-3h0m5 8h0m0 1h0m3-5h0m-2 21h0m-8 3h0m-3-3h0m-12-10h0m-1 4h0m-1-3h0m-21 10h0m-6 0h0m-10-2h0m-5 2h0m-2-4h0m-3-7h0m-3 11h0m-2 2h0m-1 1h0m-6 12h0m18-11h0m21 7h0m1 0h0m3-7h0m6 3h0m3 4h0m11 4h0m9-5h0m4-4h0m4 8h0m-7 11h0m-6-5h0m-4 6h0m-3-6h0m-8 10h0m-10-7h0m-3 3h0m0 2h0m-3-6h0m0-2h0m-6 4h0m-8-2h0m-10 4h0m-4 7h0m-7-9h0m-3-1h0m0 4h0m2 17h0m3 1h0m7-6h0m2-3h0m0 0h0m3 5h0m2 1h0m1-2h0m2 7h0m3-6h0m7 0h0m18-6h0m3 12h0m4-7h0m3 6h0m2 1h0m2-9h0m14 23h0m-22 1h0m-37-13h0m-3 6h0m-2 4h0m-2-4h0m-7 16h0m1 0h0m12 3h0m11 3h0m11-5h0m6-7h0m3 4h0m3-4h0m3 11h0m5-4h0m17-4h0m1 7h0m-24 16h0m-32-5h0m-6 21h0m8-12h0m4 9h0m22 1h0m7 2h0m6-13h0m4 1h0m4 2h0m-13 22h0m-14-1h0m-26-7h0m41 21h0m0-4h0m-22 34h0m13 7h0m-18 7h0m2 17h0m0 4h0m8 1h0m7 6h0m-13-3h0m1 17h0m22 2h0" stroke="#111" stroke-width="0.55" opacity="0.4" vector-effect="non-scaling-stroke" stroke-linecap="round" fill="none"/>
<path transform="scale(.1)" d="M4129 1449h0m2 0h0m4 0h0m0 0h0m5 0h0m1 0h0m1 0h0m4 0h0m6 0h0m5 0h0m3 0h0m1 0h0m2 0h0m2 0h0m2 0h0m6 0h0m2 0h0m4 0h0m2 0h0m1 0h0m1 0h0m0 0h0m7 0h0m7 0h0m3 0h0m1 0h0m1 0h0m2 0h0m2 0h0m1 0h0m3 0h0m0 0h0m3 0h0m6 0h0m4 0h0m1 0h0m0 0h0m7 0h0m1 0h0m5 0h0m3 0h0m1 0h0m3 0h0m4 0h0m1 0h0" stroke="#555" stroke-width="0.6" opacity="0.5" vector-effect="non-scaling-stroke" stroke-linecap="round" fill="none"/>
<text transform="translate(425.1,162.3) rotate(-45)" font-size="9.0" text-anchor="end" fill="#3a3a3a">Antigen</text>
<line x1="432.3" y1="151.4" x2="432.3" y2="155.0" stroke="#a0a0a0" stroke-width="0.7"/>
<path d="M432.7 144.9L432.7 143.9L432.8 142.8L432.8 141.8L432.9 140.8L433.0 139.7L433.1 138.7L433.2 137.7L433.3 136.6L433.5 135.6L433.6 134.6L433.8 133.5L433.9 132.5L434.1 131.5L434.2 130.4L434.3 129.4L434.5 128.4L434.6 127.3L434.7 126.3L434.8 125.3L435.0 124.2L435.1 123.2L435.2 122.2L435.3 121.2L435.4 120.1L435.5 119.1L435.7 118.1L435.8 117.0L435.9 116.0L436.0 115.0L436.1 113.9L436.2 112.9L436.3 111.9L436.4 110.8L436.5 109.8L436.6 108.8L436.7 107.7L436.8 106.7L436.9 105.7L437.0 104.6L437.1 103.6L437.2 102.6L437.2 101.5L437.3 100.5L437.4 99.5L437.4 98.4L437.5 97.4L437.6 96.4L437.6 95.3L437.7 94.3L437.8 93.3L437.8 92.2L437.9 91.2L437.9 90.2L438.0 89.1L438.0 88.1L438.0 87.1L438.1 86.0L438.1 85.0L438.1 84.0L438.1 82.9L438.1 81.9L438.1 80.9L438.1 79.8L438.1 78.8L438.0 77.8L438.0 76.7L437.9 75.7L437.8 74.7L437.7 73.7L437.6 72.6L437.5 71.6L437.4 70.6L437.3 69.5L437.2 68.5L437.1 67.5L437.0 66.4L436.9 65.4L436.7 64.4L436.6 63.3L436.5 62.3L436.4 61.3L436.3 60.2L436.2 59.2L436.1 58.2L435.9 57.1L435.8 56.1L435.7 55.1L435.6 54.0L435.4 53.0L435.3 52.0L435.2 50.9L435.1 49.9L434.9 48.9L434.8 47.8L434.7 46.8L434.6 45.8L434.4 44.7L434.3 43.7L434.2 42.7L434.0 41.6L433.9 40.6L433.8 39.6L433.7 38.5L433.5 37.5L433.4 36.5L433.3 35.4L433.2 34.4L433.1 33.4L433.0 32.3L432.9 31.3L432.9 30.3L432.8 29.2L432.8 28.2L432.7 27.2L432.6 26.2L432.6 25.1L432.6 24.1L432.6 23.1L432.6 22.0L432.0 22.0L432.0 23.1L432.0 24.1L432.0 25.1L432.0 26.2L431.9 27.2L431.8 28.2L431.8 29.2L431.7 30.3L431.7 31.3L431.6 32.3L431.5 33.4L431.4 34.4L431.3 35.4L431.2 36.5L431.1 37.5L430.9 38.5L430.8 39.6L430.7 40.6L430.6 41.6L430.4 42.7L430.3 43.7L430.2 44.7L430.0 45.8L429.9 46.8L429.8 47.8L429.7 48.9L429.5 49.9L429.4 50.9L429.3 52.0L429.2 53.0L429.0 54.0L428.9 55.1L428.8 56.1L428.7 57.1L428.5 58.2L428.4 59.2L428.3 60.2L428.2 61.3L428.1 62.3L428.0 63.3L427.9 64.4L427.7 65.4L427.6 66.4L427.5 67.5L427.4 68.5L427.3 69.5L427.2 70.6L427.1 71.6L427.0 72.6L426.9 73.7L426.8 74.7L426.7 75.7L426.6 76.7L426.6 77.8L426.5 78.8L426.5 79.8L426.5 80.9L426.5 81.9L426.5 82.9L426.5 84.0L426.5 85.0L426.5 86.0L426.6 87.1L426.6 88.1L426.6 89.1L426.7 90.2L426.7 91.2L426.8 92.2L426.8 93.3L426.9 94.3L427.0 95.3L427.0 96.4L427.1 97.4L427.2 98.4L427.2 99.5L427.3 100.5L427.4 101.5L427.4 102.6L427.5 103.6L427.6 104.6L427.7 105.7L427.8 106.7L427.9 107.7L428.0 108.8L428.1 109.8L428.2 110.8L428.3 111.9L428.4 112.9L428.5 113.9L428.6 115.0L428.7 116.0L428.8 117.0L428.9 118.1L429.1 119.1L429.2 120.1L429.3 121.2L429.4 122.2L429.5 123.2L429.6 124.2L429.8 125.3L429.9 126.3L430.0 127.3L430.1 128.4L430.3 129.4L430.4 130.4L430.5 131.5L430.7 132.5L430.8 133.5L431.0 134.6L431.1 135.6L431.3 136.6L431.4 137.7L431.5 138.7L431.6 139.7L431.7 140.8L431.8 141.8L431.8 142.8L431.9 143.9L431.9 144.9Z" fill="#c762b4" stroke="#3a3a3a" stroke-width="0.35" stroke-opacity="0.6"/>
<path transform="scale(.1)" d="M4382 305h0m-90 18h0m-15 11h0m17-2h0m56-1h0m15 3h0m16 5h0m-73 18h0m1 3h0m47 12h0m-59 13h0m-16 14h0m0 3h0m85 2h0m-5 1h0m-69 5h0m50 19h0m45 9h0m-121 2h0m26 18h0m73 1h0m16 6h0m-7 6h0m11 32h0m-4-2h0m-6 28h0m-14 2h0m-1 0h0m19 9h0m-17 19h0m-90 0h0m-6 19h0m5 0h0m11 2h0m94 16h0m-1-7h0m-108 2h0m-3 6h0m107 18h0m1 28h0m8 15h0m-112 1h0m-4 8h0m-1 13h0m-4 17h0m10-1h0m115 6h0m-2 8h0m-115 4h0m-5 20h0m0 29h0m118 2h0m-114 2h0m122 14h0m-125 38h0m123 30h0m-123 64h0m125-2h0m-122 7h0m-3 5h0m-5-1h0m8 22h0m115-12h0m-121 42h0m4-9h0m121 0h0m1-1h0m1 20h0m-125 16h0m115 22h0m-114 28h0m10 0h0m114 26h0m-108 3h0m-9-1h0m-9-7h0m-1-6h0m-1 14h0m-1-8h0m2 9h0m1 1h0m125 17h0m-3 7h0m-107 0h0m-14-6h0m-3-1h0m12 17h0m112 17h0m-7 1h0m-100-2h0m-10 14h0m109 3h0m-5 8h0m-5 8h0m-79-1h0m82 25h0m-81 1h0m0 0h0m-3 5h0m0-4h0m-16 5h0m86 17h0m11-4h0m16-7h0m-18 15h0m-6 0h0m-66 3h0m-7 25h0m6-7h0m92 3h0m-17 12h0m-93 13h0m1 7h0m15-5h0m87-2h0m-18 23h0m-73-3h0m-12 13h0m117-8h0m-26 16h0m-100 25h0m1-8h0m89 16h0m-4 2h0m-70 5h0m81 16h0m2 1h0m-2 13h0m-11-3h0m21 21h0m12-10h0m-44 20h0m-47 7h0m16 43h0" stroke="#555" stroke-width="0.6" opacity="0.5" vector-effect="non-scaling-stroke" stroke-linecap="round" fill="none"/>
<path transform="scale(.1)" d="M4320 365h0m13-2h0m1 71h0m-23 17h0m8 25h0m22 18h0m8-3h0m-24 9h0m-20 9h0m14 10h0m16 2h0m-4 9h0m-18 5h0m-7-6h0m-15 49h0m44-1h0m13 5h0m11-1h0m2 15h0m-18 2h0m-6-12h0m-33 6h0m23 19h0m31-8h0m5 15h0m-6 10h0m-47-7h0m-10 3h0m-11 15h0m72 2h0m2 7h0m-28-3h0m-52 18h0m8 11h0m6 0h0m66-8h0m-3 16h0m-19 3h0m-61 3h0m-6 8h0m7 2h0m24-7h0m2 6h0m50-5h0m6 19h0m-69-3h0m-5 8h0m-4 1h0m1 12h0m0-7h0m15 4h0m0 3h0m8 1h0m28-7h0m27 10h0m5-4h0m6-2h0m-15 21h0m-34 1h0m-2-11h0m-6 3h0m-6-6h0m-5 4h0m-11 10h0m-6 0h0m-4-7h0m20 19h0m47 4h0m-7 9h0m-14 3h0m-18-3h0m-33 12h0m17 6h0m10-2h0m2-1h0m10-4h0m15 1h0m0 7h0m7 0h0m7-8h0m15 7h0m2-2h0m-13 7h0m-1 2h0m-55 8h0m-6-5h0m-7 0h0m-11 17h0m27-3h0m9 4h0m48 7h0m-6-2h0m-19 7h0m-2 3h0m-2-4h0m-34 7h0m-8-3h0m-11-7h0m-10 4h0m12 14h0m1 4h0m8-6h0m16 3h0m7 1h0m9 0h0m57 21h0m-35-9h0m-3 7h0m-7-3h0m-14-2h0m-7-1h0m-11-4h0m-21 6h0m-9-1h0m-2 11h0m0-2h0m59 12h0m4-2h0m43 0h0m5 9h0m-7-1h0m-50-3h0m-9 4h0m-14-3h0m-12 6h0m-4 2h0m-10-10h0m9 17h0m1 9h0m2-10h0m3 11h0m56 2h0m7-13h0m1 10h0m8 3h0m1-7h0m-1 9h0m-3 10h0m-12-7h0m-4 9h0m-13-13h0m-35 3h0m-18 26h0m10-1h0m68-10h0m14 1h0m1 2h0m-19 12h0m-4-2h0m-2 12h0m-57-13h0m-10 21h0m15-2h0m31 9h0m10-4h0m38-7h0m-10 27h0m-27-7h0m-16 6h0m-21 11h0m40 4h0m39-9h0m-9 11h0m-26 14h0m-8-5h0m-18 2h0m-6-3h0m-8 2h0m-6 4h0m-11-14h0m4 22h0m10-7h0m11 9h0m14-2h0m23-2h0m13 4h0m-58 33h0m30-1h0m3 13h0m-26-8h0m-9 3h0m-13 8h0m49 17h0m6-4h0m0-2h0m28 0h0m-24 21h0m-8-14h0m-8 9h0m-10-6h0m-25 12h0m28 13h0m21 4h0m-10 8h0m-35-3h0m-9 2h0m9 16h0m6 1h0m5 2h0m29-10h0m19 13h0m-38 8h0m-23 18h0m2 2h0m27-11h0m23 8h0m6 14h0m-20-4h0m-8-5h0m-23 4h0m0 9h0m-4-14h0m54 34h0m-49 13h0m3 12h0m43 5h0m-17 0h0m-4-2h0m-10-1h0m-5 2h0m-6 2h0m7 20h0m19-7h0m-5 20h0m-14 34h0m8 41h0" stroke="#111" stroke-width="0.55" opacity="0.4" vector-effect="non-scaling-stroke" stroke-linecap="round" fill="none"/>
<path transform="scale(.1)" d="M4259 1449h0m1 0h0m9 0h0m33 0h0m8 0h0m0 0h0m8 0h0m4 0h0m3 0h0m20 0h0m8 0h0m18 0h0m17 0h0" stroke="#555" stroke-width="0.6" opacity="0.5" vector-effect="non-scaling-stroke" stroke-linecap="round" fill="none"/>
<text transform="translate(438.9,162.3) rotate(-45)" font-size="9.0" text-anchor="end" fill="#3a3a3a">Bystander</text>
<text x="398.5" y="11.3" font-size="9.6" text-anchor="middle" fill="#333" font-weight="normal" textLength="32.7" lengthAdjust="spacingAndGlyphs" >HLA-DR</text>
<text transform="translate(332.6,83.2) rotate(-90)" font-size="8.9" text-anchor="middle" fill="#3a3a3a" textLength="65" lengthAdjust="spacingAndGlyphs">Expression level</text>
<line x1="478.5" y1="15.4" x2="478.5" y2="151.4" stroke="#c4c4c4" stroke-width="0.9"/>
<line x1="478.5" y1="151.4" x2="562.3" y2="151.4" stroke="#c4c4c4" stroke-width="0.9"/>
<line x1="475.9" y1="124.1" x2="478.5" y2="124.1" stroke="#a0a0a0" stroke-width="0.7"/>
<text x="472.5" y="126.7" font-size="7.6" text-anchor="end" fill="#3a3a3a" font-weight="normal" >−0.2</text>
<line x1="475.9" y1="97.0" x2="478.5" y2="97.0" stroke="#a0a0a0" stroke-width="0.7"/>
<text x="472.5" y="99.6" font-size="7.6" text-anchor="end" fill="#3a3a3a" font-weight="normal" >0</text>
<line x1="475.9" y1="69.9" x2="478.5" y2="69.9" stroke="#a0a0a0" stroke-width="0.7"/>
<text x="472.5" y="72.5" font-size="7.6" text-anchor="end" fill="#3a3a3a" font-weight="normal" >0.2</text>
<line x1="475.9" y1="42.8" x2="478.5" y2="42.8" stroke="#a0a0a0" stroke-width="0.7"/>
<text x="472.5" y="45.4" font-size="7.6" text-anchor="end" fill="#3a3a3a" font-weight="normal" >0.4</text>
<line x1="485.9" y1="151.4" x2="485.9" y2="155.0" stroke="#a0a0a0" stroke-width="0.7"/>
<path d="M486.2 144.4L486.2 143.6L486.2 142.8L486.2 141.9L486.2 141.1L486.3 140.3L486.3 139.4L486.4 138.6L486.4 137.8L486.5 136.9L486.5 136.1L486.6 135.3L486.6 134.5L486.7 133.6L486.8 132.8L486.8 132.0L487.0 131.1L487.1 130.3L487.3 129.5L487.4 128.6L487.6 127.8L487.8 127.0L488.0 126.1L488.3 125.3L488.5 124.5L488.7 123.6L488.9 122.8L489.1 122.0L489.3 121.2L489.5 120.3L489.7 119.5L489.9 118.7L490.1 117.8L490.3 117.0L490.5 116.2L490.7 115.3L490.9 114.5L491.1 113.7L491.3 112.8L491.4 112.0L491.6 111.2L491.7 110.3L491.7 109.5L491.7 108.7L491.7 107.9L491.5 107.0L491.4 106.2L491.2 105.4L491.0 104.5L490.8 103.7L490.7 102.9L490.5 102.0L490.3 101.2L490.1 100.4L489.9 99.5L489.7 98.7L489.4 97.9L489.2 97.0L489.0 96.2L488.7 95.4L488.5 94.6L488.3 93.7L488.0 92.9L487.8 92.1L487.6 91.2L487.3 90.4L487.2 89.6L487.0 88.7L486.9 87.9L486.8 87.1L486.7 86.2L486.7 85.4L486.6 84.6L486.6 83.7L486.5 82.9L486.5 82.1L486.4 81.3L486.4 80.4L486.4 79.6L486.3 78.8L486.3 77.9L486.3 77.1L486.2 76.3L486.2 75.4L486.2 74.6L486.2 73.8L486.2 72.9L486.2 72.1L486.2 71.3L486.2 70.4L486.2 69.6L486.2 68.8L486.2 68.0L486.2 67.1L486.2 66.3L486.2 65.5L486.2 64.6L486.2 63.8L486.2 63.0L486.2 62.1L486.2 61.3L486.2 60.5L486.2 59.6L486.2 58.8L486.2 58.0L486.2 57.1L486.2 56.3L486.2 55.5L486.2 54.7L486.2 53.8L486.2 53.0L486.2 52.2L486.2 51.3L486.2 50.5L486.2 49.7L486.2 48.8L486.2 48.0L486.2 47.2L486.2 46.3L486.2 45.5L485.6 45.5L485.6 46.3L485.6 47.2L485.6 48.0L485.6 48.8L485.6 49.7L485.6 50.5L485.6 51.3L485.6 52.2L485.6 53.0L485.6 53.8L485.6 54.7L485.6 55.5L485.6 56.3L485.6 57.1L485.6 58.0L485.6 58.8L485.6 59.6L485.6 60.5L485.6 61.3L485.6 62.1L485.6 63.0L485.6 63.8L485.6 64.6L485.6 65.5L485.6 66.3L485.6 67.1L485.6 68.0L485.6 68.8L485.6 69.6L485.6 70.4L485.6 71.3L485.6 72.1L485.6 72.9L485.6 73.8L485.6 74.6L485.6 75.4L485.6 76.3L485.5 77.1L485.5 77.9L485.5 78.8L485.4 79.6L485.4 80.4L485.4 81.3L485.3 82.1L485.3 82.9L485.2 83.7L485.2 84.6L485.1 85.4L485.1 86.2L485.0 87.1L484.9 87.9L484.8 88.7L484.6 89.6L484.5 90.4L484.2 91.2L484.0 92.1L483.8 92.9L483.5 93.7L483.3 94.6L483.1 95.4L482.8 96.2L482.6 97.0L482.4 97.9L482.1 98.7L481.9 99.5L481.7 100.4L481.5 101.2L481.3 102.0L481.1 102.9L481.0 103.7L480.8 104.5L480.6 105.4L480.4 106.2L480.3 107.0L480.1 107.9L480.1 108.7L480.1 109.5L480.1 110.3L480.2 111.2L480.4 112.0L480.5 112.8L480.7 113.7L480.9 114.5L481.1 115.3L481.3 116.2L481.5 117.0L481.7 117.8L481.9 118.7L482.1 119.5L482.3 120.3L482.5 121.2L482.7 122.0L482.9 122.8L483.1 123.6L483.3 124.5L483.5 125.3L483.8 126.1L484.0 127.0L484.2 127.8L484.4 128.6L484.5 129.5L484.7 130.3L484.8 131.1L485.0 132.0L485.0 132.8L485.1 133.6L485.2 134.5L485.2 135.3L485.3 136.1L485.3 136.9L485.4 137.8L485.4 138.6L485.5 139.4L485.5 140.3L485.6 141.1L485.6 141.9L485.6 142.8L485.6 143.6L485.6 144.4Z" fill="#e0615a" stroke="#3a3a3a" stroke-width="0.35" stroke-opacity="0.6"/>
<path transform="scale(.1)" d="M4831 487h0m38-1h0m28 13h0m-60 5h0m-24 2h0m62 14h0m38 2h0m-43 5h0m43 17h0m-42 12h0m34 27h0m-80 3h0m-21 21h0m100 5h0m-96 29h0m107-4h0m-79 14h0m-4 20h0m55-1h0m29 10h0m-15 0h0m-72 21h0m5-5h0m60 7h0m19 2h0m-80 1h0m-1 9h0m17 25h0m-33 51h0m86 8h0m-1 7h0m-19-5h0m-3-3h0m-7-2h0m36 27h0m-70 11h0m-45-1h0m22 13h0m12 6h0m81-2h0m-13 11h0m-75-5h0m54 28h0m10-2h0m19 2h0m-64 10h0m-16-6h0m-9 4h0m-6 1h0m-12 6h0m4 10h0m1 5h0m75-8h0m18 13h0m0 10h0m-3-13h0m-2 3h0m-3 4h0m-65 11h0m6 5h0m0 1h0m65 3h0m19-4h0m7-6h0m-18 26h0m-6-3h0m-1-9h0m-70 0h0m-2-2h0m-11 10h0m-14 0h0m14 15h0m2-1h0m3-5h0m3 6h0m3 1h0m1-1h0m1-5h0m71 6h0m0-5h0m4 6h0m1-2h0m1-1h0m6-9h0m2 6h0m14-6h0m-13 20h0m-8 3h0m-3-4h0m-77-1h0m0 2h0m-19 6h0m-3 8h0m2-2h0m8 11h0m7-1h0m1-11h0m105 16h0m-4 3h0m-2 8h0m-109-1h0m-11-7h0m-2 13h0m10 7h0m1 3h0m108-6h0m4-2h0m8 21h0m-13-11h0m-1 3h0m-105 10h0m-8 5h0m122 11h0m4 38h0m-127-3h0m-2 21h0m5 4h0m2-7h0m114-3h0m1 7h0m6-10h0m1 8h0m0 13h0m-8 5h0m-1-12h0m0 2h0m-113 6h0m-5-8h0m-4 17h0m0 2h0m6 1h0m0 3h0m1 0h0m1-1h0m110 3h0m12 14h0m-3-5h0m-3 6h0m-1-8h0m-1 7h0m-107-5h0m-7 4h0m-6 1h0m-2 15h0m7 0h0m7-8h0m2 10h0m97 0h0m5-1h0m1 7h0m-2-2h0m-2 14h0m-9-6h0m-85-7h0m-12 1h0m-8 8h0m4 19h0m5-2h0m3-3h0m3 1h0m0-3h0m1-1h0m6 3h0m1 5h0m2-2h0m94-1h0m5-6h0m-3 18h0m-9-5h0m-6 8h0m-77-1h0m-6-2h0m-1 5h0m-7-5h0m-10-2h0m3 17h0m90 5h0m3 1h0m7-12h0m20 25h0m-2-10h0m-20-2h0m-71 2h0m-4-1h0m-20 23h0m7 3h0m13-7h0m0 4h0m6-3h0m64 9h0m-8 9h0m-2-6h0m-5 3h0m-1 6h0m-49-8h0m-31 25h0m99-11h0m24 4h0m-6 16h0m-95-3h0m-8 5h0m-14 11h0m51 9h0m-5 8h0m-27-4h0m-3 35h0m-16 6h0m3 11h0m44-8h0m5 2h0m15 5h0m1-6h0m8 4h0m48 9h0m-40-2h0m-33 9h0m32 24h0m7 19h0" stroke="#555" stroke-width="0.6" opacity="0.5" vector-effect="non-scaling-stroke" stroke-linecap="round" fill="none"/>
<path transform="scale(.1)" d="M4857 810h0m-2 71h0m0-2h0m7-5h0m-5 19h0m-8-4h0m10 22h0m7-4h0m3 10h0m-13 5h0m-16 14h0m9-5h0m26 4h0m11 17h0m-9-4h0m0 9h0m-1-8h0m-27 10h0m-20 7h0m12-6h0m28 0h0m24 12h0m2 17h0m-39-1h0m-4-2h0m-1-9h0m-26 16h0m13 11h0m6-2h0m19-3h0m13-8h0m2 0h0m5 9h0m5-4h0m9 4h0m3 11h0m-13 4h0m-34-5h0m-3-2h0m-12 1h0m-9 6h0m-14-2h0m3 15h0m4-1h0m3-5h0m1-2h0m3 10h0m5-5h0m15 7h0m23-7h0m1 5h0m4 0h0m9 3h0m5 0h0m11-1h0m6 6h0m-5 9h0m-2-5h0m-14 7h0m-3-11h0m0 1h0m-2 6h0m-3 1h0m-14-8h0m-2 6h0m-17-2h0m-6-7h0m-4 8h0m-2 6h0m-6-5h0m-13-9h0m-5 13h0m3 2h0m2 6h0m8-5h0m0 6h0m3 3h0m1-5h0m1-4h0m5 13h0m1-13h0m0 13h0m17 0h0m0-3h0m11-11h0m3 3h0m12 1h0m1-3h0m3 5h0m0 1h0m4-4h0m8 7h0m1-8h0m1 9h0m3 3h0m4-3h0m3-3h0m5-6h0m6 24h0m-1 2h0m-1-12h0m-4 13h0m-2-3h0m-7-5h0m-5 8h0m-3-9h0m-3 9h0m-10-5h0m-1-2h0m-3 4h0m-2 1h0m-3-3h0m-19-4h0m-8 1h0m-6 0h0m-6 2h0m-7-3h0m-4-5h0m-13 1h0m-1 24h0m28-3h0m5-5h0m2 0h0m0 5h0m0 2h0m3-1h0m4-2h0m3 4h0m2-9h0m14 12h0m23-6h0m3 6h0m15-12h0m7 22h0m-6-3h0m-2 2h0m-3-1h0m-5-4h0m-12 10h0m-8-3h0m0-6h0m-10 6h0m-6-3h0m-9-2h0m-13-4h0m-11 14h0m-1-11h0m-3 7h0m-2 4h0m-18-3h0m-4-9h0m3 17h0m4 2h0m5-6h0m7 13h0m1-9h0m3-2h0m0-2h0m3 7h0m15 3h0m3 0h0m1-5h0m13 1h0m2-2h0m3 7h0m0 2h0m5-1h0m1-9h0m13 5h0m16-5h0m2 3h0m3-1h0m2 20h0m-9-3h0m-3 5h0m-5 0h0m-6-5h0m-6-4h0m-2-1h0m-6 12h0m-1-1h0m-4-4h0m-5 5h0m-1-12h0m-1 2h0m-1 10h0m-1-14h0m-2 3h0m-7 3h0m-2-1h0m0 5h0m-6-8h0m0 12h0m-12-11h0m-2 1h0m-1 5h0m-3 4h0m-4-10h0m-7 11h0m0 12h0m7 3h0m3-4h0m15-4h0m15 2h0m13 0h0m8 2h0m11-8h0m6 10h0m2-2h0m5 0h0m9 7h0m-21 12h0m-25-7h0m-5-3h0m-12 4h0m-9 1h0m-3 2h0m-1-9h0m-9 3h0m-7 1h0m7 23h0m6-14h0m6 1h0m21 7h0m12 0h0m16-7h0m7 5h0m0 4h0m3 3h0m0-10h0m1 12h0m-8 4h0m-8 2h0m-15 1h0m-8 5h0m-2-3h0m-2-6h0m-13 10h0m-12 2h0m49 9h0m10-1h0m3 6h0m5-9h0m2-5h0m-16 28h0m-12 1h0m-4-8h0m-1 7h0m-3-7h0m-7-2h0m-5 1h0m-7 22h0m2-1h0m10-8h0m4 4h0m6 9h0m-11 0h0m-9 12h0m22 2h0m9 26h0m-7 28h0m-11 0h0" stroke="#111" stroke-width="0.55" opacity="0.4" vector-effect="non-scaling-stroke" stroke-linecap="round" fill="none"/>
<text transform="translate(492.5,162.3) rotate(-45)" font-size="9.0" text-anchor="end" fill="#3a3a3a">CD8 T<tspan font-size="5.4" dy="1">CM</tspan></text>
<line x1="499.8" y1="151.4" x2="499.8" y2="155.0" stroke="#a0a0a0" stroke-width="0.7"/>
<path d="M500.1 141.7L500.1 140.7L500.2 139.8L500.2 138.8L500.3 137.8L500.4 136.8L500.5 135.8L500.6 134.9L500.7 133.9L500.9 132.9L501.0 131.9L501.1 130.9L501.3 130.0L501.5 129.0L501.7 128.0L501.9 127.0L502.1 126.0L502.3 125.1L502.5 124.1L502.7 123.1L502.9 122.1L503.1 121.2L503.3 120.2L503.5 119.2L503.7 118.2L503.9 117.2L504.1 116.3L504.3 115.3L504.4 114.3L504.6 113.3L504.8 112.3L505.0 111.4L505.1 110.4L505.2 109.4L505.3 108.4L505.4 107.4L505.4 106.5L505.5 105.5L505.6 104.5L505.6 103.5L505.7 102.5L505.7 101.6L505.8 100.6L505.8 99.6L505.9 98.6L505.9 97.6L505.9 96.7L505.9 95.7L505.9 94.7L505.9 93.7L505.9 92.8L505.9 91.8L505.9 90.8L505.8 89.8L505.8 88.8L505.8 87.9L505.8 86.9L505.7 85.9L505.7 84.9L505.7 83.9L505.6 83.0L505.5 82.0L505.5 81.0L505.4 80.0L505.3 79.0L505.2 78.1L505.2 77.1L505.1 76.1L505.0 75.1L504.9 74.1L504.8 73.2L504.8 72.2L504.7 71.2L504.6 70.2L504.5 69.3L504.4 68.3L504.2 67.3L504.1 66.3L504.0 65.3L503.9 64.4L503.8 63.4L503.6 62.4L503.5 61.4L503.4 60.4L503.3 59.5L503.2 58.5L503.1 57.5L502.9 56.5L502.8 55.5L502.7 54.6L502.7 53.6L502.6 52.6L502.5 51.6L502.4 50.6L502.3 49.7L502.2 48.7L502.1 47.7L502.0 46.7L501.9 45.7L501.8 44.8L501.7 43.8L501.6 42.8L501.5 41.8L501.4 40.9L501.3 39.9L501.1 38.9L501.0 37.9L500.9 36.9L500.8 36.0L500.7 35.0L500.6 34.0L500.5 33.0L500.4 32.0L500.4 31.1L500.3 30.1L500.2 29.1L500.2 28.1L500.1 27.1L500.1 26.2L500.1 25.2L499.5 25.2L499.5 26.2L499.5 27.1L499.4 28.1L499.4 29.1L499.3 30.1L499.2 31.1L499.2 32.0L499.1 33.0L499.0 34.0L498.9 35.0L498.8 36.0L498.7 36.9L498.6 37.9L498.5 38.9L498.3 39.9L498.2 40.9L498.1 41.8L498.0 42.8L497.9 43.8L497.8 44.8L497.7 45.7L497.6 46.7L497.5 47.7L497.4 48.7L497.3 49.7L497.2 50.6L497.1 51.6L497.0 52.6L496.9 53.6L496.9 54.6L496.8 55.5L496.7 56.5L496.5 57.5L496.4 58.5L496.3 59.5L496.2 60.4L496.1 61.4L496.0 62.4L495.8 63.4L495.7 64.4L495.6 65.3L495.5 66.3L495.4 67.3L495.2 68.3L495.1 69.3L495.0 70.2L494.9 71.2L494.8 72.2L494.8 73.2L494.7 74.1L494.6 75.1L494.5 76.1L494.4 77.1L494.4 78.1L494.3 79.0L494.2 80.0L494.1 81.0L494.1 82.0L494.0 83.0L493.9 83.9L493.9 84.9L493.9 85.9L493.8 86.9L493.8 87.9L493.8 88.8L493.8 89.8L493.7 90.8L493.7 91.8L493.7 92.8L493.7 93.7L493.7 94.7L493.7 95.7L493.7 96.7L493.7 97.6L493.7 98.6L493.8 99.6L493.8 100.6L493.9 101.6L493.9 102.5L494.0 103.5L494.0 104.5L494.1 105.5L494.2 106.5L494.2 107.4L494.3 108.4L494.4 109.4L494.5 110.4L494.6 111.4L494.8 112.3L495.0 113.3L495.2 114.3L495.3 115.3L495.5 116.3L495.7 117.2L495.9 118.2L496.1 119.2L496.3 120.2L496.5 121.2L496.7 122.1L496.9 123.1L497.1 124.1L497.3 125.1L497.5 126.0L497.7 127.0L497.9 128.0L498.1 129.0L498.3 130.0L498.5 130.9L498.6 131.9L498.7 132.9L498.9 133.9L499.0 134.9L499.1 135.8L499.2 136.8L499.3 137.8L499.4 138.8L499.4 139.8L499.5 140.7L499.5 141.7Z" fill="#a8952a" stroke="#3a3a3a" stroke-width="0.35" stroke-opacity="0.6"/>
<path transform="scale(.1)" d="M5041 294h0m-90-4h0m81 22h0m24 1h0m-32 5h0m-61 1h0m-26 11h0m36 8h0m6 5h0m56 11h0m-98 14h0m28-4h0m85 6h0m3 19h0m-10-14h0m-16 3h0m-70 2h0m0 21h0m91-1h0m-17 6h0m-50 8h0m-40-3h0m99 9h0m-2 17h0m-64 8h0m-4-2h0m-25-7h0m-3 1h0m115 16h0m-19 20h0m-13 4h0m-79-2h0m-11 12h0m8 2h0m4 12h0m-8 9h0m10 5h0m2 3h0m1 1h0m4 0h0m82-3h0m2 2h0m3-6h0m11 11h0m-7 7h0m-8-4h0m-1 5h0m-89 4h0m84 19h0m8-7h0m10 10h0m-89-2h0m-11 11h0m-4-4h0m-14 7h0m117 29h0m-12-2h0m-80 2h0m-24 8h0m18 6h0m88 1h0m5-5h0m-4 8h0m-81 3h0m-3 6h0m-3-3h0m-18 22h0m18-9h0m85 2h0m24-5h0m1 19h0m-10-1h0m-101-5h0m0 13h0m-10 9h0m107 4h0m9 10h0m-12-1h0m-1 9h0m-2-10h0m-92 6h0m-11-2h0m-9 21h0m3-1h0m116 0h0m-113 10h0m3 16h0m6 2h0m109-4h0m2 16h0m-8 3h0m-108-11h0m116 23h0m2 0h0m3 4h0m-1 10h0m-2 1h0m-125-7h0m-1 15h0m4 6h0m4 2h0m112-1h0m-121 14h0m0 0h0m2 19h0m2-7h0m3 4h0m117-6h0m3 24h0m-127 12h0m127 3h0m1-9h0m0 22h0m0 1h0m1 37h0m-3 13h0m-123 12h0m124 9h0m-124 23h0m-2-14h0m0 29h0m129 28h0m0 3h0m-5 13h0m-124-12h0m1 15h0m127 5h0m2 9h0m-7 13h0m-116 12h0m-3 17h0m0-4h0m-3-2h0m-2 1h0m0 20h0m4-12h0m3 0h0m115 13h0m8-3h0m-11 18h0m2 11h0m3 5h0m-5 6h0m-3 9h0m-108-14h0m-6 24h0m3-8h0m5 4h0m5 2h0m3-3h0m96 10h0m8 2h0m-4 1h0m-2 0h0m-2 11h0m-96-7h0m-4 3h0m-11 7h0m5 0h0m101 8h0m6 2h0m7-3h0m1 12h0m-4-3h0m-97 10h0m-5 12h0m1-5h0m8 1h0m82 5h0m16-4h0m-95 14h0m-21-4h0m12 15h0m3 5h0m3 3h0m2 2h0m72-1h0m6-2h0m16 1h0m3 7h0m-19 2h0m-7-3h0m-58 11h0m-12 2h0m-10 0h0m-18 10h0m14 4h0m8-12h0m84 1h0m7 11h0m2-7h0m4-4h0m8 2h0m-109 15h0m13 17h0m18 4h0m50 3h0m26 16h0m-25-1h0m-62-10h0m-4 10h0m-12 0h0m70 8h0m16 9h0m-58 30h0m65-11h0m-30 23h0m-13-1h0m-40-7h0m83 16h0m-18 22h0m-21-9h0m-68 2h0m68 15h0" stroke="#555" stroke-width="0.6" opacity="0.5" vector-effect="non-scaling-stroke" stroke-linecap="round" fill="none"/>
<path transform="scale(.1)" d="M5004 336h0m-16 27h0m14 17h0m0 16h0m8 11h0m-16 4h0m-6 9h0m7 4h0m2 9h0m3-10h0m5 8h0m15 44h0m-29-9h0m-13 2h0m-3 23h0m24-8h0m24 22h0m-8-6h0m-39-2h0m-2 15h0m1-1h0m5 11h0m31-5h0m5 22h0m-5-13h0m-15 11h0m1 12h0m27 7h0m-2 4h0m-10 8h0m-9-5h0m-26 0h0m2 13h0m1 6h0m29-6h0m20 6h0m-7 5h0m-13 12h0m-2-5h0m-3 4h0m-11-7h0m-16 15h0m31-3h0m20 2h0m-50 14h0m-16 15h0m26 2h0m18-5h0m3 11h0m28 2h0m-4 10h0m-5-1h0m-13 2h0m-25-3h0m-8-1h0m-10 6h0m-7-6h0m-3-4h0m-4 11h0m10 15h0m16-4h0m11-6h0m5 3h0m6 1h0m4 3h0m24-5h0m-14 12h0m-3 12h0m-4-6h0m-7 5h0m-18-13h0m0 11h0m-25-1h0m-5 0h0m-2-1h0m-4 13h0m22 2h0m16-3h0m10 4h0m2-3h0m9-5h0m15-1h0m12 8h0m5 8h0m-5 4h0m-20 8h0m-11-1h0m-13-2h0m-14-10h0m-9 3h0m-18 0h0m17 15h0m2 6h0m6-2h0m1 3h0m6-8h0m5 11h0m3-5h0m5 2h0m8-3h0m24 4h0m5-8h0m1 9h0m8-8h0m-6 16h0m-1-5h0m0 3h0m-43 9h0m-4-10h0m-19 1h0m-10 1h0m-1 2h0m-11 10h0m24-2h0m12 9h0m7 4h0m5 1h0m1-11h0m4 11h0m5-13h0m14 10h0m12-1h0m3-3h0m15 17h0m-2 5h0m-3-2h0m-4 1h0m-13-6h0m-8 7h0m-11-2h0m-2-3h0m-3 4h0m-4-5h0m-31 0h0m-15-6h0m-7 8h0m4 18h0m1-9h0m18 2h0m0 5h0m11-11h0m4 8h0m2 1h0m6 2h0m4-3h0m3-6h0m2 2h0m1-4h0m3 5h0m3-1h0m33 3h0m8-6h0m2 20h0m-5-6h0m-1 0h0m-15 9h0m-11 5h0m-21-14h0m-2 5h0m-11-2h0m-11 4h0m-10 1h0m-2 2h0m-7 0h0m-11 16h0m17-2h0m16-5h0m5 5h0m7 4h0m19-7h0m10-6h0m22 10h0m3 2h0m7 9h0m-1 3h0m-14 5h0m-12-1h0m0-5h0m-11 4h0m-8-1h0m-1-2h0m-6-5h0m-11 10h0m-4-12h0m-1 5h0m-9-4h0m-7 10h0m-16-6h0m-11-3h0m7 19h0m6 0h0m21-4h0m6 7h0m6-10h0m8 9h0m6 3h0m8-6h0m4 7h0m3-1h0m0-1h0m18 1h0m21-9h0m-8 19h0m-9-5h0m-8 11h0m-2-3h0m-17-2h0m-12-5h0m-2 0h0m0-1h0m-2-2h0m-1 7h0m0 5h0m-42 0h0m-3 14h0m2-7h0m32 2h0m3 4h0m8-1h0m22 4h0m1-7h0m2 2h0m38-1h0m-6 17h0m-15-10h0m-2 4h0m-12 1h0m-11 1h0m-15 8h0m0-4h0m-16-5h0m-3 7h0m-20-7h0m-5 6h0m3 15h0m10-4h0m1 5h0m5-8h0m7-2h0m2 9h0m6-5h0m18 4h0m26 2h0m8 1h0m20-8h0m1-4h0m-31 17h0m-18 11h0m-19-8h0m-13 1h0m-6-2h0m-11-2h0m-10 6h0m-7 3h0m-2 2h0m35 2h0m3 2h0m3 11h0m5 0h0m17-13h0m13-1h0m14 2h0m23 4h0m-2 12h0m-13 11h0m-9-2h0m-4-3h0m-1-2h0m-24 4h0m-7-1h0m-8 1h0m-3-9h0m-2-2h0m-15 3h0m-5 4h0m-2-5h0m0-1h0m-3 10h0m-8-8h0m-1 6h0m-3 2h0m0-10h0m-1 14h0m7 9h0m2 2h0m5-4h0m1-4h0m10 10h0m6-12h0m4 3h0m6 0h0m12 3h0m2-5h0m19 7h0m8-9h0m3 3h0m2 6h0m3-8h0m3 0h0m1 3h0m21 25h0m-1-13h0m-3 5h0m-4 8h0m-8-12h0m-1 12h0m-47-9h0m-7 8h0m-14-4h0m-30-2h0m-3 13h0m3 6h0m52 1h0m25 2h0m8-5h0m3-1h0m4 3h0m8-8h0m7 6h0m0 18h0m-2-12h0m-3 11h0m-10-8h0m-3 7h0m-4-2h0m-2-4h0m-11 2h0m-1-1h0m-10 2h0m0-4h0m-11 1h0m-6 6h0m-38 3h0m-10 3h0m17 3h0m5 4h0m5-2h0m16 4h0m47-8h0m12 8h0m15 6h0m-6 8h0m-18-5h0m0 3h0m-1-1h0m-4 8h0m-9-11h0m-2-2h0m0 6h0m-24 1h0m-8 5h0m-6-7h0m-14-2h0m-10 8h0m-6-10h0m-3 10h0m1 16h0m1-6h0m7-5h0m1-2h0m2 13h0m11-5h0m14 6h0m1-1h0m2-2h0m4 0h0m3 1h0m0-5h0m16 1h0m0-5h0m17 11h0m27-8h0m-3 20h0m-7-2h0m-2 3h0m-8-2h0m-15-7h0m-17 11h0m-5-8h0m0 5h0m-14-7h0m-1 0h0m-11 6h0m-24 9h0m16 6h0m15-9h0m1 6h0m3-7h0m1 8h0m8-4h0m10 0h0m16 9h0m31-6h0m-3 18h0m-3-6h0m-8 4h0m0-1h0m-2-6h0m-17 6h0m-5 0h0m-8-1h0m-29-4h0m-2 5h0m-7-2h0m-14 13h0m15 5h0m2-8h0m18 7h0m1-3h0m4 1h0m10 5h0m15-4h0m11-3h0m5 3h0m9 3h0m1 3h0m0-8h0m6 7h0m0-1h0m-14 16h0m-45-5h0m-6-3h0m-12 9h0m-9-4h0m-4 20h0m24 0h0m4-13h0m8 13h0m0-5h0m8 2h0m25-1h0m-2 14h0m-9-1h0m-54 7h0m6 13h0m14-7h0m1 5h0m0 4h0m3-10h0m2 3h0m3 1h0m10 0h0m7-5h0m4 0h0m8 10h0m15 4h0m-20-2h0m-13 7h0m-28-1h0m2 21h0m54-6h0m-9 9h0m-35 16h0m10 0h0m6-1h0m5 17h0m-12 5h0m-7 10h0m15 2h0m17 6h0m0-8h0m-4 21h0m-13 10h0m-2 16h0m3 40h0m-9-6h0" stroke="#111" stroke-width="0.55" opacity="0.4" vector-effect="non-scaling-stroke" stroke-linecap="round" fill="none"/>
<text transform="translate(506.4,162.3) rotate(-45)" font-size="9.0" text-anchor="end" fill="#3a3a3a">CD8 T<tspan font-size="5.4" dy="1">EM</tspan></text>
<line x1="513.4" y1="151.4" x2="513.4" y2="155.0" stroke="#a0a0a0" stroke-width="0.7"/>
<path d="M513.7 144.4L513.7 143.7L513.7 142.9L513.8 142.2L513.8 141.5L513.9 140.7L514.0 140.0L514.1 139.2L514.1 138.5L514.2 137.8L514.3 137.0L514.4 136.3L514.5 135.5L514.6 134.8L514.7 134.1L514.8 133.3L515.0 132.6L515.2 131.8L515.4 131.1L515.6 130.4L515.8 129.6L516.0 128.9L516.2 128.1L516.5 127.4L516.7 126.7L516.9 125.9L517.1 125.2L517.3 124.4L517.5 123.7L517.7 123.0L517.9 122.2L518.0 121.5L518.2 120.7L518.4 120.0L518.5 119.3L518.7 118.5L518.9 117.8L519.0 117.0L519.1 116.3L519.2 115.6L519.3 114.8L519.3 114.1L519.2 113.3L519.2 112.6L519.0 111.9L518.9 111.1L518.8 110.4L518.6 109.6L518.5 108.9L518.3 108.2L518.2 107.4L518.0 106.7L517.8 105.9L517.7 105.2L517.4 104.5L517.2 103.7L517.0 103.0L516.7 102.2L516.5 101.5L516.2 100.8L516.0 100.0L515.7 99.3L515.5 98.5L515.3 97.8L515.1 97.1L514.9 96.3L514.8 95.6L514.7 94.8L514.5 94.1L514.4 93.4L514.3 92.6L514.2 91.9L514.1 91.1L514.0 90.4L513.9 89.7L513.9 88.9L513.8 88.2L513.8 87.4L513.8 86.7L513.8 86.0L513.7 85.2L513.7 84.5L513.7 83.7L513.7 83.0L513.7 82.3L513.7 81.5L513.7 80.8L513.7 80.0L513.7 79.3L513.7 78.6L513.7 77.8L513.7 77.1L513.7 76.3L513.7 75.6L513.7 74.9L513.7 74.1L513.7 73.4L513.7 72.6L513.7 71.9L513.7 71.2L513.7 70.4L513.7 69.7L513.7 68.9L513.7 68.2L513.7 67.5L513.7 66.7L513.7 66.0L513.7 65.2L513.7 64.5L513.7 63.8L513.7 63.0L513.7 62.3L513.7 61.5L513.7 60.8L513.7 60.1L513.7 59.3L513.7 58.6L513.7 57.8L513.7 57.1L513.7 56.4L513.1 56.4L513.1 57.1L513.1 57.8L513.1 58.6L513.1 59.3L513.1 60.1L513.1 60.8L513.1 61.5L513.1 62.3L513.1 63.0L513.1 63.8L513.1 64.5L513.1 65.2L513.1 66.0L513.1 66.7L513.1 67.5L513.1 68.2L513.1 68.9L513.1 69.7L513.1 70.4L513.1 71.2L513.1 71.9L513.1 72.6L513.1 73.4L513.1 74.1L513.1 74.9L513.1 75.6L513.1 76.3L513.1 77.1L513.1 77.8L513.1 78.6L513.1 79.3L513.1 80.0L513.1 80.8L513.1 81.5L513.1 82.3L513.1 83.0L513.1 83.7L513.1 84.5L513.1 85.2L513.0 86.0L513.0 86.7L513.0 87.4L513.0 88.2L512.9 88.9L512.9 89.7L512.8 90.4L512.7 91.1L512.6 91.9L512.5 92.6L512.4 93.4L512.3 94.1L512.1 94.8L512.0 95.6L511.9 96.3L511.7 97.1L511.5 97.8L511.3 98.5L511.1 99.3L510.8 100.0L510.6 100.8L510.3 101.5L510.1 102.2L509.8 103.0L509.6 103.7L509.4 104.5L509.1 105.2L509.0 105.9L508.8 106.7L508.6 107.4L508.5 108.2L508.3 108.9L508.2 109.6L508.0 110.4L507.9 111.1L507.8 111.9L507.6 112.6L507.6 113.3L507.5 114.1L507.5 114.8L507.6 115.6L507.7 116.3L507.8 117.0L507.9 117.8L508.1 118.5L508.3 119.3L508.4 120.0L508.6 120.7L508.8 121.5L508.9 122.2L509.1 123.0L509.3 123.7L509.5 124.4L509.7 125.2L509.9 125.9L510.1 126.7L510.3 127.4L510.6 128.1L510.8 128.9L511.0 129.6L511.2 130.4L511.4 131.1L511.6 131.8L511.8 132.6L512.0 133.3L512.1 134.1L512.2 134.8L512.3 135.5L512.4 136.3L512.5 137.0L512.6 137.8L512.7 138.5L512.7 139.2L512.8 140.0L512.9 140.7L513.0 141.5L513.0 142.2L513.1 142.9L513.1 143.7L513.1 144.4Z" fill="#14993f" stroke="#3a3a3a" stroke-width="0.35" stroke-opacity="0.6"/>
<path transform="scale(.1)" d="M5168 557h0m-52 6h0m-43 1h0m103 13h0m6-4h0m-20 12h0m-7 13h0m-73 1h0m109 5h0m-3 18h0m-87 1h0m-23 16h0m29 0h0m93 10h0m-42 0h0m-78 0h0m42 11h0m27 6h0m45 2h0m-39 11h0m-63 4h0m-19 20h0m118 9h0m-20 5h0m-5 0h0m-10-2h0m-48 10h0m36 1h0m14 3h0m3 8h0m-37 8h0m-17 0h0m-37-5h0m44 22h0m55-2h0m-72 8h0m40 19h0m22 6h0m-4 7h0m-4-3h0m-42 0h0m-15 11h0m60 10h0m23-8h0m2 4h0m16 13h0m-41 6h0m-38-6h0m-10 27h0m14-13h0m70 9h0m-10 14h0m-39-7h0m-65 21h0m28-1h0m2-6h0m38 7h0m36 1h0m5-5h0m4 2h0m-2 17h0m-32-2h0m-51 3h0m-12-9h0m-4 1h0m2 15h0m7 5h0m11-1h0m12 9h0m24 0h0m10 15h0m-31-2h0m-4 0h0m-13-10h0m-3 2h0m-4 9h0m-25-2h0m0-3h0m9 20h0m1-1h0m6-10h0m7 11h0m26-8h0m50 1h0m8 6h0m13 2h0m-4 11h0m-8-8h0m-5 12h0m-78-5h0m-3-1h0m-10 5h0m-15 6h0m5-4h0m40 1h0m1 10h0m47-9h0m0 5h0m2-5h0m10 2h0m1 2h0m6 0h0m2 4h0m8 0h0m5 17h0m0-4h0m-1 3h0m-22-7h0m-71 10h0m-33 11h0m7-5h0m5 0h0m4 4h0m4-7h0m7-2h0m4 8h0m3-2h0m5-3h0m57 2h0m0 1h0m3 7h0m1-7h0m4 6h0m1-6h0m5 2h0m13-5h0m2 10h0m3-8h0m0 5h0m-10 16h0m-4-3h0m0 0h0m-1 5h0m0-9h0m-1 10h0m0-10h0m-3 5h0m0 2h0m-2 1h0m-8-10h0m-1 12h0m-1-6h0m-83-4h0m-2-2h0m-13 12h0m-1-3h0m4 15h0m11-6h0m0 1h0m10 7h0m5-7h0m71 0h0m0 0h0m13 3h0m3 4h0m11 0h0m2 0h0m1 0h0m-1 2h0m-4 14h0m-1-10h0m-3 6h0m0 1h0m-2 1h0m-8-11h0m-1 7h0m-1 4h0m-1-3h0m-83-4h0m-11 3h0m-3 0h0m-1-3h0m-2-5h0m-2 10h0m-3-4h0m-1 0h0m-4-1h0m13 21h0m1 2h0m2-5h0m99-7h0m2 2h0m2 7h0m10-8h0m3 15h0m-2 9h0m-2 0h0m-6-4h0m-2 6h0m0-6h0m-1-7h0m-102 1h0m-8 9h0m-4-4h0m-1-6h0m0 5h0m-3-2h0m0 16h0m6 9h0m4-10h0m3 10h0m1-5h0m100-8h0m8 11h0m2-9h0m1 6h0m3-5h0m2 5h0m1 20h0m-6-6h0m-3-1h0m-1 6h0m-2-10h0m-111 3h0m-6 23h0m1-5h0m2-6h0m0 5h0m0 6h0m117-12h0m1 3h0m0 4h0m1-4h0m3 20h0m0-2h0m-2 4h0m-119-11h0m-1 14h0m-1-8h0m-2-3h0m0 5h0m-3 7h0m7 1h0m122 3h0m0 14h0m-5 5h0m-118-2h0m-1-4h0m-2 8h0m-2 14h0m3 1h0m3-5h0m0-5h0m2 10h0m0-6h0m114 9h0m4 9h0m-6 6h0m0-11h0m0 4h0m-110-4h0m-4 7h0m-1 3h0m-2 0h0m0-2h0m1 12h0m1 6h0m1-7h0m2 6h0m2-11h0m3 9h0m1-5h0m102 0h0m1 1h0m4-6h0m2 0h0m0 8h0m1 5h0m1-3h0m2 0h0m1 3h0m-3 6h0m-5 3h0m-1 3h0m-5-7h0m-98 9h0m-7-7h0m-8-1h0m-2 0h0m6 25h0m2-8h0m9 0h0m8 3h0m82-1h0m3 4h0m8-6h0m1 2h0m7 0h0m4 1h0m2 16h0m-3 2h0m-1-11h0m-6 7h0m-6-4h0m-8 8h0m-82 1h0m-5-10h0m-2 11h0m-1-10h0m-16 8h0m-1-4h0m-1 0h0m1 17h0m6-10h0m3 4h0m8 8h0m3 2h0m3-6h0m0-6h0m5 10h0m6 2h0m76-14h0m2 0h0m0 0h0m2 12h0m1 2h0m0-1h0m2-10h0m3 5h0m4 5h0m2-5h0m3 2h0m2 0h0m-10 8h0m-2 5h0m-3-6h0m-5 4h0m-18 5h0m-59-3h0m-6 4h0m-1-8h0m0 6h0m-6 0h0m-3-8h0m-11 10h0m0 13h0m2-1h0m1-5h0m1-1h0m4-3h0m10 9h0m0-2h0m1-4h0m15 4h0m1 6h0m50 0h0m2-4h0m8-9h0m4 3h0m13-3h0m3 0h0m1 7h0m3 3h0m2-5h0m1 5h0m2 12h0m-6-1h0m-2 7h0m-2-1h0m-3-6h0m-1 8h0m-8-11h0m-3-3h0m-1 1h0m-8 7h0m-6 4h0m-47-3h0m-4-5h0m-3-1h0m-6-2h0m-4 12h0m-1-11h0m-5 0h0m-6 9h0m-5 1h0m16 11h0m62 1h0m10 0h0m1-6h0m13 5h0m-32 20h0m-32-6h0m-2 5h0m0-9h0m-5 9h0m-38 2h0m11 7h0m13 7h0m0-3h0m11-3h0m43-1h0m29-5h0m10-1h0m3 2h0m5 1h0m-50 18h0m-34 2h0m-2-6h0m-19 4h0m-22-3h0m0-3h0m13 27h0m15 1h0m7 1h0m54-10h0m40 17h0m-16-2h0m-27-2h0m-59 6h0m-3-2h0m-2-4h0m-3-1h0m-4 8h0m-13 0h0m4 13h0m37-1h0m29-6h0m35 5h0m21-2h0m-130 14h0m23 22h0" stroke="#555" stroke-width="0.6" opacity="0.5" vector-effect="non-scaling-stroke" stroke-linecap="round" fill="none"/>
<path transform="scale(.1)" d="M5136 794h0m-3 93h0m3 22h0m-8 30h0m5-6h0m14 18h0m-2 4h0m-19-7h0m0 25h0m1 0h0m4-4h0m3-3h0m18 19h0m-2 0h0m-3-6h0m0 4h0m-21 0h0m-6-6h0m-2 13h0m8 3h0m13 7h0m0 1h0m7-4h0m10 20h0m-3 0h0m-9-10h0m-4-1h0m-2 0h0m-10 13h0m-3-6h0m-5 5h0m-3-9h0m0 0h0m-1 3h0m-1-4h0m-5 2h0m-3-3h0m-6 23h0m7 4h0m7-10h0m2 9h0m4-7h0m6 7h0m2-10h0m1 10h0m3-4h0m5 4h0m2-5h0m1 6h0m4 0h0m12-8h0m7 8h0m6 0h0m0-4h0m5 19h0m-3-5h0m-2-7h0m-1 6h0m-3 6h0m-3-8h0m-1-3h0m-12 3h0m0-2h0m-1 5h0m-3-8h0m-1 7h0m-5 1h0m-1-6h0m0-2h0m0 13h0m-10-13h0m-1 3h0m-1 1h0m-3 7h0m-3-6h0m-1 8h0m-1-6h0m-1 0h0m-1 5h0m-5-7h0m-16-5h0m-6 22h0m2-3h0m12-5h0m0 8h0m10 3h0m1 2h0m1-4h0m0-6h0m4 9h0m1-12h0m3 12h0m2 0h0m3-2h0m2 1h0m1-9h0m0 8h0m0 3h0m0-13h0m1 6h0m1 2h0m1-4h0m3 1h0m3 1h0m5 1h0m1 6h0m3-8h0m5 7h0m7-4h0m1-3h0m2 8h0m3-4h0m6 3h0m1 0h0m3 2h0m0 6h0m-5 9h0m-3-9h0m-7-5h0m-7 3h0m0-1h0m-1 11h0m0-5h0m-5 2h0m-3 3h0m0-8h0m0 6h0m-1-11h0m-1 3h0m-1 9h0m-1-3h0m0 2h0m0 3h0m-2-10h0m-14 6h0m-1-4h0m0-6h0m-5 8h0m-1-5h0m-3-3h0m-2 7h0m-1-1h0m0 2h0m-2-4h0m-2 5h0m-2-3h0m-5 6h0m-1-11h0m-2-1h0m-2 1h0m-1 3h0m0 6h0m-3 0h0m-2-10h0m-3 13h0m-1 0h0m2 13h0m0-3h0m4 5h0m7-11h0m5 5h0m2 3h0m1 4h0m0-9h0m0 7h0m2-8h0m0-1h0m11 7h0m0-1h0m1-1h0m1-5h0m1 0h0m1 5h0m3-8h0m0 7h0m1 1h0m4-1h0m1-4h0m1-2h0m10 4h0m0-4h0m1 3h0m0 10h0m1-6h0m0 4h0m2-3h0m4 3h0m0-1h0m0-11h0m3 11h0m1-10h0m0 9h0m0-10h0m2 1h0m4 12h0m2-11h0m3 11h0m19 14h0m-10 0h0m0-6h0m-1 1h0m-1-2h0m-1-3h0m-1 2h0m-1-4h0m-1 8h0m0-5h0m-1-1h0m-9 10h0m-2-4h0m-1 4h0m-2-1h0m-3-2h0m-3 3h0m0-2h0m-3 3h0m0-11h0m-1 12h0m-3-2h0m-4-9h0m-5-2h0m-1 9h0m-2-8h0m-1 11h0m-2 1h0m-4-9h0m-6 3h0m-1-8h0m-5 10h0m-2-1h0m-1 2h0m-10-2h0m-4-2h0m-9 3h0m-2-6h0m-6 19h0m6 2h0m2-9h0m4 4h0m2-4h0m1 3h0m1 10h0m1-3h0m5-8h0m0-1h0m2 3h0m1 3h0m6 1h0m2-1h0m1-4h0m0-3h0m4 2h0m1 2h0m0 5h0m0-8h0m1 9h0m2-11h0m1 3h0m1 4h0m1 4h0m0 3h0m6-7h0m8-3h0m1 9h0m1-7h0m0 1h0m1-3h0m1 5h0m3-3h0m2-1h0m1-2h0m1 0h0m0 3h0m1-4h0m2 3h0m7 0h0m1 7h0m1-1h0m2-4h0m1 7h0m2-9h0m5-4h0m3 8h0m1 0h0m1-8h0m6 5h0m2-5h0m2 10h0m0 2h0m6 9h0m-2 2h0m-1 4h0m-3 0h0m-1-3h0m-5 2h0m-8-12h0m0 7h0m-2-5h0m-5 8h0m-2-7h0m0 9h0m-4-11h0m-4 7h0m-3 1h0m-5 5h0m0-3h0m-10 0h0m0 2h0m-3-8h0m0 5h0m-4 0h0m-1-3h0m-1-7h0m-2 0h0m0 12h0m0-7h0m-3 9h0m-7-12h0m-2 10h0m-6-12h0m0 3h0m-1 6h0m-2-7h0m-4 0h0m0 1h0m-1 8h0m-1-10h0m-2 7h0m-3-1h0m-4-6h0m-4 13h0m-6-3h0m-1-10h0m-2 6h0m-2 17h0m2-3h0m0-4h0m1 5h0m3 3h0m2-5h0m1-3h0m0 9h0m4-9h0m3 12h0m4-2h0m2-9h0m1-3h0m1 3h0m1 0h0m1 7h0m1 0h0m0-5h0m2 4h0m4-9h0m11 11h0m4 1h0m3-10h0m0-1h0m2 3h0m0-4h0m1 10h0m5 1h0m4-6h0m3 9h0m9-14h0m4 10h0m6-3h0m1-2h0m8 0h0m0-3h0m2-2h0m2 7h0m1-4h0m5-1h0m3 0h0m6 7h0m1 13h0m-2 7h0m0-9h0m0 4h0m-3-5h0m-2 2h0m0 1h0m-3 0h0m-2-5h0m-1 0h0m-2 9h0m-2-4h0m-1 4h0m-1-6h0m-1-5h0m-1 4h0m-6 4h0m-7 0h0m-2-6h0m-1 12h0m-4-13h0m-1 3h0m0-1h0m-1 8h0m-3-1h0m-2-2h0m-2-7h0m-1 11h0m-11-12h0m-4 1h0m-1 4h0m-4 0h0m-9 7h0m-1-5h0m-9-6h0m-2 1h0m-8 1h0m-1 5h0m-1 3h0m-4-8h0m-2 1h0m-4-1h0m10 14h0m6 2h0m2-3h0m1 5h0m6 0h0m0-4h0m1 5h0m2 3h0m2-5h0m3 3h0m0-1h0m0-6h0m3 13h0m4-11h0m0 6h0m1-8h0m7 12h0m4 1h0m2-6h0m3 1h0m0 5h0m3-7h0m5 1h0m8 4h0m0-12h0m8 12h0m8-10h0m1 2h0m2 6h0m1-5h0m0-2h0m1-2h0m1 10h0m1 2h0m6 0h0m9-8h0m-4 22h0m-5-8h0m-2 1h0m-5-4h0m-1 11h0m-5-2h0m0 1h0m-1-8h0m-2 7h0m-2-5h0m-4 3h0m-1 0h0m-2-4h0m-6 10h0m0-14h0m-5 9h0m-1 2h0m-1-7h0m0 6h0m-5-9h0m-10 8h0m-1-3h0m-9-5h0m-1 4h0m-1 1h0m-4 5h0m0-3h0m0 0h0m0 4h0m-4-9h0m-1 11h0m-3 0h0m-4-3h0m-2-9h0m-1 11h0m-1-7h0m-1-6h0m-8 6h0m-2-3h0m7 24h0m0-11h0m3 3h0m3-3h0m5 3h0m5 7h0m2-5h0m3 8h0m5-12h0m1 0h0m1 9h0m5 1h0m0-9h0m1 5h0m4 5h0m8-10h0m5 3h0m0 8h0m3-7h0m1-4h0m0 0h0m1 1h0m2 0h0m2 8h0m0-6h0m0 5h0m2-10h0m1 8h0m2-6h0m8-1h0m2 12h0m0-9h0m1-3h0m0 3h0m1-1h0m4-4h0m1 5h0m2 9h0m2-8h0m4 5h0m-3 5h0m-3 1h0m-7 12h0m-3-5h0m-1-5h0m-2 1h0m0-1h0m-1 0h0m-3 10h0m0-11h0m-1 0h0m-3 2h0m-2 7h0m-3-6h0m-1-3h0m-5-2h0m0 12h0m-2-6h0m-2-5h0m-1 0h0m-14 11h0m-6-12h0m-6 9h0m-2-4h0m-4-4h0m-3 1h0m-5 2h0m-1-2h0m-2 0h0m2 18h0m10-5h0m4 1h0m5 2h0m4 10h0m1-9h0m0 7h0m2-2h0m0-8h0m0 9h0m0 1h0m3-1h0m4-9h0m1 6h0m4 6h0m16-6h0m6-7h0m1 5h0m1-1h0m0 9h0m5-13h0m1 12h0m6-10h0m-6 14h0m-2 7h0m0 1h0m-1 2h0m-1-11h0m-3 11h0m-6-2h0m-1 4h0m-2 0h0m-2-9h0m-5 5h0m-4 2h0m-4-12h0m-4 5h0m0-3h0m-6 3h0m-1-5h0m-1 14h0m-2 0h0m0-8h0m-2-4h0m-2 4h0m-1 6h0m-3-10h0m-9 7h0m6 17h0m6 2h0m2-4h0m12-9h0m1 2h0m4 1h0m5 7h0m4-4h0m4 1h0m6-1h0m1 1h0m12-6h0m-9 22h0m-8-6h0m-5 11h0m-2-3h0m-11 1h0m-3-5h0m-2 3h0m-1 5h0m-7 7h0m3-1h0m0-1h0m4 6h0m1-7h0m4 7h0m1-1h0m4-3h0m4-5h0m5 2h0m7-3h0m7 6h0m2-3h0m-6 19h0m-2 4h0m-6 3h0m-3-6h0m-1-2h0m-15 12h0m8 10h0m1-5h0m13-2h0m-20 19h0m0-6h0m-3 15h0m14 12h0m-6 4h0m1 19h0m5 20h0" stroke="#111" stroke-width="0.55" opacity="0.4" vector-effect="non-scaling-stroke" stroke-linecap="round" fill="none"/>
<text transform="translate(520.0,162.3) rotate(-45)" font-size="9.0" text-anchor="end" fill="#3a3a3a">CD8 naive</text>
<line x1="526.9" y1="151.4" x2="526.9" y2="155.0" stroke="#a0a0a0" stroke-width="0.7"/>
<path d="M527.2 136.3L527.2 135.3L527.2 134.4L527.2 133.4L527.2 132.5L527.2 131.5L527.2 130.6L527.2 129.6L527.2 128.6L527.2 127.7L527.2 126.7L527.2 125.8L527.2 124.8L527.2 123.9L527.2 122.9L527.2 121.9L527.2 121.0L527.2 120.0L527.2 119.1L527.2 118.1L527.2 117.2L527.2 116.2L527.2 115.3L527.2 114.3L527.2 113.3L527.2 112.4L527.2 111.4L527.2 110.5L527.2 109.5L527.2 108.6L527.2 107.6L527.2 106.6L527.2 105.7L527.2 104.7L527.2 103.8L527.2 102.8L527.2 101.9L527.2 100.9L527.2 99.9L527.2 99.0L527.2 98.0L527.2 97.1L527.2 96.1L527.2 95.2L527.2 94.2L527.2 93.3L527.2 92.3L527.2 91.3L527.2 90.4L527.2 89.4L527.2 88.5L527.2 87.5L527.2 86.6L527.3 85.6L527.3 84.6L527.3 83.7L527.3 82.7L527.3 81.8L527.3 80.8L527.3 79.9L527.3 78.9L527.4 78.0L527.4 77.0L527.4 76.0L527.5 75.1L527.6 74.1L527.6 73.2L527.7 72.2L527.8 71.3L527.9 70.3L528.0 69.3L528.2 68.4L528.3 67.4L528.6 66.5L528.8 65.5L529.1 64.6L529.4 63.6L529.8 62.6L530.1 61.7L530.4 60.7L530.8 59.8L531.1 58.8L531.3 57.9L531.6 56.9L531.8 56.0L532.0 55.0L532.1 54.0L532.3 53.1L532.4 52.1L532.6 51.2L532.7 50.2L532.8 49.3L532.8 48.3L532.7 47.3L532.6 46.4L532.5 45.4L532.3 44.5L532.2 43.5L532.0 42.6L531.8 41.6L531.6 40.6L531.3 39.7L531.1 38.7L530.8 37.8L530.5 36.8L530.1 35.9L529.8 34.9L529.4 34.0L529.1 33.0L528.8 32.0L528.5 31.1L528.3 30.1L528.1 29.2L527.9 28.2L527.7 27.3L527.6 26.3L527.5 25.3L527.4 24.4L527.3 23.4L527.2 22.5L526.6 22.5L526.5 23.4L526.4 24.4L526.3 25.3L526.2 26.3L526.1 27.3L525.9 28.2L525.7 29.2L525.5 30.1L525.3 31.1L525.0 32.0L524.7 33.0L524.4 34.0L524.0 34.9L523.7 35.9L523.3 36.8L523.0 37.8L522.7 38.7L522.5 39.7L522.2 40.6L522.0 41.6L521.8 42.6L521.6 43.5L521.5 44.5L521.3 45.4L521.2 46.4L521.1 47.3L521.0 48.3L521.0 49.3L521.1 50.2L521.2 51.2L521.4 52.1L521.5 53.1L521.7 54.0L521.8 55.0L522.0 56.0L522.2 56.9L522.5 57.9L522.7 58.8L523.0 59.8L523.4 60.7L523.7 61.7L524.0 62.6L524.4 63.6L524.7 64.6L525.0 65.5L525.2 66.5L525.5 67.4L525.6 68.4L525.8 69.3L525.9 70.3L526.0 71.3L526.1 72.2L526.2 73.2L526.2 74.1L526.3 75.1L526.4 76.0L526.4 77.0L526.4 78.0L526.5 78.9L526.5 79.9L526.5 80.8L526.5 81.8L526.5 82.7L526.5 83.7L526.5 84.6L526.5 85.6L526.6 86.6L526.6 87.5L526.6 88.5L526.6 89.4L526.6 90.4L526.6 91.3L526.6 92.3L526.6 93.3L526.6 94.2L526.6 95.2L526.6 96.1L526.6 97.1L526.6 98.0L526.6 99.0L526.6 99.9L526.6 100.9L526.6 101.9L526.6 102.8L526.6 103.8L526.6 104.7L526.6 105.7L526.6 106.6L526.6 107.6L526.6 108.6L526.6 109.5L526.6 110.5L526.6 111.4L526.6 112.4L526.6 113.3L526.6 114.3L526.6 115.3L526.6 116.2L526.6 117.2L526.6 118.1L526.6 119.1L526.6 120.0L526.6 121.0L526.6 121.9L526.6 122.9L526.6 123.9L526.6 124.8L526.6 125.8L526.6 126.7L526.6 127.7L526.6 128.6L526.6 129.6L526.6 130.6L526.6 131.5L526.6 132.5L526.6 133.4L526.6 134.4L526.6 135.3L526.6 136.3Z" fill="#16a9ad" stroke="#3a3a3a" stroke-width="0.35" stroke-opacity="0.6"/>
<path transform="scale(.1)" d="M5333 216h0m-89 9h0m-31 9h0m44 8h0m64 24h0m-111-8h0m72 19h0m49 9h0m-4 1h0m-21 11h0m-1-13h0m-56 5h0m-16-3h0m-9 0h0m-3 7h0m-6 1h0m-2 0h0m-6-1h0m30 13h0m50 4h0m3-11h0m9 2h0m10 0h0m6 0h0m2 7h0m15-1h0m1 8h0m-2 2h0m-82 2h0m-43 23h0m3-6h0m4 3h0m3 4h0m8 0h0m87-9h0m10 16h0m-11-2h0m-2-4h0m-78 6h0m-7 4h0m-1 15h0m3 3h0m2-3h0m82 1h0m11-10h0m2 9h0m11 13h0m0-3h0m-8 3h0m-4-3h0m-8 5h0m-91-1h0m-6-6h0m-7 4h0m-1 0h0m-4 19h0m4-1h0m106-5h0m5 0h0m1 0h0m13 8h0m-119 19h0m109 4h0m7 1h0m2 7h0m1 8h0m-4 2h0m-3 2h0m-113 2h0m118 4h0m1 7h0m-5 8h0m-117 1h0m-1 16h0m122-4h0m3 4h0m-3 24h0m-121-2h0m-6-6h0m0-2h0m2 24h0m1-11h0m3 9h0m0-8h0m115 5h0m2 4h0m0-2h0m2 1h0m5 11h0m-5-3h0m-116 10h0m-3-6h0m-1-7h0m-5 27h0m0 2h0m11-1h0m1-11h0m105 5h0m2-3h0m8-2h0m-7 13h0m-3 13h0m-5 1h0m-96-7h0m-4-1h0m-10-5h0m2 27h0m0-3h0m113-5h0m2-3h0m5 9h0m-2 7h0m-101 6h0m-5-4h0m-6-1h0m-3-2h0m98 18h0m7 2h0m7 6h0m5-5h0m-7 8h0m-4 12h0m-7-6h0m-8 2h0m0-4h0m-72-5h0m-5 4h0m-1 5h0m-5-9h0m-4 12h0m-7-8h0m0 6h0m-3-8h0m-1 0h0m10 26h0m3 1h0m4-4h0m4-3h0m10-7h0m3 12h0m61 1h0m4-8h0m2 1h0m4 6h0m7-10h0m18 10h0m-42 7h0m-57 0h0m-28-4h0m43 16h0m63 1h0m13 3h0m5-2h0m-35 13h0m-2-1h0m-66 7h0m-12-1h0m-4-1h0m11 22h0m8-4h0m14-8h0m41 4h0m38 11h0m-10 2h0m-5-2h0m-5 12h0m-20-3h0m-31 19h0m31-12h0m6 0h0m25 26h0m-14-2h0m-1-1h0m-10-5h0m-84 0h0m75 33h0m-26 4h0m-48-10h0m67 18h0m9 6h0m20-2h0m-21 10h0m-44 26h0m71 4h0m-22 13h0m-35 33h0m43-1h0m18 1h0m-77 19h0m-14 21h0m51-7h0m23 4h0m9 2h0m-57 13h0m14 8h0m0 2h0m70 22h0m-49-2h0m-22 4h0m-5 37h0m-53 14h0m8 18h0m1-8h0m-7 27h0m129 17h0m-29 12h0m-94 11h0m74 44h0m42 54h0m0 7h0m-6 5h0m-78 6h0m13 5h0m6-4h0m-2 16h0m-32 4h0m-11-5h0m108 14h0m-51 16h0m-2 8h0m-68-1h0m93 6h0m1 11h0m-92 27h0m123-7h0m-101 28h0m96 25h0" stroke="#555" stroke-width="0.6" opacity="0.5" vector-effect="non-scaling-stroke" stroke-linecap="round" fill="none"/>
<path transform="scale(.1)" d="M5269 253h0m5 1h0m-5 19h0m-15 69h0m35 0h0m-1 13h0m-5 2h0m-1-2h0m-2-9h0m-1-1h0m-18 14h0m-4-6h0m-2 5h0m0-3h0m-15 11h0m3 0h0m1 5h0m3-4h0m0 3h0m17-4h0m18 5h0m4-3h0m9-6h0m-8 16h0m-8 9h0m-7 0h0m-7 1h0m0-7h0m-1 8h0m-16-13h0m-1 5h0m-8 3h0m-3-4h0m-5 4h0m-1 10h0m0 0h0m4 1h0m4 1h0m15-6h0m2 5h0m5 8h0m5-3h0m12-10h0m9 7h0m11 2h0m8 5h0m3-9h0m2 1h0m4 10h0m-7-1h0m0 13h0m-10-10h0m-5 11h0m0-5h0m-2 0h0m-6 2h0m-3-7h0m-4-3h0m-3 4h0m-7 6h0m-6-5h0m-7-2h0m-1-2h0m-3-1h0m0 11h0m-14-10h0m-3 0h0m0 9h0m-1-11h0m-8 3h0m-5 17h0m3-5h0m3 9h0m2-3h0m1 4h0m7 3h0m4-2h0m5-8h0m6 1h0m12 8h0m9 1h0m4-3h0m15 1h0m1-7h0m0 0h0m8 0h0m10 6h0m5-5h0m1-4h0m0 27h0m-8-8h0m-4-3h0m-10 10h0m-3-3h0m-4-6h0m-2-1h0m0 6h0m-6 3h0m-3-5h0m-2-1h0m-7 2h0m-2-1h0m-3 6h0m0-9h0m-1-1h0m-13 1h0m-10-1h0m-5 7h0m-3-6h0m0-2h0m-6 12h0m-3-7h0m-3 19h0m1-8h0m8 5h0m5 1h0m2-8h0m20 4h0m3 6h0m1-8h0m2 10h0m1-12h0m5 14h0m6 0h0m1-4h0m3 2h0m5-8h0m3 5h0m0-8h0m7 3h0m7 8h0m25-12h0m1 8h0m4 20h0m-10-5h0m-2 1h0m-3-1h0m-3-4h0m-24 8h0m-2 2h0m-5-8h0m-1-4h0m-9 6h0m-11-3h0m-4-3h0m-5 10h0m-5-2h0m-3-7h0m0 0h0m-14 8h0m-3-10h0m-1 11h0m-6-9h0m-1 9h0m-4 11h0m8 0h0m3 4h0m8-7h0m3-1h0m3-2h0m10 3h0m3 1h0m14 5h0m2 2h0m8-11h0m3 4h0m13 4h0m1-1h0m1-2h0m6 0h0m4 7h0m3-12h0m2 11h0m2-3h0m3-8h0m3 4h0m2 4h0m10 5h0m-6 8h0m-16 1h0m0 2h0m-4-3h0m-2-3h0m-1-4h0m-5 12h0m-12-10h0m-2 7h0m-1-1h0m-5 3h0m-1-2h0m-4 2h0m-7-4h0m-12-6h0m-5-1h0m-2 7h0m-9 6h0m-2-2h0m-3-1h0m0 1h0m-1-2h0m0-6h0m-1 1h0m-13 4h0m7 16h0m5-4h0m5 2h0m1-8h0m5 4h0m21 8h0m2-2h0m0-8h0m3-1h0m6 3h0m1 2h0m4 8h0m1-7h0m5-1h0m1-3h0m2-1h0m18 1h0m1 1h0m4-4h0m11 7h0m8-3h0m-2 16h0m-3 0h0m-6 7h0m-1-11h0m-4 2h0m-13 2h0m-1 0h0m0-3h0m-2 6h0m-1-2h0m-31-6h0m-1 11h0m-5-4h0m-15-2h0m0 7h0m-4-7h0m-3 7h0m-4-10h0m-5 10h0m2 6h0m0 3h0m4-6h0m2 9h0m12-5h0m2 8h0m2-8h0m3 4h0m5-1h0m4-7h0m1 0h0m4 5h0m5-4h0m21-1h0m1 14h0m8 0h0m0-11h0m1-1h0m0 4h0m4 0h0m14 3h0m-4 19h0m-19-9h0m-11-4h0m-6 7h0m-3-1h0m-17 1h0m-7 2h0m-10 4h0m-11-5h0m0 12h0m1-3h0m1 2h0m1 1h0m1 5h0m0-6h0m3 3h0m4-4h0m6-3h0m1 2h0m1 9h0m1-6h0m0 1h0m8-1h0m14 6h0m16-11h0m15 2h0m13-1h0m-7 17h0m-2 7h0m-7 3h0m-9-11h0m-10 8h0m-7-3h0m-13-7h0m-9 8h0m-4-1h0m-3 1h0m-9-4h0m-4 5h0m0 5h0m50 11h0m16 17h0m-1-9h0m-5 2h0m-5-4h0m-1 13h0m-9-6h0m-10-4h0m-10 15h0m5 6h0m13 2h0m1 1h0m1 0h0m12-8h0m1 6h0m-4 14h0m-2-5h0m-28 19h0m2 5h0m8-2h0m2-7h0m3 28h0m1 7h0m-1 7h0m-2 31h0m1 251h0m-2 147h0m0 10h0m5 106h0" stroke="#111" stroke-width="0.55" opacity="0.4" vector-effect="non-scaling-stroke" stroke-linecap="round" fill="none"/>
<text transform="translate(533.5,162.3) rotate(-45)" font-size="9.0" text-anchor="end" fill="#3a3a3a">Antigen_prolif</text>
<line x1="540.6" y1="151.4" x2="540.6" y2="155.0" stroke="#a0a0a0" stroke-width="0.7"/>
<path d="M540.9 143.7L540.9 142.7L540.9 141.7L540.9 140.7L540.9 139.6L540.9 138.6L540.9 137.6L540.9 136.6L540.9 135.5L540.9 134.5L540.9 133.5L540.9 132.5L540.9 131.5L540.9 130.4L540.9 129.4L540.9 128.4L540.9 127.4L540.9 126.3L540.9 125.3L540.9 124.3L540.9 123.3L540.9 122.2L540.9 121.2L540.9 120.2L540.9 119.2L540.9 118.1L540.9 117.1L540.9 116.1L540.9 115.1L540.9 114.0L541.0 113.0L541.0 112.0L541.0 111.0L541.0 109.9L541.1 108.9L541.1 107.9L541.1 106.9L541.1 105.8L541.2 104.8L541.2 103.8L541.2 102.8L541.2 101.7L541.3 100.7L541.3 99.7L541.3 98.7L541.4 97.6L541.5 96.6L541.6 95.6L541.7 94.6L541.8 93.5L541.9 92.5L542.0 91.5L542.1 90.5L542.2 89.4L542.4 88.4L542.5 87.4L542.6 86.4L542.7 85.3L542.8 84.3L543.0 83.3L543.1 82.3L543.2 81.2L543.3 80.2L543.4 79.2L543.5 78.2L543.6 77.1L543.8 76.1L543.9 75.1L544.0 74.1L544.1 73.0L544.2 72.0L544.4 71.0L544.5 70.0L544.7 68.9L544.8 67.9L545.0 66.9L545.2 65.9L545.4 64.8L545.6 63.8L545.8 62.8L546.0 61.8L546.1 60.7L546.3 59.7L546.4 58.7L546.5 57.7L546.6 56.6L546.6 55.6L546.6 54.6L546.6 53.6L546.6 52.5L546.6 51.5L546.5 50.5L546.3 49.5L546.2 48.4L546.1 47.4L545.9 46.4L545.7 45.4L545.6 44.3L545.4 43.3L545.2 42.3L545.0 41.3L544.7 40.2L544.5 39.2L544.3 38.2L544.0 37.2L543.8 36.1L543.5 35.1L543.3 34.1L543.1 33.1L542.8 32.0L542.6 31.0L542.4 30.0L542.2 29.0L542.0 27.9L541.8 26.9L541.6 25.9L541.4 24.9L541.2 23.8L541.1 22.8L541.0 21.8L540.2 21.8L540.1 22.8L540.0 23.8L539.8 24.9L539.6 25.9L539.4 26.9L539.2 27.9L539.0 29.0L538.8 30.0L538.6 31.0L538.4 32.0L538.1 33.1L537.9 34.1L537.7 35.1L537.4 36.1L537.2 37.2L536.9 38.2L536.7 39.2L536.5 40.2L536.2 41.3L536.0 42.3L535.8 43.3L535.6 44.3L535.5 45.4L535.3 46.4L535.1 47.4L535.0 48.4L534.9 49.5L534.7 50.5L534.6 51.5L534.6 52.5L534.6 53.6L534.6 54.6L534.6 55.6L534.6 56.6L534.7 57.7L534.8 58.7L534.9 59.7L535.1 60.7L535.2 61.8L535.4 62.8L535.6 63.8L535.8 64.8L536.0 65.9L536.2 66.9L536.4 67.9L536.5 68.9L536.7 70.0L536.8 71.0L537.0 72.0L537.1 73.0L537.2 74.1L537.3 75.1L537.4 76.1L537.6 77.1L537.7 78.2L537.8 79.2L537.9 80.2L538.0 81.2L538.1 82.3L538.2 83.3L538.4 84.3L538.5 85.3L538.6 86.4L538.7 87.4L538.8 88.4L539.0 89.4L539.1 90.5L539.2 91.5L539.3 92.5L539.4 93.5L539.5 94.6L539.6 95.6L539.7 96.6L539.8 97.6L539.9 98.7L539.9 99.7L539.9 100.7L540.0 101.7L540.0 102.8L540.0 103.8L540.0 104.8L540.1 105.8L540.1 106.9L540.1 107.9L540.1 108.9L540.2 109.9L540.2 111.0L540.2 112.0L540.2 113.0L540.3 114.0L540.3 115.1L540.3 116.1L540.3 117.1L540.3 118.1L540.3 119.2L540.3 120.2L540.3 121.2L540.3 122.2L540.3 123.3L540.3 124.3L540.3 125.3L540.3 126.3L540.3 127.4L540.3 128.4L540.3 129.4L540.3 130.4L540.3 131.5L540.3 132.5L540.3 133.5L540.3 134.5L540.3 135.5L540.3 136.6L540.3 137.6L540.3 138.6L540.3 139.6L540.3 140.7L540.3 141.7L540.3 142.7L540.3 143.7Z" fill="#3d6fc0" stroke="#3a3a3a" stroke-width="0.35" stroke-opacity="0.6"/>
<path transform="scale(.1)" d="M5376 222h0m20-5h0m55 2h0m0 17h0m-96 14h0m11 2h0m5 0h0m22-7h0m39 6h0m26 1h0m6 10h0m-3 5h0m-80 2h0m-22-6h0m99 17h0m2-7h0m-13 17h0m-10 0h0m-12 3h0m-3-7h0m-39-1h0m-25 25h0m16 4h0m3-4h0m70 2h0m12-8h0m9 21h0m-4 3h0m-4-3h0m-1-10h0m-89 0h0m-12 8h0m0-4h0m-3 0h0m-4 3h0m-2-7h0m-9 6h0m2 22h0m11-4h0m6-7h0m10 11h0m4 0h0m1 1h0m60-5h0m6 5h0m3 0h0m22 12h0m-8 2h0m-14-12h0m-7 0h0m-61 13h0m-10-1h0m-4 0h0m-3-8h0m-6 9h0m-3-11h0m-4-2h0m-4 11h0m-1-3h0m2 19h0m8-1h0m1-9h0m3-3h0m1 3h0m7-1h0m1 9h0m6-3h0m1-2h0m1-3h0m77-2h0m1 0h0m4 1h0m2 12h0m11-2h0m1-2h0m2 3h0m3-11h0m-17 24h0m-87-5h0m-9 1h0m0-2h0m-2-3h0m-1 3h0m0 8h0m-13-6h0m-1 8h0m2 13h0m0 1h0m2-1h0m10-10h0m9-2h0m86 1h0m1 10h0m0-1h0m3-8h0m1-1h0m5 8h0m2-2h0m3 4h0m3-11h0m-4 25h0m-5 2h0m-4-13h0m-1 9h0m-93-9h0m-4 9h0m-7-2h0m-6-1h0m-4-3h0m1 26h0m3-2h0m6-12h0m3 8h0m103-1h0m5 4h0m3-10h0m6 2h0m1 2h0m0 21h0m-1-9h0m-2-1h0m-2-1h0m-1 8h0m-1 4h0m-8-12h0m-2 0h0m-109 9h0m-5-3h0m9 16h0m112 5h0m9 3h0m0 7h0m-4 7h0m-2-2h0m-4-8h0m-116 1h0m2 14h0m115 0h0m3 5h0m1-8h0m3-1h0m2 10h0m1-2h0m-6 7h0m-119 2h0m-1 10h0m-2 0h0m-1-6h0m-1 4h0m1 15h0m3 4h0m124 0h0m1 13h0m-1-12h0m-126 14h0m-3 15h0m4-1h0m126 5h0m-2 6h0m-1 2h0m-126-8h0m-2 1h0m0 7h0m127 10h0m4 7h0m1-3h0m-1 15h0m-5-8h0m-3 12h0m-116-2h0m0-10h0m-1 21h0m120-5h0m1 9h0m3 1h0m1 13h0m-6-10h0m-3 7h0m-118 6h0m-4 8h0m0 5h0m8-11h0m112 12h0m8 1h0m-13 4h0m-102 1h0m-3 3h0m-8 3h0m0 3h0m5 4h0m0 0h0m4 7h0m1-9h0m1 8h0m4-6h0m1 8h0m0-5h0m97 5h0m1 4h0m1-9h0m2 1h0m1-3h0m2 7h0m9-8h0m-1 21h0m-1 0h0m-7-3h0m-3-3h0m-97 9h0m-5-1h0m-3-4h0m0 0h0m-4-1h0m-7 17h0m0 6h0m1-7h0m4-1h0m105 3h0m12 4h0m-4 6h0m-2 3h0m-3 6h0m-5 1h0m-1-7h0m-3-1h0m-2-5h0m0 12h0m-1-6h0m-88 0h0m-1 8h0m-11-2h0m10 7h0m0-2h0m4 2h0m1 1h0m1 9h0m7-13h0m2 6h0m76-5h0m0 1h0m5 9h0m1-6h0m6-6h0m3 10h0m4 4h0m0-11h0m6-1h0m-8 27h0m-5-6h0m-1 4h0m-14-5h0m-74 0h0m-10 1h0m-3 0h0m-5-6h0m-1 5h0m-8 11h0m8 0h0m2 8h0m2-4h0m6-4h0m3 9h0m3-2h0m80 1h0m7-4h0m3 1h0m1 6h0m16 5h0m-1 3h0m-6 4h0m-7-1h0m0-9h0m-6-1h0m0 10h0m-3-6h0m-6 8h0m-3 1h0m-69-3h0m-13-2h0m-5-5h0m-10 8h0m0 12h0m18-7h0m3 2h0m2-1h0m77 12h0m12-10h0m16 15h0m-26 0h0m-9-2h0m-68 11h0m-11-6h0m-10-1h0m-2 2h0m-2-2h0m5 10h0m9 1h0m2-2h0m3 0h0m1 14h0m69-8h0m27-3h0m1 0h0m9 11h0m1 10h0m-1-5h0m-2 10h0m-2-11h0m0-3h0m-17 1h0m-16 6h0m-51-2h0m-3 7h0m-9-7h0m-10 0h0m0 0h0m-1 1h0m-10 6h0m-2 0h0m14 5h0m2 6h0m4-6h0m1 11h0m1-8h0m13-2h0m49 1h0m19 4h0m22-2h0m1 17h0m-1-2h0m-3 6h0m-23-7h0m-74-5h0m-4 13h0m-12-8h0m-2 6h0m-1-3h0m-7-5h0m6 12h0m1 12h0m6-5h0m11 3h0m0-4h0m15-4h0m42 2h0m0 10h0m2-14h0m5 11h0m5-2h0m20-7h0m11 23h0m-4-9h0m-1-1h0m-95 5h0m-27 2h0m18 14h0m62 8h0m19-11h0m6 10h0m10-4h0m4 18h0m-37-5h0m-33 1h0m-13-7h0m-18 8h0m7 11h0m60-4h0m16 9h0m6-10h0m2 1h0m10 5h0m10-6h0m-23 23h0m-6-2h0m0 6h0m-48-7h0m-37 1h0m0 17h0m15-3h0m59 0h0m18-1h0m0 1h0m-4 19h0m-22-4h0m-4 6h0m-33-8h0m-15 11h0m-6 2h0m5 9h0m14-7h0m32 6h0m10 1h0m-9 11h0m-68-2h0m7 25h0m5-4h0m2-9h0m9 13h0m22-7h0m54 3h0m9-9h0m3 13h0m-97 7h0m-3 2h0m18 18h0m88-6h0m-111 19h0m-7-4h0m81 21h0m19 9h0m1 17h0m-103 30h0m15-3h0m11 8h0m-21 13h0m-10 4h0m49 13h0m68 9h0m-42-2h0m-14 1h0m-5 17h0m56 2h0m9 6h0m-89 3h0m52 66h0m-25 27h0m-53 5h0m117 30h0m-104-2h0m-1-3h0m-2-3h0m92 35h0m-8-6h0m-28 33h0m-68 22h0m52-8h0m53 5h0m-93 7h0m52 19h0m25-3h0" stroke="#555" stroke-width="0.6" opacity="0.5" vector-effect="non-scaling-stroke" stroke-linecap="round" fill="none"/>
<path transform="scale(.1)" d="M5408 210h0m6 54h0m-17 14h0m7-1h0m13-2h0m6 24h0m-9-2h0m-1-6h0m-4-4h0m-23 22h0m14 5h0m5-4h0m11 3h0m-29 7h0m-5 13h0m25 5h0m5-2h0m3 7h0m0-9h0m13 14h0m-10 11h0m-10-8h0m-1 8h0m-2-4h0m-9-7h0m-7-2h0m-1 8h0m-10 1h0m1 18h0m1 0h0m3-2h0m7-4h0m1 3h0m12-7h0m0 11h0m2-1h0m11 1h0m16-14h0m2 14h0m2-5h0m-6 9h0m-3 0h0m-15 9h0m-5-11h0m-12 13h0m-1-14h0m-12 0h0m-1 7h0m-11 18h0m2-8h0m1 0h0m4 0h0m1 7h0m9-1h0m2-5h0m13 0h0m1 8h0m12-3h0m6-8h0m2 11h0m6-7h0m6 7h0m8-4h0m1-2h0m2 9h0m-5 10h0m-6 2h0m-11-11h0m-3 12h0m-9 2h0m-3-3h0m-5 3h0m-2-11h0m-14 3h0m0-4h0m-11 0h0m-3 10h0m-4-1h0m-2 0h0m-5-1h0m-1 3h0m-3 11h0m4 3h0m0-8h0m3 10h0m1-9h0m4 4h0m13-9h0m1 11h0m2-8h0m0 2h0m5-5h0m24 13h0m0-7h0m1 1h0m0 4h0m3 3h0m3-10h0m5 4h0m1-7h0m10-1h0m1 5h0m1-4h0m1 5h0m2 6h0m2-6h0m2 6h0m4-2h0m1 6h0m-1 11h0m-8-4h0m-2-8h0m0 3h0m0 7h0m-3-3h0m-1 7h0m-2-5h0m-5-2h0m-4 6h0m-1-2h0m-5-3h0m0-8h0m-5 13h0m-9-12h0m-8 5h0m-8 7h0m-4-13h0m-7 7h0m-11 2h0m-2-7h0m0 7h0m0-6h0m-12 25h0m12-10h0m3-3h0m4 13h0m4-5h0m0-3h0m1 9h0m0-2h0m2 0h0m4-12h0m0 9h0m2 5h0m9-2h0m1-6h0m2 1h0m4 5h0m3-1h0m9-5h0m2-1h0m2-2h0m7 4h0m0 3h0m3 4h0m1-10h0m17 6h0m1-5h0m2 2h0m4-2h0m4 2h0m-2 21h0m-6-11h0m-4 8h0m-2-10h0m-7 13h0m-6 0h0m-4-5h0m-5 0h0m-1-7h0m-1 5h0m0 1h0m-6 0h0m-6 7h0m-4-2h0m-2-4h0m-5 2h0m-1-4h0m-1 4h0m0 2h0m-8-2h0m-7-7h0m-1-1h0m0 11h0m-1-7h0m-1 3h0m0-8h0m-5-1h0m-6 11h0m-4 3h0m-2-8h0m-8 17h0m7-7h0m5 8h0m1-2h0m5-2h0m1 8h0m5-6h0m7 7h0m2-10h0m5 1h0m13-5h0m2 6h0m3-3h0m3-2h0m0 1h0m5-1h0m2 5h0m2 7h0m1 0h0m7 1h0m2-9h0m1 7h0m7-10h0m1 2h0m3 4h0m5 0h0m1-1h0m5 5h0m1-2h0m1-2h0m4 2h0m4 15h0m-7-5h0m-20 8h0m0-4h0m-3-3h0m-1 2h0m-3-2h0m-2-6h0m0 3h0m-1 6h0m-1-8h0m-4 4h0m-4 6h0m-2-3h0m-1 3h0m-6-9h0m-1 10h0m-8-7h0m0-3h0m-3 9h0m0-9h0m-6 3h0m-3 8h0m-7-9h0m-4 10h0m0-7h0m-7-3h0m-1 0h0m-2-1h0m-8 2h0m-1 2h0m-3 1h0m-7 14h0m6-2h0m0 2h0m6 3h0m10-9h0m0 7h0m9 5h0m0-9h0m4 10h0m0-11h0m19 3h0m1 3h0m0-5h0m2 7h0m0 3h0m0-14h0m1 11h0m0-9h0m4 8h0m3 3h0m1-2h0m1-8h0m10-3h0m7 12h0m0-2h0m1-3h0m13 1h0m4 3h0m8-6h0m9 8h0m0 3h0m-3 7h0m-3-3h0m-12-4h0m-9 13h0m-7-11h0m-2-2h0m-4 8h0m-4 1h0m-6 1h0m-1 2h0m-7-8h0m-7 1h0m-2 5h0m-1-2h0m-2 0h0m0-6h0m0 7h0m-1-2h0m-2-7h0m-5 9h0m-5-1h0m-3-6h0m0 2h0m-3 7h0m-2-12h0m-6 0h0m-1 0h0m-1 4h0m-3-2h0m0 4h0m-7-2h0m-2-3h0m-1 11h0m-1-10h0m-1 6h0m-6 10h0m1 11h0m6 0h0m0-8h0m14-4h0m4 4h0m4 6h0m6-1h0m2 0h0m1-2h0m3 3h0m2-8h0m0 6h0m3 0h0m6-7h0m2 1h0m9 1h0m1 3h0m4-2h0m2 8h0m0-11h0m3 10h0m7-13h0m5 5h0m6-2h0m3-1h0m8 1h0m3 10h0m5-11h0m1 4h0m7-4h0m1 1h0m-3 23h0m-1 2h0m-4-9h0m-2 8h0m-10-9h0m-2 6h0m-4 0h0m-12 5h0m-2-2h0m-6-8h0m0 4h0m-7 1h0m0 5h0m-1-12h0m-4 8h0m0-7h0m-3 2h0m-1-4h0m-1 1h0m-3-1h0m-1 10h0m-2-10h0m-10-1h0m-7 13h0m-1-3h0m-2-1h0m-8-7h0m-11-2h0m-1 9h0m-1 0h0m-3-7h0m-2 11h0m-1-1h0m-1-11h0m5 17h0m1 8h0m1-11h0m5 10h0m3 0h0m4-8h0m7 1h0m4 11h0m3-7h0m1-3h0m1-3h0m6 2h0m2 0h0m9 8h0m2-1h0m3 4h0m6-7h0m0-3h0m4 1h0m9 1h0m1 1h0m3 6h0m1 0h0m1-13h0m3 11h0m1 0h0m1 3h0m5-12h0m4 9h0m1 3h0m9-1h0m1-11h0m1 8h0m2 4h0m0-10h0m3-3h0m1 13h0m-1 14h0m-2-11h0m-1 7h0m-2-8h0m-3 7h0m-1-4h0m-1 8h0m-13-5h0m-1 0h0m-1-2h0m0-2h0m-9 6h0m-2 3h0m-4 0h0m-6 2h0m-21-4h0m-2-7h0m0 9h0m-7-2h0m0-8h0m0 3h0m-2 6h0m-1-7h0m0 2h0m-2-3h0m-4 2h0m-2 7h0m-3 2h0m0-2h0m-14-11h0m-4 0h0m-3 3h0m-1-4h0m6 26h0m3-5h0m5-6h0m1 1h0m7 9h0m14 2h0m9-3h0m0-3h0m1-3h0m7 5h0m27-1h0m0-4h0m1 3h0m1-1h0m14 0h0m4 0h0m1-1h0m2 9h0m4-1h0m5-12h0m-9 27h0m-8 1h0m-1-5h0m-1-6h0m-3 4h0m-1-6h0m-3 5h0m-1-5h0m-5 0h0m-2 12h0m-7-8h0m-12 1h0m-4 0h0m-14 4h0m-4-1h0m0-2h0m-2-1h0m-1 9h0m-3-8h0m0 7h0m0-3h0m-9-1h0m-2 1h0m-10 1h0m0 1h0m-5-6h0m7 14h0m0-2h0m20 9h0m7-3h0m0-2h0m1 1h0m3-6h0m1 0h0m3 3h0m7 0h0m1 7h0m1-2h0m0 0h0m3 3h0m2-4h0m0-3h0m5 4h0m0-2h0m1-4h0m5 5h0m6-1h0m7-6h0m2 7h0m4-4h0m0-4h0m2 4h0m0 0h0m3-2h0m1-3h0m7 13h0m0-6h0m-1 11h0m-14 0h0m-1 7h0m-9 0h0m-2-8h0m0 3h0m-7 8h0m-1-5h0m-9 3h0m-3-7h0m0 10h0m-3-14h0m-2 7h0m-1-7h0m-8 5h0m-1 9h0m-3 0h0m0-9h0m-1-1h0m0-3h0m-8 13h0m-1-4h0m0 3h0m-3-10h0m-3-3h0m0 1h0m-10 7h0m0 5h0m-1 5h0m4 6h0m12-6h0m6 0h0m2 4h0m7 0h0m5 3h0m6 3h0m1-2h0m0-11h0m2 10h0m0-8h0m4 8h0m2-2h0m1 5h0m8-13h0m8 3h0m0 5h0m0-3h0m2-4h0m0 3h0m6 5h0m13-2h0m-4 21h0m0-10h0m-13 0h0m-6 5h0m-15 3h0m-1-4h0m-5-5h0m-1 9h0m-6 3h0m-2-13h0m-6 13h0m-3 0h0m-4-1h0m-3-13h0m-2 4h0m-1 5h0m-13-3h0m5 11h0m2 1h0m4 8h0m15-5h0m1-5h0m14 7h0m6 5h0m0-7h0m2 5h0m6-3h0m2-2h0m20 6h0m1-9h0m1 2h0m-33 15h0m-4 6h0m-2-6h0m-5-5h0m-3 4h0m-1-4h0m0 9h0m-5 3h0m-2 0h0m-9-5h0m0 1h0m-6-7h0m-3 0h0m-1 9h0m-2-10h0m4 22h0m3-5h0m17 4h0m1-1h0m0-2h0m5 2h0m6 9h0m5-13h0m12 0h0m3 5h0m4 3h0m2-1h0m6-6h0m3 18h0m-14 9h0m-1-8h0m-2 7h0m-1-13h0m-1 1h0m-6 11h0m-12-5h0m-2 6h0m-1-7h0m-7 1h0m-1 0h0m-1 2h0m-1 4h0m-3-8h0m-8 3h0m-1-4h0m5 22h0m2-7h0m1 7h0m6-3h0m1 4h0m3-11h0m11-1h0m15 13h0m1-10h0m0 8h0m7-11h0m1 4h0m3 4h0m3 10h0m-6 10h0m-4-6h0m-2-7h0m-3 11h0m0-2h0m0 2h0m-3-6h0m-5 0h0m-1 6h0m-1-1h0m-3-10h0m-6 0h0m-1 2h0m-5-1h0m-3 10h0m-3-8h0m-9 1h0m-2 16h0m13 7h0m9-11h0m7-1h0m4 9h0m0-2h0m4-6h0m3 12h0m4 0h0m5-8h0m0-4h0m3 10h0m3-4h0m-2 20h0m-13-4h0m-3-4h0m-9 3h0m0 1h0m-1 6h0m-14-1h0m-5-2h0m-7 3h0m22 11h0m6 1h0m7-2h0m7-1h0m0 1h0m5-8h0m1 12h0m0-2h0m-21 5h0m-13 6h0m-6 5h0m1 8h0m7 5h0m0-10h0m7 4h0m7-2h0m4 5h0m12 2h0m-13 12h0m-8-4h0m-6 9h0m-3 3h0m-6-9h0m17 23h0m7-10h0m2 1h0m2 7h0m3 7h0m-19 9h0m-12-2h0m4 5h0m5 11h0m4-11h0m12 2h0m0 25h0m-15 16h0m1 18h0m14-1h0m-8 42h0m-7 10h0m8 9h0m-6 60h0m9 0h0m-1 20h0m-3 50h0m1 179h0m-2 72h0" stroke="#111" stroke-width="0.55" opacity="0.4" vector-effect="non-scaling-stroke" stroke-linecap="round" fill="none"/>
<text transform="translate(547.2,162.3) rotate(-45)" font-size="9.0" text-anchor="end" fill="#3a3a3a">Antigen</text>
<line x1="554.2" y1="151.4" x2="554.2" y2="155.0" stroke="#a0a0a0" stroke-width="0.7"/>
<path d="M554.6 130.9L554.7 130.0L554.8 129.2L555.0 128.3L555.2 127.5L555.4 126.6L555.5 125.8L555.7 124.9L555.9 124.0L556.1 123.2L556.2 122.3L556.3 121.5L556.5 120.6L556.6 119.8L556.8 118.9L556.9 118.1L557.0 117.2L557.2 116.4L557.3 115.5L557.4 114.6L557.6 113.8L557.7 112.9L557.9 112.1L558.0 111.2L558.1 110.4L558.3 109.5L558.4 108.7L558.6 107.8L558.7 107.0L558.9 106.1L559.0 105.3L559.1 104.4L559.3 103.5L559.4 102.7L559.6 101.8L559.7 101.0L559.9 100.1L560.0 99.3L560.1 98.4L560.2 97.6L560.3 96.7L560.3 95.9L560.4 95.0L560.4 94.2L560.4 93.3L560.4 92.4L560.4 91.6L560.4 90.7L560.4 89.9L560.4 89.0L560.4 88.2L560.4 87.3L560.4 86.5L560.4 85.6L560.4 84.8L560.4 83.9L560.4 83.1L560.3 82.2L560.3 81.3L560.3 80.5L560.3 79.6L560.2 78.8L560.2 77.9L560.2 77.1L560.1 76.2L560.1 75.4L560.1 74.5L560.0 73.7L560.0 72.8L560.0 71.9L559.9 71.1L559.9 70.2L559.8 69.4L559.8 68.5L559.7 67.7L559.7 66.8L559.6 66.0L559.5 65.1L559.5 64.3L559.4 63.4L559.3 62.6L559.3 61.7L559.2 60.8L559.1 60.0L559.1 59.1L559.0 58.3L558.9 57.4L558.9 56.6L558.8 55.7L558.7 54.9L558.6 54.0L558.5 53.2L558.4 52.3L558.4 51.5L558.3 50.6L558.2 49.7L558.1 48.9L558.0 48.0L557.9 47.2L557.8 46.3L557.7 45.5L557.6 44.6L557.5 43.8L557.4 42.9L557.3 42.1L557.1 41.2L557.0 40.4L556.8 39.5L556.6 38.6L556.4 37.8L556.2 36.9L556.0 36.1L555.8 35.2L555.6 34.4L555.4 33.5L555.2 32.7L555.0 31.8L554.9 31.0L554.7 30.1L554.6 29.2L553.8 29.2L553.7 30.1L553.5 31.0L553.4 31.8L553.2 32.7L553.0 33.5L552.8 34.4L552.6 35.2L552.4 36.1L552.2 36.9L552.0 37.8L551.8 38.6L551.6 39.5L551.4 40.4L551.3 41.2L551.1 42.1L551.0 42.9L550.9 43.8L550.8 44.6L550.7 45.5L550.6 46.3L550.5 47.2L550.4 48.0L550.3 48.9L550.2 49.7L550.1 50.6L550.0 51.5L550.0 52.3L549.9 53.2L549.8 54.0L549.7 54.9L549.6 55.7L549.5 56.6L549.5 57.4L549.4 58.3L549.3 59.1L549.3 60.0L549.2 60.8L549.1 61.7L549.1 62.6L549.0 63.4L548.9 64.3L548.9 65.1L548.8 66.0L548.7 66.8L548.7 67.7L548.6 68.5L548.6 69.4L548.5 70.2L548.5 71.1L548.4 71.9L548.4 72.8L548.4 73.7L548.3 74.5L548.3 75.4L548.3 76.2L548.2 77.1L548.2 77.9L548.2 78.8L548.1 79.6L548.1 80.5L548.1 81.3L548.1 82.2L548.0 83.1L548.0 83.9L548.0 84.8L548.0 85.6L548.0 86.5L548.0 87.3L548.0 88.2L548.0 89.0L548.0 89.9L548.0 90.7L548.0 91.6L548.0 92.4L548.0 93.3L548.0 94.2L548.0 95.0L548.1 95.9L548.1 96.7L548.2 97.6L548.3 98.4L548.4 99.3L548.5 100.1L548.7 101.0L548.8 101.8L549.0 102.7L549.1 103.5L549.3 104.4L549.4 105.3L549.5 106.1L549.7 107.0L549.8 107.8L550.0 108.7L550.1 109.5L550.3 110.4L550.4 111.2L550.5 112.1L550.7 112.9L550.8 113.8L551.0 114.6L551.1 115.5L551.2 116.4L551.4 117.2L551.5 118.1L551.6 118.9L551.8 119.8L551.9 120.6L552.1 121.5L552.2 122.3L552.3 123.2L552.5 124.0L552.7 124.9L552.9 125.8L553.0 126.6L553.2 127.5L553.4 128.3L553.6 129.2L553.7 130.0L553.8 130.9Z" fill="#c762b4" stroke="#3a3a3a" stroke-width="0.35" stroke-opacity="0.6"/>
<path transform="scale(.1)" d="M5483 306h0m22 8h0m91-5h0m6 3h0m2 27h0m-107 22h0m-4 19h0m18 12h0m59 0h0m21 22h0m-105 10h0m18 5h0m94 11h0m-104 16h0m89 16h0m-82 4h0m-4-9h0m-4 4h0m-17 19h0m10-8h0m17 0h0m93 23h0m-116 5h0m118 22h0m7 15h0m-9 15h0m-107-3h0m-12 45h0m120 1h0m1 5h0m2-8h0m-113 20h0m118 16h0m-129 34h0m129-3h0m1 16h0m-129 15h0m130 12h0m-3 13h0m-2 16h0m-120-5h0m121 18h0m-122 40h0m123 30h0m2-13h0m-129 86h0m0 11h0m130-2h0m0 21h0m-2 85h0m-120 0h0m111 22h0m-107 12h0m-6-2h0m-6 37h0m2 8h0m8 1h0m5-4h0m105-6h0m8 7h0m-11 20h0m-4-5h0m-97-5h0m100 23h0m-12 8h0m-87 2h0m-6 14h0m89 0h0m31 2h0m-99 18h0m-23 8h0m109 20h0m-4 13h0m6-4h0m9 16h0m-105 9h0m74 9h0m9-4h0m10 12h0m-12 31h0m-4 24h0" stroke="#555" stroke-width="0.6" opacity="0.5" vector-effect="non-scaling-stroke" stroke-linecap="round" fill="none"/>
<path transform="scale(.1)" d="M5545 297h0m-7 53h0m-6 42h0m16 4h0m-24 11h0m26 23h0m19 5h0m-52 13h0m4 7h0m32 5h0m27 19h0m-30-14h0m-27 8h0m-5 1h0m33 14h0m24 9h0m-25 2h0m-34-2h0m-3 27h0m10-4h0m20-5h0m2-2h0m24 9h0m12 7h0m-4 10h0m-70-8h0m2 17h0m10 6h0m24-4h0m20-7h0m12-2h0m9 17h0m-22 4h0m-3 1h0m-28-7h0m-1 7h0m45 15h0m-42 14h0m-12 4h0m-23-11h0m-5 24h0m61-2h0m10 21h0m-1-2h0m-3-6h0m-9 9h0m-4-9h0m0-5h0m-15 5h0m-2 9h0m-4-10h0m-4 5h0m-31 3h0m16 3h0m8 13h0m34-8h0m3 9h0m33-10h0m-3 15h0m-4 10h0m-18-7h0m-8 0h0m-10 4h0m-22-3h0m-27 5h0m-2-6h0m0 11h0m6-1h0m10 3h0m14-2h0m29 7h0m2-5h0m8-2h0m26 23h0m-1 1h0m-2-3h0m0-2h0m0 0h0m-49-2h0m-9 4h0m-8-9h0m-4 12h0m-4-8h0m-19 23h0m11-10h0m10 9h0m34-11h0m35 6h0m15 8h0m-31 13h0m-8-6h0m-30-6h0m-9 11h0m-28 9h0m14-5h0m10 4h0m40 9h0m14-10h0m9 8h0m22-4h0m-25 16h0m-3-4h0m-28 1h0m-1 0h0m-25 7h0m-21-12h0m-1 6h0m-2 2h0m3 14h0m56-4h0m20 5h0m20-6h0m-42 21h0m-1 4h0m-5-1h0m-11 1h0m-6-3h0m0-6h0m-5 7h0m-24 15h0m34-5h0m18 7h0m28-2h0m12 2h0m13 3h0m-2 5h0m-11 6h0m-11 1h0m-18-8h0m-23 1h0m-10-2h0m-26 2h0m-13 9h0m-2 8h0m9-1h0m20 3h0m12 5h0m31-13h0m1 7h0m39-5h0m1 16h0m-1-4h0m-15 5h0m-32 7h0m-17-4h0m-9 5h0m-16-6h0m-26 12h0m1 6h0m12 4h0m55-2h0m33-8h0m16 13h0m-3 0h0m-9-2h0m-5 5h0m-1-3h0m-30 9h0m-16-8h0m-10 9h0m-13 0h0m-6-10h0m-7 5h0m-1 2h0m-15-6h0m3 19h0m20-5h0m4 10h0m19-1h0m16-5h0m7-3h0m5 2h0m11 9h0m3-4h0m-3 13h0m-9-4h0m-41 11h0m24 7h0m14 4h0m23-4h0m0-5h0m1 6h0m2 2h0m2-1h0m9-1h0m3-2h0m4-5h0m1 25h0m-2-11h0m-2 3h0m-21 3h0m-2-4h0m-23 10h0m-61 1h0m35 11h0m26-9h0m19 5h0m21-5h0m-24 25h0m-5-10h0m-51 13h0m-29 7h0m12 6h0m41 0h0m24-6h0m7-4h0m1 12h0m16-11h0m7 5h0m1 20h0m-3-4h0m-2-4h0m-33-3h0m-1 8h0m-6-8h0m-26 5h0m-1 2h0m-26-3h0m-6 9h0m22 10h0m16 3h0m20-9h0m9 2h0m35 7h0m1 12h0m-21-7h0m-3-1h0m-24 4h0m-5-4h0m-14 8h0m-7 1h0m-28 3h0m1 3h0m2 6h0m7-4h0m5 0h0m11 3h0m26-3h0m0-1h0m36-2h0m15 14h0m-1 8h0m-16 6h0m-9-2h0m-14-5h0m-7 6h0m-10-3h0m-14-7h0m-10 26h0m33-7h0m7-5h0m18 5h0m8 23h0m-27-5h0m-4-7h0m-10-2h0m-5 13h0m-9-12h0m-18-1h0m19 15h0m20 11h0m3-9h0m24 4h0m2-4h0m-19 21h0m-15-2h0m-8-3h0m5 22h0m2-1h0m33-9h0m-4 20h0m0-2h0m-34 16h0m27 4h0m4 16h0m-15 9h0m-11 80h0m12 14h0m-4 30h0" stroke="#111" stroke-width="0.55" opacity="0.4" vector-effect="non-scaling-stroke" stroke-linecap="round" fill="none"/>
<text transform="translate(560.8,162.3) rotate(-45)" font-size="9.0" text-anchor="end" fill="#3a3a3a">Bystander</text>
<text x="526.2" y="11.3" font-size="9.6" text-anchor="middle" fill="#333" font-weight="normal" textLength="131.5" lengthAdjust="spacingAndGlyphs" >Vaccine-induced gene module</text>
<text transform="translate(453.1,83.2) rotate(-90)" font-size="8.9" text-anchor="middle" fill="#3a3a3a" textLength="65" lengthAdjust="spacingAndGlyphs">Expression level</text>
<line x1="600.5" y1="15.4" x2="600.5" y2="151.4" stroke="#c4c4c4" stroke-width="0.9"/>
<line x1="600.5" y1="151.4" x2="685" y2="151.4" stroke="#c4c4c4" stroke-width="0.9"/>
<line x1="597.9" y1="144.8" x2="600.5" y2="144.8" stroke="#a0a0a0" stroke-width="0.7"/>
<text x="594.5" y="147.4" font-size="7.6" text-anchor="end" fill="#3a3a3a" font-weight="normal" >0</text>
<line x1="597.9" y1="116.8" x2="600.5" y2="116.8" stroke="#a0a0a0" stroke-width="0.7"/>
<text x="594.5" y="119.4" font-size="7.6" text-anchor="end" fill="#3a3a3a" font-weight="normal" >0.5</text>
<line x1="597.9" y1="88.8" x2="600.5" y2="88.8" stroke="#a0a0a0" stroke-width="0.7"/>
<text x="594.5" y="91.4" font-size="7.6" text-anchor="end" fill="#3a3a3a" font-weight="normal" >1.0</text>
<line x1="597.9" y1="60.8" x2="600.5" y2="60.8" stroke="#a0a0a0" stroke-width="0.7"/>
<text x="594.5" y="63.4" font-size="7.6" text-anchor="end" fill="#3a3a3a" font-weight="normal" >1.5</text>
<line x1="597.9" y1="32.8" x2="600.5" y2="32.8" stroke="#a0a0a0" stroke-width="0.7"/>
<text x="594.5" y="35.4" font-size="7.6" text-anchor="end" fill="#3a3a3a" font-weight="normal" >2.0</text>
<line x1="608.7" y1="151.4" x2="608.7" y2="155.0" stroke="#a0a0a0" stroke-width="0.7"/>
<path d="M609.1 144.8L609.2 144.0L609.3 143.1L609.5 142.3L609.6 141.4L609.7 140.6L609.9 139.7L610.1 138.9L610.3 138.0L610.5 137.2L610.7 136.3L611.0 135.5L611.2 134.6L611.4 133.8L611.7 132.9L611.9 132.1L612.1 131.2L612.4 130.4L612.6 129.6L612.8 128.7L613.0 127.9L613.2 127.0L613.3 126.2L613.5 125.3L613.6 124.5L613.8 123.6L613.9 122.8L614.0 121.9L614.2 121.1L614.3 120.2L614.4 119.4L614.5 118.5L614.6 117.7L614.7 116.8L614.7 116.0L614.7 115.2L614.6 114.3L614.5 113.5L614.4 112.6L614.3 111.8L614.2 110.9L614.2 110.1L614.1 109.2L614.0 108.4L613.9 107.5L613.7 106.7L613.6 105.8L613.5 105.0L613.4 104.1L613.2 103.3L613.0 102.4L612.9 101.6L612.7 100.8L612.6 99.9L612.4 99.1L612.2 98.2L612.1 97.4L611.9 96.5L611.8 95.7L611.6 94.8L611.5 94.0L611.3 93.1L611.2 92.3L611.1 91.4L611.0 90.6L610.8 89.7L610.7 88.9L610.6 88.0L610.5 87.2L610.4 86.4L610.3 85.5L610.2 84.7L610.1 83.8L610.0 83.0L609.9 82.1L609.9 81.3L609.8 80.4L609.8 79.6L609.7 78.7L609.7 77.9L609.6 77.0L609.6 76.2L609.6 75.3L609.5 74.5L609.5 73.6L609.4 72.8L609.4 72.0L609.4 71.1L609.3 70.3L609.3 69.4L609.2 68.6L609.2 67.7L609.2 66.9L609.2 66.0L609.1 65.2L609.1 64.3L609.1 63.5L609.1 62.6L609.1 61.8L609.1 60.9L609.0 60.1L609.0 59.2L609.0 58.4L609.0 57.6L609.0 56.7L609.0 55.9L609.0 55.0L609.0 54.2L609.0 53.3L609.0 52.5L609.0 51.6L609.0 50.8L609.0 49.9L609.0 49.1L609.0 48.2L609.0 47.4L609.0 46.5L609.0 45.7L609.0 44.8L609.0 44.0L608.4 44.0L608.4 44.8L608.4 45.7L608.4 46.5L608.4 47.4L608.4 48.2L608.4 49.1L608.4 49.9L608.4 50.8L608.4 51.6L608.4 52.5L608.4 53.3L608.4 54.2L608.4 55.0L608.4 55.9L608.4 56.7L608.4 57.6L608.4 58.4L608.4 59.2L608.4 60.1L608.3 60.9L608.3 61.8L608.3 62.6L608.3 63.5L608.3 64.3L608.3 65.2L608.2 66.0L608.2 66.9L608.2 67.7L608.2 68.6L608.1 69.4L608.1 70.3L608.0 71.1L608.0 72.0L608.0 72.8L607.9 73.6L607.9 74.5L607.8 75.3L607.8 76.2L607.8 77.0L607.7 77.9L607.7 78.7L607.6 79.6L607.6 80.4L607.5 81.3L607.5 82.1L607.4 83.0L607.3 83.8L607.2 84.7L607.1 85.5L607.0 86.4L606.9 87.2L606.8 88.0L606.7 88.9L606.6 89.7L606.4 90.6L606.3 91.4L606.2 92.3L606.1 93.1L605.9 94.0L605.8 94.8L605.6 95.7L605.5 96.5L605.3 97.4L605.2 98.2L605.0 99.1L604.8 99.9L604.7 100.8L604.5 101.6L604.4 102.4L604.2 103.3L604.0 104.1L603.9 105.0L603.8 105.8L603.7 106.7L603.5 107.5L603.4 108.4L603.3 109.2L603.2 110.1L603.2 110.9L603.1 111.8L603.0 112.6L602.9 113.5L602.8 114.3L602.7 115.2L602.7 116.0L602.7 116.8L602.8 117.7L602.9 118.5L603.0 119.4L603.1 120.2L603.2 121.1L603.4 121.9L603.5 122.8L603.6 123.6L603.8 124.5L603.9 125.3L604.1 126.2L604.2 127.0L604.4 127.9L604.6 128.7L604.8 129.6L605.0 130.4L605.3 131.2L605.5 132.1L605.7 132.9L606.0 133.8L606.2 134.6L606.4 135.5L606.7 136.3L606.9 137.2L607.1 138.0L607.3 138.9L607.5 139.7L607.7 140.6L607.8 141.4L607.9 142.3L608.1 143.1L608.2 144.0L608.3 144.8Z" fill="#e0615a" stroke="#3a3a3a" stroke-width="0.35" stroke-opacity="0.6"/>
<path transform="scale(.1)" d="M6059 448h0m-24-2h0m-5 1h0m17 17h0m103 14h0m-83-4h0m-41 10h0m11 26h0m93 45h0m-14 5h0m-46-5h0m11 20h0m-20 25h0m16 9h0m72-9h0m-32 26h0m-83 2h0m58 30h0m-14 9h0m24-6h0m27 17h0m-30 8h0m-23-1h0m-22 19h0m75-1h0m-4 10h0m-52 25h0m-10 22h0m-4 11h0m-38 15h0m51 0h0m39-5h0m8 4h0m10 9h0m-7 11h0m-1-5h0m-13-1h0m-4-2h0m-39 11h0m-6-5h0m0-3h0m-13 22h0m18-4h0m77 19h0m-1 0h0m-1-9h0m-74 25h0m52 1h0m7-2h0m-84 6h0m-1 15h0m6 11h0m90-6h0m1 1h0m5 2h0m-11 18h0m-11-4h0m-10-3h0m-52 4h0m-2-10h0m-16 12h0m-1-13h0m-10 26h0m12-4h0m16-7h0m85 0h0m-94 15h0m-20 2h0m-1 2h0m17 17h0m104-3h0m2 11h0m-12 2h0m-101 0h0m-4 8h0m-4-8h0m-3 5h0m-3 18h0m108 3h0m0-9h0m9 0h0m1 19h0m-5 1h0m0 0h0m-87 3h0m-4-10h0m-6 1h0m-15 0h0m3 22h0m4-4h0m14 9h0m82-5h0m10-1h0m0 5h0m1-11h0m16 9h0m-5 16h0m-15-12h0m-1 12h0m-3-5h0m-1-5h0m-82 3h0m-11-3h0m-6 12h0m-1 14h0m103-4h0m8 3h0m11 14h0m-15 3h0m-95-7h0m-1 6h0m-8-3h0m-10 1h0m9 7h0m0 3h0m4-4h0m107 5h0m12 13h0m-1 3h0m-6 1h0m-112 4h0m-1-6h0m-3 2h0m116 10h0m3-4h0m1 29h0m-3-12h0m-118 11h0m-8-2h0m1 16h0m0-5h0m6 1h0m119 36h0m3-8h0m-123 16h0m125 21h0m1 10h0m-2 6h0m-1-6h0m-123 9h0m114 22h0m-119-6h0m10 17h0m109 22h0m-107-9h0m-2 5h0m-5 5h0m-2-10h0m11 23h0m3-6h0m94 6h0m11-9h0m1 1h0m0 8h0m5-6h0m-110 20h0m-6 3h0m-8 0h0m15 8h0m6-5h0m96-1h0m1 9h0m-7 17h0m-14 3h0m-76-6h0m-12 2h0m-14 12h0m3 5h0m11 0h0m12 0h0m5 1h0m85-5h0m11 19h0m-5 0h0m-111-12h0m13 17h0m73 2h0m9-4h0m18 11h0m-121 8h0m2 23h0m14-3h0m107-3h0m6 9h0m-112 1h0m33 27h0m74 10h0m-27-7h0m-9 0h0m-56 7h0m-18 3h0" stroke="#555" stroke-width="0.6" opacity="0.5" vector-effect="non-scaling-stroke" stroke-linecap="round" fill="none"/>
<path transform="scale(.1)" d="M6091 790h0m-8 11h0m-4 16h0m1 0h0m2-6h0m-8 31h0m16 29h0m6 13h0m4 33h0m-7-1h0m-28 8h0m16 6h0m6 6h0m14 3h0m13-2h0m-14 19h0m-1-10h0m-3 2h0m-29 8h0m-3 5h0m5 13h0m29-3h0m7 3h0m4-11h0m0 0h0m6 21h0m-7 5h0m-1-1h0m-1-9h0m-28 2h0m-3 4h0m0 3h0m-2-11h0m-2 7h0m-13 0h0m-5-3h0m8 11h0m23-1h0m11 10h0m6-10h0m4 10h0m5-2h0m2-8h0m3 10h0m-15 7h0m-22 7h0m-2-8h0m-7-1h0m-14 3h0m-7 9h0m3 9h0m11-5h0m8-1h0m10-1h0m10 0h0m13 1h0m21 9h0m1 3h0m-16 11h0m-4 2h0m-9-6h0m-31 4h0m-1-3h0m-19 3h0m-1 3h0m-5 11h0m11-6h0m1 3h0m0-5h0m15 5h0m6-1h0m3 3h0m17 1h0m3 6h0m7-14h0m2 4h0m5-4h0m20 7h0m5-4h0m2 9h0m-8 16h0m-9-3h0m-6 4h0m-10-1h0m-7-3h0m-10 0h0m-6-1h0m-1 2h0m-1-5h0m-6 3h0m-4-9h0m-12 11h0m-17-3h0m-4 13h0m2 7h0m0-1h0m1-5h0m8 1h0m3 2h0m15-6h0m13-2h0m3 9h0m3-10h0m1 13h0m32 0h0m18 3h0m-8 4h0m-4-5h0m-13 10h0m-7 3h0m-4-11h0m-11 11h0m-6-6h0m-1-1h0m0-5h0m-5 4h0m-3 1h0m-2-3h0m-20 8h0m-16-11h0m6 18h0m3-3h0m3 3h0m8 3h0m13 7h0m7 0h0m2-9h0m27-2h0m7 11h0m7-2h0m3-11h0m1 6h0m0 5h0m1 0h0m8-1h0m11-5h0m-1 18h0m0 1h0m-4 3h0m-1 1h0m-1-14h0m-5 2h0m-2-2h0m-16 8h0m-15-2h0m-23 6h0m-6-11h0m-10 6h0m-19-4h0m-4-1h0m23 16h0m2 5h0m10-7h0m6 2h0m8 6h0m10 3h0m1-12h0m4 7h0m9 5h0m2-12h0m24 10h0m7 2h0m7 15h0m-2-5h0m-16-6h0m-8 9h0m-7-3h0m-11 0h0m-4 5h0m-43-9h0m-10 9h0m-2-10h0m-4 4h0m-8 9h0m1 13h0m1-13h0m5 5h0m2 4h0m3 2h0m14-2h0m4-8h0m0 12h0m1-1h0m2-7h0m7 0h0m44 6h0m3 0h0m6-8h0m5 2h0m8 1h0m0-3h0m1 15h0m-14 10h0m0-13h0m-3 1h0m-21 11h0m-9-4h0m-3 0h0m-12-1h0m-2 7h0m-4-3h0m-18-4h0m-10 1h0m25 19h0m9 1h0m1-1h0m3-2h0m4-9h0m3 4h0m13-2h0m13 10h0m2-9h0m10 7h0m6-1h0m6-6h0m1 1h0m-7 10h0m-1 7h0m-1 1h0m-11-1h0m-7 6h0m-12-6h0m-6-2h0m-4 2h0m-1 1h0m-6 1h0m-1-7h0m-12 11h0m-21-13h0m-10 11h0m-3 0h0m5 9h0m17 6h0m11-2h0m5-2h0m9-1h0m6-4h0m17 3h0m0 1h0m5-1h0m2 1h0m22-4h0m0 5h0m-15 16h0m-18-3h0m-11 0h0m-4 7h0m0-12h0m-47 5h0m1 11h0m8 9h0m6 1h0m19-6h0m1 4h0m9-9h0m8 6h0m33-4h0m-11 24h0m-29-9h0m-4 9h0m-14 3h0m-1-1h0m0-10h0m-7 2h0m-3-4h0m-5 14h0m5 10h0m13-1h0m8-5h0m31 6h0m-11 10h0m-13-4h0m-5 13h0m-14-12h0m-3 5h0m1 18h0m8-1h0m9-9h0m25 5h0m3 12h0m-15 1h0m-10 0h0m-1-1h0m-13 1h0m5 17h0m29 4h0m-6 8h0m-14 1h0m-7 11h0" stroke="#111" stroke-width="0.55" opacity="0.4" vector-effect="non-scaling-stroke" stroke-linecap="round" fill="none"/>
<path transform="scale(.1)" d="M6021 1448h0m15 0h0m18 0h0m4 0h0m7 0h0m4 0h0m2 0h0m12 0h0m10 0h0m16 0h0m7 0h0m8 0h0m4 0h0m0 0h0m2 0h0m2 0h0m9 0h0m11 0h0" stroke="#555" stroke-width="0.6" opacity="0.5" vector-effect="non-scaling-stroke" stroke-linecap="round" fill="none"/>
<text transform="translate(615.3,162.3) rotate(-45)" font-size="9.0" text-anchor="end" fill="#3a3a3a">CD8 T<tspan font-size="5.4" dy="1">CM</tspan></text>
<line x1="622.4" y1="151.4" x2="622.4" y2="155.0" stroke="#a0a0a0" stroke-width="0.7"/>
<path d="M622.7 144.8L622.7 143.8L622.7 142.7L622.8 141.7L622.9 140.7L622.9 139.6L623.0 138.6L623.1 137.6L623.1 136.5L623.2 135.5L623.3 134.4L623.4 133.4L623.5 132.4L623.6 131.3L623.7 130.3L623.8 129.3L623.9 128.2L624.0 127.2L624.2 126.2L624.3 125.1L624.4 124.1L624.5 123.1L624.6 122.0L624.7 121.0L624.8 120.0L625.0 118.9L625.1 117.9L625.2 116.8L625.4 115.8L625.5 114.8L625.6 113.7L625.8 112.7L625.9 111.7L626.1 110.6L626.3 109.6L626.4 108.6L626.6 107.5L626.7 106.5L626.9 105.5L627.0 104.4L627.2 103.4L627.3 102.4L627.4 101.3L627.5 100.3L627.6 99.2L627.7 98.2L627.8 97.2L627.9 96.1L627.9 95.1L628.0 94.1L628.1 93.0L628.1 92.0L628.2 91.0L628.2 89.9L628.3 88.9L628.3 87.9L628.4 86.8L628.4 85.8L628.5 84.8L628.5 83.7L628.5 82.7L628.5 81.6L628.4 80.6L628.4 79.6L628.3 78.5L628.3 77.5L628.2 76.5L628.2 75.4L628.1 74.4L628.1 73.4L628.0 72.3L627.9 71.3L627.9 70.3L627.8 69.2L627.7 68.2L627.6 67.2L627.5 66.1L627.4 65.1L627.3 64.0L627.2 63.0L627.0 62.0L626.9 60.9L626.7 59.9L626.6 58.9L626.4 57.8L626.3 56.8L626.1 55.8L625.9 54.7L625.8 53.7L625.6 52.7L625.5 51.6L625.3 50.6L625.2 49.6L625.1 48.5L624.9 47.5L624.8 46.4L624.6 45.4L624.5 44.4L624.4 43.3L624.2 42.3L624.1 41.3L623.9 40.2L623.8 39.2L623.7 38.2L623.6 37.1L623.5 36.1L623.4 35.1L623.3 34.0L623.2 33.0L623.1 32.0L623.1 30.9L623.0 29.9L622.9 28.8L622.9 27.8L622.8 26.8L622.8 25.7L622.7 24.7L622.7 23.7L622.7 22.6L622.7 21.6L622.1 21.6L622.1 22.6L622.1 23.7L622.1 24.7L622.0 25.7L622.0 26.8L621.9 27.8L621.9 28.8L621.8 29.9L621.7 30.9L621.7 32.0L621.6 33.0L621.5 34.0L621.4 35.1L621.3 36.1L621.2 37.1L621.1 38.2L621.0 39.2L620.9 40.2L620.7 41.3L620.6 42.3L620.4 43.3L620.3 44.4L620.2 45.4L620.0 46.4L619.9 47.5L619.7 48.5L619.6 49.6L619.5 50.6L619.3 51.6L619.2 52.7L619.0 53.7L618.9 54.7L618.7 55.8L618.5 56.8L618.4 57.8L618.2 58.9L618.1 59.9L617.9 60.9L617.8 62.0L617.6 63.0L617.5 64.0L617.4 65.1L617.3 66.1L617.2 67.2L617.1 68.2L617.0 69.2L616.9 70.3L616.9 71.3L616.8 72.3L616.7 73.4L616.7 74.4L616.6 75.4L616.6 76.5L616.5 77.5L616.5 78.5L616.4 79.6L616.4 80.6L616.3 81.6L616.3 82.7L616.3 83.7L616.3 84.8L616.4 85.8L616.4 86.8L616.5 87.9L616.5 88.9L616.6 89.9L616.6 91.0L616.7 92.0L616.7 93.0L616.8 94.1L616.9 95.1L616.9 96.1L617.0 97.2L617.1 98.2L617.2 99.2L617.3 100.3L617.4 101.3L617.5 102.4L617.6 103.4L617.8 104.4L617.9 105.5L618.1 106.5L618.2 107.5L618.4 108.6L618.5 109.6L618.7 110.6L618.9 111.7L619.0 112.7L619.2 113.7L619.3 114.8L619.4 115.8L619.6 116.8L619.7 117.9L619.8 118.9L620.0 120.0L620.1 121.0L620.2 122.0L620.3 123.1L620.4 124.1L620.5 125.1L620.6 126.2L620.8 127.2L620.9 128.2L621.0 129.3L621.1 130.3L621.2 131.3L621.3 132.4L621.4 133.4L621.5 134.4L621.6 135.5L621.7 136.5L621.7 137.6L621.8 138.6L621.9 139.6L621.9 140.7L622.0 141.7L622.1 142.7L622.1 143.8L622.1 144.8Z" fill="#a8952a" stroke="#3a3a3a" stroke-width="0.35" stroke-opacity="0.6"/>
<path transform="scale(.1)" d="M6205 231h0m-39 34h0m34 29h0m33 13h0m54-4h0m-124 36h0m126-1h0m-11 17h0m-25-5h0m-60-3h0m-14 2h0m-2 13h0m22 8h0m-13 10h0m-9 12h0m75 0h0m0 2h0m14-4h0m-23 22h0m-48 11h0m6 3h0m71-3h0m-14 25h0m-59-8h0m-33 21h0m17-1h0m11-9h0m5 10h0m64-7h0m6-2h0m3-2h0m3 18h0m-95 10h0m0-1h0m-2-7h0m-3-4h0m-3 11h0m-10-1h0m-2-9h0m0 13h0m7 2h0m111 13h0m-1 11h0m-8-4h0m-110 22h0m2-14h0m12 10h0m111-9h0m4 16h0m-4 12h0m-13-13h0m0 11h0m-9-3h0m-71-4h0m-6 2h0m-19 1h0m-2 20h0m7-8h0m2-3h0m0 6h0m92 6h0m2-11h0m14 10h0m1-7h0m3 7h0m-5 6h0m-1 1h0m-13 8h0m-100-7h0m13 10h0m3 9h0m94 0h0m6-2h0m-6 9h0m-6 8h0m-89 1h0m-6 0h0m-14-11h0m2 15h0m13 2h0m106 15h0m-118 2h0m4 18h0m113 1h0m7-1h0m1-5h0m-1 16h0m-120-1h0m-4-1h0m125 38h0m0 2h0m-1 3h0m-121-13h0m-5 20h0m117-1h0m6 10h0m-2 23h0m4-2h0m-4 18h0m-124 19h0m128 58h0m3-5h0m-2 16h0m-128 2h0m0 3h0m3 4h0m125 3h0m2 8h0m-130 50h0m125 23h0m-120 3h0m120 4h0m4 11h0m-124 14h0m-7-12h0m5 17h0m115 19h0m-118 2h0m9 12h0m111 0h0m7 16h0m-2-4h0m-113 10h0m-4-1h0m-10-8h0m8 21h0m2-9h0m104 25h0m-102-8h0m-10 10h0m17 8h0m100-2h0m9-1h0m-4 23h0m-110-2h0m-2-6h0m-6-1h0m-4 14h0m23 7h0m87-7h0m10 6h0m-3 12h0m-101 6h0m-1-5h0m-10 1h0m96 23h0m7-12h0m5 0h0m8 22h0m-3-2h0m-4 4h0m-7-8h0m-104 20h0m15 4h0m3-2h0m83-6h0m8 5h0m6 1h0m4-5h0m-10 14h0m-18 2h0m-94 2h0m4 10h0m5 0h0m14 2h0m12 8h0m67 2h0m14 0h0m4 6h0m-21 0h0m-70 6h0m-28 1h0m8 13h0m6-2h0m101-2h0m-17 11h0m-5 8h0m-59-5h0m-22 7h0m-2-2h0m-10-8h0m92 21h0m31 20h0m-19-10h0m-62 3h0m-4 2h0m-4 17h0m68 4h0m2 2h0m-22 2h0m-52 5h0m-22-8h0m88 22h0m17 17h0m-33 1h0m-52-7h0m11 25h0m83 16h0m-15-1h0m-70 13h0m15-9h0m32 12h0m32-4h0m-42 6h0m-47 22h0m3-5h0m5 6h0m-8 18h0m-24 16h0m-4 23h0" stroke="#555" stroke-width="0.6" opacity="0.5" vector-effect="non-scaling-stroke" stroke-linecap="round" fill="none"/>
<path transform="scale(.1)" d="M6223 254h0m-3 58h0m8 10h0m-1 16h0m2 2h0m-9 52h0m2 40h0m22 9h0m-37 2h0m-3 16h0m38 2h0m-2 14h0m-37-6h0m-1-2h0m-4 19h0m8 6h0m2-6h0m1-6h0m5 3h0m5 0h0m5 0h0m10 2h0m7-2h0m9 4h0m-5 14h0m-32-3h0m-19 20h0m19 5h0m20 14h0m0-5h0m-8 3h0m-12-6h0m-19 6h0m6 10h0m24 7h0m6 1h0m28 16h0m-2-7h0m-17-6h0m-29 4h0m-17 7h0m-3 9h0m6 1h0m7-4h0m14 11h0m28 0h0m3-10h0m7-4h0m8 22h0m-27-2h0m-7-2h0m-9 0h0m-3-3h0m0 10h0m-3-6h0m-8 2h0m-8 13h0m14 3h0m46 6h0m8-9h0m0 5h0m0 15h0m-52-9h0m-8 0h0m-8 1h0m-20 9h0m4 18h0m42-1h0m12 1h0m4-5h0m1 5h0m19-4h0m3-4h0m7-5h0m-7 19h0m-6 10h0m-2-9h0m0-2h0m-1 8h0m-4 0h0m-19-7h0m-3 8h0m-9-2h0m-12-5h0m-4 3h0m-3 2h0m-5-4h0m-2-5h0m-14 3h0m-4 7h0m-3 16h0m11-1h0m34 1h0m3-2h0m5 0h0m0-3h0m9 3h0m3 0h0m11-1h0m3-9h0m14 3h0m-5 15h0m0 8h0m-33-7h0m-9 0h0m-2-3h0m-7 9h0m-36 2h0m-3 14h0m13 2h0m7-6h0m9 5h0m7 1h0m2 0h0m13-13h0m0 0h0m18 7h0m4-5h0m4 12h0m6-4h0m3-10h0m22 20h0m-12 3h0m-4-3h0m-9-1h0m-3-3h0m-15 11h0m-9-3h0m-3-9h0m-5 8h0m-1-5h0m-11 4h0m-23-1h0m-6-1h0m-3 0h0m-5 17h0m27 1h0m9 6h0m0-2h0m17-6h0m8 1h0m24 1h0m3 0h0m4 5h0m19 13h0m-7-7h0m-1 3h0m-9 0h0m-6-5h0m-3-2h0m-1 7h0m0-2h0m-7 1h0m-5 6h0m-5-4h0m-17 5h0m-11-5h0m-9 4h0m-15-4h0m-5-6h0m-1 5h0m-7-6h0m11 28h0m0-8h0m1-4h0m12 9h0m1-7h0m20 4h0m3-4h0m6 5h0m2-4h0m2-1h0m3 9h0m2-3h0m6-5h0m4 7h0m38 12h0m-1-6h0m-1 4h0m-41-5h0m-4 8h0m-8-3h0m-3-2h0m-4 5h0m-8-1h0m-1-1h0m-1 0h0m-1 2h0m-2-9h0m-31 4h0m-3 2h0m-2-5h0m-6 16h0m7 3h0m2 2h0m1-8h0m14 3h0m0 8h0m1-1h0m4-3h0m18 2h0m6-2h0m2 2h0m11 0h0m20 5h0m8-3h0m22 11h0m-11-2h0m-13-5h0m-5 12h0m-1-5h0m-21 4h0m-1-1h0m-2 0h0m-12-10h0m-8 7h0m-2 6h0m-8-1h0m-4-11h0m-26 13h0m-3-12h0m-1 24h0m1-4h0m1 1h0m26-1h0m16-3h0m0 6h0m5 4h0m1-2h0m3-5h0m6 1h0m6-1h0m10-4h0m25-1h0m9 8h0m5-9h0m4 24h0m-14 0h0m-3-2h0m-14 0h0m-7-8h0m-1 5h0m-12 7h0m-5-8h0m-20 3h0m-21-3h0m-13-1h0m-6 8h0m-1 11h0m9 7h0m17-7h0m4 2h0m3-2h0m12-3h0m6 4h0m10-1h0m20 2h0m2-3h0m17-1h0m13-4h0m5 4h0m1 20h0m-1-10h0m-3 13h0m-1 1h0m-15-2h0m-7 2h0m-9-10h0m-10 0h0m-2-3h0m-3 13h0m-12-8h0m-36-5h0m-6 9h0m-8-4h0m19 21h0m1-9h0m20 6h0m6 0h0m6-8h0m8 12h0m6-12h0m14 2h0m5 1h0m0-1h0m19 5h0m5 0h0m0-3h0m0 13h0m-17-2h0m-33 2h0m-8 7h0m-3 1h0m-4-6h0m-4-3h0m-1 12h0m-3-14h0m-18 8h0m0 3h0m-3-10h0m-2 7h0m-15-1h0m-2 9h0m2 7h0m2-3h0m9 1h0m19 5h0m3 1h0m29-2h0m1-8h0m16 11h0m17-9h0m1 5h0m5 1h0m0 4h0m4-7h0m7 12h0m-19-2h0m-4-1h0m-10 12h0m-4-3h0m-18-1h0m-6-3h0m-1 0h0m-4 3h0m-12-6h0m-29 5h0m0 19h0m12-8h0m25 3h0m0 2h0m4-2h0m35 2h0m15-9h0m10 1h0m-6 20h0m-3-3h0m-11-1h0m-55 10h0m-1-8h0m-6-1h0m-11-3h0m-3 18h0m1 5h0m13-3h0m12 3h0m27-5h0m8 9h0m7-7h0m4 4h0m7 3h0m8 0h0m11 5h0m-1 0h0m-12 8h0m-8-9h0m-4 9h0m-34-7h0m-8 3h0m-4-5h0m-23 25h0m2-1h0m23-6h0m11 5h0m18 1h0m5 2h0m21-9h0m3-3h0m-22 25h0m-1-5h0m-1 4h0m-8 0h0m-1 3h0m-15-9h0m-5 4h0m-2-1h0m-2-2h0m-3-3h0m-25 6h0m-3-3h0m-1-3h0m13 21h0m12-5h0m3 2h0m1-2h0m4 3h0m27 8h0m1 1h0m11-6h0m14 12h0m-21 6h0m0-4h0m-1-7h0m-14 12h0m-15-10h0m-9-1h0m-18 14h0m9 10h0m17 2h0m5-2h0m8-5h0m24 5h0m0 2h0m14-6h0m4-6h0m-5 15h0m-7 0h0m-5 0h0m-2 2h0m-6 10h0m-17-3h0m-19 4h0m0 0h0m-6-6h0m-1-2h0m-10 1h0m-1-3h0m4 14h0m28 1h0m17 1h0m11-1h0m2 3h0m12 8h0m-4 8h0m-18-4h0m-18 5h0m-31-3h0m-1 11h0m2 0h0m7 1h0m8 2h0m5-1h0m12 0h0m6 6h0m13 0h0m3 1h0m4-7h0m3-3h0m0 5h0m-11 22h0m-21-8h0m-20-4h0m2 18h0m9 8h0m34-10h0m-12 17h0m-3 3h0m-1-2h0m-4 6h0m-1-2h0m-1-1h0m-26-7h0m48 41h0m-27 8h0m4-2h0m10 7h0m9 0h0m0-4h0m0 14h0m-28 6h0m-2 4h0m20 15h0m-3 24h0m11 0h0m-8 16h0m-6 38h0m-5 42h0m9 13h0m0 24h0m-7 3h0" stroke="#111" stroke-width="0.55" opacity="0.4" vector-effect="non-scaling-stroke" stroke-linecap="round" fill="none"/>
<path transform="scale(.1)" d="M6168 1448h0m4 0h0m0 0h0m19 0h0m6 0h0m8 0h0m5 0h0m3 0h0m4 0h0m1 0h0m2 0h0m3 0h0m11 0h0m4 0h0m1 0h0m1 0h0m1 0h0m6 0h0m7 0h0m5 0h0m5 0h0m1 0h0m2 0h0m10 0h0m2 0h0" stroke="#555" stroke-width="0.6" opacity="0.5" vector-effect="non-scaling-stroke" stroke-linecap="round" fill="none"/>
<text transform="translate(629.0,162.3) rotate(-45)" font-size="9.0" text-anchor="end" fill="#3a3a3a">CD8 T<tspan font-size="5.4" dy="1">EM</tspan></text>
<line x1="635.7" y1="151.4" x2="635.7" y2="155.0" stroke="#a0a0a0" stroke-width="0.7"/>
<path d="M637.4 144.8L637.3 143.9L637.2 143.1L637.1 142.2L637.2 141.3L637.3 140.5L637.5 139.6L637.8 138.7L638.1 137.9L638.4 137.0L638.8 136.1L639.1 135.3L639.4 134.4L639.7 133.5L640.0 132.7L640.2 131.8L640.4 130.9L640.6 130.1L640.8 129.2L640.9 128.3L641.1 127.5L641.2 126.6L641.3 125.8L641.3 124.9L641.4 124.0L641.4 123.2L641.4 122.3L641.4 121.4L641.4 120.6L641.3 119.7L641.3 118.8L641.2 118.0L641.1 117.1L641.0 116.2L640.9 115.4L640.8 114.5L640.7 113.6L640.6 112.8L640.4 111.9L640.3 111.0L640.1 110.2L640.0 109.3L639.8 108.4L639.6 107.6L639.4 106.7L639.3 105.8L639.1 105.0L638.9 104.1L638.7 103.2L638.6 102.4L638.4 101.5L638.2 100.6L638.1 99.8L637.9 98.9L637.8 98.0L637.6 97.2L637.5 96.3L637.3 95.4L637.2 94.6L637.1 93.7L637.0 92.8L636.9 92.0L636.8 91.1L636.7 90.2L636.6 89.4L636.5 88.5L636.5 87.7L636.4 86.8L636.4 85.9L636.3 85.1L636.3 84.2L636.3 83.3L636.3 82.5L636.2 81.6L636.2 80.7L636.2 79.9L636.2 79.0L636.1 78.1L636.1 77.3L636.1 76.4L636.1 75.5L636.0 74.7L636.0 73.8L636.0 72.9L636.0 72.1L636.0 71.2L636.0 70.3L636.0 69.5L636.0 68.6L636.0 67.7L636.0 66.9L636.0 66.0L636.0 65.1L636.0 64.3L636.0 63.4L636.0 62.5L636.0 61.7L636.0 60.8L636.0 59.9L636.0 59.1L636.0 58.2L636.0 57.3L636.0 56.5L636.0 55.6L636.0 54.7L636.0 53.9L636.0 53.0L636.0 52.2L636.0 51.3L636.0 50.4L636.0 49.6L636.0 48.7L636.0 47.8L636.0 47.0L636.0 46.1L636.0 45.2L636.0 44.4L636.0 43.5L636.0 42.6L636.0 41.8L635.4 41.8L635.4 42.6L635.4 43.5L635.4 44.4L635.4 45.2L635.4 46.1L635.4 47.0L635.4 47.8L635.4 48.7L635.4 49.6L635.4 50.4L635.4 51.3L635.4 52.2L635.4 53.0L635.4 53.9L635.4 54.7L635.4 55.6L635.4 56.5L635.4 57.3L635.4 58.2L635.4 59.1L635.4 59.9L635.4 60.8L635.4 61.7L635.4 62.5L635.4 63.4L635.4 64.3L635.4 65.1L635.4 66.0L635.4 66.9L635.4 67.7L635.4 68.6L635.4 69.5L635.4 70.3L635.4 71.2L635.4 72.1L635.4 72.9L635.4 73.8L635.4 74.7L635.3 75.5L635.3 76.4L635.3 77.3L635.3 78.1L635.2 79.0L635.2 79.9L635.2 80.7L635.2 81.6L635.1 82.5L635.1 83.3L635.1 84.2L635.1 85.1L635.0 85.9L635.0 86.8L634.9 87.7L634.9 88.5L634.8 89.4L634.7 90.2L634.6 91.1L634.5 92.0L634.4 92.8L634.3 93.7L634.2 94.6L634.1 95.4L633.9 96.3L633.8 97.2L633.6 98.0L633.5 98.9L633.3 99.8L633.2 100.6L633.0 101.5L632.8 102.4L632.7 103.2L632.5 104.1L632.3 105.0L632.1 105.8L632.0 106.7L631.8 107.6L631.6 108.4L631.4 109.3L631.3 110.2L631.1 111.0L631.0 111.9L630.8 112.8L630.7 113.6L630.6 114.5L630.5 115.4L630.4 116.2L630.3 117.1L630.2 118.0L630.1 118.8L630.1 119.7L630.0 120.6L630.0 121.4L630.0 122.3L630.0 123.2L630.0 124.0L630.1 124.9L630.1 125.8L630.2 126.6L630.3 127.5L630.5 128.3L630.6 129.2L630.8 130.1L631.0 130.9L631.2 131.8L631.4 132.7L631.7 133.5L632.0 134.4L632.3 135.3L632.6 136.1L633.0 137.0L633.3 137.9L633.6 138.7L633.9 139.6L634.1 140.5L634.2 141.3L634.3 142.2L634.2 143.1L634.1 143.9L634.0 144.8Z" fill="#14993f" stroke="#3a3a3a" stroke-width="0.35" stroke-opacity="0.6"/>
<path transform="scale(.1)" d="M6419 414h0m-47-1h0m-61 9h0m55 8h0m21-4h0m32 15h0m-102-4h0m-17 9h0m67 4h0m28 11h0m8-5h0m7-2h0m8 18h0m-11-7h0m-58 6h0m-54 16h0m98 1h0m4 7h0m-75 0h0m-13 20h0m66-5h0m30 3h0m14 6h0m-1 6h0m-82 3h0m-10 6h0m-31-1h0m27 7h0m101 6h0m-27 20h0m-9-3h0m-90-6h0m49 18h0m41 23h0m-67-3h0m-28-5h0m42 20h0m64-2h0m16-2h0m-69 15h0m-35 3h0m8 7h0m16 9h0m30-10h0m-63 16h0m52 26h0m55 15h0m-68-11h0m-46 27h0m33-13h0m65 22h0m-65-4h0m-1-3h0m7 29h0m27-1h0m9-7h0m13-4h0m-79 23h0m72 15h0m30 6h0m-54 2h0m-11 7h0m-40-10h0m3 21h0m2 2h0m13 2h0m29-3h0m65-3h0m4 4h0m5 1h0m-2 10h0m-81 10h0m-24-8h0m-14 1h0m20 9h0m55 5h0m8 6h0m18 4h0m-18 9h0m-20-9h0m-43 7h0m73 21h0m0-2h0m-54 8h0m-5 7h0m-14-9h0m-8 16h0m5-4h0m15 4h0m12 5h0m23-6h0m26 8h0m13-8h0m-15 18h0m-68 7h0m1 11h0m22 5h0m60-13h0m15 2h0m0 13h0m-1 1h0m-93 2h0m-7-3h0m-5 8h0m-14-6h0m-2-2h0m-6 14h0m30 10h0m5 0h0m50-9h0m21 3h0m1-3h0m11 22h0m-6-3h0m-18 3h0m-5-4h0m0-4h0m0 14h0m-68-6h0m-4 6h0m-9 9h0m12 6h0m8-6h0m3-8h0m10 4h0m2 9h0m43 1h0m8-7h0m17-5h0m3 11h0m1-2h0m15 18h0m-3-2h0m-11-7h0m-14 3h0m-4-5h0m-2-2h0m-4 0h0m-60 7h0m-29-5h0m0 18h0m8 4h0m2 1h0m1-7h0m0-4h0m9 10h0m2 4h0m6-10h0m3-3h0m0 12h0m1-4h0m0-3h0m4-1h0m50-4h0m5 0h0m1 0h0m34 18h0m-9 9h0m-1-9h0m-3-2h0m-6 11h0m-4 0h0m-4-8h0m-2 3h0m-5 1h0m-61 0h0m-10-9h0m-15 3h0m-6 8h0m-3 10h0m10 1h0m12-1h0m4 7h0m0-6h0m4-5h0m4 4h0m61-4h0m4 3h0m1 3h0m9-8h0m2 7h0m5-5h0m7 11h0m5-7h0m-24 23h0m-1-9h0m-1 8h0m0-13h0m-2 5h0m-70-1h0m-3 5h0m-2-6h0m-1 5h0m-17-1h0m-3 7h0m-6 6h0m5 5h0m0 2h0m1-6h0m3 1h0m7-1h0m8 3h0m4-5h0m0 9h0m77-2h0m7 2h0m16-6h0m2 9h0m-3 4h0m-6 5h0m0-4h0m-2-6h0m-1 2h0m-10 4h0m-1 6h0m0-12h0m-96 3h0m-9 11h0m-2-12h0m4 24h0m0-11h0m4 1h0m4 0h0m0 1h0m7 10h0m106-1h0m1-10h0m1 12h0m2-4h0m0-7h0m-7 26h0m-2-9h0m-3 0h0m-3 1h0m-1-1h0m-3-2h0m-88 3h0m-3 4h0m-5-8h0m-2 0h0m-6 7h0m-6 3h0m7 11h0m6-3h0m102 3h0m11 4h0m5 12h0m-3-6h0m-7 1h0m-1 8h0m0-1h0m-1-2h0m-3-7h0m0 9h0m-103-7h0m0 9h0m-2-4h0m-3-4h0m-7 17h0m2-3h0m6-3h0m4 4h0m106 4h0m7-8h0m1 14h0m3-2h0m0-4h0m1 4h0m0 3h0m-1 14h0m-2-8h0m-1 8h0m-6-1h0m-2-10h0m-109 11h0m-1 0h0m-5-9h0m-4 14h0m1 9h0m2-1h0m118-12h0m0 2h0m7 6h0m1 4h0m-4 9h0m-115-6h0m-4 3h0m0 9h0m0-2h0m-4-6h0m-1 15h0m2 0h0m3-1h0m1 1h0m116 4h0m8-1h0m1 4h0m-1 6h0m-123 7h0m0-1h0m-4 19h0m4-4h0m1-4h0m118-4h0m3 19h0m-1 9h0m-121-8h0m-4 5h0m-4-6h0m2 18h0m1-4h0m2-2h0m117 6h0m6 3h0m1-3h0m1 5h0m1 1h0m0 14h0m0 1h0m-4 0h0m-5-1h0m-2-12h0m-1 12h0m-107-6h0m-2-3h0m-1 10h0m-2 0h0m-5 0h0m-1-12h0m-1 17h0m16 5h0m101-8h0m4 1h0m1 5h0m0 3h0m6-1h0m2-2h0m1-3h0m-1 16h0m-3 7h0m-3-6h0m-2 5h0m0-6h0m-3 9h0m-3-12h0m0 2h0m-104 6h0m-2-6h0m-2-1h0m-1-1h0m0 7h0m-1-5h0m-6 2h0m0 11h0m4 7h0m2-4h0m6-3h0m9 2h0m89 9h0m8 1h0m1-4h0m5 4h0m0-12h0m2 13h0m0-10h0m3 11h0m-3 10h0m-4-8h0m-6 7h0m-1 5h0m-1-11h0m-87 7h0m0-5h0m0 5h0m-3 3h0m-2 0h0m0-13h0m-3 14h0m-5-4h0m0-4h0m-8 23h0m12-10h0m5 9h0m8-6h0m2 4h0m69-5h0m13 1h0m4 0h0m4 6h0m1-1h0m0 13h0m-4-1h0m-2-9h0m0 13h0m-6-13h0m-5 12h0m-7-3h0m-4 4h0m-1 1h0m-61-10h0m-6 9h0m-3-8h0m-7-5h0m-8 11h0m-7 17h0m17 1h0m8-2h0m84 2h0m5-12h0m5 3h0m9 5h0m-4 6h0m-78 12h0m0 0h0m-2-6h0m-5 3h0m-35 17h0m4-7h0m19 6h0m14 3h0m3-6h0m51-3h0m5 7h0m9-11h0m5 12h0m3-6h0m10-4h0m0 0h0m1 25h0m-25 1h0m-66-13h0m-3 11h0m-2-10h0m-25 2h0m-8 12h0m10 13h0m3-5h0m23-1h0m52-1h0m5-3h0m3-2h0m1 2h0m6-1h0m1 6h0m8 5h0m4 0h0m7-8h0" stroke="#555" stroke-width="0.6" opacity="0.5" vector-effect="non-scaling-stroke" stroke-linecap="round" fill="none"/>
<path transform="scale(.1)" d="M6359 418h0m-2 231h0m2 109h0m-3 57h0m-1 47h0m-5 8h0m-4 54h0m23 30h0m-11-5h0m-7-1h0m9 16h0m2 8h0m3-1h0m6 8h0m-7 6h0m-13 4h0m-10-10h0m-4 0h0m3 16h0m3 8h0m11-1h0m2 2h0m5-1h0m13 0h0m8 15h0m-8-13h0m-2 0h0m-3 4h0m-1 9h0m-11-6h0m-4-5h0m-3 12h0m-5-6h0m-4 2h0m-9 5h0m6 4h0m3 2h0m5 0h0m4 7h0m3-10h0m1 3h0m1-1h0m3-5h0m3 3h0m0 0h0m14 8h0m0-4h0m3-2h0m6 1h0m-7 13h0m-4 2h0m-1 8h0m-5-8h0m-1-1h0m-7 6h0m-1-8h0m-1 6h0m-34 18h0m2-10h0m8 9h0m6-4h0m1-7h0m7 1h0m2 4h0m22-3h0m6 12h0m2-2h0m1-11h0m9 12h0m-5 15h0m-2 0h0m-6-12h0m-8 10h0m-11-3h0m-5-2h0m-10-2h0m-2-1h0m-1-2h0m-17 15h0m2 5h0m1 2h0m1 4h0m6-3h0m6-6h0m4 9h0m12-10h0m3 4h0m1 4h0m6-1h0m3-4h0m1-3h0m2 6h0m2 2h0m2-10h0m5 13h0m3-2h0m0-9h0m6 5h0m6-1h0m4 23h0m-3-13h0m-2 5h0m-3 6h0m-1-4h0m0-8h0m0 13h0m-10-9h0m-3-4h0m0 1h0m-2 13h0m-3-13h0m-1 11h0m-8-1h0m-3-9h0m-3 1h0m-16 5h0m-15 3h0m-7-1h0m0 0h0m-6 8h0m5 2h0m1 6h0m2-2h0m0-5h0m1 3h0m2-4h0m0-2h0m0 5h0m5 3h0m5-4h0m6 3h0m2-2h0m4-2h0m2 10h0m1-12h0m5 8h0m1-1h0m9 2h0m5-8h0m4 8h0m0-6h0m5 4h0m4-7h0m0 7h0m8-1h0m14 2h0m0 16h0m-6 3h0m-1-9h0m-5 1h0m-6 4h0m-5 2h0m-7-9h0m0 5h0m-1 5h0m-2-5h0m-5-8h0m-2 1h0m-8-1h0m0 0h0m-1 9h0m-2-4h0m0 2h0m-2-6h0m-2 5h0m-8 3h0m-8-5h0m-1 0h0m-8-1h0m-4-1h0m-2 8h0m-7-3h0m0 10h0m15 10h0m0 0h0m4 2h0m10-13h0m6 6h0m1 6h0m1-6h0m1 0h0m4-4h0m1 8h0m14-3h0m8-4h0m0 6h0m0 4h0m4 0h0m3-9h0m9 6h0m1-6h0m7-4h0m3 10h0m8 12h0m0 2h0m-2-10h0m-2 7h0m-9 1h0m-1-2h0m-1 0h0m-2 8h0m-4-9h0m-2 6h0m0 2h0m-1 0h0m-7-9h0m-1 3h0m-4-2h0m-2 5h0m-4 3h0m-2-9h0m-7 5h0m-8 1h0m-1-7h0m-6 0h0m-2-2h0m0 11h0m-3-4h0m0-7h0m-3 4h0m-3-4h0m-4 4h0m0-1h0m-2-2h0m-12 6h0m-2 3h0m-5-2h0m-4 14h0m1 4h0m1-8h0m2 8h0m0-6h0m5-3h0m1 9h0m1-12h0m0 14h0m3-13h0m1 9h0m0 1h0m14-1h0m5 0h0m7 4h0m2-9h0m6 2h0m0 4h0m6 2h0m10 1h0m0 0h0m1 0h0m0 0h0m1-1h0m4-13h0m1 1h0m1 9h0m0-3h0m2-5h0m0 7h0m1-6h0m1 11h0m1-4h0m0-4h0m1-4h0m0 2h0m6 3h0m1-1h0m2 6h0m9-8h0m1-1h0m2 2h0m8 17h0m0-4h0m-1 8h0m-4 1h0m-1-5h0m-3-4h0m-1 8h0m-10-3h0m-4-1h0m-4 3h0m-2 0h0m-1 4h0m-6-4h0m-4-10h0m-10 14h0m-3-12h0m0 3h0m-2 2h0m-1 1h0m-4-7h0m-1-1h0m-4 3h0m-8 9h0m0 2h0m-4-5h0m0-9h0m0 13h0m-7-11h0m-10 11h0m-6-3h0m-1-8h0m-4 1h0m-1 8h0m-2 2h0m-1 13h0m1-4h0m1 4h0m1 2h0m0 1h0m1-1h0m2-9h0m10 8h0m7-6h0m1 3h0m0 3h0m10-1h0m0-8h0m6-2h0m1 7h0m2-6h0m2 12h0m0-12h0m2 2h0m11 5h0m1-8h0m0-1h0m0 4h0m1-1h0m5 0h0m3 7h0m4 3h0m2-5h0m1 5h0m2-5h0m3-1h0m2 2h0m2-4h0m2 1h0m5-4h0m3 8h0m0-2h0m6 1h0m0-5h0m4 2h0m2 5h0m0-1h0m2-5h0m3 4h0m-2 7h0m-1 8h0m0-6h0m-2-3h0m-3 2h0m-1 11h0m-2-3h0m-2-10h0m-1 8h0m-1-3h0m0-5h0m-6 6h0m0 7h0m-1-12h0m-2 7h0m-5-8h0m-6 13h0m-1-9h0m-2 1h0m-2 7h0m-6-8h0m-1-2h0m-1-2h0m0 10h0m-1 1h0m-3-4h0m-2 7h0m0-2h0m-2-12h0m-15 8h0m-3-8h0m-1 11h0m-9 2h0m-5-8h0m-2 2h0m-2-4h0m-8-1h0m-8 4h0m-2 6h0m0 3h0m4 8h0m11 1h0m2 2h0m3-8h0m9 8h0m3-4h0m2 0h0m4-6h0m2 2h0m7 2h0m2 2h0m3-4h0m0 7h0m2-4h0m4-6h0m0 0h0m1 12h0m13-3h0m1-7h0m1 2h0m3 4h0m1 6h0m0-7h0m2-5h0m2 6h0m7-8h0m10 14h0m3 0h0m2-9h0m3 9h0m2-5h0m2-1h0m-9 9h0m-4 9h0m-2-10h0m-2 9h0m-12-8h0m-2-1h0m-1-1h0m-14 2h0m-5 5h0m-7-2h0m-3 1h0m-3-5h0m0 5h0m-11-1h0m-4-3h0m-3 8h0m-8-7h0m-10 7h0m-2 2h0m-2-2h0m-2-5h0m0 3h0m0 5h0m-3-7h0m-3 3h0m6 16h0m8-5h0m1 3h0m12-3h0m5 0h0m2-2h0m2 7h0m2-6h0m3 6h0m4 3h0m7-11h0m5 1h0m4 9h0m2-3h0m2 5h0m12-4h0m11-7h0m8 7h0m2-6h0m0 5h0m3-7h0m2 12h0m3-7h0m2-3h0m-2 15h0m-2 3h0m0-3h0m-4 10h0m-1-7h0m0 3h0m-10-5h0m-3-4h0m-1 1h0m-1 0h0m-1-1h0m-2 7h0m-1-4h0m-1 4h0m0 2h0m-3 2h0m-10 1h0m-5-6h0m-12 1h0m-1-5h0m0 5h0m-4 2h0m-1-10h0m-2 0h0m-2 4h0m-3 8h0m0-6h0m-9-3h0m0 6h0m-1 0h0m-2 0h0m-9-8h0m-1 5h0m-1 2h0m-3-4h0m-1-3h0m-3 9h0m0-5h0m1 12h0m3 7h0m3 1h0m24-1h0m6 2h0m2-9h0m1 8h0m2 1h0m5-1h0m1-4h0m6 7h0m5-13h0m3 8h0m1 0h0m13 1h0m0-7h0m5 2h0m10 9h0m6-12h0m-2 25h0m-2-8h0m-2 7h0m-1-2h0m-1 1h0m-2 3h0m-1-1h0m-24 3h0m-3-3h0m-4-8h0m-3 0h0m0 3h0m-2 6h0m-1-3h0m-2-2h0m-2-4h0m-3 7h0m-2-2h0m-12-8h0m-1 9h0m-3 1h0m-2-2h0m0 4h0m-6 2h0m-2-10h0m-3 6h0m-4-8h0m0 5h0m0-3h0m-2 1h0m6 16h0m0-2h0m2 7h0m2 2h0m2-1h0m1-11h0m3 5h0m0 7h0m3-13h0m8 1h0m9 1h0m1 2h0m2-2h0m1 10h0m5-4h0m0 0h0m2 5h0m7-12h0m6 9h0m15-7h0m5-1h0m1 7h0m3-6h0m-15 23h0m-2-6h0m-2-2h0m-4-1h0m-4 12h0m0-11h0m-4 1h0m-1 2h0m-1 4h0m-2 3h0m-3-13h0m-12 13h0m-2-7h0m-1 5h0m-14-3h0m-1 1h0m-2 3h0m-1-6h0m-2-2h0m3 23h0m6-8h0m3-2h0m1 12h0m1-9h0m7 2h0m2 2h0m5-8h0m14 7h0m0 0h0m2 6h0m14-1h0m4-5h0m-20 12h0m-16 4h0m-2 5h0m-1-9h0m-2-3h0m-6 3h0m-3-3h0m-3 3h0m8 19h0m16 1h0m4-6h0m13 8h0m-24 9h0m-3 13h0m8-3h0m3 12h0m5 4h0m-4 11h0m-14-2h0m0 11h0m21 1h0m2 5h0m5 0h0" stroke="#111" stroke-width="0.55" opacity="0.4" vector-effect="non-scaling-stroke" stroke-linecap="round" fill="none"/>
<path transform="scale(.1)" d="M6295 1448h0m1 0h0m12 0h0m4 0h0m2 0h0m3 0h0m4 0h0m1 0h0m1 0h0m2 0h0m5 0h0m0 0h0m1 0h0m5 0h0m3 0h0m9 0h0m0 0h0m8 0h0m6 0h0m2 0h0m3 0h0m1 0h0m2 0h0m1 0h0m0 0h0m0 0h0m2 0h0m1 0h0m11 0h0m2 0h0m3 0h0m4 0h0m2 0h0m1 0h0m10 0h0m4 0h0m1 0h0m1 0h0m4 0h0m5 0h0" stroke="#555" stroke-width="0.6" opacity="0.5" vector-effect="non-scaling-stroke" stroke-linecap="round" fill="none"/>
<text transform="translate(642.3,162.3) rotate(-45)" font-size="9.0" text-anchor="end" fill="#3a3a3a">CD8 naive</text>
<line x1="649.3" y1="151.4" x2="649.3" y2="155.0" stroke="#a0a0a0" stroke-width="0.7"/>
<path d="M650.4 144.8L650.4 143.8L650.4 142.8L650.4 141.8L650.5 140.8L650.7 139.7L650.9 138.7L651.3 137.7L651.7 136.7L652.1 135.7L652.5 134.7L652.9 133.7L653.2 132.7L653.5 131.6L653.7 130.6L653.9 129.6L654.1 128.6L654.3 127.6L654.5 126.6L654.6 125.6L654.7 124.6L654.8 123.6L654.9 122.5L655.0 121.5L655.0 120.5L655.0 119.5L655.0 118.5L655.0 117.5L655.0 116.5L654.9 115.5L654.8 114.4L654.7 113.4L654.6 112.4L654.5 111.4L654.3 110.4L654.2 109.4L654.0 108.4L653.8 107.4L653.6 106.4L653.5 105.3L653.2 104.3L653.0 103.3L652.8 102.3L652.6 101.3L652.4 100.3L652.1 99.3L651.9 98.3L651.7 97.2L651.5 96.2L651.3 95.2L651.1 94.2L650.9 93.2L650.8 92.2L650.6 91.2L650.5 90.2L650.4 89.2L650.3 88.1L650.2 87.1L650.2 86.1L650.1 85.1L650.0 84.1L650.0 83.1L649.9 82.1L649.9 81.1L649.8 80.0L649.8 79.0L649.7 78.0L649.7 77.0L649.7 76.0L649.7 75.0L649.7 74.0L649.7 73.0L649.6 72.0L649.6 70.9L649.6 69.9L649.6 68.9L649.6 67.9L649.6 66.9L649.6 65.9L649.6 64.9L649.6 63.9L649.6 62.8L649.6 61.8L649.6 60.8L649.6 59.8L649.6 58.8L649.6 57.8L649.6 56.8L649.6 55.8L649.6 54.8L649.6 53.7L649.6 52.7L649.6 51.7L649.6 50.7L649.6 49.7L649.6 48.7L649.6 47.7L649.6 46.7L649.6 45.6L649.6 44.6L649.6 43.6L649.6 42.6L649.6 41.6L649.6 40.6L649.6 39.6L649.6 38.6L649.6 37.6L649.6 36.5L649.6 35.5L649.6 34.5L649.6 33.5L649.6 32.5L649.6 31.5L649.6 30.5L649.6 29.5L649.6 28.4L649.6 27.4L649.6 26.4L649.6 25.4L649.6 24.4L649.0 24.4L649.0 25.4L649.0 26.4L649.0 27.4L649.0 28.4L649.0 29.5L649.0 30.5L649.0 31.5L649.0 32.5L649.0 33.5L649.0 34.5L649.0 35.5L649.0 36.5L649.0 37.6L649.0 38.6L649.0 39.6L649.0 40.6L649.0 41.6L649.0 42.6L649.0 43.6L649.0 44.6L649.0 45.6L649.0 46.7L649.0 47.7L649.0 48.7L649.0 49.7L649.0 50.7L649.0 51.7L649.0 52.7L649.0 53.7L649.0 54.8L649.0 55.8L649.0 56.8L649.0 57.8L649.0 58.8L649.0 59.8L649.0 60.8L649.0 61.8L649.0 62.8L649.0 63.9L649.0 64.9L649.0 65.9L649.0 66.9L649.0 67.9L649.0 68.9L649.0 69.9L649.0 70.9L649.0 72.0L648.9 73.0L648.9 74.0L648.9 75.0L648.9 76.0L648.9 77.0L648.9 78.0L648.8 79.0L648.8 80.0L648.7 81.1L648.7 82.1L648.6 83.1L648.6 84.1L648.5 85.1L648.4 86.1L648.4 87.1L648.3 88.1L648.2 89.2L648.1 90.2L648.0 91.2L647.8 92.2L647.7 93.2L647.5 94.2L647.3 95.2L647.1 96.2L646.9 97.2L646.7 98.3L646.5 99.3L646.2 100.3L646.0 101.3L645.8 102.3L645.6 103.3L645.4 104.3L645.1 105.3L645.0 106.4L644.8 107.4L644.6 108.4L644.4 109.4L644.3 110.4L644.1 111.4L644.0 112.4L643.9 113.4L643.8 114.4L643.7 115.5L643.6 116.5L643.6 117.5L643.6 118.5L643.6 119.5L643.6 120.5L643.6 121.5L643.7 122.5L643.8 123.6L643.9 124.6L644.0 125.6L644.1 126.6L644.3 127.6L644.5 128.6L644.7 129.6L644.9 130.6L645.1 131.6L645.4 132.7L645.7 133.7L646.1 134.7L646.5 135.7L646.9 136.7L647.3 137.7L647.7 138.7L647.9 139.7L648.1 140.8L648.2 141.8L648.2 142.8L648.2 143.8L648.2 144.8Z" fill="#16a9ad" stroke="#3a3a3a" stroke-width="0.35" stroke-opacity="0.6"/>
<path transform="scale(.1)" d="M6529 250h0m12 22h0m-29 35h0m22 20h0m-31-7h0m-73 5h0m76 16h0m-40 4h0m19 17h0m37 4h0m-6 23h0m-76 0h0m98 4h0m-100 38h0m33-7h0m4-1h0m45 38h0m9-1h0m-90 49h0m-11-9h0m51 18h0m-25 60h0m3 9h0m-19 3h0m18 33h0m78 29h0m-21 5h0m-55-11h0m-23 15h0m19 20h0m102 27h0m-101 16h0m1 6h0m64-6h0m10-2h0m0 18h0m-1 20h0m-12 7h0m-33 4h0m21 21h0m45 1h0m-77 10h0m34 15h0m41 5h0m-6 2h0m-42 3h0m-60 15h0m115-3h0m-50 22h0m-48-5h0m-11 20h0m18 2h0m5 0h0m41 4h0m38-7h0m-23 19h0m-71-4h0m-18 0h0m1 14h0m30 4h0m55-4h0m4 6h0m6-6h0m-84 13h0m7 17h0m10-3h0m49 8h0m32 18h0m-7-6h0m-3-6h0m-13 12h0m-50-7h0m-3 3h0m-13 2h0m-11-7h0m-12 1h0m8 12h0m20-1h0m6 0h0m0 12h0m1-9h0m53 9h0m31 12h0m-2 3h0m-7-12h0m-11 8h0m-67-4h0m-30-4h0m-5 27h0m1-10h0m13 0h0m2 2h0m3 0h0m1-2h0m87-1h0m9 9h0m2-10h0m-11 28h0m-89-14h0m-1 7h0m-13 4h0m5 16h0m8 0h0m4 2h0m100-11h0m7 9h0m-112 6h0m-5 9h0m-4-1h0m-1 0h0m0-10h0m-8 0h0m-1 10h0m4 7h0m5 4h0m109 3h0m8 7h0m-5-2h0m-3 0h0m-2 12h0m-5-9h0m-94 1h0m-1 7h0m1 10h0m98 0h0m3 3h0m10 3h0m1-2h0m-3 6h0m-115 4h0m-1 8h0m-4-5h0m-6 12h0m122 3h0m0-4h0m3 8h0m5-12h0m0 24h0m-8 2h0m-115-2h0m-6-4h0m7 21h0m118 6h0m-124 9h0m-1 10h0m126 2h0m3-6h0m-4 15h0m-121 6h0m-4 10h0m3 3h0m4 2h0m122-5h0m-3 15h0m-122 5h0m-1 20h0m3-5h0m4 13h0m-7-3h0m0 8h0m-3-6h0m-1 13h0m2 1h0m4 6h0m7 1h0m104-5h0m2 13h0m-1 6h0m-117 18h0m14-12h0m107 23h0m-1-6h0m-9 6h0m0-4h0m-94 1h0m-1 7h0m-4-9h0m2 23h0m89-1h0m7-2h0m14 11h0m-1-2h0m-1-1h0m-9 2h0m-11 5h0m-73 0h0m-23 3h0m-2 0h0m7 3h0m4 8h0m1-4h0m11 2h0m78 4h0m3-10h0m2 1h0m0 12h0m-2 6h0m-7 2h0m-60 1h0m-26-4h0m6 17h0m16 0h0m62 9h0m12 9h0m-2-3h0m-18 6h0m-13 3h0m0-2h0m-28 1h0m-24-13h0m-16 13h0m-3-2h0m-7-2h0m-1 12h0m14 5h0m1-4h0m8 2h0m76-7h0m6 13h0m-1 1h0m-14 10h0m-11 0h0m-28-7h0m-27 6h0m-2-5h0m-18 0h0m20 14h0m102 2h0" stroke="#555" stroke-width="0.6" opacity="0.5" vector-effect="non-scaling-stroke" stroke-linecap="round" fill="none"/>
<path transform="scale(.1)" d="M6491 455h0m-2 329h0m-9 126h0m9 31h0m7 2h0m5-4h0m-13 7h0m-16 13h0m-1 6h0m2-1h0m4-2h0m3 12h0m2-8h0m4 5h0m5 3h0m9-4h0m16-1h0m-5 19h0m0-4h0m-5-3h0m-2 8h0m-24-13h0m11 16h0m6 10h0m5-6h0m17-4h0m-9 14h0m-9 8h0m-7 3h0m-6-8h0m-12-4h0m-9 29h0m18-2h0m11-10h0m12 12h0m2 0h0m18 13h0m-8-10h0m-10 11h0m-15-11h0m-14 1h0m-7 11h0m-17-14h0m30 23h0m15 4h0m12-10h0m1 11h0m15-3h0m5 1h0m-13 16h0m-12-9h0m0 10h0m-1-4h0m-2-3h0m-9 8h0m-2-13h0m-2 0h0m-7-1h0m-19 0h0m-5 9h0m-12-4h0m-2 10h0m14 8h0m19 2h0m44-10h0m4 6h0m1-6h0m3 5h0m7 17h0m-1-7h0m-18 1h0m-5 2h0m-4 10h0m-16-6h0m-8 6h0m-8-7h0m0-6h0m-8 11h0m-7-8h0m-3 3h0m-1-1h0m-2-5h0m0 13h0m-11-3h0m-3 11h0m6 8h0m1-6h0m1-6h0m2 10h0m2-10h0m5 6h0m0 6h0m1-2h0m11-1h0m7-6h0m1 6h0m7-11h0m1 2h0m6 8h0m5-6h0m5 8h0m5-6h0m4 3h0m31 13h0m-2 0h0m-17 6h0m-4 0h0m-8 1h0m-18-1h0m-3-11h0m-16 9h0m-1 3h0m-1-5h0m0-4h0m-17 5h0m-11-9h0m-9 6h0m0 15h0m8-5h0m11 1h0m1 8h0m1 2h0m6-11h0m17 0h0m5-1h0m13 12h0m8-6h0m2-2h0m7 7h0m2-7h0m8 2h0m1-5h0m18 20h0m-10 5h0m-7-8h0m-13-4h0m-1 14h0m-1-9h0m-1 8h0m-1 0h0m-1-6h0m0-4h0m-6 3h0m-9 5h0m-3-4h0m-10-2h0m-16-2h0m0 0h0m-11 10h0m-18 0h0m-1-7h0m0 8h0m-1-8h0m5 9h0m13 3h0m7 10h0m6-11h0m10 6h0m11-2h0m2 1h0m7 1h0m30-1h0m19 2h0m-15 17h0m-8 3h0m-2-12h0m-4 3h0m-15-3h0m-1 7h0m0-7h0m-7 5h0m-7 3h0m-5 1h0m-14-7h0m-7 7h0m-15-5h0m-1 3h0m-2 5h0m-2-6h0m-4-2h0m0 13h0m5 10h0m2-8h0m0 5h0m15 1h0m3 0h0m16-10h0m1-2h0m7 11h0m5 3h0m11-5h0m7-2h0m2-4h0m20-3h0m1 10h0m8-6h0m6 4h0m-6 10h0m-1 11h0m-2-8h0m-4 5h0m-13-8h0m-4 1h0m-9-2h0m-10 1h0m-10 11h0m-1-3h0m-6-2h0m-5-3h0m-6 1h0m-6 7h0m-2-11h0m-14 2h0m-1 1h0m-1-3h0m-9 22h0m1-7h0m27 7h0m30-5h0m3 7h0m7-10h0m14 6h0m6-3h0m2-5h0m2 2h0m15 11h0m-2 3h0m-2 7h0m-2-2h0m-1-1h0m-7-1h0m-7 4h0m-2-7h0m-12 9h0m-1-4h0m0 5h0m-4-3h0m-4-2h0m-4 6h0m-6-9h0m-2 1h0m-1 6h0m-2 1h0m0-4h0m-1-2h0m-3 7h0m-1-5h0m-6-4h0m-22 8h0m5 9h0m6 3h0m6-8h0m13 14h0m5-1h0m0 1h0m8-9h0m3-3h0m24 5h0m6 3h0m5-2h0m2-1h0m2 4h0m5-5h0m-3 9h0m-3 2h0m-8 7h0m-3 4h0m0 0h0m-16-2h0m-2-5h0m-2 1h0m-5-4h0m-4 10h0m-3-10h0m-4 6h0m-5-9h0m-6 6h0m0-5h0m-10 11h0m-2-4h0m-4 0h0m-6 2h0m-8 4h0m2 8h0m4 2h0m15 3h0m5-4h0m6 3h0m1 2h0m5-11h0m11 9h0m5 1h0m3-10h0m9 1h0m11 8h0m1-10h0m8 13h0m2-10h0m-13 21h0m-1-5h0m-6 8h0m-1-11h0m-4 2h0m-2-3h0m-15 4h0m0-5h0m-5 0h0m-13 8h0m-4-5h0m-1 5h0m-6-2h0m-2-4h0m-3 4h0m-12-5h0m10 19h0m0 9h0m4-8h0m9 4h0m0-8h0m16-1h0m3 13h0m23-9h0m8 16h0m-15 5h0m-33-6h0m-4 5h0m-3-2h0m3 7h0m35 1h0m10 4h0m-45 11h0m24 86h0" stroke="#111" stroke-width="0.55" opacity="0.4" vector-effect="non-scaling-stroke" stroke-linecap="round" fill="none"/>
<path transform="scale(.1)" d="M6429 1448h0m8 0h0m4 0h0m13 0h0m4 0h0m8 0h0m4 0h0m3 0h0m14 0h0m6 0h0m2 0h0m1 0h0m10 0h0m9 0h0m7 0h0m14 0h0m2 0h0m8 0h0m1 0h0m0 0h0m11 0h0" stroke="#555" stroke-width="0.6" opacity="0.5" vector-effect="non-scaling-stroke" stroke-linecap="round" fill="none"/>
<text transform="translate(655.9,162.3) rotate(-45)" font-size="9.0" text-anchor="end" fill="#3a3a3a">Antigen_prolif</text>
<line x1="662.8" y1="151.4" x2="662.8" y2="155.0" stroke="#a0a0a0" stroke-width="0.7"/>
<path d="M664.4 144.8L664.3 143.8L664.3 142.8L664.3 141.8L664.4 140.8L664.6 139.9L664.9 138.9L665.3 137.9L665.8 136.9L666.2 135.9L666.7 134.9L667.1 133.9L667.4 132.9L667.6 132.0L667.8 131.0L668.0 130.0L668.1 129.0L668.2 128.0L668.3 127.0L668.4 126.0L668.4 125.0L668.4 124.0L668.4 123.1L668.4 122.1L668.4 121.1L668.3 120.1L668.3 119.1L668.2 118.1L668.0 117.1L667.9 116.1L667.8 115.2L667.6 114.2L667.5 113.2L667.3 112.2L667.1 111.2L666.9 110.2L666.7 109.2L666.5 108.2L666.3 107.2L666.1 106.3L665.9 105.3L665.7 104.3L665.5 103.3L665.3 102.3L665.0 101.3L664.8 100.3L664.6 99.3L664.4 98.4L664.2 97.4L664.1 96.4L663.9 95.4L663.8 94.4L663.7 93.4L663.6 92.4L663.5 91.4L663.5 90.4L663.4 89.5L663.4 88.5L663.3 87.5L663.3 86.5L663.3 85.5L663.2 84.5L663.2 83.5L663.2 82.5L663.2 81.6L663.2 80.6L663.2 79.6L663.2 78.6L663.1 77.6L663.1 76.6L663.1 75.6L663.1 74.6L663.1 73.6L663.1 72.7L663.1 71.7L663.1 70.7L663.1 69.7L663.1 68.7L663.1 67.7L663.1 66.7L663.1 65.7L663.1 64.8L663.1 63.8L663.1 62.8L663.1 61.8L663.1 60.8L663.1 59.8L663.1 58.8L663.1 57.8L663.1 56.8L663.1 55.9L663.1 54.9L663.1 53.9L663.1 52.9L663.1 51.9L663.1 50.9L663.1 49.9L663.1 48.9L663.1 48.0L663.1 47.0L663.1 46.0L663.1 45.0L663.1 44.0L663.1 43.0L663.1 42.0L663.1 41.0L663.1 40.0L663.1 39.1L663.1 38.1L663.1 37.1L663.1 36.1L663.1 35.1L663.1 34.1L663.1 33.1L663.1 32.1L663.1 31.2L663.1 30.2L663.1 29.2L663.1 28.2L663.1 27.2L662.5 27.2L662.5 28.2L662.5 29.2L662.5 30.2L662.5 31.2L662.5 32.1L662.5 33.1L662.5 34.1L662.5 35.1L662.5 36.1L662.5 37.1L662.5 38.1L662.5 39.1L662.5 40.0L662.5 41.0L662.5 42.0L662.5 43.0L662.5 44.0L662.5 45.0L662.5 46.0L662.5 47.0L662.5 48.0L662.5 48.9L662.5 49.9L662.5 50.9L662.5 51.9L662.5 52.9L662.5 53.9L662.5 54.9L662.5 55.9L662.5 56.8L662.5 57.8L662.5 58.8L662.5 59.8L662.5 60.8L662.5 61.8L662.5 62.8L662.5 63.8L662.5 64.8L662.5 65.7L662.5 66.7L662.5 67.7L662.5 68.7L662.5 69.7L662.5 70.7L662.5 71.7L662.5 72.7L662.5 73.6L662.5 74.6L662.5 75.6L662.5 76.6L662.5 77.6L662.4 78.6L662.4 79.6L662.4 80.6L662.4 81.6L662.4 82.5L662.4 83.5L662.4 84.5L662.3 85.5L662.3 86.5L662.3 87.5L662.2 88.5L662.2 89.5L662.1 90.4L662.1 91.4L662.0 92.4L661.9 93.4L661.8 94.4L661.7 95.4L661.5 96.4L661.4 97.4L661.2 98.4L661.0 99.3L660.8 100.3L660.6 101.3L660.3 102.3L660.1 103.3L659.9 104.3L659.7 105.3L659.5 106.3L659.3 107.2L659.1 108.2L658.9 109.2L658.7 110.2L658.5 111.2L658.3 112.2L658.1 113.2L658.0 114.2L657.8 115.2L657.7 116.1L657.6 117.1L657.4 118.1L657.3 119.1L657.3 120.1L657.2 121.1L657.2 122.1L657.2 123.1L657.2 124.0L657.2 125.0L657.2 126.0L657.3 127.0L657.4 128.0L657.5 129.0L657.6 130.0L657.8 131.0L658.0 132.0L658.2 132.9L658.5 133.9L658.9 134.9L659.4 135.9L659.8 136.9L660.3 137.9L660.7 138.9L661.0 139.9L661.2 140.8L661.3 141.8L661.3 142.8L661.3 143.8L661.2 144.8Z" fill="#3d6fc0" stroke="#3a3a3a" stroke-width="0.35" stroke-opacity="0.6"/>
<path transform="scale(.1)" d="M6649 261h0m-51 19h0m53 1h0m16-2h0m-30 30h0m30 1h0m7-3h0m9 10h0m-2 9h0m-75 5h0m34 3h0m4 18h0m-23 3h0m-36-9h0m-22 14h0m25 1h0m0 10h0m28 0h0m6 8h0m-32 5h0m-7 12h0m25 8h0m54-11h0m-14 18h0m-61 13h0m52-2h0m13 9h0m24 17h0m-29-5h0m-12 0h0m-21-1h0m-1 5h0m-47-9h0m-1 19h0m23 3h0m12-7h0m89 14h0m-48 16h0m-35 38h0m7 1h0m2-8h0m-52 28h0m24 12h0m24-9h0m26-2h0m32 6h0m-18 13h0m15 8h0m-90 17h0m113 38h0m-12-2h0m-32-4h0m-42 17h0m52 3h0m-39 11h0m-53 9h0m-1-10h0m45 19h0m15-3h0m69 21h0m-15 1h0m-101 5h0m89 6h0m-51 14h0m-33-3h0m56 25h0m36-8h0m20 14h0m-33 2h0m-41 9h0m0 10h0m33 0h0m-47 18h0m-2-13h0m-33 6h0m19 12h0m97 6h0m-38 14h0m-11 4h0m-21-2h0m-9-5h0m-3 4h0m56 18h0m10-2h0m-86 17h0m-20 4h0m15 3h0m20-5h0m88 9h0m-13 19h0m-3-11h0m-8 0h0m-14 9h0m-30-1h0m-8 3h0m-38-2h0m2 4h0m4 13h0m5 0h0m20-11h0m4 3h0m1 8h0m34-5h0m6 0h0m15-1h0m12 4h0m12 2h0m1-8h0m5 5h0m-49 18h0m-57-4h0m-9-9h0m-9 24h0m31-3h0m6 5h0m37-2h0m2 3h0m16 0h0m6 1h0m1-13h0m23 19h0m-8 8h0m-2 0h0m0-11h0m-4 13h0m-11-11h0m-7-3h0m-64 4h0m-27 25h0m49-9h0m21 7h0m10-5h0m8 3h0m3-7h0m7 8h0m8-5h0m15 8h0m5-6h0m-38 14h0m-16-5h0m-69 4h0m5 11h0m4 9h0m16 1h0m16-12h0m42 8h0m11-3h0m3-3h0m5 4h0m11 6h0m7 6h0m-4 4h0m-23 4h0m-62-10h0m-5 2h0m-1-3h0m-10 7h0m-11-5h0m-1 11h0m-8-8h0m20 19h0m4-6h0m3 6h0m55 0h0m2-6h0m5 10h0m29-7h0m4 1h0m3 0h0m-11 17h0m-5 3h0m-3 2h0m-2-8h0m-1-3h0m-2 1h0m-1 3h0m-7-5h0m-6 10h0m0-11h0m-53 1h0m-5 3h0m-4 9h0m-10-11h0m0 6h0m-4-6h0m-13 19h0m1 0h0m14 1h0m79 3h0m8-3h0m2-4h0m1 0h0m2 2h0m12 2h0m3 1h0m0-4h0m1 6h0m6-7h0m-1 13h0m-12 10h0m-2-1h0m-2-9h0m-5 1h0m-4 7h0m-5 1h0m0-3h0m-70-4h0m-1-3h0m-3 10h0m-7 1h0m-2-5h0m-12-1h0m-4 19h0m4-9h0m1 7h0m8-5h0m0 6h0m4 2h0m0-11h0m4 6h0m2 7h0m87-5h0m0-4h0m6 7h0m3 1h0m1 1h0m0-13h0m4 5h0m3 1h0m3 22h0m-6-10h0m-8-2h0m0 12h0m-1 0h0m-4-5h0m-90 6h0m-8-6h0m-6 3h0m-3-9h0m-1 22h0m5-6h0m11-2h0m3 12h0m2-2h0m80-8h0m7 1h0m5 5h0m1-7h0m9-1h0m4-1h0m1 26h0m-4 1h0m-1 1h0m-2-7h0m-6-2h0m-7 4h0m-1 5h0m-1-5h0m-1-4h0m-85 1h0m-2 5h0m-4 0h0m-1 4h0m0-5h0m-10 5h0m-7-12h0m2 15h0m3 7h0m0-5h0m6 6h0m0 1h0m3-5h0m4-1h0m0 5h0m0-5h0m5-5h0m91 12h0m0-6h0m4-5h0m9 10h0m0 2h0m4 4h0m-3 8h0m-7-10h0m-3 11h0m-4-2h0m0 2h0m-101 0h0m-5-8h0m-7-3h0m1 26h0m1 3h0m8-13h0m4 3h0m0 9h0m2-9h0m101 10h0m1-11h0m0 6h0m3-1h0m2 0h0m3 6h0m1-8h0m3 12h0m-4 2h0m-2 8h0m-2-6h0m-1 6h0m-2-10h0m0 5h0m-2 0h0m-105-2h0m-1-2h0m-2-4h0m-1 4h0m-7 10h0m-2 9h0m1-4h0m2 9h0m1-3h0m6-10h0m110 7h0m3 0h0m1-5h0m2 11h0m2-4h0m1 10h0m-5 1h0m0 6h0m-2-2h0m-1-9h0m-114 11h0m-1-6h0m-5 3h0m-1 6h0m5 12h0m118 3h0m1-10h0m1 4h0m3 2h0m0-4h0m2-5h0m1 1h0m-3 23h0m-118-10h0m-6 5h0m0 5h0m0 2h0m-4 14h0m1-10h0m5 8h0m2-6h0m0 2h0m114 9h0m1-8h0m1 3h0m2-2h0m0 1h0m1 0h0m4 5h0m0-7h0m-5 13h0m-1-4h0m0 2h0m-3 8h0m0-4h0m-115 8h0m-1-2h0m-6 9h0m1-1h0m4 1h0m0 0h0m1 0h0m4 7h0m114-7h0m3-4h0m2 5h0m0-2h0m3 18h0m0 5h0m-6 0h0m-2-5h0m-113-4h0m-7-2h0m-4 15h0m1-1h0m0-1h0m0 1h0m6 12h0m1-5h0m4 0h0m110-8h0m10 2h0m-3 16h0m-4 6h0m-1 1h0m-3-2h0m-3-8h0m-102 6h0m0 0h0m-3 6h0m0-3h0m-1-8h0m-6 11h0m-3-1h0m0 5h0m2 13h0m3-14h0m3 5h0m1-1h0m3 5h0m97 2h0m2-4h0m0 7h0m5-13h0m1 3h0m9 8h0m1 1h0m1-5h0m-1 21h0m-1-2h0m-2-1h0m-8-11h0m-9 6h0m0 7h0m-2-4h0m-2 5h0m-85-13h0m-5 12h0m0-13h0m-7 12h0m-3-2h0m-4 1h0m-1-10h0m2 21h0m7 0h0m10-6h0m1 10h0m2-1h0m0 4h0m2-11h0m2-1h0m83 10h0m14-5h0m6-7h0m1 16h0m-2 6h0m-3-7h0m-9 8h0m-2 3h0m-12-7h0m0 8h0m-80-2h0m0-7h0m-1-1h0m-3 7h0m-5-8h0m-10 12h0m0 11h0m2-8h0m2 11h0m22 2h0m15 0h0m42-6h0m5-8h0m7 14h0m10-10h0m1 9h0m19-7h0m1 4h0m-28 15h0m-2 2h0m-6-7h0m0 6h0m-53-7h0m-4-1h0m-6 11h0m-2-11h0m-12-2h0m-4 0h0m76 17h0m4 0h0m4 2h0m0 9h0m33-14h0m-10 23h0m-2 2h0m-18-2h0m-6-3h0m-5 4h0m-43-2h0m-14-3h0m-2 0h0m-3 3h0m-9 7h0m-5-9h0m-8 21h0m7-3h0m0 2h0m16-2h0m16-5h0m52-3h0m3 2h0m0 1h0m1-2h0m9 9h0m17 7h0" stroke="#555" stroke-width="0.6" opacity="0.5" vector-effect="non-scaling-stroke" stroke-linecap="round" fill="none"/>
<path transform="scale(.1)" d="M6629 283h0m-3 87h0m3 4h0m-2 129h0m3 107h0m-4 74h0m-1 87h0m0 42h0m0 69h0m-2 17h0m1 15h0m1 11h0m7 27h0m-5 0h0m-1-7h0m-9 27h0m12 0h0m0 12h0m-1 5h0m-5-10h0m0-2h0m2 25h0m6 2h0m3-11h0m5-1h0m8 12h0m-31 10h0m-3 0h0m-3 4h0m4 16h0m0 0h0m7-2h0m7-7h0m12-3h0m6 12h0m2-10h0m6 24h0m-3-13h0m-8 12h0m-12-4h0m-3 0h0m-30 7h0m10 2h0m19 2h0m2 7h0m4-4h0m2 5h0m8-5h0m2 4h0m11-11h0m0 5h0m5 17h0m-1 0h0m-8 4h0m-4-2h0m-8-5h0m-3 1h0m-3 2h0m-15 0h0m-2 3h0m-2 3h0m0-10h0m-8-3h0m-12 7h0m-1 2h0m0 9h0m5 4h0m3-3h0m1-2h0m0-2h0m9 10h0m2-7h0m3 8h0m7-7h0m2 3h0m1-2h0m4-1h0m1 3h0m1 5h0m3 1h0m3-13h0m3 14h0m0-5h0m1-8h0m3 9h0m6 3h0m11-11h0m2-1h0m2 9h0m1 11h0m0-3h0m-6 5h0m-1 6h0m-3-2h0m-7 1h0m-4-11h0m0 6h0m-1-4h0m-1 2h0m0 8h0m-1-12h0m0 4h0m-3-4h0m-5 5h0m-2-1h0m0-4h0m-2 9h0m0 0h0m-1 2h0m-5-11h0m-2 11h0m-3-13h0m-3 9h0m-1-4h0m-11 9h0m0-8h0m-1-2h0m-2 10h0m-3-14h0m-3 11h0m0-4h0m-1-7h0m0 3h0m-6 8h0m-3-7h0m3 18h0m1 6h0m6-2h0m3-5h0m4-5h0m1 1h0m4 10h0m1-3h0m2-1h0m2 4h0m18 0h0m2-9h0m2 0h0m3 0h0m4 10h0m5-10h0m1 3h0m2-6h0m2 3h0m0 8h0m3-9h0m0 10h0m3-6h0m3-5h0m1 8h0m9 20h0m-12-8h0m-12-1h0m-12 0h0m-3 5h0m-3 2h0m-1-10h0m-3-2h0m-2 13h0m-2-10h0m-2 5h0m-1-3h0m-2 7h0m-2-2h0m0 0h0m-1-10h0m-1 0h0m-5 10h0m-2-4h0m-5 7h0m-2-2h0m-6-11h0m-5 3h0m-1 6h0m-4 4h0m-2 5h0m6 0h0m10-3h0m2 8h0m5-7h0m7-1h0m0 12h0m19 0h0m8-2h0m2-9h0m0 10h0m3-7h0m4 1h0m5 5h0m16 3h0m1-3h0m1-9h0m4 7h0m-4 8h0m-10 2h0m-5 9h0m-3 0h0m-1-8h0m-1 8h0m-1-12h0m-3 11h0m-2-5h0m0-2h0m-1 0h0m-5 2h0m-2 4h0m-2-8h0m-3 7h0m-2-4h0m-1 4h0m-2-3h0m-5 4h0m-3-1h0m-1-7h0m0 2h0m-2-2h0m-1 1h0m-4 4h0m-1-1h0m-1 8h0m-6-10h0m-5 5h0m-1 3h0m-2 2h0m-3-12h0m-1 6h0m-3 0h0m-2-7h0m-3 1h0m0-1h0m-1 4h0m-2-5h0m-1 4h0m-3 22h0m2 2h0m0-13h0m1 8h0m3-3h0m4-3h0m1-1h0m1 0h0m0 3h0m3 4h0m3 2h0m14-2h0m2-4h0m1-1h0m3 2h0m1-4h0m1 9h0m1-1h0m1 0h0m1 0h0m7-9h0m0 9h0m2-7h0m6 0h0m3 0h0m1 3h0m2 5h0m0 1h0m1-1h0m9-4h0m0-4h0m0-2h0m2 5h0m1 8h0m7-6h0m5 1h0m6 3h0m1 0h0m3-8h0m4 3h0m5 21h0m-4-11h0m-7 9h0m-4-1h0m-1-4h0m-1 1h0m-2 8h0m0-13h0m-1 8h0m0-7h0m-2 11h0m0-8h0m-3-4h0m0 5h0m-1 2h0m-4-4h0m-8 6h0m-5 2h0m-5-8h0m-3-4h0m-1 7h0m-2 0h0m-5-6h0m-5 0h0m-6 13h0m-1-13h0m-4 13h0m-5-11h0m-3 8h0m-6 1h0m-10-2h0m0-1h0m-4-7h0m-4 5h0m1 13h0m1 5h0m0-6h0m10 3h0m1 5h0m0-10h0m7-1h0m1 4h0m8 9h0m7-2h0m1-1h0m0-2h0m2 3h0m5-11h0m0 3h0m3-2h0m5 8h0m5-9h0m1 13h0m3-5h0m1-3h0m3 8h0m14-8h0m1-1h0m1 7h0m7-1h0m3-8h0m0 4h0m2-1h0m3 5h0m1-11h0m3 14h0m2-14h0m0 2h0m4 3h0m0 19h0m-1 5h0m-2-4h0m-2-9h0m0 9h0m-2 4h0m-1-1h0m-2-8h0m-4-4h0m-1 4h0m-4 9h0m-1-6h0m-2-2h0m-1 6h0m-1-5h0m-7-7h0m0 8h0m-1 2h0m-1 0h0m-2 0h0m-7-7h0m-5 9h0m-2 0h0m-1 2h0m-6-3h0m-6-1h0m-12-7h0m-2 6h0m-4-8h0m0 9h0m-7 4h0m-9-3h0m0 1h0m-4-7h0m-2 6h0m-4-6h0m0 0h0m-2 8h0m-1-10h0m-1 22h0m1-3h0m0-7h0m8 0h0m2 8h0m9 6h0m0-14h0m2 1h0m1 7h0m2 2h0m4-5h0m4 4h0m3-5h0m1 10h0m6-4h0m7-2h0m2-5h0m4-3h0m5 3h0m3 1h0m0 3h0m2 7h0m4-1h0m4-11h0m2 6h0m2-4h0m0 6h0m1 1h0m1-8h0m2 3h0m4 3h0m2-3h0m1-1h0m5 1h0m0 6h0m7-6h0m2-5h0m2 13h0m1-14h0m2 12h0m4 11h0m-2 5h0m-4-8h0m0 0h0m0 4h0m-6-3h0m-1-2h0m-2 0h0m-5 0h0m0 2h0m-1 8h0m0-9h0m-11 1h0m-6-4h0m-1 4h0m-1 3h0m-4-2h0m0-1h0m-2-4h0m-2 1h0m-2 4h0m-6-3h0m-2 3h0m-1-7h0m-3 7h0m0-2h0m-3-1h0m0-4h0m-1 7h0m0-5h0m0 9h0m-3 1h0m-2-10h0m0 6h0m-1 6h0m-2-14h0m-4 5h0m-2 3h0m-3-3h0m-2 2h0m-10 1h0m-10-6h0m-2-1h0m0 2h0m-2-1h0m-1 4h0m-1-5h0m10 23h0m5-2h0m3 7h0m1-14h0m2 2h0m4 3h0m2-4h0m2 11h0m1-6h0m1-3h0m1-1h0m2 1h0m2 7h0m0-9h0m1 9h0m4-8h0m0-2h0m2 14h0m6-2h0m4-12h0m11 10h0m4-10h0m0 4h0m2 2h0m4-1h0m6-5h0m3 10h0m0-7h0m3 10h0m1-11h0m1 7h0m3-1h0m1 3h0m7-11h0m2 5h0m1-4h0m0 4h0m1 1h0m4-6h0m1 27h0m-2 1h0m-3-5h0m-1 4h0m-17-10h0m-6 3h0m-14 3h0m0 1h0m-1-3h0m-1 0h0m-1 8h0m-2-12h0m-9-2h0m-5 11h0m-1-6h0m-6-5h0m-4 8h0m-3-2h0m-2 6h0m-11-6h0m-2-5h0m0 3h0m-1 6h0m-2 4h0m-8-5h0m-1-9h0m-1 0h0m-2 12h0m0-7h0m4 12h0m1-2h0m1 1h0m3 1h0m0 2h0m1 4h0m3-4h0m3 10h0m2-9h0m7-5h0m3 8h0m8-6h0m1 0h0m4 12h0m3-10h0m0 10h0m2-14h0m1 6h0m0 7h0m2-12h0m2 8h0m2 4h0m1-13h0m1 12h0m1-6h0m0 2h0m1-5h0m2 10h0m1-1h0m4-2h0m3 2h0m4-1h0m3-11h0m2 1h0m11 8h0m1 4h0m8-4h0m8-1h0m-5 11h0m-2 3h0m-2-4h0m-3-1h0m-3 11h0m-6-6h0m-7 0h0m-2 5h0m-7 1h0m0-1h0m0-3h0m-7-6h0m-7 4h0m0 6h0m-1-8h0m-1 0h0m-3 4h0m-5-7h0m-5 4h0m-9-1h0m-2-3h0m-1 9h0m-1-10h0m-7 5h0m-5 2h0m-5-3h0m1 12h0m2 6h0m5 6h0m9-10h0m0 7h0m2-7h0m4-4h0m5 0h0m2 1h0m5 4h0m3-1h0m1 1h0m3-4h0m1 5h0m1 5h0m1 2h0m1 0h0m3-13h0m1 8h0m6 0h0m1 0h0m2 6h0m7 0h0m0-2h0m3-7h0m8-5h0m6 0h0m2 14h0m1-9h0m3 2h0m-3 9h0m-13 1h0m-2-1h0m-9 8h0m-3 2h0m-2-11h0m-2 0h0m-7 3h0m0-2h0m-4 11h0m-3-4h0m-1-4h0m-2 9h0m-9-2h0m-5-11h0m-14 0h0m-1 2h0m-3 6h0m4 7h0m11 6h0m2-6h0m11 13h0m2-2h0m4-11h0m3 10h0m5 3h0m1-11h0m18-2h0m5 14h0m0-10h0m7-3h0m2 2h0m-18 22h0m-1-5h0m-3 0h0m-8-5h0m-2 13h0m-13-4h0m-7 17h0m2 2h0m2-6h0m6-3h0m11 8h0m1-2h0m0-10h0m3 6h0m6 2h0m1 1h0m-11 17h0m-7-8h0m-9-3h0m3 17h0m1 1h0m0 5h0m2-4h0m12 2h0m7 15h0m-15-1h0m-6-1h0m-7 22h0m16-1h0m4-7h0m2 5h0" stroke="#111" stroke-width="0.55" opacity="0.4" vector-effect="non-scaling-stroke" stroke-linecap="round" fill="none"/>
<path transform="scale(.1)" d="M6567 1448h0m4 0h0m6 0h0m6 0h0m1 0h0m1 0h0m3 0h0m3 0h0m2 0h0m3 0h0m6 0h0m2 0h0m3 0h0m1 0h0m4 0h0m3 0h0m3 0h0m12 0h0m0 0h0m0 0h0m7 0h0m0 0h0m2 0h0m0 0h0m1 0h0m3 0h0m1 0h0m3 0h0m0 0h0m8 0h0m1 0h0m1 0h0m0 0h0m7 0h0m2 0h0m6 0h0m3 0h0m1 0h0m2 0h0m2 0h0m2 0h0m2 0h0m1 0h0m3 0h0m3 0h0" stroke="#555" stroke-width="0.6" opacity="0.5" vector-effect="non-scaling-stroke" stroke-linecap="round" fill="none"/>
<text transform="translate(669.4,162.3) rotate(-45)" font-size="9.0" text-anchor="end" fill="#3a3a3a">Antigen</text>
<line x1="676.5" y1="151.4" x2="676.5" y2="155.0" stroke="#a0a0a0" stroke-width="0.7"/>
<path d="M676.8 144.8L676.8 143.8L676.9 142.7L677.0 141.7L677.1 140.7L677.2 139.6L677.3 138.6L677.4 137.6L677.5 136.5L677.6 135.5L677.7 134.4L677.8 133.4L677.9 132.4L678.0 131.3L678.2 130.3L678.3 129.3L678.4 128.2L678.6 127.2L678.7 126.2L678.8 125.1L679.0 124.1L679.1 123.1L679.2 122.0L679.4 121.0L679.5 120.0L679.6 118.9L679.8 117.9L679.9 116.8L680.0 115.8L680.2 114.8L680.3 113.7L680.4 112.7L680.6 111.7L680.7 110.6L680.8 109.6L681.0 108.6L681.1 107.5L681.2 106.5L681.4 105.5L681.5 104.4L681.6 103.4L681.8 102.4L681.9 101.3L682.0 100.3L682.1 99.2L682.1 98.2L682.2 97.2L682.2 96.1L682.3 95.1L682.3 94.1L682.4 93.0L682.4 92.0L682.5 91.0L682.5 89.9L682.6 88.9L682.6 87.9L682.6 86.8L682.6 85.8L682.6 84.8L682.5 83.7L682.5 82.7L682.4 81.6L682.3 80.6L682.3 79.6L682.2 78.5L682.1 77.5L682.1 76.5L682.0 75.4L681.9 74.4L681.8 73.4L681.7 72.3L681.6 71.3L681.5 70.3L681.4 69.2L681.3 68.2L681.1 67.2L681.0 66.1L680.9 65.1L680.7 64.0L680.6 63.0L680.5 62.0L680.3 60.9L680.2 59.9L680.1 58.9L679.9 57.8L679.8 56.8L679.7 55.8L679.6 54.7L679.4 53.7L679.3 52.7L679.2 51.6L679.1 50.6L678.9 49.6L678.8 48.5L678.7 47.5L678.6 46.4L678.4 45.4L678.3 44.4L678.2 43.3L678.1 42.3L678.0 41.3L677.9 40.2L677.7 39.2L677.7 38.2L677.6 37.1L677.5 36.1L677.4 35.1L677.4 34.0L677.3 33.0L677.2 32.0L677.2 30.9L677.1 29.9L677.1 28.8L677.0 27.8L676.9 26.8L676.9 25.7L676.8 24.7L676.8 23.7L676.8 22.6L676.8 21.6L676.2 21.6L676.2 22.6L676.2 23.7L676.2 24.7L676.1 25.7L676.1 26.8L676.0 27.8L675.9 28.8L675.9 29.9L675.8 30.9L675.8 32.0L675.7 33.0L675.6 34.0L675.6 35.1L675.5 36.1L675.4 37.1L675.3 38.2L675.3 39.2L675.1 40.2L675.0 41.3L674.9 42.3L674.8 43.3L674.7 44.4L674.6 45.4L674.4 46.4L674.3 47.5L674.2 48.5L674.1 49.6L673.9 50.6L673.8 51.6L673.7 52.7L673.6 53.7L673.4 54.7L673.3 55.8L673.2 56.8L673.1 57.8L672.9 58.9L672.8 59.9L672.7 60.9L672.5 62.0L672.4 63.0L672.3 64.0L672.1 65.1L672.0 66.1L671.9 67.2L671.7 68.2L671.6 69.2L671.5 70.3L671.4 71.3L671.3 72.3L671.2 73.4L671.1 74.4L671.0 75.4L670.9 76.5L670.9 77.5L670.8 78.5L670.7 79.6L670.7 80.6L670.6 81.6L670.5 82.7L670.5 83.7L670.4 84.8L670.4 85.8L670.4 86.8L670.4 87.9L670.4 88.9L670.5 89.9L670.5 91.0L670.6 92.0L670.6 93.0L670.7 94.1L670.7 95.1L670.8 96.1L670.8 97.2L670.9 98.2L670.9 99.2L671.0 100.3L671.1 101.3L671.2 102.4L671.4 103.4L671.5 104.4L671.6 105.5L671.8 106.5L671.9 107.5L672.0 108.6L672.2 109.6L672.3 110.6L672.4 111.7L672.6 112.7L672.7 113.7L672.8 114.8L673.0 115.8L673.1 116.8L673.2 117.9L673.4 118.9L673.5 120.0L673.6 121.0L673.8 122.0L673.9 123.1L674.0 124.1L674.2 125.1L674.3 126.2L674.4 127.2L674.6 128.2L674.7 129.3L674.8 130.3L675.0 131.3L675.1 132.4L675.2 133.4L675.3 134.4L675.4 135.5L675.5 136.5L675.6 137.6L675.7 138.6L675.8 139.6L675.9 140.7L676.0 141.7L676.1 142.7L676.2 143.8L676.2 144.8Z" fill="#c762b4" stroke="#3a3a3a" stroke-width="0.35" stroke-opacity="0.6"/>
<path transform="scale(.1)" d="M6761 225h0m-11 22h0m59 11h0m-72 18h0m73-4h0m-57 26h0m3 36h0m46 21h0m-6-6h0m-45 21h0m74 1h0m-75 15h0m-30 5h0m75 9h0m35 3h0m-118 16h0m82 21h0m-89 1h0m8 23h0m4-12h0m1 9h0m82 9h0m-59 8h0m-11-9h0m-10 23h0m93-10h0m-21 18h0m-1 4h0m27 15h0m-90 8h0m-16 1h0m17 26h0m85-9h0m-106 10h0m-4 27h0m5-7h0m20 7h0m-5 6h0m-18 12h0m109 8h0m-5 13h0m-94-2h0m-17 8h0m2 8h0m4-1h0m9 1h0m99 11h0m-3 2h0m-106-2h0m-2 6h0m6 13h0m105-5h0m9 28h0m-117 6h0m117 6h0m0-1h0m4 24h0m-115 16h0m-12 22h0m5 49h0m-3 40h0m127 35h0m-129 12h0m127 11h0m4 15h0m-1 36h0m-122 5h0m116-3h0m1 0h0m-117 17h0m-8 32h0m11 14h0m113 20h0m-117-7h0m-3 24h0m110 13h0m-94 3h0m-12-1h0m-7-11h0m130 15h0m-20 20h0m-103 0h0m-3 0h0m10 21h0m109 16h0m-5-9h0m-4 4h0m-99-2h0m-6 3h0m-4-2h0m10 21h0m13-2h0m82 12h0m-9-6h0m-87 5h0m-3-6h0m-8 1h0m16 22h0m7 0h0m4 2h0m98 2h0m2-12h0m-16 18h0m-84 3h0m-14 1h0m-13 9h0m101 3h0m15 4h0m3-5h0m-1 15h0m-3 10h0m-91 13h0m0-5h0m87 30h0m7 18h0m-22 5h0m-94-3h0m99 5h0m7 23h0m-21-7h0m-68 27h0m2-9h0m-22 29h0m113 24h0m-102-13h0m-1 17h0m35 45h0m6 13h0" stroke="#555" stroke-width="0.6" opacity="0.5" vector-effect="non-scaling-stroke" stroke-linecap="round" fill="none"/>
<path transform="scale(.1)" d="M6759 321h0m-1 110h0m10 23h0m-7 16h0m-6-4h0m24 14h0m-4 24h0m-9-5h0m-1 46h0m19 5h0m-16 7h0m-2 8h0m-26 10h0m58 22h0m-11-4h0m-19-4h0m-33 9h0m-2 8h0m23 1h0m9-2h0m14-3h0m11 7h0m14 11h0m-17 4h0m-27 3h0m-33 11h0m18-6h0m14 9h0m28-3h0m-3 16h0m-13 5h0m0-2h0m-10-6h0m-6 4h0m-13 4h0m-20 4h0m11 10h0m32-7h0m19 0h0m7 13h0m-11 7h0m-7 3h0m-7-1h0m-43 2h0m6 8h0m14-2h0m5-1h0m0 8h0m9-7h0m17 1h0m27 22h0m-28 0h0m-20-13h0m-13 10h0m-9-6h0m-1 24h0m25-6h0m29 2h0m20-3h0m14 13h0m-23-5h0m-47 0h0m-5 9h0m-25 12h0m3-4h0m22 1h0m17 0h0m3 10h0m13-10h0m17 17h0m-5 1h0m-17 6h0m-49 2h0m-12-9h0m0 18h0m7-5h0m48 2h0m11 7h0m41 2h0m-47 9h0m-1-3h0m-42 8h0m-14-7h0m2 12h0m5 4h0m3 7h0m8-13h0m4 5h0m2-3h0m11 8h0m12-3h0m4 1h0m8 1h0m24-3h0m4 3h0m7 1h0m3 14h0m-16-6h0m-22 6h0m0 0h0m-13-10h0m-16 7h0m-5-1h0m-32 23h0m67-1h0m27-3h0m7-2h0m5-6h0m8 20h0m-24 1h0m-20-3h0m-4 9h0m0-12h0m-8 2h0m-42-2h0m-11 3h0m-2 2h0m0-3h0m-2 5h0m29 8h0m5 10h0m4-4h0m23 4h0m7-3h0m6 5h0m1-12h0m16 5h0m6-6h0m8 12h0m6 0h0m1-3h0m5 13h0m-3-2h0m-11 3h0m-12 0h0m-3 2h0m0-8h0m-15 1h0m-10 8h0m-41-9h0m-20 25h0m33-7h0m31-2h0m22 6h0m0 1h0m2-1h0m5 2h0m11-4h0m-9 19h0m-24 2h0m-5 0h0m-2-1h0m-5 1h0m-15-3h0m-30-7h0m1 11h0m4 12h0m11-5h0m79 6h0m-3 9h0m-13-6h0m-14 12h0m-13-5h0m-38-4h0m-16 12h0m22 13h0m22-11h0m16 3h0m12-5h0m22 10h0m-22 10h0m-77 7h0m1 11h0m3-4h0m15-2h0m47 3h0m4-4h0m16 3h0m1-1h0m-12 16h0m-62 6h0m-2-11h0m9 16h0m73 7h0m-9 18h0m-10 1h0m-70-10h0m-1 9h0m1 10h0m25 1h0m14-4h0m1-1h0m15 10h0m2 0h0m0-12h0m29 9h0m2 9h0m-34-3h0m-27 1h0m-23 6h0m0 16h0m3 4h0m35-11h0m16 5h0m21 4h0m9-8h0m-4 19h0m-35 5h0m-11 1h0m-33-11h0m25 14h0m2 9h0m26-2h0m16 0h0m-36 12h0m-16-3h0m18 21h0m1 7h0m22 14h0m-1-7h0m-6-4h0m-1 6h0m-1-4h0m-2 23h0m3 9h0m-23 43h0m23 2h0m-27 35h0m2 1h0m19 1h0m-17 50h0m19 22h0" stroke="#111" stroke-width="0.55" opacity="0.4" vector-effect="non-scaling-stroke" stroke-linecap="round" fill="none"/>
<path transform="scale(.1)" d="M6702 1448h0m12 0h0m14 0h0m2 0h0m10 0h0m11 0h0m1 0h0m35 0h0m11 0h0m14 0h0m6 0h0m10 0h0m1 0h0" stroke="#555" stroke-width="0.6" opacity="0.5" vector-effect="non-scaling-stroke" stroke-linecap="round" fill="none"/>
<text transform="translate(683.1,162.3) rotate(-45)" font-size="9.0" text-anchor="end" fill="#3a3a3a">Bystander</text>
<text x="640.9" y="11.3" font-size="9.6" text-anchor="middle" fill="#333" font-weight="normal" textLength="26.0" lengthAdjust="spacingAndGlyphs" >KLRG1</text>
<text transform="translate(575.5,83.2) rotate(-90)" font-size="8.9" text-anchor="middle" fill="#3a3a3a" textLength="65" lengthAdjust="spacingAndGlyphs">Expression level</text>
<text x="0.1" y="226.8" font-size="13" text-anchor="start" fill="#111" font-weight="bold" stroke="#111" stroke-width="0.4">c</text>
<use href="#u_body" transform="translate(107.2,289.4) scale(0.1156,0.158)" stroke="#a8a8a8" stroke-width="0.7" opacity="0.58"/>
<use href="#u_naive" transform="translate(107.2,289.4) scale(0.1156,0.158)" stroke="#b0b0b0" stroke-width="0.8" opacity="0.6"/>
<path transform="scale(.1)" d="M1412 2359h0m-10-1h0m-75 22h0m99 4h0m-34 9h0m-39-7h0m-9 2h0m-20 21h0m19-2h0m92 1h0m19 10h0m-159 25h0m10 1h0m138-4h0m11 11h0m-158 16h0m139 6h0m21-7h0m-209 33h0m29-3h0m34 4h0m137-2h0m-2 8h0m-14 6h0m-124-7h0m-5 9h0m-92 6h0m188 12h0m27-2h0m3-2h0m17-6h0m12 5h0m10-3h0m31 0h0m-68 20h0m-126-7h0m-104-1h0m-6 5h0m-1-1h0m57 13h0m46 11h0m67-7h0m77-5h0m19 10h0m-29 17h0m-50-8h0m-72-4h0m-63 12h0m-91 9h0m74 1h0m6-7h0m32 12h0m48 0h0m30-12h0m79 12h0m43-12h0m9 1h0m19 5h0m8-1h0m11-1h0m21 4h0m-87 10h0m-90 5h0m-79-8h0m-7 1h0m-134 0h0m-82-2h0m96 26h0m65-8h0m7-4h0m15 8h0m0-7h0m38 11h0m0-9h0m34 2h0m13 3h0m8 1h0m101-9h0m157 11h0m-56 16h0m-68-5h0m-4 6h0m-66-7h0m-5-2h0m-51-2h0m-37 1h0m-4 4h0m-4 5h0m-16-9h0m-2 2h0m-3 0h0m-87 9h0m-55 0h0m22 13h0m33-4h0m5 6h0m27-7h0m8-6h0m33 11h0m33 0h0m6 2h0m10-1h0m3-2h0m105-6h0m33 1h0m27 7h0m65 3h0m-66 11h0m-14-12h0m0 2h0m-17 11h0m-49-5h0m-43 3h0m-8-6h0m-15 3h0m-6-1h0m-6-7h0m-13 4h0m-15 8h0m-4-10h0m-8 7h0m-6-8h0m-2 12h0m-8-8h0m0 1h0m-10 0h0m-1 3h0m-16-9h0m-3 11h0m-10 0h0m-69-2h0m-21 12h0m7 8h0m48-8h0m14 7h0m2-5h0m14-2h0m6 8h0m10-4h0m28-6h0m3 8h0m11-1h0m6-10h0m47 13h0m3 0h0m13-6h0m101-2h0m37 4h0m1 1h0m19 2h0m2-8h0m21 19h0m-45-2h0m-48 4h0m-38-5h0m-3-2h0m-35-3h0m-10 13h0m-11-12h0m-33 4h0m-7 6h0m-2-6h0m-5 3h0m-11-9h0m-3 9h0m-12-8h0m-13 10h0m-10-2h0m-11-8h0m-10-1h0m-81 0h0m-1 7h0m-3 7h0m-1-14h0m-8 13h0m0 0h0m-3-12h0m-1 5h0m-1-1h0m-5-5h0m-3 6h0m-4-2h0m-7-2h0m0 4h0m-4-4h0m-443 25h0m429-5h0m11 3h0m5-7h0m18 0h0m5 0h0m14 3h0m2-6h0m22 1h0m4 6h0m20-6h0m5 11h0m18 2h0m5-6h0m9-6h0m11 8h0m0-2h0m29-7h0m51-1h0m17 5h0m12-4h0m36 2h0m17 9h0m78-11h0m6 7h0m50 0h0m29-1h0m-91 18h0m-20-4h0m-2 1h0m-71-4h0m-21 6h0m-21-6h0m0-1h0m-16-1h0m-21 7h0m-34-5h0m0 11h0m-17-10h0m-38 6h0m-16-2h0m-44-4h0m-19 5h0m0-5h0m-6-2h0m-6 1h0m-7 8h0m-548-10h0m9 19h0m503 4h0m118-9h0m1 5h0m25 7h0m7 1h0m13-8h0m6 7h0m45-4h0m12-5h0m46 1h0m94-4h0m20 21h0m-26 5h0m-1-10h0m0 10h0m-7-6h0m-38 4h0m-25 0h0m-20 3h0m-8-7h0m-14 1h0m-15 0h0m-18-6h0m-2 6h0m-25-1h0m-11 1h0m-10 6h0m-64-2h0m-50 2h0m-578 1h0m-5 12h0m20-10h0m565 10h0m11-5h0m9 2h0m6 1h0m22 1h0m15-4h0m37 2h0m46 0h0m4-4h0m0-3h0m1 11h0m1-9h0m2-2h0m7 7h0m6-1h0m22-5h0m11 11h0m6 0h0m32-9h0m24 7h0m35 1h0m11-8h0m11 2h0m38-2h0m11 14h0m-16-1h0m-15-1h0m-5 8h0m-1 3h0m-18-4h0m-4 7h0m-31-14h0m-4 10h0m-60-5h0m-43 1h0m-15 5h0m-39-4h0m-120 0h0m-617-5h0m-18 8h0m-48-8h0m47 27h0m69-2h0m573-7h0m73-4h0m34 8h0m15-3h0m29 0h0m133-4h0m61-1h0m38 1h0m-97 20h0m-63 1h0m-4 1h0m-2 3h0m-46-2h0m-22 2h0m-2-1h0m-39-8h0m-51-2h0m-643 2h0m-102 8h0m71 9h0m48 9h0m74-4h0m611-1h0m48-6h0m14 3h0m44-4h0m227 7h0m-279 11h0m-27 4h0m-16 4h0m-30-1h0m-84-6h0m-1 7h0m-580-12h0m-17 7h0m-10 8h0m5-1h0m54 8h0m41 4h0m596-8h0m128 8h0m95-8h0m-385 13h0m-532 2h0m-2-2h0m-90 3h0m721 11h0m110 6h0m-45 9h0m-95 4h0m-529 2h0m-99-4h0m-7-3h0m-15 26h0m695 3h0m144-5h0m-779 19h0m546 8h0m35 7h0m6-13h0m187 13h0m-125 31h0m6 15h0m-12-9h0m-32-2h0m-15 7h0m16 19h0m24 0h0m54 13h0m-29-10h0m-4 11h0m-17-2h0m-66-11h0m-39 13h0m76 6h0m106 22h0m-152-6h0m86 12h0m6 7h0m-50 10h0m293 130h0m-368-4h0m247 19h0m-208 22h0m211 30h0m-186 46h0m-302 6h0m515 6h0m136-2h0m-137 14h0m-421 8h0m150 78h0" stroke="#e0312f" stroke-width="0.8" opacity="0.8" vector-effect="non-scaling-stroke" stroke-linecap="round" fill="none"/>
<line x1="35.9" y1="229.3" x2="35.9" y2="351.2" stroke="#8c8c8c" stroke-width="0.9"/>
<line x1="35.9" y1="351.2" x2="166.8" y2="351.2" stroke="#8c8c8c" stroke-width="0.9"/>
<line x1="49.4" y1="351.2" x2="49.4" y2="354.0" stroke="#8c8c8c" stroke-width="0.7"/>
<text x="49.4" y="363.8" font-size="7.6" text-anchor="middle" fill="#3a3a3a" font-weight="normal" >−10</text>
<line x1="78.3" y1="351.2" x2="78.3" y2="354.0" stroke="#8c8c8c" stroke-width="0.7"/>
<text x="78.3" y="363.8" font-size="7.6" text-anchor="middle" fill="#3a3a3a" font-weight="normal" >−5</text>
<line x1="107.2" y1="351.2" x2="107.2" y2="354.0" stroke="#8c8c8c" stroke-width="0.7"/>
<text x="107.2" y="363.8" font-size="7.6" text-anchor="middle" fill="#3a3a3a" font-weight="normal" >0</text>
<line x1="136.1" y1="351.2" x2="136.1" y2="354.0" stroke="#8c8c8c" stroke-width="0.7"/>
<text x="136.1" y="363.8" font-size="7.6" text-anchor="middle" fill="#3a3a3a" font-weight="normal" >5</text>
<line x1="165.0" y1="351.2" x2="165.0" y2="354.0" stroke="#8c8c8c" stroke-width="0.7"/>
<text x="165.0" y="363.8" font-size="7.6" text-anchor="middle" fill="#3a3a3a" font-weight="normal" >10</text>
<line x1="33.1" y1="257.8" x2="35.9" y2="257.8" stroke="#8c8c8c" stroke-width="0.7"/>
<text x="29.7" y="260.4" font-size="7.6" text-anchor="end" fill="#3a3a3a" font-weight="normal" >4</text>
<line x1="33.1" y1="289.4" x2="35.9" y2="289.4" stroke="#8c8c8c" stroke-width="0.7"/>
<text x="29.7" y="292.0" font-size="7.6" text-anchor="end" fill="#3a3a3a" font-weight="normal" >0</text>
<line x1="33.1" y1="321.0" x2="35.9" y2="321.0" stroke="#8c8c8c" stroke-width="0.7"/>
<text x="29.7" y="323.6" font-size="7.6" text-anchor="end" fill="#3a3a3a" font-weight="normal" >−4</text>
<text x="101.25" y="376.9" font-size="8.8" text-anchor="middle" fill="#3a3a3a" font-weight="normal" textLength="30.2" lengthAdjust="spacingAndGlyphs" >UMAP_1</text>
<text transform="translate(17.0,290.2) rotate(-90)" font-size="8.8" text-anchor="middle" fill="#3a3a3a" textLength="31.4" lengthAdjust="spacingAndGlyphs">UMAP_2</text>
<circle cx="125.2" cy="231.2" r="2.2" fill="#e0312f"/>
<text x="129.0" y="234.6" font-size="8.4" fill="#3a3a3a">Dex<tspan font-size="5.5" dy="-3.6">+</tspan><tspan dy="3.6" x="148.9">cells</tspan></text>
<line x1="219.4" y1="229.6" x2="219.4" y2="351.2" stroke="#8c8c8c" stroke-width="0.8"/>
<line x1="219.4" y1="351.2" x2="351.3" y2="351.2" stroke="#8c8c8c" stroke-width="0.8"/>
<line x1="216.8" y1="346.2" x2="219.4" y2="346.2" stroke="#8c8c8c" stroke-width="0.7"/>
<text x="213.6" y="348.8" font-size="7.6" text-anchor="end" fill="#3a3a3a" font-weight="normal" >0</text>
<line x1="216.8" y1="310.4" x2="219.4" y2="310.4" stroke="#8c8c8c" stroke-width="0.7"/>
<text x="213.6" y="313.0" font-size="7.6" text-anchor="end" fill="#3a3a3a" font-weight="normal" >0.2</text>
<line x1="216.8" y1="274.6" x2="219.4" y2="274.6" stroke="#8c8c8c" stroke-width="0.7"/>
<text x="213.6" y="277.2" font-size="7.6" text-anchor="end" fill="#3a3a3a" font-weight="normal" >0.4</text>
<line x1="216.8" y1="238.8" x2="219.4" y2="238.8" stroke="#8c8c8c" stroke-width="0.7"/>
<text x="213.6" y="241.4" font-size="7.6" text-anchor="end" fill="#3a3a3a" font-weight="normal" >0.6</text>
<line x1="232.5" y1="351.2" x2="232.5" y2="353.9" stroke="#8c8c8c" stroke-width="0.7"/>
<line x1="253.6" y1="351.2" x2="253.6" y2="353.9" stroke="#8c8c8c" stroke-width="0.7"/>
<line x1="274.8" y1="351.2" x2="274.8" y2="353.9" stroke="#8c8c8c" stroke-width="0.7"/>
<line x1="296.0" y1="351.2" x2="296.0" y2="353.9" stroke="#8c8c8c" stroke-width="0.7"/>
<line x1="317.2" y1="351.2" x2="317.2" y2="353.9" stroke="#8c8c8c" stroke-width="0.7"/>
<line x1="338.4" y1="351.2" x2="338.4" y2="353.9" stroke="#8c8c8c" stroke-width="0.7"/>
<path d="M232.5 253.12V263.86M232.5 312.19V330.09" stroke="#555" stroke-width="0.7" fill="none"/>
<rect x="224.25" y="263.86" width="16.5" height="48.33" fill="none" stroke="#555" stroke-width="0.7"/>
<line x1="224.25" y1="288.02" x2="240.75" y2="288.02" stroke="#444" stroke-width="1.1"/>
<path transform="scale(.1)" d="M2269 2531h0m78 18h0m-4 72h0m-25 62h0m-34 153h0m-7 89h0m96 18h0m-76 242h0m29 44h0m-24 72h0" stroke="#222" stroke-width="1.3" opacity="1" vector-effect="non-scaling-stroke" stroke-linecap="round" fill="none"/>
<path d="M253.6 235.22V260.28M253.6 303.24V331.88" stroke="#555" stroke-width="0.7" fill="none"/>
<rect x="245.35" y="260.28" width="16.5" height="42.96" fill="none" stroke="#555" stroke-width="0.7"/>
<line x1="245.35" y1="282.65" x2="261.85" y2="282.65" stroke="#444" stroke-width="1.1"/>
<path transform="scale(.1)" d="M2582 2352h0m-55 233h0m-25 18h0m75 9h0m6 170h0m-35 80h0m16 27h0m-20 197h0m43 215h0m-113 18h0" stroke="#222" stroke-width="1.3" opacity="1" vector-effect="non-scaling-stroke" stroke-linecap="round" fill="none"/>
<path d="M274.8 331.88V338.68M274.8 344.41V345.31" stroke="#555" stroke-width="0.7" fill="none"/>
<rect x="266.55" y="338.68" width="16.5" height="5.73" fill="none" stroke="#555" stroke-width="0.7"/>
<line x1="266.55" y1="343.51" x2="283.05" y2="343.51" stroke="#444" stroke-width="1.1"/>
<path transform="scale(.1)" d="M2741 3319h0m-9 3h0m64 50h0m-68 54h0m61 9h0m-1 9h0m-4-3h0m-93 7h0m16 5h0" stroke="#222" stroke-width="1.3" opacity="1" vector-effect="non-scaling-stroke" stroke-linecap="round" fill="none"/>
<path d="M296.0 308.61V326.51M296.0 344.05V345.31" stroke="#555" stroke-width="0.7" fill="none"/>
<rect x="287.75" y="326.51" width="16.5" height="17.54" fill="none" stroke="#555" stroke-width="0.7"/>
<line x1="287.75" y1="336.35" x2="304.25" y2="336.35" stroke="#444" stroke-width="1.1"/>
<path transform="scale(.1)" d="M2896 3086h0m85 99h0m-26 71h0m-63 63h0m124 36h0m-21 35h0m-68 51h0m-25 3h0m64 9h0" stroke="#222" stroke-width="1.3" opacity="1" vector-effect="non-scaling-stroke" stroke-linecap="round" fill="none"/>
<path d="M317.2 300.56V313.08M317.2 343.51V345.31" stroke="#555" stroke-width="0.7" fill="none"/>
<rect x="308.95" y="313.08" width="16.5" height="30.43" fill="none" stroke="#555" stroke-width="0.7"/>
<line x1="308.95" y1="336.35" x2="325.45" y2="336.35" stroke="#444" stroke-width="1.1"/>
<path transform="scale(.1)" d="M3186 2997h0m28 62h0m-75 0h0m75 287h0m-27 9h0m-52 17h0m60 63h0m-5 9h0m-71 14h0" stroke="#222" stroke-width="1.3" opacity="1" vector-effect="non-scaling-stroke" stroke-linecap="round" fill="none"/>
<path d="M338.4 330.99V330.99M338.4 345.31V346.2" stroke="#555" stroke-width="0.7" fill="none"/>
<rect x="330.15" y="330.99" width="16.5" height="14.32" fill="none" stroke="#555" stroke-width="0.7"/>
<line x1="330.15" y1="338.14" x2="346.65" y2="338.14" stroke="#444" stroke-width="1.1"/>
<path transform="scale(.1)" d="M3359 2791h0m-29 116h0m56 394h0m39 36h0m-94 18h0m87 53h0m-50 36h0m-20 14h0m93-5h0" stroke="#222" stroke-width="1.3" opacity="1" vector-effect="non-scaling-stroke" stroke-linecap="round" fill="none"/>
<text transform="translate(235.7,365.5) rotate(-45)" font-size="9.0" text-anchor="end" fill="#3a3a3a">Antigen</text>
<text transform="translate(256.8,365.5) rotate(-45)" font-size="9.0" text-anchor="end" fill="#3a3a3a">Antigen_prolif</text>
<text transform="translate(278.0,365.5) rotate(-45)" font-size="9.0" text-anchor="end" fill="#3a3a3a">CD8 naive</text>
<text transform="translate(299.2,365.5) rotate(-45)" font-size="9.0" text-anchor="end" fill="#3a3a3a">CD8 T<tspan font-size="5.4" dy="1">CM</tspan></text>
<text transform="translate(320.4,365.5) rotate(-45)" font-size="9.0" text-anchor="end" fill="#3a3a3a">CD8 T<tspan font-size="5.4" dy="1">EM</tspan></text>
<text transform="translate(341.6,365.5) rotate(-45)" font-size="9.0" text-anchor="end" fill="#3a3a3a">Bystander</text>
<text transform="translate(194.5,290.1) rotate(-90)" font-size="9.0" text-anchor="middle" fill="#3a3a3a" textLength="127.9" lengthAdjust="spacingAndGlyphs">Fraction with spike-specific TCR</text>
<text x="380.1" y="226.3" font-size="13" text-anchor="start" fill="#111" font-weight="bold" stroke="#111" stroke-width="0.4">d</text>
<use href="#u_body" transform="translate(491.7,287.7) scale(0.1336,0.16)" stroke="#7b4aa6" stroke-width="0.7" opacity="0.33"/>
<use href="#u_naive" transform="translate(491.7,287.7) scale(0.1336,0.16)" stroke="#6c3699" stroke-width="0.75" opacity="0.55"/>
<path transform="scale(.1)" d="M5287 2331h0m-57 4h0m-7 15h0m23-3h0m7-7h0m16 11h0m8-6h0m17 7h0m6 1h0m7-3h0m1 3h0m16-1h0m15-2h0m-5 17h0m-6 0h0m-17-8h0m-25-4h0m-48 13h0m-13-6h0m-42 22h0m2-2h0m4-11h0m10 8h0m2-8h0m3 10h0m5-9h0m3 4h0m18-6h0m95 0h0m4 11h0m6-11h0m15 13h0m18 15h0m-18-10h0m-6-3h0m-1 1h0m-3 3h0m-129 1h0m-3-5h0m-13 13h0m0-11h0m-13 8h0m-4 3h0m-1-1h0m6 8h0m3 2h0m174-3h0m-183 22h0m-9 1h0m194 5h0m37 18h0m-32-3h0m-11 11h0m-169-3h0m-12-7h0m-3 2h0m20 20h0m175-5h0m-175 20h0m-4-3h0m-6 6h0m-2-12h0m-7 10h0m-3-8h0m5 22h0m165-5h0m17 3h0m1-2h0m13-6h0m11 1h0m10 2h0m5-3h0m29 24h0m-37-6h0m-2-2h0m-8 13h0m-6-3h0m-2-8h0m-25 1h0m-7 8h0m-12-5h0m-5-7h0m-3 2h0m-121 12h0m-3-11h0m-5 0h0m-131 21h0m133-8h0m5 3h0m127 6h0m19 2h0m9-12h0m12 13h0m2-7h0m3 1h0m36-1h0m-15 19h0m-6-7h0m-1 10h0m-1-7h0m-5-2h0m-3-1h0m-7-2h0m-62 5h0m-260 18h0m80-9h0m33 14h0m174-7h0m32 7h0m11-13h0m4-1h0m2 9h0m0-1h0m10 2h0m28 2h0m22-3h0m-10 20h0m-21-1h0m-17-5h0m-4 1h0m-1-3h0m-7 6h0m0-11h0m-17 4h0m-4-1h0m-10 10h0m-1-1h0m-206-7h0m-140 21h0m51-9h0m10 9h0m22-6h0m217 8h0m39-1h0m39-12h0m0 6h0m13-5h0m37 12h0m23-6h0m-1 9h0m-5 12h0m-21-6h0m-2 0h0m-376 0h0m-48-4h0m23 21h0m5 4h0m1-7h0m18-3h0m55-2h0m8 4h0m2-2h0m3 2h0m84 4h0m16 4h0m144-13h0m1 6h0m45 0h0m2 3h0m22 4h0m-3 6h0m-22 1h0m-24 3h0m-6-5h0m-10 9h0m-1-10h0m-78-2h0m-124 13h0m-34-11h0m-15 6h0m-6-5h0m-29-2h0m-18 11h0m-20-2h0m-27 1h0m-6 1h0m-88 1h0m12 8h0m67 2h0m48 3h0m1-10h0m14 3h0m21 3h0m12-4h0m5 6h0m28-6h0m12 4h0m67-2h0m168 0h0m25-3h0m3 5h0m12 2h0m-31 16h0m-3 2h0m-7-9h0m0 10h0m-19-3h0m-14 2h0m-15-8h0m-39 9h0m-128-10h0m-80 10h0m-9-6h0m-7 4h0m-34-9h0m-58 6h0m-687 1h0m-2 2h0m-15-9h0m-6 11h0m-13-1h0m-20-1h0m-6-10h0m23 15h0m16 11h0m6-5h0m0 2h0m12-3h0m7-1h0m661-4h0m129 6h0m15 6h0m9-10h0m13 0h0m11 2h0m40 6h0m31 1h0m2-1h0m6-9h0m128 2h0m1 2h0m14-7h0m16 6h0m46-6h0m5 7h0m36-6h0m37 4h0m-74 16h0m0 3h0m-41-6h0m-8 9h0m-24-7h0m-5 4h0m-11-6h0m-25 11h0m-39-3h0m-42 0h0m-21-6h0m-18 8h0m-24-13h0m-67 9h0m-2-3h0m-5-4h0m-15 1h0m-632 3h0m-10 8h0m-7-4h0m-85 2h0m-7-11h0m0 10h0m-8 3h0m-9-2h0m-23 1h0m-13-4h0m-7 3h0m-8-2h0m0 3h0m-40-5h0m-10 4h0m-1-12h0m-7 1h0m0 0h0m-2 10h0m-15-6h0m2 21h0m1 3h0m10-2h0m4-1h0m5-11h0m20 8h0m5 6h0m22-2h0m9 2h0m21 0h0m4-12h0m7 7h0m3-6h0m4-2h0m9 12h0m1-13h0m25 5h0m4 7h0m1-12h0m22 13h0m67-9h0m5 2h0m8 0h0m334 6h0m285-8h0m12-4h0m5 1h0m2 1h0m0 9h0m3-9h0m35 1h0m10 3h0m7-4h0m4 3h0m18-3h0m21 4h0m113-6h0m17 12h0m35-8h0m1-2h0m0 4h0m9 4h0m3-9h0m7 13h0m19-12h0m16 0h0m15 3h0m1-2h0m1 8h0m12-10h0m-43 18h0m-3 10h0m-51-1h0m-74-1h0m-59-8h0m-29 5h0m-3 5h0m-2-13h0m-3 12h0m-15-12h0m-26 4h0m-7-1h0m-7 10h0m-21-6h0m-7-7h0m-5 2h0m-26 4h0m-21 7h0m-686-3h0m-32 0h0m-55-10h0m-3 3h0m-2 9h0m-8 0h0m-4-12h0m-14 7h0m-3 3h0m0-4h0m-5-7h0m-7 8h0m-9-8h0m-1 8h0m-6 1h0m-2 3h0m-12-4h0m-2-7h0m7 14h0m3 12h0m1-12h0m3 0h0m54 13h0m11-11h0m9 3h0m9-3h0m5 11h0m1-1h0m1-8h0m10 10h0m7-4h0m7-1h0m1 2h0m10 1h0m7-1h0m0-10h0m2 5h0m1 6h0m3-4h0m31 0h0m21 4h0m436-4h0m109-1h0m60-1h0m12 6h0m69-11h0m16 10h0m8 3h0m11-9h0m2 6h0m6 1h0m14-7h0m3 2h0m2 6h0m11-1h0m38-8h0m14 3h0m3 0h0m2 2h0m36 3h0m41-6h0m50-4h0m8 5h0m17 7h0m1-6h0m4-1h0m2 6h0m9-11h0m9 4h0m1 8h0m7-1h0m1-8h0m15 19h0m-6-6h0m-14 4h0m-1 2h0m-24-9h0m-14 13h0m-11-8h0m-59-3h0m-2 7h0m-38-8h0m-8 0h0m-1 2h0m-5 10h0m-25-2h0m-5-11h0m-13 6h0m-3-6h0m-6 5h0m-2 8h0m-17-12h0m-3 10h0m-4-5h0m-3-3h0m-49-2h0m-9 7h0m-9-2h0m0 4h0m-13 4h0m-99-11h0m-9-1h0m-119 1h0m-14 3h0m-32 3h0m-408-5h0m0 2h0m-16-3h0m-6 1h0m-11 1h0m-8-4h0m-1 12h0m-18-8h0m-12 7h0m-7-7h0m-19-3h0m-1 2h0m-10 6h0m0-8h0m-10 6h0m-7-7h0m0 10h0m-7-4h0m-12 2h0m-19 1h0m-8-6h0m-15 5h0m-8-9h0m-4 21h0m10 4h0m20-5h0m44 6h0m7 2h0m3-8h0m0 2h0m3 6h0m0-3h0m8-10h0m1 2h0m2 6h0m18 3h0m3-3h0m5-4h0m3 3h0m2-3h0m12 2h0m3-6h0m19 13h0m6-2h0m14 1h0m14-2h0m1-5h0m3 5h0m17 1h0m430 3h0m62-7h0m83-6h0m30 0h0m2 0h0m16 11h0m17-7h0m4 2h0m23-2h0m12-4h0m7 8h0m14-3h0m10-1h0m7 4h0m3-5h0m8 5h0m3 0h0m4-2h0m8-6h0m13 5h0m7-3h0m3 2h0m28 6h0m22-7h0m22 1h0m10 5h0m40-7h0m7-3h0m29 10h0m0 0h0m16-8h0m17 3h0m37 9h0m4-8h0m14-4h0m22-2h0m-5 20h0m-48 7h0m-3-2h0m-5-2h0m-5-6h0m-87-2h0m-3 7h0m-51 1h0m-28-7h0m-4 7h0m-5 4h0m-22-3h0m-5 0h0m-16 3h0m-19-3h0m-9 2h0m0 2h0m-16 1h0m-23-7h0m-12-7h0m-2 3h0m-50 5h0m-35-1h0m-26-3h0m-143 0h0m-398-2h0m-14-1h0m-1 6h0m-9-2h0m-6 0h0m-4 3h0m-28 1h0m-4-6h0m-6 4h0m-1-3h0m-10 2h0m-2-4h0m-1 5h0m0 6h0m-17-12h0m-39 4h0m-2 8h0m-13-9h0m-5 1h0m-46 7h0m-4-12h0m-12 12h0m-5-8h0m-9-2h0m2 18h0m17 8h0m3-1h0m0-6h0m7 4h0m0-3h0m20-2h0m38 5h0m1 4h0m9-6h0m2-6h0m13-1h0m5 0h0m30 11h0m1-12h0m33 4h0m442 4h0m107-5h0m18-3h0m61 1h0m4 6h0m4-7h0m5 3h0m21 0h0m7 3h0m16-2h0m13 4h0m63-5h0m6 10h0m3 0h0m19-1h0m4-9h0m27 10h0m7-5h0m13-2h0m23 2h0m13-8h0m0 10h0m46 1h0m1 3h0m51-4h0m5-7h0m45-2h0m3 1h0m7 10h0m3-7h0m2 2h0m-9 17h0m-97-8h0m-57-1h0m-7 12h0m-48-9h0m-16-1h0m-6 12h0m-24-4h0m-10-8h0m-12 6h0m-15-7h0m-5 0h0m-1 10h0m-16 2h0m-30 1h0m-8-12h0m-17 1h0m-13 8h0m-1-4h0m0-7h0m-30 12h0m-9-2h0m-30 3h0m-20-12h0m-492 13h0m-17-13h0m-36 3h0m-1-2h0m-1 7h0m-2 0h0m-13-7h0m-12 6h0m-6-1h0m-8 6h0m-1-3h0m-18 3h0m-5-6h0m-4-2h0m-5 5h0m-42 1h0m-10-1h0m-1-3h0m-31 3h0m-4-10h0m-18 12h0m-3-2h0m-8-4h0m-4 9h0m17 7h0m13-4h0m7 11h0m2-6h0m5-3h0m11 7h0m15-8h0m25 0h0m4 3h0m27 0h0m12 1h0m16-5h0m4 2h0m4 4h0m18-9h0m8 10h0m20-1h0m10 1h0m0-6h0m334 7h0m111 2h0m11-5h0m1-1h0m6 0h0m88 5h0m10-7h0m9 4h0m7 2h0m36 0h0m22-3h0m36-6h0m0 8h0m18 3h0m26-12h0m1 12h0m7-13h0m7 10h0m19 2h0m3-12h0m14 7h0m2-3h0m6-1h0m55 0h0m11 3h0m38 1h0m58 0h0m20-6h0m35 6h0m-13 19h0m-55-2h0m-19-3h0m-16-5h0m-9 12h0m-17 1h0m-47-12h0m-7-1h0m-6 1h0m-21 3h0m-38 5h0m-21 0h0m-2-7h0m-8 7h0m-3-5h0m-2 0h0m-12 5h0m-8-3h0m-25 3h0m-23 4h0m-29-2h0m-7-3h0m-29 2h0m-32 1h0m-72-8h0m-13-1h0m-46 7h0m-4 1h0m-30 0h0m-356-1h0m-12-3h0m0-5h0m-8 7h0m-1 3h0m-15-10h0m0 0h0m-2-1h0m-3 5h0m-5 8h0m-16-12h0m-14 4h0m-2 4h0m-1-4h0m-19 4h0m-30-9h0m-10 12h0m-7-4h0m-6-6h0m-3-1h0m-6 5h0m-9 1h0m-2-4h0m-4 8h0m-6-1h0m-16-2h0m-5 3h0m-12-1h0m-12-7h0m5 12h0m6 13h0m6-5h0m30-3h0m2-4h0m23 10h0m29-2h0m1 3h0m13-6h0m6-5h0m2 10h0m3 0h0m11-10h0m4-1h0m6 13h0m25-1h0m4 1h0m28 0h0m4-3h0m0-4h0m3-2h0m8 0h0m369 2h0m19 1h0m8-4h0m42 2h0m68-4h0m54 5h0m53-6h0m40 5h0m0 7h0m23-9h0m30 10h0m48-3h0m27 1h0m40-6h0m6-1h0m10 5h0m40-6h0m33 9h0m16-2h0m30-8h0m29 1h0m9-2h0m44 3h0m1 20h0m-48-3h0m-7 1h0m-50 2h0m0-3h0m-32 2h0m-57-1h0m-14 3h0m-52-1h0m-3-9h0m-11 6h0m-31 2h0m-5 3h0m-22-1h0m-3-6h0m-4-1h0m-11 1h0m-43 9h0m-54-5h0m-19 2h0m-7 1h0m-27-3h0m-59-8h0m-53 0h0m-15 3h0m-60 2h0m-363 5h0m-16-8h0m-1 0h0m-9 1h0m-1-4h0m-3 5h0m-28 8h0m-22-4h0m-6 5h0m-5-5h0m-15 5h0m-16-5h0m-14-5h0m-4 9h0m-5-2h0m-3-10h0m-12-1h0m-11 2h0m-2 10h0m-9 14h0m21 3h0m6-8h0m1 4h0m2-8h0m10 10h0m4-5h0m3-6h0m15 8h0m4-4h0m1-5h0m4 14h0m6-9h0m22 5h0m5 3h0m11-7h0m8 8h0m0-1h0m6-6h0m10-2h0m11 5h0m3-2h0m3-6h0m18 4h0m6 0h0m523 7h0m26-6h0m10-3h0m47 10h0m23-9h0m3-1h0m71 5h0m15 0h0m9-7h0m16 10h0m64-9h0m5 2h0m35 3h0m1 0h0m16 3h0m37-1h0m11-9h0m13 13h0m48-6h0m30 0h0m25 8h0m-35 3h0m-119 7h0m-12-11h0m-3 7h0m-92-1h0m-30-1h0m-208 5h0m-532 3h0m-7 0h0m-4-2h0m-15-7h0m-7 10h0m-19-12h0m-2 3h0m-33 2h0m-10 3h0m-31 3h0m-10-2h0m-1-7h0m-18 2h0m-2-5h0m28 18h0m1 9h0m10-13h0m2 8h0m9-7h0m22-1h0m15 10h0m11 0h0m1-7h0m4 6h0m4 4h0m2 0h0m9-5h0m3 0h0m1 2h0m373-5h0m94 7h0m141-12h0m242 11h0m58 3h0m15-5h0m26 1h0m28 4h0m5-5h0m-100 19h0m-58-4h0m-31 5h0m-318-4h0m-48 1h0m-67-3h0m-7-2h0m-347 1h0m-7 1h0m-7-4h0m-4 8h0m-4-8h0m-2 7h0m-6 3h0m-5-4h0m-12 2h0m-14 1h0m-12-2h0m-17-1h0m-4 3h0m-19-8h0m26 21h0m16 2h0m6-9h0m4 9h0m18-13h0m2 0h0m7 7h0m390-2h0m38 0h0m86 3h0m82-8h0m79 10h0m112-3h0m18-4h0m4 0h0m130 10h0m37 9h0m-32 2h0m-42-7h0m-286 6h0m-48-8h0m-47 10h0m-24-8h0m-4 1h0m-22-3h0m-13 7h0m-6-4h0m-12 10h0m-20-3h0m-15-2h0m-14-2h0m-2 0h0m0 3h0m-12 0h0m-18-5h0m-368 0h0m-12 2h0m-2-3h0m-3 3h0m394 13h0m11 5h0m24 5h0m0-11h0m9 9h0m13-12h0m3 6h0m4 7h0m3-9h0m9-4h0m11 0h0m5 7h0m5 6h0m41-11h0m24 7h0m365-5h0m25 2h0m29 1h0m29 15h0m-34 5h0m-236 0h0m-100-12h0m-82 1h0m-47 1h0m-23 3h0m-17 6h0m-11 1h0m-7-7h0m-4 1h0m-2 3h0m-5 1h0m-19 2h0m-13-1h0m-6 0h0m-4-1h0m-6 4h0m-13-6h0m-2 4h0m15 8h0m1 2h0m4 4h0m4-6h0m4-4h0m5 2h0m4-3h0m0 9h0m1-1h0m6 2h0m7-8h0m6 2h0m0-1h0m0 1h0m1 10h0m1-13h0m4 8h0m5 5h0m8-1h0m1-3h0m0 0h0m1 3h0m3-11h0m8 3h0m12 7h0m161-11h0m84 11h0m12-3h0m47-1h0m49 6h0m30-6h0m-48 21h0m-229-3h0m-79 0h0m-25-8h0m-14 7h0m-20-1h0m-1-2h0m-13-2h0m-15 0h0m-1 9h0m-1-13h0m-2 5h0m-8-5h0m-4 1h0m-13-2h0m17 28h0m18-6h0m47 0h0m1-5h0m11 12h0m157-5h0m12 2h0m122-5h0m13-1h0m2 1h0m44 8h0m2-7h0m58 2h0m-48 13h0m-21-3h0m-7 4h0m-12 6h0m-11-5h0m-7 1h0m-19-5h0m-2-5h0m-157 2h0m-48 9h0m-62-11h0m-52 8h0m-9 0h0m-8-1h0m-11 1h0m-38-7h0m21 15h0m22-1h0m60 8h0m196-1h0m115 0h0m44 7h0m3-5h0m10-6h0m-17 16h0m-10 0h0m-2 1h0m-17-4h0m-4-1h0m-58 13h0m-62-10h0m-3-3h0m-56 3h0m-76-3h0m-32 4h0m-7 10h0m-55-2h0m-12 1h0m-23-5h0m-23-5h0m-9-3h0m21 17h0m6 4h0m10 7h0m14-11h0m107 4h0m147 7h0m94-9h0m6 7h0m17-1h0m6-4h0m8 6h0m21-8h0m17 19h0m-42 3h0m-6-3h0m-20 2h0m-2 0h0m-26-3h0m-1 7h0m-15-8h0m-21-5h0m-19 10h0m-19-3h0m-82 2h0m-4-10h0m-138 7h0m-25-1h0m-16 6h0m-2 0h0m-5 8h0m9 2h0m5-4h0m1-3h0m32 11h0m22-5h0m1 6h0m2 0h0m5 1h0m4-5h0m185-2h0m9 4h0m16-1h0m3-5h0m0-3h0m47 11h0m21-1h0m4-10h0m2 9h0m12-7h0m24 4h0m4-1h0m1 5h0m-59 9h0m-19-3h0m-8 11h0m-2 1h0m-247-10h0m-5 2h0m-14-4h0m-9 11h0m-14-2h0m-15 0h0m-7-10h0m-21 0h0m0 5h0m23 21h0m8-3h0m1-2h0m6-7h0m23 12h0m15-5h0m3-6h0m12 3h0m44 2h0m43 6h0m5 2h0m6-4h0m6-6h0m24 0h0m39 9h0m56-6h0m4-6h0m3 1h0m13 2h0m17 0h0m6 2h0m29 8h0m11-2h0m8-2h0m-72 18h0m-21-4h0m-4-1h0m-39 0h0m-5 4h0m0 1h0m-9-13h0m-12 1h0m-92 0h0m-3 3h0m-13-3h0m-58 5h0m-8 3h0m-5-9h0m-6 5h0m0 3h0m-2 0h0m-5 2h0m-1 2h0m-6 1h0m-4 1h0m-21-7h0m-9 5h0m-20-8h0m48 13h0m4 8h0m3 1h0m6-1h0m1-5h0m1-3h0m5 1h0m18 7h0m12 0h0m72 1h0m1-10h0m7 8h0m6-1h0m5-1h0m24-7h0m5 14h0m73-2h0m19-11h0m10 10h0m0-9h0m18 2h0m35-2h0m0 1h0m8-2h0m8-1h0m30 13h0m14 10h0m-31-7h0m-5 3h0m-26 2h0m-4-3h0m-17 11h0m0-12h0m-1 3h0m-7 1h0m-1-1h0m-3 6h0m-18 2h0m-21-10h0m-6 6h0m-24-8h0m-15 4h0m-18 9h0m-21-8h0m-35-3h0m-101-1h0m-4 12h0m-17-1h0m-9-3h0m-4-1h0m-10-7h0m-6 7h0m-12-1h0m34 10h0m19 3h0m10 3h0m95 4h0m44-8h0m14-1h0m2 2h0m20 8h0m9-12h0m1 4h0m2-5h0m33 0h0m28 4h0m19 1h0m1 8h0m16 0h0m11-1h0m43 9h0m-52 3h0m-19-10h0m-13 8h0m-17 2h0m-7-2h0m-7-8h0m-2 12h0m-26-9h0m-153 2h0m-65 1h0m220 10h0m15 4h0m10 4h0m61 14h0m-275-4h0m-5-2h0m-1 0h0m226 20h0m51-2h0m52-5h0m17 9h0m27-3h0m46 5h0m34-4h0m48 15h0m-154 0h0m-5 2h0m-41-5h0m-41 8h0m-78-10h0m-111 3h0m-62 20h0m171-4h0m24 0h0m92 3h0m4-6h0m14 3h0m16 2h0m79 4h0m101 13h0m-52-7h0m-7 1h0m-31 1h0m-44 4h0m-13-8h0m-8 2h0m-44 3h0m-55 8h0m-16-2h0m-188 2h0m-44-9h0m-3 10h0m14 5h0m42 8h0m60-8h0m134 4h0m13-5h0m94 7h0m143-4h0m-16 19h0m-23-7h0m-10 5h0m-60-6h0m-1 11h0m-52-2h0m-6-1h0m-3 0h0m-7 0h0m-17 0h0m-29 3h0m-2-10h0m-13 0h0m-72-3h0m-127 7h0m-113 1h0m12 6h0m1 4h0m19 7h0m3 0h0m13-1h0m162-7h0m34-1h0m19 1h0m1 2h0m55-3h0m32-2h0m24 14h0m11 0h0m25-7h0m10 1h0m10 2h0m41 2h0m20-10h0m8 7h0m6-1h0m13 0h0m3 6h0m8 7h0m-6-6h0m-14 8h0m-4 0h0m-1-3h0m-4 8h0m-6-7h0m-10-3h0m-25 6h0m-50-8h0m-73 13h0m-22-9h0m-4 1h0m-260 1h0m-24 9h0m6 7h0m5-8h0m337 1h0m12 3h0m52 7h0m7 3h0m47-12h0m3 12h0m9-12h0m8 10h0m4-5h0m3 0h0m0 0h0m5 4h0m1-4h0m0 2h0m8 4h0m3-2h0m3-4h0m9 14h0m-2-4h0m0 3h0m-32-1h0m-3 0h0m0 9h0m-5-3h0m-137-8h0m-10 3h0m-94-4h0m-230 3h0m-14-4h0m450 28h0m12-12h0m11 4h0m4 0h0m3-3h0m-1 13h0m-18 3h0m4 18h0" stroke="#34378f" stroke-width="0.7" opacity="0.5" vector-effect="non-scaling-stroke" stroke-linecap="round" fill="none"/>
<path transform="scale(.1)" d="M5282 2309h0m-16 9h0m0 5h0m51 9h0m-11 5h0m-5-2h0m-8-1h0m-11-6h0m-25 9h0m-21 2h0m-13-4h0m0-6h0m-5 0h0m-29 23h0m40-3h0m3 0h0m0-1h0m27 5h0m24-5h0m8-4h0m26 3h0m15 6h0m-2 8h0m-24 7h0m-7-6h0m-19 7h0m-21-14h0m-23 9h0m-9 0h0m-7 3h0m-14-4h0m-1-7h0m-7 2h0m-7 10h0m-14-5h0m21 15h0m40-7h0m14 12h0m16-12h0m27 0h0m16 6h0m5-4h0m25 0h0m2 9h0m45 17h0m-31-2h0m-2-2h0m-4-7h0m-15 3h0m-25 1h0m-52 4h0m-60-9h0m-17 19h0m2-3h0m14 2h0m22-4h0m128 11h0m2-10h0m12 1h0m1 7h0m18-5h0m-12 23h0m-1-13h0m-9 1h0m-10 11h0m-2-1h0m-6 2h0m-141-10h0m-11-1h0m-14 5h0m-11 16h0m18 1h0m2-8h0m1 2h0m2-2h0m156 3h0m2-1h0m3-3h0m9 12h0m7 0h0m4-4h0m7-7h0m3 0h0m24 7h0m19 16h0m-25-2h0m-9-1h0m-7-3h0m-1 5h0m-4 4h0m-2-4h0m-33-5h0m-156 9h0m-7-12h0m-4 4h0m-1-1h0m-21 7h0m11 6h0m3 10h0m3-9h0m14 7h0m153 5h0m17-4h0m2 3h0m31-1h0m3-12h0m1 6h0m8 4h0m12-6h0m3 12h0m-22 3h0m-18 9h0m-1-8h0m-21-5h0m-10 4h0m0-2h0m-1-2h0m-146 14h0m-14-6h0m0 3h0m-67 4h0m52 3h0m7 10h0m11-4h0m2 5h0m2 0h0m4-13h0m8 0h0m15 7h0m103-3h0m4-5h0m19 8h0m4 0h0m3-5h0m0-2h0m12 10h0m21-11h0m5 6h0m3-5h0m1 4h0m3 1h0m2 6h0m3-11h0m22 8h0m-15 16h0m-4-10h0m-3 3h0m-1 11h0m-27-4h0m-5-7h0m0-1h0m-3 11h0m-1-13h0m-12 4h0m-6-1h0m-7 5h0m-7 2h0m-4-8h0m-3 11h0m-4-11h0m-9 0h0m-103 6h0m-1-3h0m-10-3h0m-58 9h0m-72 9h0m70 0h0m178 0h0m18 8h0m3-2h0m8-2h0m8 3h0m5-9h0m4 10h0m3-9h0m3 6h0m10-9h0m6 5h0m7 0h0m26-5h0m-35 19h0m-7 2h0m-50 6h0m-8-5h0m-132 6h0m-135-1h0m42 5h0m205 8h0m29-6h0m31 8h0m1-1h0m2-5h0m5 7h0m4-4h0m35-2h0m54 5h0m-9 11h0m-10 4h0m-3-8h0m-19-3h0m-37 6h0m-2 2h0m-5-10h0m-12 1h0m0 4h0m-2-1h0m-13 2h0m-1-4h0m-27 0h0m-108 8h0m-79 3h0m-1-3h0m-30 2h0m-124 1h0m-5 9h0m79-2h0m25-2h0m8 3h0m7 6h0m5-8h0m42 4h0m13-6h0m41 8h0m130-3h0m10-7h0m6 11h0m6-8h0m6 0h0m6-3h0m17 1h0m10 3h0m1 2h0m35-4h0m15 11h0m8-7h0m19 19h0m-16-8h0m-24 10h0m-9-6h0m-34 0h0m-1 0h0m-3 8h0m-4-1h0m0-13h0m-3 14h0m-1-6h0m-13 5h0m-24-10h0m-9 10h0m-45-10h0m-77 4h0m-45 2h0m-10-9h0m-34 9h0m-23 2h0m-27-7h0m-51 10h0m-1-3h0m-95 12h0m103-3h0m58 9h0m237-13h0m30 13h0m32-10h0m10-4h0m3 12h0m14 1h0m12-2h0m2-9h0m1 6h0m39-5h0m3 9h0m-49 9h0m-7-5h0m-1 7h0m-4-6h0m-5 9h0m-2 1h0m-6-7h0m-1 6h0m-2-2h0m-10 4h0m-2-11h0m-8 3h0m-18 3h0m-16-3h0m-107 0h0m-11-5h0m-44 9h0m-1-8h0m-47-1h0m-5 11h0m-3-4h0m-57-5h0m-45 11h0m-69-9h0m-6-3h0m-129 19h0m245 5h0m5-2h0m5 3h0m23-6h0m55 2h0m25 5h0m83-12h0m75 0h0m55 1h0m11 12h0m34-2h0m6 3h0m25 0h0m5 9h0m-2-4h0m-31-1h0m-6 0h0m-56 6h0m-3 2h0m-1-9h0m-8 10h0m-11-3h0m-37-8h0m0 4h0m-8 8h0m-6-9h0m-89-2h0m-3 3h0m-43 8h0m0-5h0m-7-2h0m-39-6h0m-5 14h0m-24-3h0m-12-8h0m-48 6h0m-65-9h0m65 18h0m1 3h0m35 7h0m16-12h0m17 8h0m11 4h0m23-9h0m4 4h0m69-1h0m13 7h0m50-1h0m9-5h0m43 2h0m7-9h0m17-1h0m6 11h0m25-10h0m14 7h0m2-8h0m5 3h0m0 3h0m46-5h0m31 24h0m-11 2h0m-16 2h0m-2 0h0m-8-9h0m-2-5h0m-8 8h0m-49 3h0m-9-2h0m-3-8h0m-17 5h0m-56-2h0m-18 9h0m-5-11h0m-40 10h0m-8 1h0m-2-4h0m-61 1h0m-19-8h0m-6-2h0m-18 11h0m-2-1h0m-20-6h0m-52 1h0m-29 3h0m-19 3h0m-8 0h0m-17-3h0m-24 17h0m47 2h0m192-2h0m3 3h0m115-10h0m33-3h0m25 10h0m6-3h0m5 0h0m1-3h0m9 0h0m13 8h0m1 1h0m13-9h0m1 6h0m18-8h0m4 0h0m11 15h0m-29 4h0m-16 5h0m-4-2h0m-12 0h0m0 3h0m-7-11h0m-11 6h0m-1 7h0m-18-11h0m-29 5h0m-35-2h0m-4 5h0m-49-2h0m-1-2h0m-16 6h0m-2-6h0m-6-5h0m-3 2h0m-3-4h0m-15 1h0m-51 4h0m-18-2h0m-18 10h0m-36-6h0m-14 5h0m-81 6h0m63 8h0m1-4h0m32-7h0m6 4h0m33-2h0m2 12h0m36-6h0m8-8h0m7 8h0m5-8h0m3 12h0m16-7h0m11 9h0m45-6h0m9 0h0m8-3h0m43-4h0m15 11h0m44-1h0m8-1h0m9-5h0m0 0h0m23 1h0m-4 16h0m-17 7h0m-6-4h0m-6-8h0m-6 3h0m-5 5h0m-19-2h0m-39-1h0m-35 0h0m-23 5h0m-80-8h0m-58-1h0m-6 0h0m-10 1h0m-47 6h0m-58-8h0m-41 10h0m-5-1h0m-67 1h0m-59 15h0m23-5h0m27-3h0m31 1h0m117 1h0m9 1h0m24 7h0m15-4h0m8 2h0m0-3h0m42-7h0m14 7h0m0 4h0m4-11h0m20 3h0m4 1h0m19 3h0m27-9h0m9 2h0m33 2h0m21-4h0m115 3h0m7 7h0m2 4h0m25-9h0m7 1h0m2-2h0m3 10h0m1-9h0m34 3h0m-28 21h0m-10-4h0m-12-4h0m-11 5h0m-2-10h0m-130 1h0m-28 3h0m-8 3h0m-39-5h0m-12 4h0m-8 5h0m-1 2h0m-16-9h0m-16 5h0m-31-6h0m-10 5h0m-19-9h0m-62 7h0m-55-6h0m-136 16h0m5-2h0m232 13h0m10-12h0m32-1h0m28 13h0m14-1h0m42-5h0m9 4h0m6 2h0m19-11h0m16 4h0m0 8h0m67-4h0m122-8h0m-120 14h0m-108 5h0m-13-1h0m-13-1h0m-4 3h0m-10 5h0m-45-11h0m-6 4h0m-28-4h0m-23 8h0m-134-8h0m-51-1h0m-28 14h0m-43-6h0m47 12h0m32 5h0m24 2h0m5-6h0m9 4h0m6-1h0m49-5h0m22-4h0m26 3h0m9-1h0m54-1h0m8 13h0m78-14h0m95 14h0m45-12h0m1 7h0m6-6h0m45 0h0m46 8h0m-87 4h0m-28 13h0m-33-13h0m-10 7h0m-43 4h0m-31-11h0m-174 5h0m-14 6h0m-21-6h0m-27 6h0m-83-3h0m-51-3h0m25 23h0m209 1h0m45-2h0m23-5h0m31-4h0m12 3h0m39-3h0m31-2h0m14 1h0m23 10h0m28-1h0m38 14h0m-50 1h0m-25-5h0m-211-2h0m-19 1h0m-241 9h0m-23-13h0m35 23h0m57-8h0m40 10h0m45-3h0m68-1h0m37 5h0m146-1h0m92 1h0m-426 13h0m35 7h0m65 11h0m99-11h0m62 1h0m121-1h0m73 0h0m25 3h0m-195 13h0m178 18h0m27 12h0m-216 20h0m33-8h0m132 40h0m-202 144h0m85 17h0m-56 46h0m95-1h0m58 13h0m-71 7h0m-58 1h0m-49 8h0m74 5h0m24-1h0m31 4h0m66 3h0m-68 6h0m-21 1h0m-3 3h0m-12 3h0m-39-10h0m-190-4h0m53 23h0m187 1h0m24 2h0m25-2h0m47-5h0m6-3h0m-121 25h0m-8-8h0m-66 18h0m80 5h0m7-10h0m45 17h0m-20 0h0m-13 11h0m-58-13h0m-47-1h0m-109 25h0m80-4h0m18 4h0m71-7h0m62 1h0m11-4h0m25 16h0m-41 8h0m-33-3h0m-58 7h0m-72-2h0m106 6h0m70 4h0m8-2h0m30 23h0m-15-2h0m-27-2h0m-130 4h0m94 4h0m100 10h0m-91 5h0m-35 12h0m-16 14h0m116 25h0m-4 15h0m-45-5h0" stroke="#d6457e" stroke-width="0.8" opacity="0.6" vector-effect="non-scaling-stroke" stroke-linecap="round" fill="none"/>
<path transform="scale(.1)" d="M5277 2319h0m37-3h0m13 16h0m-26 2h0m-22-3h0m-58 8h0m-16 10h0m18-6h0m24 11h0m30-5h0m2-1h0m1-2h0m9 4h0m13 3h0m6-3h0m1-8h0m4 7h0m3-5h0m20 18h0m-9 0h0m-13 1h0m-5-7h0m-12 3h0m-5-2h0m-7 5h0m-17 3h0m-2 3h0m-14 0h0m-28-7h0m-19-3h0m-19 20h0m9-5h0m5 3h0m5-3h0m3 6h0m1 2h0m0-5h0m11-6h0m0 10h0m6-8h0m8 11h0m83-6h0m6 3h0m11-6h0m8 9h0m16 1h0m13 11h0m-1-7h0m-17 8h0m-29-5h0m-16-2h0m-93 6h0m-23-8h0m0 3h0m-12 7h0m-13 4h0m1 12h0m15-1h0m1 2h0m136-6h0m12 3h0m18-1h0m43 4h0m-18 14h0m-9-12h0m-2 11h0m-7-12h0m-1 2h0m-158 5h0m-15-3h0m-10 20h0m15-3h0m165 2h0m1-7h0m15 10h0m19 1h0m52 15h0m-74-7h0m-8-2h0m-176-3h0m-13 1h0m-9-1h0m5 25h0m31 1h0m143 3h0m3-6h0m15 5h0m6-10h0m3 11h0m7-5h0m2-2h0m21-1h0m2 0h0m10-1h0m-14 11h0m-2 8h0m-19-4h0m-3 4h0m-5 5h0m-5 0h0m-6-10h0m-11 3h0m0 0h0m-2 3h0m-13-3h0m-6 6h0m-121-3h0m-124 3h0m102 6h0m1 8h0m12-10h0m2-2h0m6 11h0m139-1h0m1-7h0m16 6h0m0-8h0m14 5h0m6 8h0m10-5h0m8-8h0m18 6h0m0 21h0m0 1h0m-4-6h0m-10 3h0m-14-7h0m-4 6h0m-5-7h0m-2 11h0m-4-11h0m-3-1h0m0 6h0m-11 3h0m0-11h0m-10 9h0m-1-6h0m-1 6h0m-21 3h0m-9-10h0m-8 12h0m-2-8h0m-73 0h0m-35 4h0m-13 2h0m-2-9h0m-96 18h0m47-4h0m161 5h0m5 4h0m26-8h0m7 7h0m15-10h0m1 11h0m2-4h0m11 1h0m27-8h0m3 0h0m8 11h0m5-4h0m10-1h0m-24 12h0m-15 2h0m-3 5h0m-14 1h0m-1-3h0m-4-5h0m0 11h0m-20-3h0m-19-5h0m-231-5h0m-7 10h0m77 18h0m102 0h0m13-5h0m19-4h0m18 4h0m29-3h0m1-4h0m5 4h0m3 1h0m6-1h0m1 8h0m2-3h0m15 2h0m0-9h0m6 7h0m14-1h0m35 3h0m12 10h0m-19 5h0m-3-2h0m-5-11h0m-8 11h0m-7-3h0m-3 3h0m-14-10h0m-1 12h0m-4-11h0m-13 7h0m0-8h0m-11-1h0m-36 7h0m-6-5h0m-103 11h0m-23-1h0m-200-11h0m245 24h0m101-7h0m1 9h0m15 1h0m11-7h0m4 2h0m6 3h0m3-11h0m0 4h0m11 0h0m6-2h0m0 10h0m10-7h0m0 6h0m5-2h0m29 5h0m13-1h0m-3 2h0m-23 6h0m-9 3h0m-1 2h0m-24 3h0m-5-10h0m-7-1h0m-55 5h0m-177-7h0m-60 11h0m-32-4h0m-78 2h0m-67-1h0m83 15h0m182-2h0m119-6h0m59 10h0m3-2h0m38 5h0m0-11h0m15 1h0m3-1h0m6 4h0m9-6h0m24 6h0m2 4h0m-33 12h0m-21 6h0m-12-4h0m-1-3h0m-9 4h0m-11-4h0m-2 0h0m0 7h0m-5-6h0m-1 5h0m-5-10h0m-23 9h0m0-5h0m-144-1h0m-26-4h0m-27 12h0m-62-11h0m-78 25h0m36-2h0m81-8h0m2 0h0m56-1h0m24-2h0m99 9h0m46-7h0m2-2h0m11 14h0m2-13h0m8 9h0m11-4h0m10 3h0m31-5h0m11-1h0m1 4h0m59 18h0m-49-8h0m-1 1h0m-53 4h0m-1 0h0m-3 6h0m-65-12h0m-64 4h0m-64 6h0m0-6h0m-105 8h0m-29-4h0m-21-6h0m-103 23h0m256-3h0m100-2h0m30 0h0m8 5h0m18 0h0m5 1h0m12-6h0m3-1h0m4 2h0m10 6h0m14-10h0m1 11h0m3-1h0m0-8h0m11-2h0m4 7h0m0 4h0m3-6h0m13-1h0m7-3h0m5 3h0m16 5h0m14-7h0m15-5h0m-12 23h0m-1 2h0m-44-9h0m-21 3h0m-10 7h0m-5-6h0m-38 0h0m-70-2h0m-23 11h0m-105-11h0m-34 6h0m-6 5h0m-16 0h0m-6-4h0m-55 1h0m-16 1h0m-29 6h0m129 10h0m66-11h0m36-1h0m84 9h0m21-3h0m29-7h0m3 6h0m9-1h0m4 6h0m3 0h0m1-3h0m2 3h0m6-9h0m8 11h0m1-4h0m1-2h0m6-1h0m15 8h0m62 9h0m-8 1h0m-8-8h0m-12 1h0m-10 10h0m-19-8h0m-7-2h0m-6 1h0m-15 7h0m-1-10h0m-5 9h0m-3-8h0m-19 6h0m-6-2h0m-17-3h0m-4 6h0m-2-5h0m-17 11h0m-91-13h0m-1 6h0m-13-4h0m-37 9h0m-60-6h0m-3-1h0m-93-2h0m-14-3h0m-81 7h0m-33 20h0m4-8h0m194 9h0m92 1h0m52-7h0m48-7h0m30 0h0m1 1h0m13-1h0m22 5h0m11 1h0m11-3h0m1 8h0m15-10h0m5 10h0m5-7h0m15 8h0m0-5h0m130-1h0m-130 9h0m-13 8h0m-2 3h0m-12-5h0m-5 4h0m-11-7h0m-8-2h0m-2 11h0m-84-1h0m-17-8h0m-55 4h0m-3-6h0m-39 11h0m-13-2h0m-19-4h0m-20-2h0m-4-1h0m0 3h0m-40 7h0m-28-11h0m-11 2h0m-49 7h0m-69 1h0m-110-10h0m122 27h0m62-1h0m29-12h0m1 4h0m8 2h0m48 2h0m15-6h0m33 0h0m1 4h0m6 7h0m41-1h0m72-9h0m85 10h0m45-6h0m8-7h0m1 1h0m9 7h0m16 5h0m35-13h0m1 19h0m-32 9h0m-12-3h0m-6-3h0m-1-6h0m-40 10h0m-96-5h0m-42-7h0m-23 13h0m-32-7h0m-27 5h0m-27-3h0m-7 3h0m-9-4h0m-5-7h0m-1 10h0m-18-2h0m-9 5h0m-28-8h0m-5 2h0m-2 4h0m-40-2h0m-13-3h0m-83-6h0m109 22h0m6 4h0m9 2h0m9-8h0m6 2h0m6-3h0m0 10h0m51-10h0m2-1h0m4 7h0m60-3h0m78 0h0m24-5h0m30 2h0m32 7h0m39-2h0m5-2h0m24 0h0m50 11h0m-3 2h0m-3 8h0m-6-2h0m-167-7h0m-44 7h0m-44-9h0m-39 6h0m-86-1h0m-30-2h0m-17-4h0m-82 6h0m-1 0h0m-66 16h0m65-4h0m2 1h0m50 2h0m8-2h0m4 8h0m20-10h0m26-3h0m38 11h0m10-9h0m47 8h0m8-10h0m2 11h0m44-2h0m11 4h0m23-1h0m11-8h0m23 5h0m2 0h0m37 0h0m162-9h0m-174 18h0m-27 1h0m-31 2h0m-64 8h0m-1-12h0m-19 2h0m-22 4h0m-24 0h0m-1-7h0m-8 4h0m-22 2h0m-3-1h0m-9 4h0m-54-5h0m-21-4h0m-57 8h0m-19-4h0m91 23h0m15 1h0m1-7h0m7 7h0m1-10h0m0 2h0m7 0h0m35-6h0m34 9h0m30 1h0m23-1h0m76 3h0m38 0h0m14-5h0m2 3h0m6-3h0m20 1h0m13-3h0m2 3h0m13-2h0m16 6h0m5-7h0m17-5h0m16 0h0m-38 26h0m-83-7h0m0 5h0m-96 2h0m-2-10h0m-15 1h0m-48 8h0m-22 1h0m-1-5h0m-10 3h0m-84-3h0m81 23h0m19-14h0m55 2h0m1 7h0m21-1h0m60-3h0m61 9h0m23-5h0m14 4h0m20-12h0m32 5h0m22 8h0m97-12h0m-129 16h0m-12-1h0m-18-2h0m-49 3h0m-14 8h0m-12-4h0m-51 5h0m-87-2h0m-4 0h0m-4-4h0m-6 7h0m-32-12h0m-12 8h0m-69 5h0m-5-11h0m-82 0h0m-17 15h0m299 8h0m15-2h0m7-1h0m17-3h0m41 7h0m27-11h0m44 2h0m30 8h0m62-5h0m-35 10h0m-21 3h0m-131 2h0m-24 6h0m-6 2h0m-2-12h0m-241-2h0m-13 29h0m43-13h0m179 2h0m67 0h0m15-2h0m28 13h0m67-3h0m4-3h0m11-6h0m15 11h0m0 4h0m-10 6h0m-41 3h0m-10-11h0m-33 12h0m-52-4h0m-5-5h0m-1 11h0m-198-1h0m63 2h0m26 10h0m159 3h0m63 0h0m42-9h0m71 9h0m-110 13h0m-24-3h0m-229-4h0m-43 17h0m45-3h0m52 4h0m90-5h0m96 4h0m-16 11h0m-10 3h0m-196 14h0m107 0h0m79 5h0m-210 15h0m175 60h0m-20 122h0m11 13h0m-59 7h0m14 25h0m148-6h0m-176 16h0m0 7h0m-104-7h0m128 15h0m21 8h0m19-14h0m21 3h0m11 2h0m4 19h0m-121 5h0m-14-13h0m-42 8h0m117 17h0m0-3h0m83-3h0m0 3h0m-268 18h0m191 10h0m-32 21h0m28 9h0" stroke="#f0903c" stroke-width="0.8" opacity="0.65" vector-effect="non-scaling-stroke" stroke-linecap="round" fill="none"/>
<path transform="scale(.1)" d="M5207 2831h0m-20 41h0m-4 6h0m-20-11h0m-20 9h0m-4 7h0m27 0h0m13-1h0m1 3h0m4-3h0m5 7h0m2-4h0m1 3h0m16 3h0m12-6h0m-30 18h0m-3 0h0m0-8h0m-4 3h0m-8 11h0m-3-3h0m-3-3h0m-4 6h0m-5-8h0m-14-3h0m-7 1h0m-4 19h0m9-5h0m4-3h0m5 7h0m4-2h0m12 4h0m1-8h0m36-1h0m11 18h0m-23 6h0m-10-3h0m-12-2h0m-4 10h0m-6-10h0m-3 2h0m-23 11h0m25 5h0m10 4h0m11 3h0m2-10h0m26 7h0m-25 7h0m0 2h0m-3 2h0m-15 0h0m-2-6h0m-3 9h0m-2-7h0m-1 9h0m-6 2h0m-18-8h0m49 14h0m19-1h0m-67 15h0m101 350h0m2 2h0m-20 32h0m22-6h0m7 0h0m11 5h0m13 14h0m-10 3h0m-4-10h0m-2 1h0m-10 8h0m-1-13h0m0 9h0m-3-7h0m-2 12h0m-1-11h0m0 11h0m0-12h0m-1 8h0m-1 4h0m-4-13h0m-1 8h0m-2 1h0m-8-8h0m-3 3h0m-5 9h0m-4 11h0m2-6h0m1-3h0m2 11h0m1-11h0m0 10h0m3 3h0m4-1h0m4-12h0m2 7h0m4 2h0m1-4h0m2 0h0m0 4h0m1 2h0m2-9h0m0 5h0m7 0h0m3-3h0m1 6h0m1-10h0m0 13h0m0-9h0m2 3h0m2-1h0m4 0h0m2-7h0m9 29h0m-11-9h0m-9 6h0m-8-8h0m0 9h0m-1-3h0m0-7h0m-1 8h0m0-8h0m-3 11h0m-1-9h0m-4-4h0m0 3h0m-19 0h0m16 14h0m2 10h0m2-3h0" stroke="#d9d93a" stroke-width="1.0" opacity="0.9" vector-effect="non-scaling-stroke" stroke-linecap="round" fill="none"/>
<line x1="408.2" y1="226.3" x2="408.2" y2="350.4" stroke="#8c8c8c" stroke-width="0.9"/>
<line x1="408.2" y1="350.4" x2="562.5" y2="350.4" stroke="#8c8c8c" stroke-width="0.9"/>
<line x1="424.9" y1="350.4" x2="424.9" y2="353.2" stroke="#8c8c8c" stroke-width="0.7"/>
<text x="424.9" y="363.1" font-size="7.6" text-anchor="middle" fill="#3a3a3a" font-weight="normal" >−10</text>
<line x1="458.3" y1="350.4" x2="458.3" y2="353.2" stroke="#8c8c8c" stroke-width="0.7"/>
<text x="458.3" y="363.1" font-size="7.6" text-anchor="middle" fill="#3a3a3a" font-weight="normal" >−5</text>
<line x1="491.7" y1="350.4" x2="491.7" y2="353.2" stroke="#8c8c8c" stroke-width="0.7"/>
<text x="491.7" y="363.1" font-size="7.6" text-anchor="middle" fill="#3a3a3a" font-weight="normal" >0</text>
<line x1="525.1" y1="350.4" x2="525.1" y2="353.2" stroke="#8c8c8c" stroke-width="0.7"/>
<text x="525.1" y="363.1" font-size="7.6" text-anchor="middle" fill="#3a3a3a" font-weight="normal" >5</text>
<line x1="558.5" y1="350.4" x2="558.5" y2="353.2" stroke="#8c8c8c" stroke-width="0.7"/>
<text x="558.5" y="363.1" font-size="7.6" text-anchor="middle" fill="#3a3a3a" font-weight="normal" >10</text>
<line x1="405.4" y1="255.7" x2="408.2" y2="255.7" stroke="#8c8c8c" stroke-width="0.7"/>
<text x="402.0" y="258.3" font-size="7.6" text-anchor="end" fill="#3a3a3a" font-weight="normal" >4</text>
<line x1="405.4" y1="287.7" x2="408.2" y2="287.7" stroke="#8c8c8c" stroke-width="0.7"/>
<text x="402.0" y="290.3" font-size="7.6" text-anchor="end" fill="#3a3a3a" font-weight="normal" >0</text>
<line x1="405.4" y1="319.7" x2="408.2" y2="319.7" stroke="#8c8c8c" stroke-width="0.7"/>
<text x="402.0" y="322.3" font-size="7.6" text-anchor="end" fill="#3a3a3a" font-weight="normal" >−4</text>
<text x="485.1" y="377.2" font-size="8.8" text-anchor="middle" fill="#3a3a3a" font-weight="normal" textLength="30.2" lengthAdjust="spacingAndGlyphs" >UMAP_1</text>
<text transform="translate(386.2,288.5) rotate(-90)" font-size="8.8" text-anchor="middle" fill="#3a3a3a" textLength="31.4" lengthAdjust="spacingAndGlyphs">UMAP_2</text>
<circle cx="562.2" cy="270.2" r="2.1" fill="#d8d83a"/>
<text x="569.1" y="273.09999999999997" font-size="8.4" fill="#3a3a3a">Hyperexpanded (0.1 &lt; X &lt;= 1)</text>
<circle cx="562.2" cy="279.7" r="2.1" fill="#f08a3c"/>
<text x="569.1" y="282.59999999999997" font-size="8.4" fill="#3a3a3a">Large (0.01 &lt; X &lt;= 0.1)</text>
<circle cx="562.2" cy="288.6" r="2.1" fill="#d6457a"/>
<text x="569.1" y="291.5" font-size="8.4" fill="#3a3a3a">Medium (0.001 &lt; X &lt;= 0.01)</text>
<circle cx="562.2" cy="297.4" r="2.1" fill="#6a2c9a"/>
<text x="569.1" y="300.29999999999995" font-size="8.4" fill="#3a3a3a">Small (1 × 10<tspan font-size="5" dy="-3">−4</tspan><tspan dy="3"> &lt; X &lt;= 0.001)</tspan></text>
<circle cx="562.2" cy="307.3" r="2.1" fill="#2a2f8a"/>
<text x="569.1" y="310.2" font-size="8.4" fill="#3a3a3a">Rare (0 &lt; X &lt;= 1 × 10<tspan font-size="5" dy="-3">−4</tspan><tspan dy="3">)</tspan></text>
<text x="0.1" y="425.3" font-size="13" text-anchor="start" fill="#111" font-weight="bold" stroke="#111" stroke-width="0.4">e</text>
<use href="#u_body" transform="translate(108.2,495.2) scale(0.116,0.171)" stroke="#c8c8c8" stroke-width="1.6" opacity="0.95"/>
<use href="#u_naive" transform="translate(108.2,495.2) scale(0.116,0.171)" stroke="#c6c6c6" stroke-width="1.3" opacity="0.95"/>
<path transform="scale(.1)" d="M1064 4491h0m-2 2h0m-7 13h0m3 4h0m7 2h0m1-6h0m3 3h0m1-1h0m0 19h0m-4 0h0m-3 1h0m-1-3h0m0-5h0m-1 3h0m-1 5h0m0-12h0m0 13h0m-2-4h0m0-5h0m-7 1h0m-3 13h0m8 7h0m2-5h0m6 1h0m4 0h0" stroke="#e0253a" stroke-width="1.0" opacity="0.95" vector-effect="non-scaling-stroke" stroke-linecap="round" fill="none"/>
<path transform="scale(.1)" d="M1182 4614h0m-3-9h0m-1 10h0m-7 16h0m13-7h0m5 15h0m-3 3h0m-2 7h0m-4-13h0m-1 4h0m-4 23h0m2 5h0m-8 8h0m-1-7h0m-10 12h0m6 7h0m5 6h0m2-5h0m6-3h0m1-5h0m3 7h0m0 1h0m1-2h0m3 3h0m10-9h0m1 0h0m7 15h0m-2 3h0m-19 7h0m-2-3h0m-2-8h0m-2 10h0m-1 4h0m-1-14h0m0 10h0m-6-6h0m-2-1h0m0 10h0m-2-5h0m-5 4h0m-1-11h0m-7 28h0m10-14h0m3 1h0m3 5h0m3 3h0m2 4h0m7-6h0m4-5h0m11 6h0m-5 10h0m-2 0h0m-2 10h0m-8-9h0m-1-4h0m-2 2h0m-1 10h0m-5-11h0m-21-1h0m20 23h0" stroke="#1f78c8" stroke-width="1.0" opacity="0.95" vector-effect="non-scaling-stroke" stroke-linecap="round" fill="none"/>
<path transform="scale(.1)" d="M1343 4692h0m91 6h0m-85 4h0m-190 62h0m165 6h0m-66 26h0m-2 2h0m-46-1h0m-23 15h0m25-2h0m5-6h0m9 6h0m7-10h0m5 13h0m0-12h0m22 8h0m5 0h0m117 5h0m9-11h0m5 25h0m-68-13h0m-35 7h0m-20-5h0m-5 10h0m-8-1h0m-4-4h0m-1-1h0m-1 2h0m-6-3h0m-6 7h0m-6-9h0m0 7h0m-7 2h0m-2-12h0m0 1h0m0 11h0m-1-9h0m0 2h0m-4 0h0m-9 9h0m-1-14h0m-2 11h0m-76 4h0m41 1h0m38 7h0m14 4h0m0-7h0m1 6h0m0 2h0m2-3h0m2-7h0m1-3h0m4 10h0m3 1h0m0-10h0m4 1h0m0 5h0m2-4h0m1 3h0m1-5h0m3 4h0m1 8h0m6-9h0m1 10h0m7-1h0m3 0h0m7-13h0m49 1h0m131 11h0m-169 4h0m-60 0h0m0 3h0m-7-4h0m-13 2h0m-14 4h0m-3-3h0m-18 25h0m35-3h0m12 4h0m9-5h0m3-4h0m4-1h0m2 1h0m1 8h0m69 2h0m-26 7h0m-86-5h0m12 21h0m12-5h0m62 4h0m8 3h0m43-4h0m87 11h0m-126-1h0m-62 10h0m0-11h0m-18 6h0m-6-6h0m-47 4h0m58 16h0m47 9h0m102 8h0m-156-2h0m9 17h0m42-7h0m-98 25h0m-35-3h0m42 15h0m-140 8h0m144 52h0" stroke="#f28a2e" stroke-width="1.0" opacity="0.95" vector-effect="non-scaling-stroke" stroke-linecap="round" fill="none"/>
<path transform="scale(.1)" d="M1387 4946h0m-10-5h0m-4 16h0m5-5h0m0 12h0m-10 2h0m-6 16h0m1 11h0m24-13h0m-45 29h0m-7 25h0m-1 4h0m-26 2h0m3 14h0m2-2h0m6-1h0m2-7h0m3-4h0m0 4h0m2 0h0m-10 12h0m-7 9h0m0-7h0m-3 10h0m-2-10h0m-4 11h0m-1-12h0m-3 8h0m-16 18h0m1-7h0m2 6h0m3 2h0m9-14h0m1 10h0m0-7h0m-13 23h0m0-3h0m-14 3h0m-2 2h0m-7-2h0m-6 2h0m-12-2h0m-18 8h0m17 0h0m1 3h0m3 7h0m3-8h0m1 6h0m1-6h0m11-1h0m11-2h0m-31 17h0m-4 5h0m0-3h0m-10 5h0m-14-2h0m-4 1h0m-21 6h0m2-1h0m1 13h0m1 0h0m21-6h0m5-2h0m2 2h0m1 0h0m17-7h0m-32 18h0m-6 3h0m-1-5h0m-10 9h0m0-1h0m-3-4h0" stroke="#22a04a" stroke-width="1.0" opacity="0.95" vector-effect="non-scaling-stroke" stroke-linecap="round" fill="none"/>
<path transform="scale(.1)" d="M1187 4934h0m13-7h0m3 7h0m18-3h0m5 2h0m1-13h0m2 5h0m0-5h0m11 11h0m5-2h0m9-5h0m0-1h0m6 21h0m-16 5h0m-1-10h0m-11-2h0m-1 7h0m-15-2h0m-5-4h0m-3 0h0m0 11h0m-4-14h0m-3 9h0m-2-3h0m-21 21h0m18 0h0m9-12h0m0 5h0m2-4h0m1 0h0m8 9h0m5-2h0m5-8h0m5 0h0m1 9h0m5-4h0m4-5h0m6 7h0m2 3h0m3-6h0m32-3h0m-43 15h0m-16 0h0m-6 0h0m-5 1h0m-9 11h0m-1-9h0m-12 0h0m-3 7h0m-1-3h0m-19-5h0m0 21h0m7 3h0m1-2h0m3-7h0m5 11h0m3-12h0m2 7h0m4-8h0m3 12h0m26-9h0m-14 16h0m-12 4h0m-11-6h0m-8 5h0m0-4h0m0 7h0m-1 3h0m-6 11h0m5-8h0m2 3h0m11 3h0m1 4h0m1-10h0m4 7h0m1-9h0m14 18h0m-26 1h0m-22-2h0m18 16h0" stroke="#8a5cb8" stroke-width="1.0" opacity="0.95" vector-effect="non-scaling-stroke" stroke-linecap="round" fill="none"/>
<path transform="scale(.1)" d="M1349 4353h0m53 18h0m0 8h0m-9-9h0m-1 2h0m-20-5h0m-24 4h0m1 9h0m13 3h0m1 8h0m17-6h0m0 1h0m25-6h0m13 3h0m7 7h0m8-7h0m7 4h0m1 16h0m-12 2h0m-15-5h0m-3-1h0m-11 0h0m-11 3h0m-24 1h0m-27 0h0m-11 4h0m-3 1h0m-5 10h0m2-8h0m7 11h0m8 1h0m2 1h0m11-13h0m1 7h0m94 6h0m2 0h0m5-12h0m6 3h0m1 3h0m7 1h0m-4 12h0m0 2h0m-2 5h0m-13-3h0m-2 0h0m-110-3h0m-8 1h0m-1 6h0m-6-12h0m-2-1h0m-18 29h0m9-8h0m1 4h0m10 2h0m128-9h0m8 6h0m2-3h0m4 6h0m20 13h0m-4 4h0m-5-11h0m-6 2h0m-1 2h0m-9 1h0m-127-4h0m-14-1h0m-11 5h0m2 13h0m2-3h0m0 5h0m8-8h0m145 1h0m5 12h0m5-7h0m12 6h0m4 5h0m-17 1h0m-8 9h0m-2-12h0m-141 5h0m-1 4h0m-8-6h0m-9 3h0m-2 3h0m0-3h0m0-3h0m-6-1h0m0 20h0m10 2h0m1-1h0m6-2h0m1 8h0m5-8h0m179 16h0m-17 2h0m-14 1h0m-148-9h0m-4 8h0m-6-7h0m-1 9h0m-6-3h0m8 7h0m121 10h0m12 0h0m4-8h0m13 0h0m5 0h0m1 1h0m1 4h0m9 0h0m20 14h0m-2 3h0m-16-4h0m-7 4h0m-4-5h0m-18-2h0m-4 3h0m-10-4h0m-2 3h0m0-1h0m-2 1h0m-4-3h0m-95-1h0m-8 13h0m-4-10h0m-1-2h0m-6 10h0m-1-8h0m-4 9h0m-9 0h0m32 3h0m4 9h0m102 4h0m1-8h0m1-2h0m4-2h0m8 0h0m0 1h0m0 8h0m4-1h0m14-4h0m10 2h0m8 4h0m0-7h0m2 6h0m2-10h0m4 9h0m1 1h0m3 0h0m20-4h0m1 2h0m-10 16h0m-24 5h0m-2-6h0m-1 2h0m-6-10h0m-9 11h0m-5 1h0m-2 0h0m0-11h0m-7 11h0m-11 0h0m-2-7h0m-114 1h0m97 19h0m11-10h0m36 12h0m4-12h0m3 1h0m15 1h0m7 3h0m1 19h0m-3-4h0m-9-5h0m0 6h0m-3 0h0m0 1h0m-5-1h0m-1 4h0m-7-4h0m-2 8h0m-12-5h0m8 16h0m3 4h0m15-3h0m2-4h0m5 4h0m2-3h0m1 5h0m1-3h0m8 3h0m7 0h0m17 4h0m-32-2h0m-1 9h0m-23 4h0m-4 1h0m-7-10h0m-8-3h0m-8 10h0m14 12h0m5-3h0m19 0h0m1 9h0m4-4h0m4-2h0m4 6h0m1-1h0m0-1h0m2-10h0m23-1h0m6 22h0m-3-8h0m-25 11h0m-1-9h0m0 1h0m-9 4h0m-15 3h0m-3 0h0m0-2h0m0 18h0m1 2h0m0-13h0m0 3h0m5 6h0m1-1h0m0 3h0m8 0h0m13-2h0m-17 12h0m-3-2h0m-1 10h0m-16 2h0m3 0h0m16 11h0m1-5h0m7 1h0m1 5h0m3 1h0m11-2h0m2 2h0m24-12h0m3 5h0m26 11h0m-55 11h0m-5-13h0m0 0h0m-22 4h0m-11-1h0m-5 8h0m-11-12h0m-15 1h0m24 26h0m3-11h0m7 12h0m7-3h0m23-3h0m3 7h0m7-6h0m20 1h0m-17 14h0m-1-7h0m-19 4h0m-5 5h0m-11 1h0m-1-11h0m-108 16h0m69 12h0m8-9h0m2 9h0m6-13h0m5 10h0m1-7h0m20 5h0m5-6h0m1 10h0m5-2h0m5 0h0m10-2h0m-24 12h0m-2-5h0m-1 1h0m-7 6h0m-22-1h0m-6 7h0m-48-11h0m-10 12h0m-46-2h0m33 16h0m74 1h0m3-5h0m4-4h0m4-5h0m3 10h0m11 2h0m1-6h0m1 4h0m2-5h0m7 9h0m12 12h0m-2-6h0m-5-5h0m-1 11h0m-9-2h0m-5 4h0m-25-7h0m-2 6h0m-12-6h0m-34 7h0m-3-6h0m-18 7h0m-70 13h0m95 2h0m5-14h0m9 1h0m6 12h0m25-9h0m0 1h0m21 1h0m2-6h0m10 16h0m-1 2h0m-13 1h0m-66-2h0m-6 6h0m-42-4h0m-49 5h0m66 15h0m53 14h0m-18 3h0m-47 2h0m-12-6h0m-57 8h0m31 10h0m7-8h0m65 9h0m43 2h0m-11 8h0m-23 3h0m-23-9h0m-2 14h0m-19-8h0m-20 1h0m-15 6h0m-14 1h0m-3 11h0m17 2h0m9-2h0m75-1h0m10 5h0m42 7h0m-13-1h0m-24 9h0m-28-4h0m-16 1h0m-26-6h0m-28-2h0m-7 9h0m-15-3h0m-10 2h0m-1-3h0m-2 4h0m-13-4h0m-14 17h0m21-8h0m1 2h0m6 7h0m5 3h0m3-12h0m20 1h0m2 10h0m1-8h0m1-3h0m8 7h0m2 3h0m2-4h0m1-7h0m2 1h0m2 1h0m7 5h0m21 0h0m47 6h0m22 0h0m51 0h0m-60 8h0m-26-7h0m-9 14h0m-40-1h0m-6-8h0m-3 9h0m-1-7h0m0 5h0m-4 1h0m-9-6h0m-2 4h0m-7 1h0m0-5h0m-4 2h0m-6 1h0m-1 4h0m-6-2h0m-5-1h0m-3 3h0m0-11h0m-2 4h0m-1 7h0m-4-11h0m-8 6h0m0 2h0m-3-11h0m-3 8h0m-8 15h0m9 4h0m2 1h0m8 0h0m1-6h0m6-3h0m5 7h0m1-2h0m2 0h0m6-2h0m3 5h0m4 0h0m1-12h0m0 11h0m5-1h0m1-4h0m0-4h0m4 9h0m1-3h0m3-8h0m4 12h0m6-6h0m2 0h0m16 7h0m5-2h0m8-10h0m1 9h0m3-8h0m3 0h0m6 12h0m24 15h0m-54-2h0m-7-11h0m-1 3h0m-3-2h0m-1 2h0m-1 0h0m-1-1h0m-7 8h0m-1-1h0m-2-1h0m-2 0h0m-7 4h0m0-2h0m-1-4h0m0 1h0m-3 2h0m-3-6h0m0 3h0m-2 6h0m-2-12h0m-1 6h0m-1 1h0m-1 6h0m-2-7h0m-3-3h0m-1 1h0m-11-4h0m-3 6h0m-4-3h0m-8-2h0m-1 7h0m-10-9h0m-12 9h0m25 14h0m3 3h0m9 3h0m2-13h0m3 1h0m0 8h0m6 2h0m2-4h0m1 4h0m1 2h0m6-8h0m4 6h0m1-9h0m2 0h0m3 5h0m4 5h0m5-11h0m1 8h0m1 0h0m5 0h0m1-9h0m3-1h0m1 8h0m5-3h0m1 3h0m14-8h0m2 11h0m38 3h0m-3 2h0m-25 9h0m-10 0h0m-13-1h0m-2-6h0m-1 1h0m-2 8h0m-8-12h0m-4 7h0m-2-3h0m0 7h0m-2 0h0m-6-1h0m-3-1h0m0 1h0m0-1h0m-4-9h0m-3 1h0m-3 7h0m-3-1h0m-6 2h0m0-4h0m-6 7h0m0 2h0m-7-11h0m-8 5h0m-4 1h0m-8 5h0m-7-13h0m6 19h0m39-5h0m4 6h0m5 2h0m0 4h0m5-11h0m18 8h0m3-2h0m13-2h0m-10 10h0m-45 0h0m-14 6h0m-2 18h0m48 1h0m2 4h0m16-11h0m-16 12h0m47 43h0" stroke="#7f4f3f" stroke-width="1.0" opacity="0.95" vector-effect="non-scaling-stroke" stroke-linecap="round" fill="none"/>
<line x1="35.7" y1="430.4" x2="35.7" y2="562.3" stroke="#8c8c8c" stroke-width="0.9"/>
<line x1="35.7" y1="562.3" x2="169.5" y2="562.3" stroke="#8c8c8c" stroke-width="0.9"/>
<line x1="50.2" y1="562.3" x2="50.2" y2="565.1" stroke="#8c8c8c" stroke-width="0.7"/>
<text x="50.2" y="574.2" font-size="7.6" text-anchor="middle" fill="#3a3a3a" font-weight="normal" >−10</text>
<line x1="79.2" y1="562.3" x2="79.2" y2="565.1" stroke="#8c8c8c" stroke-width="0.7"/>
<text x="79.2" y="574.2" font-size="7.6" text-anchor="middle" fill="#3a3a3a" font-weight="normal" >−5</text>
<line x1="108.2" y1="562.3" x2="108.2" y2="565.1" stroke="#8c8c8c" stroke-width="0.7"/>
<text x="108.2" y="574.2" font-size="7.6" text-anchor="middle" fill="#3a3a3a" font-weight="normal" >0</text>
<line x1="137.2" y1="562.3" x2="137.2" y2="565.1" stroke="#8c8c8c" stroke-width="0.7"/>
<text x="137.2" y="574.2" font-size="7.6" text-anchor="middle" fill="#3a3a3a" font-weight="normal" >5</text>
<line x1="166.2" y1="562.3" x2="166.2" y2="565.1" stroke="#8c8c8c" stroke-width="0.7"/>
<text x="166.2" y="574.2" font-size="7.6" text-anchor="middle" fill="#3a3a3a" font-weight="normal" >10</text>
<line x1="32.9" y1="461.0" x2="35.7" y2="461.0" stroke="#8c8c8c" stroke-width="0.7"/>
<text x="29.5" y="463.6" font-size="7.6" text-anchor="end" fill="#3a3a3a" font-weight="normal" >4</text>
<line x1="32.9" y1="495.2" x2="35.7" y2="495.2" stroke="#8c8c8c" stroke-width="0.7"/>
<text x="29.5" y="497.8" font-size="7.6" text-anchor="end" fill="#3a3a3a" font-weight="normal" >0</text>
<line x1="32.9" y1="529.4" x2="35.7" y2="529.4" stroke="#8c8c8c" stroke-width="0.7"/>
<text x="29.5" y="532.0" font-size="7.6" text-anchor="end" fill="#3a3a3a" font-weight="normal" >−4</text>
<text x="102.5" y="588.5" font-size="8.8" text-anchor="middle" fill="#3a3a3a" font-weight="normal" textLength="30.2" lengthAdjust="spacingAndGlyphs" >UMAP_1</text>
<text transform="translate(13.8,496.5) rotate(-90)" font-size="8.8" text-anchor="middle" fill="#3a3a3a" textLength="31.4" lengthAdjust="spacingAndGlyphs">UMAP_2</text>
<text x="180" y="510.2" font-size="8.26" text-anchor="start" fill="#3a3a3a" font-weight="normal" textLength="79" lengthAdjust="spacingAndGlyphs" >Amino acid sequence</text>
<circle cx="156.1" cy="516.6" r="2" fill="#e0253a"/>
<text x="162" y="518.8" font-size="6.35" text-anchor="start" fill="#3a3a3a" font-weight="normal" >CAAAYNFNKFYF_CASSQDISASRTDTQYF</text>
<circle cx="156.1" cy="525.0" r="2" fill="#1f78c8"/>
<text x="162" y="527.2" font-size="6.35" text-anchor="start" fill="#3a3a3a" font-weight="normal" >CAPRLSSGSARQLTF_CASSRERHNEQFF</text>
<circle cx="156.1" cy="533.4" r="2" fill="#f28a2e"/>
<text x="162" y="535.6" font-size="6.35" text-anchor="start" fill="#3a3a3a" font-weight="normal" >CADYGGATNKLIF_CASSSGRRNYEQYF</text>
<circle cx="156.1" cy="541.3" r="2" fill="#22a04a"/>
<text x="162" y="543.5" font-size="6.35" text-anchor="start" fill="#3a3a3a" font-weight="normal" >CVVNMEDDMRF_CASGDRNSMEQYF</text>
<circle cx="156.1" cy="548.8" r="2" fill="#8a5cb8"/>
<text x="162" y="551.0" font-size="6.35" text-anchor="start" fill="#3a3a3a" font-weight="normal" >CVVNRDNDMRF_CASSDLDTGELFF</text>
<circle cx="156.1" cy="557.3" r="2" fill="#7f4f3f"/>
<text x="162" y="559.5" font-size="6.35" text-anchor="start" fill="#3a3a3a" font-weight="normal" >CAVPNSGGGADGLTF_CASSWGGGHQNEAFF</text>
<text x="306.7" y="424.7" font-size="13" text-anchor="start" fill="#111" font-weight="bold" stroke="#111" stroke-width="0.4">f</text>
<line x1="353.2" y1="426.8" x2="353.2" y2="555.2" stroke="#8c8c8c" stroke-width="0.8"/>
<line x1="353.2" y1="555.2" x2="484.2" y2="555.2" stroke="#8c8c8c" stroke-width="0.8"/>
<line x1="350.6" y1="551.5" x2="353.2" y2="551.5" stroke="#8c8c8c" stroke-width="0.7"/>
<text x="347.2" y="554.1" font-size="7.6" text-anchor="end" fill="#3a3a3a" font-weight="normal" >0</text>
<line x1="350.6" y1="525.3" x2="353.2" y2="525.3" stroke="#8c8c8c" stroke-width="0.7"/>
<text x="347.2" y="527.9" font-size="7.6" text-anchor="end" fill="#3a3a3a" font-weight="normal" >0.05</text>
<line x1="350.6" y1="499.1" x2="353.2" y2="499.1" stroke="#8c8c8c" stroke-width="0.7"/>
<text x="347.2" y="501.7" font-size="7.6" text-anchor="end" fill="#3a3a3a" font-weight="normal" >0.10</text>
<line x1="350.6" y1="472.9" x2="353.2" y2="472.9" stroke="#8c8c8c" stroke-width="0.7"/>
<text x="347.2" y="475.5" font-size="7.6" text-anchor="end" fill="#3a3a3a" font-weight="normal" >0.15</text>
<line x1="350.6" y1="446.7" x2="353.2" y2="446.7" stroke="#8c8c8c" stroke-width="0.7"/>
<text x="347.2" y="449.3" font-size="7.6" text-anchor="end" fill="#3a3a3a" font-weight="normal" >0.20</text>
<line x1="365.9" y1="555.2" x2="365.9" y2="557.9" stroke="#8c8c8c" stroke-width="0.7"/>
<line x1="386.6" y1="555.2" x2="386.6" y2="557.9" stroke="#8c8c8c" stroke-width="0.7"/>
<line x1="407.2" y1="555.2" x2="407.2" y2="557.9" stroke="#8c8c8c" stroke-width="0.7"/>
<line x1="428.8" y1="555.2" x2="428.8" y2="557.9" stroke="#8c8c8c" stroke-width="0.7"/>
<line x1="450.0" y1="555.2" x2="450.0" y2="557.9" stroke="#8c8c8c" stroke-width="0.7"/>
<line x1="471.2" y1="555.2" x2="471.2" y2="557.9" stroke="#8c8c8c" stroke-width="0.7"/>
<path d="M365.9 446.7V478.14M365.9 527.92V544.16" stroke="#555" stroke-width="0.7" fill="none"/>
<rect x="357.65" y="478.14" width="16.5" height="49.78" fill="none" stroke="#555" stroke-width="0.7"/>
<line x1="357.65" y1="501.72" x2="374.15" y2="501.72" stroke="#444" stroke-width="1.1"/>
<path transform="scale(.1)" d="M3624 4467h0m-33 183h0m98 126h0m-5 32h0m-37 188h0m33 58h0m-30 136h0m20 126h0m-5 10h0m-23 116h0" stroke="#222" stroke-width="1.3" opacity="1" vector-effect="non-scaling-stroke" stroke-linecap="round" fill="none"/>
<path d="M386.6 432.55V486.0M386.6 527.92V541.54" stroke="#555" stroke-width="0.7" fill="none"/>
<rect x="378.35" y="486.0" width="16.5" height="41.92" fill="none" stroke="#555" stroke-width="0.7"/>
<line x1="378.35" y1="511.15" x2="394.85" y2="511.15" stroke="#444" stroke-width="1.1"/>
<path transform="scale(.1)" d="M3876 4326h0m2 393h0m25 125h0m-63 84h0m72 115h0m16 158h0m-48 78h0m-1 11h0m-22 104h0m23 21h0" stroke="#222" stroke-width="1.3" opacity="1" vector-effect="non-scaling-stroke" stroke-linecap="round" fill="none"/>
<path d="M407.2 542.59V543.12M407.2 544.43V544.69" stroke="#555" stroke-width="0.7" fill="none"/>
<rect x="398.95" y="543.12" width="16.5" height="1.31" fill="none" stroke="#555" stroke-width="0.7"/>
<line x1="398.95" y1="543.64" x2="415.45" y2="543.64" stroke="#444" stroke-width="1.1"/>
<path transform="scale(.1)" d="M4013 5253h0m3 189h0m72-11h0m41 5h0m9 0h0m3 11h0m-94 5h0m30 47h0" stroke="#222" stroke-width="1.3" opacity="1" vector-effect="non-scaling-stroke" stroke-linecap="round" fill="none"/>
<path d="M428.8 525.3V533.68M428.8 545.21V549.93" stroke="#555" stroke-width="0.7" fill="none"/>
<rect x="420.55" y="533.68" width="16.5" height="11.53" fill="none" stroke="#555" stroke-width="0.7"/>
<line x1="420.55" y1="541.54" x2="437.05" y2="541.54" stroke="#444" stroke-width="1.1"/>
<path transform="scale(.1)" d="M4315 5258h0m-14 21h0m-20 53h0m-21 52h0m19 42h0m62 26h0m-89 21h0m66 26h0" stroke="#222" stroke-width="1.3" opacity="1" vector-effect="non-scaling-stroke" stroke-linecap="round" fill="none"/>
<path d="M450.0 541.02V543.12M450.0 549.4V549.93" stroke="#555" stroke-width="0.7" fill="none"/>
<rect x="441.75" y="543.12" width="16.5" height="6.28" fill="none" stroke="#555" stroke-width="0.7"/>
<line x1="441.75" y1="546.78" x2="458.25" y2="546.78" stroke="#444" stroke-width="1.1"/>
<path transform="scale(.1)" d="M4485 5305h0m0 110h0m48 16h0m-60 21h0m61 16h0m-44 21h0m-19 10h0m78-5h0" stroke="#222" stroke-width="1.3" opacity="1" vector-effect="non-scaling-stroke" stroke-linecap="round" fill="none"/>
<path d="M471.2 545.21V545.74M471.2 549.93V550.45" stroke="#555" stroke-width="0.7" fill="none"/>
<rect x="462.95" y="545.74" width="16.5" height="4.19" fill="none" stroke="#555" stroke-width="0.7"/>
<line x1="462.95" y1="548.88" x2="479.45" y2="548.88" stroke="#444" stroke-width="1.1"/>
<path transform="scale(.1)" d="M4750 5384h0m-7 42h0m-82 26h0m68 37h0m-78 10h0m27-5h0m54 11h0" stroke="#222" stroke-width="1.3" opacity="1" vector-effect="non-scaling-stroke" stroke-linecap="round" fill="none"/>
<text transform="translate(369.1,569.5) rotate(-45)" font-size="9.0" text-anchor="end" fill="#3a3a3a">Antigen</text>
<text transform="translate(389.8,569.5) rotate(-45)" font-size="9.0" text-anchor="end" fill="#3a3a3a">Antigen_prolif</text>
<text transform="translate(410.4,569.5) rotate(-45)" font-size="9.0" text-anchor="end" fill="#3a3a3a">CD8 naive</text>
<text transform="translate(432.0,569.5) rotate(-45)" font-size="9.0" text-anchor="end" fill="#3a3a3a">CD8 T<tspan font-size="5.4" dy="1">CM</tspan></text>
<text transform="translate(453.2,569.5) rotate(-45)" font-size="9.0" text-anchor="end" fill="#3a3a3a">CD8 T<tspan font-size="5.4" dy="1">EM</tspan></text>
<text transform="translate(474.4,569.5) rotate(-45)" font-size="9.0" text-anchor="end" fill="#3a3a3a">Bystander</text>
<text transform="translate(315.0,491.2) rotate(-90)" font-size="9.0" text-anchor="middle" fill="#3a3a3a" textLength="103" lengthAdjust="spacingAndGlyphs">Fraction of cells matching</text>
<text transform="translate(325.5,491.2) rotate(-90)" font-size="9.0" text-anchor="middle" fill="#3a3a3a" textLength="65" lengthAdjust="spacingAndGlyphs">puclic spike TCR</text>
<text x="508.4" y="424.2" font-size="13" text-anchor="start" fill="#111" font-weight="bold" stroke="#111" stroke-width="0.4">g</text>
<line x1="543.6" y1="426.0" x2="543.6" y2="554.8" stroke="#8c8c8c" stroke-width="0.8"/>
<line x1="543.6" y1="554.8" x2="677.1" y2="554.8" stroke="#8c8c8c" stroke-width="0.8"/>
<line x1="541.0" y1="536.5" x2="543.6" y2="536.5" stroke="#8c8c8c" stroke-width="0.7"/>
<text x="537.8" y="539.1" font-size="7.6" text-anchor="end" fill="#3a3a3a" font-weight="normal" >−0.2</text>
<line x1="541.0" y1="509.3" x2="543.6" y2="509.3" stroke="#8c8c8c" stroke-width="0.7"/>
<text x="537.8" y="511.9" font-size="7.6" text-anchor="end" fill="#3a3a3a" font-weight="normal" >0</text>
<line x1="541.0" y1="482.1" x2="543.6" y2="482.1" stroke="#8c8c8c" stroke-width="0.7"/>
<text x="537.8" y="484.7" font-size="7.6" text-anchor="end" fill="#3a3a3a" font-weight="normal" >0.2</text>
<line x1="541.0" y1="454.9" x2="543.6" y2="454.9" stroke="#8c8c8c" stroke-width="0.7"/>
<text x="537.8" y="457.5" font-size="7.6" text-anchor="end" fill="#3a3a3a" font-weight="normal" >0.4</text>
<line x1="541.0" y1="427.7" x2="543.6" y2="427.7" stroke="#8c8c8c" stroke-width="0.7"/>
<text x="537.8" y="430.3" font-size="7.6" text-anchor="end" fill="#3a3a3a" font-weight="normal" >0.6</text>
<line x1="559.2" y1="554.8" x2="559.2" y2="557.5" stroke="#8c8c8c" stroke-width="0.7"/>
<line x1="584.8" y1="554.8" x2="584.8" y2="557.5" stroke="#8c8c8c" stroke-width="0.7"/>
<line x1="610.5" y1="554.8" x2="610.5" y2="557.5" stroke="#8c8c8c" stroke-width="0.7"/>
<line x1="636.3" y1="554.8" x2="636.3" y2="557.5" stroke="#8c8c8c" stroke-width="0.7"/>
<line x1="662.1" y1="554.8" x2="662.1" y2="557.5" stroke="#8c8c8c" stroke-width="0.7"/>
<path d="M559.2 437.22V455.58M559.2 467.82V483.46" stroke="#666" stroke-width="0.75" fill="none"/>
<rect x="549.4" y="455.58" width="19.6" height="12.24" fill="none" stroke="#666" stroke-width="0.75"/>
<line x1="549.4" y1="461.7" x2="569.0" y2="461.7" stroke="#444" stroke-width="1.2"/>
<path d="M584.8 435.18V457.21M584.8 472.58V526.98" stroke="#666" stroke-width="0.75" fill="none"/>
<rect x="575.0" y="457.21" width="19.6" height="15.37" fill="none" stroke="#666" stroke-width="0.75"/>
<line x1="575.0" y1="463.74" x2="594.6" y2="463.74" stroke="#444" stroke-width="1.2"/>
<path d="M610.5 433.82V459.66M610.5 478.29V529.7" stroke="#666" stroke-width="0.75" fill="none"/>
<rect x="600.7" y="459.66" width="19.6" height="18.63" fill="none" stroke="#666" stroke-width="0.75"/>
<line x1="600.7" y1="467.55" x2="620.3" y2="467.55" stroke="#444" stroke-width="1.2"/>
<path d="M636.3 434.5V461.7M636.3 487.95V528.34" stroke="#666" stroke-width="0.75" fill="none"/>
<rect x="626.5" y="461.7" width="19.6" height="26.25" fill="none" stroke="#666" stroke-width="0.75"/>
<line x1="626.5" y1="471.63" x2="646.1" y2="471.63" stroke="#444" stroke-width="1.2"/>
<path d="M662.1 434.5V465.51M662.1 492.98V528.34" stroke="#666" stroke-width="0.75" fill="none"/>
<rect x="652.3" y="465.51" width="19.6" height="27.47" fill="none" stroke="#666" stroke-width="0.75"/>
<line x1="652.3" y1="477.2" x2="671.9" y2="477.2" stroke="#444" stroke-width="1.2"/>
<path transform="scale(.1)" d="M5592 4869h0m0-5h0m0-1h0m0-2h0m0 21h0m0 6h0m0-3h0m0-5h0m0 4h0m0 10h0m0 5h0m0-9h0m0 40h0m0 13h0m0 3h0m0 12h0m0 8h0m0 6h0m0 1h0m0 31h0m0-7h0m0 7h0m0 18h0m0-4h0m0-7h0m0 14h0m0 2h0m0 10h0m0-9h0m0 3h0" stroke="#999" stroke-width="0.6" opacity="0.5" vector-effect="non-scaling-stroke" stroke-linecap="round" fill="none"/>
<path transform="scale(.1)" d="M5848 4995h0m0 7h0m0-6h0m0 38h0m0-7h0m0 27h0m0-9h0m0 28h0m0 16h0m0 19h0m0 21h0m0 7h0m0-6h0m0 19h0m0 22h0m0-5h0m0 0h0m0 23h0m0-13h0m0 12h0m0 6h0m0 6h0m0 6h0m0 18h0m0 2h0m0 11h0m0 1h0m0 19h0m0 13h0m0 4h0" stroke="#999" stroke-width="0.6" opacity="0.5" vector-effect="non-scaling-stroke" stroke-linecap="round" fill="none"/>
<path transform="scale(.1)" d="M6105 5236h0m0 21h0m0 1h0m0 9h0m0 15h0m0 2h0m0 2h0m0 17h0m0-8h0m0 1h0m0 9h0m0 4h0m0-4h0m0 0h0m0 17h0m0 0h0m0-7h0m0 20h0m0 14h0m0 18h0m0 7h0m0 9h0m0-6h0m0 15h0m0 4h0m0-5h0m0 1h0m0-5h0m0 15h0m0 0h0" stroke="#999" stroke-width="0.6" opacity="0.5" vector-effect="non-scaling-stroke" stroke-linecap="round" fill="none"/>
<path transform="scale(.1)" d="M6363 5257h0m0 13h0m0-1h0m0-4h0m0 17h0m0 2h0m0 16h0m0-2h0m0 35h0m0 5h0m0-12h0m0 16h0m0 30h0m0 9h0m0-4h0m0 20h0m0-9h0m0 1h0m0 11h0m0 6h0m0 21h0m0-10h0m0 8h0m0 2h0m0 5h0m0 26h0m0 1h0m0 25h0m0-3h0m0 13h0" stroke="#999" stroke-width="0.6" opacity="0.5" vector-effect="non-scaling-stroke" stroke-linecap="round" fill="none"/>
<path transform="scale(.1)" d="M6621 5339h0m0 20h0m0 10h0m0-13h0m0 10h0m0-7h0m0 5h0m0 11h0m0 22h0m0-3h0m0 0h0m0 34h0m0-12h0m0 21h0m0 6h0m0 16h0m0-10h0m0 4h0m0 17h0m0-5h0m0-4h0m0 0h0m0 27h0m0-3h0m0 7h0m0 0h0m0 7h0m0-5h0m0 5h0m0-3h0" stroke="#999" stroke-width="0.6" opacity="0.5" vector-effect="non-scaling-stroke" stroke-linecap="round" fill="none"/>
<text transform="translate(562.4,569.3) rotate(-45)" font-size="9.0" text-anchor="end" fill="#3a3a3a">Hyper</text>
<text transform="translate(588.0,569.3) rotate(-45)" font-size="9.0" text-anchor="end" fill="#3a3a3a">Large</text>
<text transform="translate(613.7,569.3) rotate(-45)" font-size="9.0" text-anchor="end" fill="#3a3a3a">Medium</text>
<text transform="translate(639.5,569.3) rotate(-45)" font-size="9.0" text-anchor="end" fill="#3a3a3a">Small</text>
<text transform="translate(665.3,569.3) rotate(-45)" font-size="9.0" text-anchor="end" fill="#3a3a3a">Rare</text>
<text transform="translate(516.0,490.4) rotate(-90)" font-size="9.0" text-anchor="middle" fill="#3a3a3a" textLength="122" lengthAdjust="spacingAndGlyphs">Vaccine-induced gene module</text></svg></body></html>
